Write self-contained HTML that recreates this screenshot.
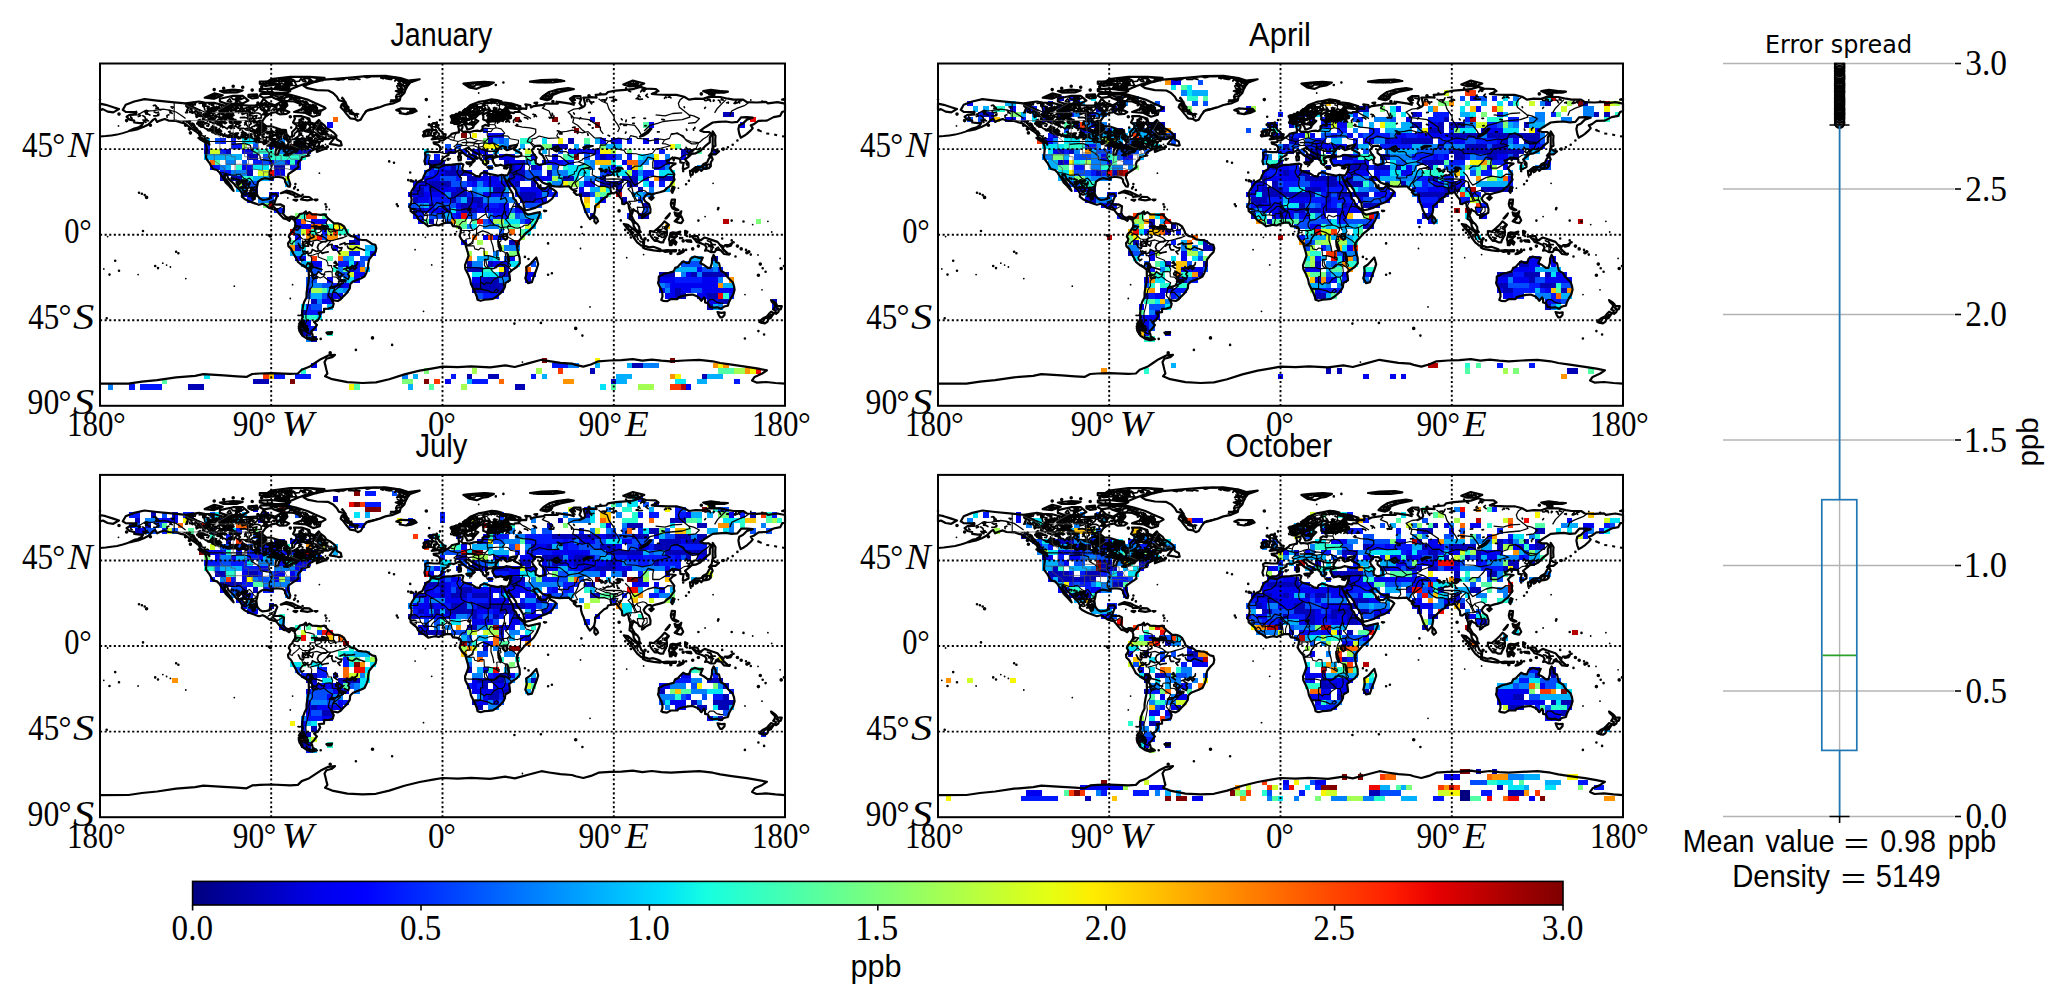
<!DOCTYPE html>
<html lang="en"><head><meta charset="utf-8"><title>Error spread maps</title>
<style>
html,body{margin:0;padding:0;background:#fff}
svg{display:block}
.se{font-family:"Liberation Serif","DejaVu Serif",serif;fill:#000}
.it{font-style:italic}
.sa{font-family:"Liberation Sans","DejaVu Sans",sans-serif;fill:#000}
.dv{font-family:"DejaVu Sans","Liberation Sans",sans-serif;fill:#000}
.fr{fill:none;stroke:#000;stroke-width:2}
.gl{fill:none;stroke:#000;stroke-width:1.9;stroke-dasharray:2.1 2.5}
.co{fill:none;stroke:#000;stroke-width:2.2;stroke-linejoin:round;stroke-linecap:round}
.rv{fill:none;stroke:#000;stroke-width:1.3;stroke-linejoin:round}
.bo{fill:none;stroke:#000;stroke-width:1.1;stroke-linejoin:round}
.tx{fill:none;stroke:#000;stroke-width:1.7;stroke-linejoin:round;stroke-linecap:round}
.i1,.i2,.i3{fill:none;stroke:#000;stroke-linecap:round;stroke-width:1.8}.i2{stroke-width:2.6}.i3{stroke-width:3.6}
.al{fill:none;stroke:#000;stroke-width:2}
.st{fill:none;stroke:#555;stroke-width:0.7}
.bg{stroke:#b4b4b4;stroke-width:1.4;fill:none}
</style></head><body>
<svg width="2068" height="1008" viewBox="0 0 2068 1008">
<rect width="2068" height="1008" fill="#fff"/>
<g id="map-jan">
<g shape-rendering="crispEdges"><path fill="#0000b6" d="M723 112h11v5h-11zM488 138h5v6h-5zM568 138h6v6h-6zM654 138h5v6h-5zM552 144h16v5h-16zM204 149h6v5h-6zM226 149h5v5h-5zM295 149h16v5h-16zM445 149h6v5h-6zM681 149h5v5h-5zM713 149h5v5h-5zM247 154h11v6h-11zM483 154h5v6h-5zM600 154h6v6h-6zM429 160h16v5h-16zM504 160h5v5h-5zM520 160h5v5h-5zM274 165h11v5h-11zM429 165h5v5h-5zM451 165h5v5h-5zM509 165h6v5h-6zM531 165h5v5h-5zM247 170h6v6h-6zM445 170h22v6h-22zM483 170h5v6h-5zM509 170h16v6h-16zM547 170h5v6h-5zM220 176h6v5h-6zM231 176h11v5h-11zM467 176h10v5h-10zM509 176h6v5h-6zM520 176h5v5h-5zM563 176h11v5h-11zM622 176h16v5h-16zM659 176h16v5h-16zM429 181h22v6h-22zM515 181h5v6h-5zM531 181h5v6h-5zM600 181h22v6h-22zM627 181h11v6h-11zM413 187h11v5h-11zM429 187h11v5h-11zM456 187h11v5h-11zM493 187h11v5h-11zM638 187h5v5h-5zM242 192h11v5h-11zM418 192h6v5h-6zM451 192h16v5h-16zM520 192h16v5h-16zM579 192h11v5h-11zM413 197h5v6h-5zM451 197h5v6h-5zM467 197h16v6h-16zM520 197h16v6h-16zM622 197h5v6h-5zM461 203h11v5h-11zM477 203h6v5h-6zM515 203h5v5h-5zM643 203h6v5h-6zM413 208h11v5h-11zM461 208h16v5h-16zM590 213h5v6h-5zM638 213h11v6h-11zM429 219h5v5h-5zM349 240h11v5h-11zM509 240h6v5h-6zM295 245h6v6h-6zM713 256h5v5h-5zM467 261h5v6h-5zM488 261h5v6h-5zM349 267h5v5h-5zM467 267h16v5h-16zM504 267h5v5h-5zM499 272h10v5h-10zM659 272h16v5h-16zM691 272h6v5h-6zM702 272h27v5h-27zM483 277h16v6h-16zM338 283h5v5h-5zM472 283h32v5h-32zM472 288h32v5h-32zM675 288h6v5h-6zM327 293h6v6h-6zM675 293h11v6h-11zM707 293h11v6h-11zM311 299h6v5h-6zM718 299h11v5h-11zM772 299h5v5h-5zM707 304h6v6h-6zM301 310h5v5h-5zM301 331h10v5h-10zM311 336h6v6h-6zM632 363h11v5h-11zM590 368h5v6h-5zM467 374h5v5h-5zM488 374h11v5h-11zM702 374h5v5h-5zM253 379h16v5h-16zM611 379h5v5h-5zM188 384h16v6h-16zM515 384h10v6h-10z"/><path fill="#0000f1" d="M590 117h5v5h-5zM327 122h6v6h-6zM649 122h5v6h-5zM740 122h5v6h-5zM488 133h16v5h-16zM600 138h6v6h-6zM611 138h11v6h-11zM643 138h6v6h-6zM269 144h5v5h-5zM242 149h11v5h-11zM451 149h5v5h-5zM472 149h16v5h-16zM568 149h32v5h-32zM499 154h16v6h-16zM531 154h5v6h-5zM552 154h6v6h-6zM606 154h10v6h-10zM681 154h5v6h-5zM269 160h5v5h-5zM285 160h5v5h-5zM295 160h6v5h-6zM509 160h11v5h-11zM542 160h21v5h-21zM622 160h5v5h-5zM654 160h16v5h-16zM210 165h5v5h-5zM242 165h11v5h-11zM440 165h5v5h-5zM515 165h10v5h-10zM536 165h6v5h-6zM611 165h5v5h-5zM627 165h5v5h-5zM654 165h5v5h-5zM274 170h11v6h-11zM434 170h11v6h-11zM467 170h5v6h-5zM606 170h5v6h-5zM632 170h6v6h-6zM424 176h16v5h-16zM477 176h22v5h-22zM515 176h5v5h-5zM536 176h16v5h-16zM600 176h6v5h-6zM643 176h6v5h-6zM242 181h5v6h-5zM413 181h16v6h-16zM472 181h5v6h-5zM488 181h27v6h-27zM584 181h11v6h-11zM440 187h16v5h-16zM520 187h22v5h-22zM579 187h5v5h-5zM616 187h6v5h-6zM269 192h10v5h-10zM408 192h10v5h-10zM424 192h21v5h-21zM483 192h21v5h-21zM536 192h6v5h-6zM418 197h11v6h-11zM536 197h11v6h-11zM600 197h6v6h-6zM429 203h5v5h-5zM456 203h5v5h-5zM472 203h5v5h-5zM499 203h10v5h-10zM424 208h27v5h-27zM477 208h32v5h-32zM515 208h10v5h-10zM456 213h5v6h-5zM295 219h6v5h-6zM311 219h16v5h-16zM418 219h6v5h-6zM525 219h6v5h-6zM295 224h16v5h-16zM295 235h6v5h-6zM483 235h5v5h-5zM461 240h6v5h-6zM333 245h5v6h-5zM370 251h6v5h-6zM295 256h11v5h-11zM509 256h6v5h-6zM311 261h11v6h-11zM354 261h6v6h-6zM493 261h16v6h-16zM697 267h5v5h-5zM354 272h11v5h-11zM525 272h11v5h-11zM686 272h5v5h-5zM327 277h6v6h-6zM354 277h6v6h-6zM472 277h11v6h-11zM525 277h6v6h-6zM659 277h16v6h-16zM702 277h16v6h-16zM343 283h6v5h-6zM670 283h48v5h-48zM306 288h5v5h-5zM659 288h6v5h-6zM670 288h5v5h-5zM681 288h10v5h-10zM702 288h32v5h-32zM333 293h10v6h-10zM665 293h10v6h-10zM697 293h10v6h-10zM322 299h11v5h-11zM707 299h11v5h-11zM301 320h10v6h-10zM311 363h6v5h-6zM445 379h6v5h-6zM686 384h5v6h-5z"/><path fill="#0018ff" d="M483 128h5v5h-5zM220 138h6v6h-6zM231 138h5v6h-5zM627 138h5v6h-5zM204 144h6v5h-6zM231 144h11v5h-11zM279 144h6v5h-6zM220 149h6v5h-6zM461 149h6v5h-6zM659 149h6v5h-6zM686 149h5v5h-5zM434 154h6v6h-6zM467 154h10v6h-10zM488 154h5v6h-5zM595 154h5v6h-5zM627 154h5v6h-5zM253 160h10v5h-10zM424 160h5v5h-5zM563 160h11v5h-11zM215 165h5v5h-5zM290 165h11v5h-11zM445 165h6v5h-6zM659 165h6v5h-6zM220 170h11v6h-11zM429 170h5v6h-5zM643 170h11v6h-11zM456 176h5v5h-5zM467 181h5v6h-5zM483 181h5v6h-5zM649 181h5v6h-5zM659 181h6v6h-6zM253 187h5v5h-5zM424 187h5v5h-5zM542 187h10v5h-10zM253 192h5v5h-5zM467 192h5v5h-5zM515 192h5v5h-5zM547 192h11v5h-11zM247 197h6v6h-6zM429 197h22v6h-22zM483 203h16v5h-16zM274 208h11v5h-11zM456 208h5v5h-5zM413 213h11v6h-11zM451 213h5v6h-5zM493 213h16v6h-16zM627 213h5v6h-5zM488 219h5v5h-5zM322 229h5v6h-5zM354 235h6v5h-6zM493 235h11v5h-11zM349 251h11v5h-11zM338 261h11v6h-11zM354 267h6v5h-6zM718 267h5v5h-5zM675 277h27v6h-27zM333 283h5v5h-5zM483 293h16v6h-16zM729 293h5v6h-5zM306 304h5v6h-5zM772 304h5v6h-5zM306 310h16v5h-16zM306 326h11v5h-11zM552 363h16v5h-16zM274 374h11v5h-11zM295 374h16v5h-16zM451 374h5v5h-5zM531 374h5v5h-5zM472 379h16v5h-16zM734 379h6v5h-6zM129 384h6v6h-6zM140 384h22v6h-22z"/><path fill="#004cff" d="M215 138h5v6h-5zM499 138h5v6h-5zM253 144h5v5h-5zM445 144h6v5h-6zM456 144h5v5h-5zM558 149h5v5h-5zM263 154h6v6h-6zM424 154h5v6h-5zM584 154h6v6h-6zM616 154h6v6h-6zM242 160h5v5h-5zM263 160h6v5h-6zM525 160h6v5h-6zM456 165h5v5h-5zM488 165h5v5h-5zM552 165h6v5h-6zM424 170h5v6h-5zM525 170h17v6h-17zM600 170h6v6h-6zM269 176h5v5h-5zM440 176h16v5h-16zM499 176h5v5h-5zM525 176h11v5h-11zM247 181h11v6h-11zM451 181h16v6h-16zM515 187h5v5h-5zM472 192h5v5h-5zM504 192h5v5h-5zM590 192h5v5h-5zM269 197h5v6h-5zM456 197h5v6h-5zM638 197h5v6h-5zM408 203h10v5h-10zM434 203h22v5h-22zM525 203h17v5h-17zM509 208h6v5h-6zM584 208h6v5h-6zM643 208h6v5h-6zM429 213h16v6h-16zM467 213h10v6h-10zM515 213h5v6h-5zM445 219h6v5h-6zM483 219h5v5h-5zM520 219h5v5h-5zM499 229h5v6h-5zM322 235h5v5h-5zM360 256h10v5h-10zM504 256h5v5h-5zM360 261h5v6h-5zM531 261h5v6h-5zM681 261h21v6h-21zM306 267h16v5h-16zM702 267h11v5h-11zM311 272h6v5h-6zM338 272h11v5h-11zM306 277h11v6h-11zM306 283h5v5h-5zM322 283h11v5h-11zM665 283h5v5h-5zM691 288h11v5h-11zM306 293h5v6h-5zM322 293h5v6h-5zM477 293h6v6h-6zM311 304h11v6h-11zM301 326h5v5h-5z"/><path fill="#0080ff" d="M253 138h5v6h-5zM279 138h6v6h-6zM295 138h11v6h-11zM493 138h6v6h-6zM504 138h5v6h-5zM504 144h5v5h-5zM584 144h6v5h-6zM279 149h16v5h-16zM665 154h5v6h-5zM226 160h10v5h-10zM274 160h11v5h-11zM590 160h5v5h-5zM638 160h11v5h-11zM220 165h6v5h-6zM434 165h6v5h-6zM590 165h5v5h-5zM665 165h5v5h-5zM697 165h10v5h-10zM231 170h16v6h-16zM552 170h16v6h-16zM638 170h5v6h-5zM504 176h5v5h-5zM584 176h16v5h-16zM477 181h6v6h-6zM552 181h11v6h-11zM242 187h5v5h-5zM472 187h5v5h-5zM649 187h5v5h-5zM445 192h6v5h-6zM477 192h6v5h-6zM542 192h5v5h-5zM643 192h11v5h-11zM258 197h11v6h-11zM483 197h32v6h-32zM418 203h6v5h-6zM488 213h5v6h-5zM520 213h5v6h-5zM467 224h5v5h-5zM483 224h16v5h-16zM295 229h6v6h-6zM295 240h6v5h-6zM504 245h16v6h-16zM493 251h6v5h-6zM343 256h6v5h-6zM472 261h11v6h-11zM338 267h5v5h-5zM713 267h5v5h-5zM681 272h5v5h-5zM697 272h5v5h-5zM499 277h10v6h-10zM718 277h5v6h-5zM311 283h11v5h-11zM659 283h6v5h-6zM343 288h6v5h-6zM665 288h5v5h-5zM317 299h5v5h-5zM718 304h5v6h-5zM306 336h5v6h-5zM568 363h11v5h-11zM643 363h16v5h-16zM402 374h6v5h-6zM108 384h5v6h-5z"/><path fill="#00b0ff" d="M204 138h6v6h-6zM595 138h5v6h-5zM499 144h5v5h-5zM520 144h5v5h-5zM574 144h5v5h-5zM606 144h16v5h-16zM493 149h6v5h-6zM515 149h5v5h-5zM542 149h5v5h-5zM204 154h38v6h-38zM643 154h11v6h-11zM584 160h6v5h-6zM226 165h5v5h-5zM600 165h11v5h-11zM253 176h16v5h-16zM285 181h5v6h-5zM579 181h5v6h-5zM236 187h6v5h-6zM477 187h16v5h-16zM504 187h5v5h-5zM590 187h10v5h-10zM665 187h5v5h-5zM632 192h11v5h-11zM461 197h6v6h-6zM424 203h5v5h-5zM445 213h6v6h-6zM525 213h17v6h-17zM531 224h5v5h-5zM365 245h11v6h-11zM290 251h16v5h-16zM349 256h5v5h-5zM477 256h16v5h-16zM691 256h11v5h-11zM301 261h5v6h-5zM713 261h5v6h-5zM365 267h5v5h-5zM675 267h22v5h-22zM343 277h6v6h-6zM723 283h11v5h-11zM327 288h16v5h-16zM311 293h11v6h-11zM327 304h6v6h-6zM713 304h5v6h-5zM595 363h5v5h-5zM627 363h5v5h-5zM413 374h5v5h-5zM542 374h5v5h-5zM616 374h16v5h-16zM707 374h16v5h-16zM467 379h5v5h-5zM616 379h11v5h-11zM697 379h10v5h-10zM408 384h5v6h-5z"/><path fill="#00e4f8" d="M242 138h11v6h-11zM542 138h5v6h-5zM424 149h5v5h-5zM638 154h5v6h-5zM253 165h16v5h-16zM568 165h16v5h-16zM616 165h6v5h-6zM568 170h22v6h-22zM611 170h16v6h-16zM659 170h16v6h-16zM558 176h5v5h-5zM574 176h5v5h-5zM638 176h5v5h-5zM643 181h6v6h-6zM606 187h5v5h-5zM595 197h5v6h-5zM451 208h5v5h-5zM504 219h16v5h-16zM472 224h5v5h-5zM525 229h6v6h-6zM301 245h5v6h-5zM365 251h5v5h-5zM493 256h6v5h-6zM306 261h5v6h-5zM349 261h5v6h-5zM509 261h11v6h-11zM472 272h27v5h-27zM349 277h5v6h-5zM301 304h5v6h-5zM317 315h5v5h-5zM204 374h6v5h-6zM675 379h11v5h-11zM600 384h6v6h-6z"/><path fill="#29ffce" d="M520 138h11v6h-11zM253 149h21v5h-21zM269 154h37v6h-37zM568 154h6v6h-6zM290 160h5v5h-5zM531 160h5v5h-5zM611 160h5v5h-5zM236 165h6v5h-6zM563 165h5v5h-5zM638 165h5v5h-5zM242 176h11v5h-11zM547 181h5v6h-5zM301 213h5v6h-5zM531 219h5v5h-5zM322 224h11v5h-11zM311 229h6v6h-6zM338 229h11v6h-11zM333 267h5v5h-5zM483 267h10v5h-10zM723 293h6v6h-6zM301 315h16v5h-16zM327 331h6v5h-6zM301 368h5v6h-5z"/><path fill="#53ffa4" d="M643 122h6v6h-6zM584 138h6v6h-6zM675 144h6v5h-6zM697 149h5v5h-5zM525 154h6v6h-6zM563 154h5v6h-5zM215 160h5v5h-5zM584 165h6v5h-6zM600 192h11v5h-11zM322 213h5v6h-5zM509 213h6v6h-6zM424 219h5v5h-5zM472 219h5v5h-5zM461 224h6v5h-6zM499 224h21v5h-21zM520 229h5v6h-5zM290 240h5v5h-5zM327 256h6v5h-6zM343 267h6v5h-6zM322 288h5v5h-5zM718 368h16v6h-16zM162 379h5v5h-5zM354 384h6v6h-6zM429 384h5v6h-5zM611 384h5v6h-5z"/><path fill="#7dff7a" d="M483 138h5v6h-5zM542 144h10v5h-10zM600 144h6v5h-6zM627 149h5v5h-5zM263 203h6v5h-6zM295 213h6v6h-6zM456 219h11v5h-11zM756 219h5v5h-5zM509 251h11v5h-11zM424 368h5v6h-5zM402 379h11v5h-11z"/><path fill="#800000" d="M515 117h5v5h-5zM552 117h6v5h-6zM595 122h5v6h-5zM574 128h5v5h-5zM461 133h6v5h-6zM290 144h11v5h-11zM574 154h5v6h-5zM515 240h5v5h-5zM542 358h5v5h-5zM670 358h5v5h-5zM290 379h5v5h-5zM424 379h5v5h-5z"/><path fill="#a4ff53" d="M242 144h5v5h-5zM611 149h5v5h-5zM547 165h5v5h-5zM627 170h5v6h-5zM552 176h6v5h-6zM236 181h6v6h-6zM568 181h11v6h-11zM595 192h5v5h-5zM493 219h11v5h-11zM456 224h5v5h-5zM327 229h6v6h-6zM520 235h5v5h-5zM477 240h6v5h-6zM499 245h5v6h-5zM467 251h5v5h-5zM311 288h11v5h-11zM472 368h5v6h-5zM536 368h6v6h-6zM734 368h11v6h-11zM461 384h6v6h-6zM638 384h16v6h-16z"/><path fill="#b60000" d="M616 192h6v5h-6zM269 203h5v5h-5zM723 219h6v5h-6zM290 229h5v6h-5zM681 384h5v6h-5z"/><path fill="#ceff29" d="M210 149h10v5h-10zM525 149h6v5h-6zM483 160h5v5h-5zM258 170h11v6h-11zM285 176h5v5h-5zM670 181h5v6h-5zM600 187h6v5h-6zM525 224h6v5h-6zM301 229h5v6h-5zM349 245h11v6h-11zM338 251h11v5h-11zM483 251h5v5h-5zM349 272h5v5h-5z"/><path fill="#f10800" d="M750 117h6v5h-6zM269 170h5v6h-5zM461 213h6v6h-6zM477 219h6v5h-6zM317 235h5v5h-5zM718 293h5v6h-5zM756 368h5v6h-5z"/><path fill="#f8f500" d="M472 133h5v5h-5zM558 138h5v6h-5zM483 144h16v5h-16zM670 144h5v5h-5zM600 149h11v5h-11zM654 154h5v6h-5zM563 181h5v6h-5zM584 203h6v5h-6zM333 224h10v5h-10zM499 267h5v5h-5zM595 358h5v5h-5zM718 363h5v5h-5zM750 368h6v6h-6zM675 374h6v5h-6zM349 384h5v6h-5z"/><path fill="#ff3800" d="M306 213h11v6h-11zM306 229h5v6h-5zM333 229h5v6h-5zM488 235h5v5h-5zM311 256h6v5h-6zM558 368h5v6h-5zM263 374h6v5h-6zM434 379h6v5h-6zM670 384h11v6h-11z"/><path fill="#ff6800" d="M333 117h5v5h-5zM210 160h5v5h-5zM627 160h11v5h-11zM301 219h5v5h-5zM311 224h11v5h-11zM509 229h6v6h-6zM472 235h5v5h-5zM338 256h5v5h-5zM525 267h6v5h-6zM499 379h5v5h-5z"/><path fill="#ff9400" d="M654 176h5v5h-5zM451 219h5v5h-5zM306 235h11v5h-11zM327 235h11v5h-11zM290 245h5v6h-5zM467 256h5v5h-5zM360 267h5v5h-5zM729 277h5v6h-5zM718 283h5v5h-5zM713 363h5v5h-5zM723 363h6v5h-6zM745 368h5v6h-5zM670 374h5v5h-5zM563 379h11v5h-11z"/><path fill="#ffc400" d="M595 160h16v5h-16zM632 165h6v5h-6zM584 197h6v6h-6zM595 203h5v5h-5zM665 224h5v5h-5zM269 374h5v5h-5z"/></g>
<path class="co" d="M122.8 109.9l2.9-5.1 8.5-3.3 10.3-2.4 12.6 1.5 17.1 1.7 11.4 1.1 13.3-1.9 5.8 1 9.5.4 9.5 2.4 9.5.4 3.8-1.3 11.4 1.3 7.6-.4 4.8-1.9 2.8-4.7 3.8 3.8 3.8 1.5 3.9 1.3 4.7-2.8 6.7 0 .9 2.8-2.8 3.3-5.7.5-1.9 2.9-5.8.9-5.7 3.8-2.8 3.9-.4 2.2 4.2 3.5 4.7 0 5.8 1.9 3.8 1.3 5.1.6 .6 3.8 2.8 3.2 2.9-.4 0-4.7 3.8-3.8 .9-2.9-3.8-2.8 1.9-3.9-.9-2.4 7.6 0 7.6 2.4 1 3.9 4.7 1.3 3.8-3.8 1.9 2.5 3.8 2.8 1.9 2.9 3.8 1.9 3.8 2.8 2.5 2.9-2.5 1.1-5.7 2.3-9.5 0-3.8 1.7-5.7 3.4 3.8-1.9 7.1-.6-1.4 2.5 1 2.5 4.7.8 1.9.9-4.7 1.5-4.8 1.9 0-1.9 2.9-1.9-4.8 1-3.8 1.9-2.8 1.9-.6 1.9 1.5.6-3.8.9-3.8 1.1-.4 2.1-2.5 1.9-.9 2.9 .6 2.8-2.5 1.9-3.8 2.5-3.8 2.7-.6 3.4 1.5 3.8 1 2.9-.6 2.4-1.7-.2-2.9-4.7-.1-2.3-2.3-1.9-3.8-.6-3.8 0-2.9.6 .4 1.9-3.3-.6-4.7-.7-2.9.9-3.8 2.7-.5 3.4-1 3.8 .2 3.8 .9 2.9 2.3 2.8 2.9 1.5 3.8-.5 2.8-.6 1-3.2 .9-1.4 4.8-.5 1.3 1.9-1.7 3.8-.9 2.8-1 2.1 3.3.2 3.8-.2 3.2 1.7-.4 3.8-.4 3.8 2.3 2.9 2.9 1.3 2.8-1.3 2.9.4 1.3 1.9-2.3.5-1.9-1.5-1.9 2.9-2.8-1.7-2.9-.6-2.8-2.9-1.6-1.9-3.2-3.8-2.8-.7-3.9-1.2-3.8-2.8-2.8-1.4-3.8 1-4.8-1.7-4.7-1.7-4.8-2.5-2.8-2.3 .3-2.8-2.2-3.8-3.9-3.5-1.9-2.6-2.8-2.5-2.9-2.8-1.3-3.3-2.8-.9 .3 3.2 3.3 4.2 3.4 4.4 2.3 4.7-1-.9-3.2-3.8-3.8-3.8-1.9-3.8-2.9-3.9-1.3-2.2-2.5-2.5-4-1-2.3-3.8-1.3-2.4-2.5-3.3-.9-1.7 .2-3 .4-4.8 0-3.4-1.4-4 3.3.4 .9 1.7-.9-3.2-3.8-1.9-4.8-2.9-1-2.8-3.8-2.9-2.8-1.9-3.8-2.8-3.8-2.9-3.8-.9-4.8-1.6-7.6-.3-3.8-1.6-4.8 1.6-2.8 1.3-1.9-3.3-1.9 1-2.9 2.9-1.9 1.9-4.7 2.4-5.7 2.3-5.8 1.3-3.4.6 5.3-2.5 3.9-.9 3.8-2.3 1.3-2.3-3.2.2-5.8-.7 0-1.9-4.7-1-1.9-1.9-1-1 2.9-1.9 6.7-.9 0-1.9-3.9 0-6.6-.2zM303.6 85.9l9.5-3.4 11.4-2.8 22.9-1.9 19-1.6 19-.3 15.2 2.2 7.6 2.5 11.5-1.3-9.5 3.2-2.9 3.8-1.9 3.8-1 2.9-3.8 3.8-.9 3.8-6.7 2.8-7.6 1.6-5.7 2.2-7.6 2.3-5.7 1.5-2.9 3.8-2.8 4.8-2.9 1.1-2.8-1.7-4.8-.7-3.8-4.4-2.8-3.8-2.9-2.9 1-2.8 3.8-2.3-6.7-1.9-1.9-3.4-3.8-3.8-4.8-2.5-11.4-.4-9.5-1.9zM319.8 114.8l-6.7 1.9-7.6-3.8-11.4-.9 7.6-2.9 1.9-3.8-9.5-3.8-13.3-.9-7.6-2.9-2-2.8 17.2-.6 7.6 1.9 11.4 3.4 7.6 3.5 9.5 4.1 1 1-4.8 2.8zM324.5 77.8l-15.2-1-19 0-19.1 2.3-3.8 2.5 11.5 2.8-3.8 2.9 15.2 2.3 7.6-3.3 7.6-2.8 13.3-2.9zM219.9 98.7l13.3-2.9 9.5 0 5.7 4.8-5.7 2.8-15.2.6-7.6-2.5zM204.7 97.7l9.5-4.3 8.5 1.9-8.5 3.4zM259.8 89.2l11.4-.6 19.1 2.3-3.8 1.9-19.1-.2-7.6-1.5zM219.9 91.1l13.3-1.5 9.5.9-5.7 1.9-13.3.2zM259.8 81.6l11.4 0 5.8 2.8-11.5 1.5-5.7-2.1zM260.8 93.9l9.5 0 .9 2.9-7.6 1.1-3.8-2.1zM248.4 94.9l8.6-.6 .9 3.4-5.7.8-3.8-1.7zM277 110.1l5.7-1 6.6 2.9-2.8 1.9-6.7.4-2.8-1.4zM329.7 143.9l3.4-4.3 2.8-2.9 1 2.9 3.8 1.9 1 3.8-2.9.4-2.9-.8zM280.8 193.2l5.7-2.5 5.7 1.2 3.8 1.9 5.3 2.4-6.3.6-.9-1.5-4.8-1.9-3.8-1.2zM300.9 199.5l3.1-2.7 5.3.2 3.1 2.5-5 .9zM293.5 199.8l3.8 0-1.3 1zM314.6 199.7l2.9 0-1.5.7zM396.3 110.1l4.3-1.7 7.6.4 6.3 0 2.1 2.2-4.5 1.9-5.8 1.2-6.6-1 .9-1.7zM198.4 138l5.3 1.2 3.8 3.2-2.8-.4-3.9-2.1zM295.4 218.9l2.5-1.9 1.9-2.9 3.8-.9 2.3-1.9 .6 2.8 2.8-1.9 2.9 2.1 4.7.2 3.8.4 3.8-.6 1.9 2.3 1.9 2.1 2.9 2.3 2.8 2.4 3.8 0 2.9.8 3.4 2.3 2.3 4.3 1 2.9 1.9 1.5 1.9 1 3.8.7 3.2 2.5 4.4.6 3.8.2 2.8 1.7 2.9 2.1 3.2.7 1 3.6-.8 3.8-3.4 3.5-2.9 3.8-.9 3.8-.4 5.3-1.5 4.2-1.9 3.8-3.8 1.9-3.8 1.5-3.8 1.5-2.9 2.7-.4 4.4-2.8 4.2-3.4 3.4-2.9 3.2-2.9 1.7-3.8-.7-2.6-1 2.3 4.4-1 3.6-4.4 1.3-4.2.2-.1 3.4-5.2.4 1.4 3.4-2.3 4.2-3.8 1.9 2.8 2.9-2.8 3.8-2.9 2.8 1.2 2.7 .3 2.1 4.2 2.7-4.7 1.1-4.8-1.3-4.8-3.1-2.8-4.2-1-4.7 1.9-4.8 1.9-4.7-.5-3.8 .5-4.8 .6-3.8 1.3-3.8 2-3.8 .1-4.7 .8-4.8 1.1-5.7 .4-5.7-.2-6.7-2.2-1.9-3.9-2.3-4.7-3.8-1.9-3.8-2.5-4.3-2.3-4.8-2.8-2.8-.4-2.9 1.7-2.1 .6-2.1-1.5-2.4 1.3-2.9 2.1-1.9 .9-1.9 1.9-2.9 .4-3.8-.9-2.4zM326.4 332.6l5.7-.4-.9 1.7-3.8 0zM431.3 166.6l7.4 1.1 5.7-2.5 7.6-.5 9.5-1 1.9.8-1.3 4.5 1.3 1.9 3.8 1.2 4.4 1.1 4.2 2.7 3.8.7 1-2.8 3.8-1.7 5.7 2.1 7.6 1.5 3.8-1 2.5.6 .3 2.3 1.9 3.8 1.9 3.8 1.9 3.8 2.9 4.8 .6 4.7 2.3 1.9 1.9 4.8 2.8 1.9 3.8 3.8 .6 1.9 3.2 1.9 5.7-1.3 6.1-1.4-.4 2.9-2.8 6.4-2.9 4.8-3.8 3.8-4.7 3.8-3.8 4.4-2.9 3.2-1.9 3.8 .6 3.8 .9 4.8 1.4 3.8 .2 5.7-3.1 3.8-4.2 2.8-3.4 2.9 .6 3.8 .3 3.8-4.7 2.8-.4 3.8-1.5 2.9-2.9 3.4-3.8 3.3-3.8 2.4-4.7.6-3.8.2-3.8 1.1-3.1-1.1-.7-3.2-2-4.8-1.9-3.8-1.9-3.8-.9-4.8-1.9-4.7-2.9-5.7-.3-3.8 2.2-5.7 1.4-3.8-1-3.8-1.7-5.7-.6-2.3-3.8-4.4-1.9-3.4 1-3.3 .4-3.8-1.4-1.9-3.8-.7-2.8-.2-1.9-3.4-4.8 0-3.8 1.1-3.8 1.7-3.8-.7-6.7 1.5-3.8-3.1-3.8-1.9-2.8-2.8-1-2.5-2.8-2.3-3.3-2.6-.2-2.7-1.3-1.7 1.9-3 .6-4.2-.6-2.9-.9-1.9 1.5-3.8 2.4-3.8 2.7-3.8 1.9-1.9 3.8-1.9 1.5-3.8 2.3-4.4 3.3-1.7zM536.3 257.5l1.9 6.6-1.5 4.8-2.9 7.6-1.9 5.7-3.8.9-2.8-4.7 1.5-5.7-.6-5.7 3.8-2.5 3.8-4.2zM425.4 164.3l-1-3.2 1.4-4.4-.8-3.8 2.3-1.4 6.6.6 5.2 0 1.1-2.5 0-2.4-1.9-2.3-4.4-1.3-.3-1.2 5.7-.4 .2-1.7 3.4.2 2.6-1.9 2.7-1.5 2.3-1.7 1.1-1.5 4.2-1 3.1-.6 0-3.2-.8-2.8 4.4-1.4 0 2.7-1.4 2.5 1.9 1.9 2.3-.4 4.2.6 4.4-1.2 3.8-.4 2.5.6 2.3-1.7 0-3.2 2.8-1.4 3.4 1 0-2.1-1.5-1.7 4.8-.6 3.8 0 4.2-.8-3.3-1.1-4.7.2-5.7.9-3.1-1.3 .2-2.7-.6-1.9 6.3-3.2 1.5-1.1-2.4-1-3.8.6-1.4 2.3-4.3 2.1-3.3 3.2-.2 1.9 3.1 1.3-4.2 4.4-1.2 2.5-3.2 1.3-2.5.2-.7-2.1-1.5-2.3-1.6-2.4-.9-1-4.8 2.7-3.8-.4-1.9-3.2 0-3.9 3.8-1.9 5.3-1.5 3.3-2.3 2.5-2.8 3.2-2.9 3.8-1.5 4.8-1.9 5.7-.9 7.2-1.6 5.1.6 4.8 1.2-1.9 1.1 5.7.4 5.7.7 9.5 2.9 0 2.5-4.7 0-6.7-.6-3.8-.6 3.4 3.4 0 1.2 5.2.9 .9-1.1 4.8-.2-1-1.7 3.8-1.7 3.8.4 .4-2.5-1.3-1.9 5.1.6 .6 2.4 2.8-1.3 9.5-1.3 1.9-1.2 7.7 0 4.7 0 1-1.7 6.6 1 4.8.7 3.8 1.2-1.5-3.3-2.3-2.8 3.8-2.5 6.7 0 .5 3.4-1.5 3.8 3.2 3.8-3.2 1.4 4.8-2.3 .9-1.9-.9-3.8-1-2.9 3.8 0 3.8-.5 5.7.5-.9-2.8 10.4-.8 1.9-2.1 7.7-1.3 9.5-.8 7.6-.7 7.6-2.3 5.7 1.7 9.5.4 2.9 2.1-6.7 2.8 5.7.6 9.5.4 9.5 0 7.7 1.9 4.7 2.8 6.7-.9 7.6.2 5.7-2.1 11.4.2 7.6 1.7 5.7.9 9.5 0 3.8 2.5 9.6.4 9.5-.6 1.9 1.5 9.5-1.3 7.6 1.5 0 7.4-2.9 1-1.9 3.8-6.6 1.3-6.7 3.5-8.5.3-4.8 3.5-2.8.9 1.9 2.9-1.9 2.2-3.9 3.5-2.8 1.9-3.4 1.9-1.4-3.8-.9-4.8 .9-3.8 3.8-1.9 3.8-3.8 5.8-1.9-5.8-.6-5.7.2-3.8 4.6-5.7.6-5.7-1-7.6.4-5.7.6-7.6 4.7-4.8 3.4 3.8 1.4 4.8 0 2.5 1.9-1.6 3.8 0 4.7-4.7 3.8-4.8 4.8-4.7 2.3-3.8.5-2.5 2.3-3.2 2.5-1 .9 3.4 3.8 0 3.8-3.4 1.8-2.3 0 .4-3.7 .4-2.2-3.3-.6 0-2.9-1.3-.9-4.4-1-.9 2.9-1-3.2-3.8 2.8-2.4.4 1.5 2.5 3.8.1 3.8.6-2.9 1.5-2.8 2.9 1.9 2.8 2.5 3.3-.6 3.4 .9 1.9-2.8 3.8-1.9 2.9-2.9 1.9-2.8 2.8-4.4 1.3-4.2 1-2.8.9-1 1.9-.9-2.2-2.9-.2-2.5 2.1-1.9 2.8 1.5 2.9 3.9 2.8 1.5 4.8-.2 3.8-4.2 2.1-2.9 2.6-1.3.6 .4-2.8-2.9-.6-1.9-2.9-2.8-1.3-1.5-1.3-.4 2.6-1.4 3.8 1.4 2.9 1.9 3.2 2.8 2.5 1.7 2.8 .2 2.9 1.4 2.1-1.4.2-3.8-2.9-1.9-3.2-.4-2.9-1.5-2.8-2.3-1.5 .4-3.3 .4-3.8-1.3-3.8-.6-3.8-1.3-1.9-2.9 1.9-1.9-.4-.4-4.3-2.4-2.9-1.9-2.8-1-1.9-1.9.9-2.9.4-3.8.9-.9 2.5-2.9 1.3-3.8 3.5-2.8 2.8-2.5 1.9 0 3.8-.8 3.8-.9 1.6-1.9 2.2-1.5 1.7-1.9-2.6-1.9-3.8-1.4-2.9-1.1-3.8-1.7-3.8-1-3.8 0-3.8-1.5 0-2.9.2-2.8-2.7 2.5-1.3-3.5-.9-2.2-1.9-1.6-1.8-4.7.2-4.8.2-4.7-.4-3.3-.5-1.5-2.5-3.8.8-3.8-1.7-2.9-2.9-1.9-2.3-2.4 0-1.4 1.4 1 2.2 2.8 3.1 .4 2.3 1.5 1.7 1-2.7 .2 3.2 4.5.4 3.9-3.6 1.1 2.9 3.6 1.7 2.5 2.1-2.5 4-1.5 2.6-2.3 1.9-2.8 1.9-5.4 1.9-6.1 3.4-5.7 1.8-4.7 1.1-1.4-4-.5-3.2-2.9-4.8-3.4-4.4-1.3-4.1-2.5-3.5-3.3-4.1-1.3-1.9 .4-1.9-1.3 2.8-1.4-.4-1.9-3.2-.5-2.5 3.6-.2 1.5-2.8 1.1-3.3 .8-2.8 .4-1.5-3.3.2-3.8 1.1-3.8-1.3-2.8.9-2.9-.9-1.9-3.3-.5-1.9 1.5-1.7 3.8-1.1 4.7-.4 3.8-1.5 3.8.6 2.9 1.1 4.8.2 3.8-1-.4-2.4-3.4-1.9-3.8-1.9-.4-1.4 2.3-.9 1.3-2.3-3.2.4-4.2.9-.6 1.5 2.9.8-2 .8-3.2.9-2.3-1.7 1.7-1.3-3.8-1.2-2.4 1.2-1 1.5-1.9 2.3-1.7 2.4 .8 2.1 1.5 1-2.9.4-2.3.5-1.5-.5-2.8.2-1 1.1-1.3-.4-.2 2.1 1.1 1.9 1.4 1.2-1.9.5 0 1.7-1.6-.7-1.7-1.5-.2-2.1-1.9-1.4-1.5-1.9 .2-2.4-1.9-1.4-3.8-1.9-2.5-1.5-1.7-1.7-1.1-.8-2.5.6 0 1.9 2.3 1.5 1.1 2.3 3.4 1 3.9 2.1 .7 1.3-2.7-1-.9 1.9 .9 1.2-1.9 1.7-.5-.2 .5-1.7-.9-1.9-1.9-1.3-2.9-1.2-2.8-2.1-2.1-1.7-.8-1.3-2.3-.8-2.4 1.2-2.9 1.3-2.8-.6-2.5.8 0 2.1-2.3 1.1-2.8 1.5-1.6 1.9 1 1.4-1.7 2.2-2.5 1.6-4.8.3-1.9 1.2-1.5-1.3-1.7-1M100 103.6l5.7 1.2 7.6 2.4 5.7 1.9-1.9 1-3.8 2.3-5.7-.8-4.7-2.5-2.9 1zM431.7 139.4l4.1-.4 4.8-.8 4.4-.9 .7-2.9-2.6-.5-.8-1.9-2.7-1.9-.9-1.9-1.5-.8 1.5-2.3-2.9-.2 1-1.7-3.8 0-2.3 2.1 1.3 2.9 1.4 1.9 2.8.1 .6 2.1-2.9 1 .6 1.9-1.9.9 3.2.8-1.9.8zM423.5 136.5l7.2-1.1 .4-2.5 .9-1.9-1.9-1.3-3.4.2-3.2 1.7 .9 2.3-1.5 1.5zM463.4 83.5l9.5-1 11.5-.7 9.5.7-5.7 2.9-5.7.9-5.7 2.5-7.7-1.5zM540.5 98.7l2.8-2.9 5.8-3.8 7.6-2.3 11.4-1.5 5.7 1-13.3 2.8-7.6 2.9-1.9 3.8-3.8 1.5zM623.3 84.4l9.5-3.8 11.4 2.9-5.7 2.4-9.5.4zM530 81.6l11.4-1.4 15.3-.5 7.6 1.3-11.4 1.5-15.3 0zM703.2 91.1l7.6-1.2 9.5 1.2 7.6.5-3.8 1-11.4-.2-5.7.4zM708.9 94.3l5.7.4-1.9.7zM782.1 99.6l2.9-.9 0 1.3zM712.7 131.4l2.8 4.4-.3 4.7 .3 5.2-2.8 1.5 0-4.8 0-5.7zM708.9 155.7l2.8-3.2 .6-4.2 3.2 2.3 3.5.8-3.5 3-3.8-.2zM691.8 170l3.8-2.9 5.7-.3 1.9-2.5 3.8-1.9 1.9-3.8 2.5-2.5 1.3 3.4-1.9 2.9 0 3.8-1.9 1.9-2.9.6-2.8.2-1.9 2-1.9-1.9-3.8.4zM689.9 170.9l3.2 0-.4 3.8-2.3.6zM694.6 170.4l3.8-.8-.9 1.7-1.9 1zM672.7 186.7l1.9.8-2.2 5.3-1.2-1.9zM649.3 197.9l2.5-1.3 1.9 1-2.5 2.2zM671.8 199.5l3.2.2-.4 4.5-.9 3.4 4.7 2.3-1.9.4-3.8-1.7-1.3-2.1-.6-2.7zM674.6 221.3l2.9-3 3.8-2.1 1.9 4.2-1.9 2.8-2.9-.5zM674.6 212.4l2.3 1.3 2.5-.5 1.9-1.9-1 3.8-2.8 1.5-1.9-1zM665.5 218.5l4.4-5.1-1 2.2-2.4 2.7zM649.9 231.2l3.8.4 3.8-3 3.8-3.5 3.3-3.8 4.3 3.5-2.4 3.2 .5 4.4-.9 3.8-2.3 4.2-.6 1.9-2.8 0-2.9-1.4-2.8 0-2.9-3.4-1.9-3.4zM623.8 224l4.2.8 4.8 4.1 3.8 2.9 3.2 2.8 1.5 3.9 2.9 2.4-.4 4.8-2.5 0-4.1-3.4-3.5-4.8-3.4-5.7-3.2-3.4zM642.9 247.6l2.6-1.5 3.5 1.3 4.3-.6 3.6 1.2 3.5 1.3-.2 1.9-6.5-.8-5.7-.9-2.9-.8zM670.5 233.1l2.2-.7 3.8.5 3.8-1.3-.9 2.3-6.7-.2-1.3 2.7 2.3.2 3.4-.4-2.5 1.9-.5 1.9 2.4 2.3-.9 2.4-1.9-1.5-1-3.4-1.3.6 .2 4.7-1.7 0-.4-4-.6-1.7zM691.8 236.2l5.7 0 1.9 4.7 5.3-3.4 6.1 2.1 6.7 2.3 2.8 3.2 3.4 1.5-.9 2.3 3.2 2.9 3.2 2.8-5.1-.6-3.2-3.6-4.4-1.1-1.9 2.8-3.8 0-3.8-2-1.9.5 1.5-3-1.5-2.5-3.8-1.7-4.8-1.5-1.3-1.9-2.5-2.5zM725.1 245.1l3.8 0 3.4-2.3-1.5 2.9-3.8.9zM594.7 216l2.3 2.5 1.1 2.8-2.2 2.1-1.6-2.1zM677.5 254.2l2.8-2.4 3.9-1.2-1 1.5-3.8 1.9zM663.2 250.6l3.8-.4 3.8.2 5.4-.2-.6 1.2-5.7 0-4.8.4zM685.1 230.8l2.3 1-1.3 2.8 .9 1.6-1.5-1-.4-2.5zM686.1 240.4l4.7 0 .6 1.5-4.4-.6zM658.8 276.5l1-.4 4.4-2.3 4.7-1.1 4.8-1.3 1.5-3.5 2.5-.9 2.6-2.9 2.9-2.8 2.9 1.5 2.8.2 1.9-4.6 3.8-1.9 4.8 1.4 3.4-.4-1.5 3.2-1 2.5 3.8 1.9 3.8 2.8 2.5 0 1.5-4.7 .2-4.8 1.5-3.4 1.9 3.4 .4 3.4 3.1 1.4 .9 3.8 1 3.8 4.2 2.3 1.9 3.4 2.4 2.5 3.3 3.2 1.3 3.8 .6 3.8-1.4 4.8-2.4 3.8-1.9 3.8-1 3.4-3.8.9-3.2 2.3-3.4-1.5-3.9.4-3.8-.8-1.9-3.8-2.8-.6 0-3.2-1-1.9-2.8 3.4-1.9-2.4-1.9-1.9-4.8-1.9-4.7.3-5.8 1.2-3.8 1.3-.9 1.7-6.7 0-3.8 2.1-3.8-.4-1.9-.9 1.2-3.4-.2-3.8-1.4-3.9-1.5-2.8-1.3-2.9 .6-2.8zM717.6 312l3.7.8 3.4-.4-.2 2.5-2.3 2.5-1.9 0-1.5-2.3zM771.1 300.1l3.1 2.1 2.2 1.9 1 2.1 4.4 0-1 3-1.7.6-.8 2.4-2.2 1.6-1.2-.6 1-2.5-2.7-1.3 1.7-2.5 0-2.3-3.2-3zM771.1 311.7l2.9 1.5-2.3 3.2-1 1.5-2.3 1-1.1 3-2.3 1.4-2.8-.4-2.9-1 1.9-2.1 1.9-1.5 3.8-1.9 1.9-2.3zM458.1 156.7l2.9 0-.2 3.4-2.1.4zM458.9 153.1l1.7 0-.4 2.8-1-.4zM466.3 162.4l5.9-.4-1 2.9-4-1.2zM487.4 167.1l5.1.6-3.4.6zM504 168.1l4.1-1.1-1.3 1.7zM543.9 210.7l2.3.2-1.3.4zM534.4 102.9l2.9-.2-1 1.3zM100 383.7l28.5-.1 13.4-2 15.2-1.5 19-2.8 19-1.5 8.2-1.6 20.4 1.2 13.3.9 9.5.6 5.7-2.9 7.6-.5 11.4-.4 19.1.8 7.6-.4 3.8-3.8 7.6-2.9 5.7-3.8 5.7-3.8 7.6-3.8 6.7-.6-2.9 2.5-5.7 1.5-1.9 3.3 1 3.8 .9 3.8 1 3.8-2.3 2.8 7 2.9 15.3 3 15.2.8 13.3-.6 13.3-3.2 15.2-4.8 15.3-3.8 13.3-2.3 9.5-1.7 15.2.6 13.3-.8 19.1 1 15.2-2.1 9.5 1.7 13.3-3.6 13.3-3.6 7.7 1.3 11.4 1.7 11.4.8 3.8 1.3 7.6 1.7 7.6-2.1 7.6-3.2 11.4-.8 11.5-.3 11.4-1 9.5 1.5 9.5-1.1 9.5 1.1 9.5.6 13.4-.8 15.2-.7 13.3 1.5 7.6 1.7 11.4 1.7 15.2 2.1 11.5 1.9 8.5 1.7-4.7 3.1-7.6 3.4-2.5 3.6 4.4 2.1 9.5-.6 9.5 1 9.5.7M535.7 145.8l4.8-.1 2.8 2.8-3.8 1.5 0 2.9 3.3 2.8 1.9 3.8 .2 4.2-5.4 1.2-3.8-1.6 0-3.8 1-1.9-3.8-4.7-1-2.9zM553.8 147.6l3.8-1.4 1.9 2.9-2.8 2.4-2.9-1.5zM640 136.7l3.2-.9 4.8-2.9 3.4-4-1.5 0-3.8 3.4-3.8 2.5zM583.3 147.6l3.8-1.8 5.7.2-4.7.8-3.8 1.9zM503.4 234.1l3.8.2 0 4.2-1.9 1.3-2.3-2.3zM498.3 241.3l1.3 2.9 1.5 4.7-.6 1.9-1.9-4.7zM507.2 253.1l1.3 3.4 .6 4.8-1-1.9-.5-3.8zM267.4 145.7l5.8-2.3 4.7.4 3.4 2-4.3.4-4.8-.5zM275.4 154.8l2.5 0 1-3.8 1.9-3.4-2.9 0-2.3 3.4zM282.7 147.2l4.7 0 2.9 2.3-3.8 3-2.9-1.5 .4-2.5zM284 155.2l4.4.3 3.8-2.1-2.9.2-3.8 1.2zM290.8 152.3l5.2-.2 1.3-1.3-3.2.4zM254.1 132.3l2.9 0 1.9 5.4-1 .9-2.8-2.8zM208.5 109.1l5.7-1.9 3.8 1.4-2.9 2.4-4.7 0zM219.9 118.6l5.7-2.2 7.6-1.2-2.9 1.9-5.7 1.5zM230.3 123l4.8-1.1 5.7.2-5.7.5zM500.5 120.6l3.8-1 .6-1.5-3.4-.4-1.9.9zM508.1 118.6l2.9-.5 0-2.3-2.9 0zM468.2 209.9l2.5-1.1-.6 1.7zM309.3 264.1l1.9 1.5-.6-1.1z"/>
<path class="tx" d="M265.3 132.3l1.5-.5 1.8-.1-.4 2 1.9.3 .3 2.4m-79.6-28l1.9-.3 3.3 1.5-1.3 2.1 .5 1.9 .7 1.1m35.6 6.9l-1.5-2.5-2.2-.5-3.2.1 .4 2.6-3.3 2.1m77.3 19.3l1.8-2.2-2-1.8-1.9 1.1 0 2.3 1.1 2m-42.1-26.3l1-2.3-3.9.8-2.1-1.1-1.6.1-2.1-.2m53.5 28.7l2-2.6 2.1 1.4 3.6 1.5 2.8-2.2-3.1 2.3m-50.6-22.7l2.5 1 1.5 2-3 1.4-1-2.9-4.2-.3m51.9 8.3l2.5-1.7 .7 1.1-1.6.9-1.7 0 1.2-1.1m-118.7-22.6l-1.6-1.2-.2-1.8 4.2.1 .7-1.3 2-.8m117.2 39.6l-1.7-1.9 2.7-1.2 .2 2.2 3.5-1.6 .3-1.6m-13.7-13.9l-1.2 1.3 3.3 2.2 2.9-2-2.2-2.1 1.7-1.8m-82.5-5.4l3.9 1.5-.4-3.1 1.2-1.3 2.1.2 .4 2.4m26.3 2.3l-3.6.1 1.2 2.6 2.9.4-.1 2.8-2.8 2m39.8 15.5l3.2 2 1.6-.8-2.1-2.8-2.4-.7-1.9-.3m33.3-10.2l-2.4-1-1.5-2-2.3 1.2 2.5 1.2 2.8 1.1m-19.5 12.2l-2.2 1.6-3.2.2-3.8.8-.4-2.3 1.9-.9m3.6-15.7l-.2 3-1 2.3-.8 2.1 1.6 1.7 2 1.6m-79.7-13.2l.9-1.2 2.5 1-1.7 1-1.5-2.2-4.3.3m-11.9-6.5l-3.6-1.6-.2 1.6 2.7-.7 4.4-.9-.4-1.4m39.3 12.7l1.8-1.2-.3-1.1-1.3-1.8 2.6.2 2.8-.9m-65.3-7.9l2.9-.2-1.2-2.7 1.3-1-2.9-1-1.7.4m117.6 38.2l-3.9.9-2.6.2-4.1 1.1-1.6-.8-1.9-.8m7.7-10.6l-.4-1.8 2.2.6-3.1 1.5-1.5 1.1-3.3 2m-93.3-29.1l-3.7-1.2-1.9-1.7-4.6-.3-2.9-2-.5-1.2m110.2 33.7l2.9 2.1 2.4-1.8 2.3.2 1.5 1.7-2.4 1.2m-47.2-15.4l.4-1 1.8-.3 1.6.2-1.6 1.3-3.2-.7m9.3-11.5l1.5 2.8-1.8-2.6-2.9 1.4 .3 2.8-3.1.1m2.2-8.6l3.3-.4-1.3-2.4-2.1-.5 1.4-.9 1.9-.2m47.3 17.8l-.8 2.5-.4 1.1 3.3 1.3 2.8 1.1 1.7-.3m-21.7 9.2l3.2 1.4-1.1 2.5 3-.4 2.9.5 3.4-1.3m-84.9-26.5l-1-.9 2.3-.4 1.9-2.2-.6-1.7-.9-1.9m28 30.1l-1.5-1.9-1.2 1.1 2.3-.3-1.1-2 1.5.2m6.5-5.9l2.4-.6 3.7 1.4-3.5 1.1 .7 1.3 2.9-1.7m56.2 6.3l-1.4-3.1-1.7-1.4-.9-1.6 1.9.1 .3-1.7m6.9 9.6l-.3-1.4 1.8-2.9-3.9-.8-4.2.9 2 1.7m-28.2 12.2l-1.7 0 .5 1.3-4.5-.7-1-2.4 1.8-1.9m33.2-18l-4.6.1-1.9-.2-.1-1.3 1.2-1 2.2.4m-48-16.9l-1 1.8-.8 1.8-1.4.7-4.2-1.2 1.4-2m15.2.1l2.1-.6 3 .2-1.4-2.7-1.5.4 .3-2.5m38 24.1l.2-1.9-4 .6 1 3.1-1.5.8-2.1-1.6m-13.6-.3l.6-2.7 4.2-.8 1.5-1.3 1.8 1.1 3.6.3m-82.2 3.3l4-1.1 2.2-.4 3 2.3 2.5-.1-1.4 1.9m-17-12.6l-.2 1.1-2.1 1.4 0 1.4 3.7.8 2.1.3m105 12.2l-1.6 1.1 1 1.6 2.1-1.5-4.4.6-.6-1.9m-2.4-.7l-3.8-.2 1.9-2.1 2.3-.9 2 .4-1.8 1m-123.5-29l.2 1.1 .1 1.9 2.1-.5 4.1.9-2 1.4m-13.9-2.7l-3.9-1.3 2.3-.4 3.5 1.2 .7-2.4-1.6.2m55 23.4l-1.1 2.7 2.8 2 3.2-.9 2.4.6 2.2 2.2m39.6 5.3l-.2 2.3-3.4 2.1 3.4 2.1-.3 1.2-2.9-.8m-10-.7l-1.1 2.1 2.3-.2-2.7-.5-3.4-.8 3.7 1.8m-11.2-41.7l-2 1.5-3.9-.7 .3 1.3 1.9 2-1.7 1.5m-44.6 10.5l-1.5-.4-1.6-2.3 2-1 3.2 1.7 1.6.5m102.6 15.4l-2.8-.4-.8 3.1-1.5 1.1-.6-1.9-2.8.1m-2.2-9.2l1.4 2 3.9 1.4-2.3 1.8-3 .6-.7-1.6m-54.3-26.8l3.2-1.6-2-.7 1.7.3-2.5 2.3-1.9-.7m-17 20.2l1.7-1.1-.8-2.9 3.2.6 1.1-.9-1.4-.9m30.8 15.5l-2.9-.3-2.4 1.1-1.6.3-2.1 1.5-3.7-.9m36-9.1l.9-1.1 2.4 1.2-2.2 1.3-1.2.8-.4 1.2m-41.6.5l-1.4 2.7 3.7-.7-.2-1.4-2.5 1.2 3.9 1.5m-55-23.2l-1.9 1.3 .7 1.3 2.1-.8-.7-1.3-1.5-2.9m53.1 25.2l.9 1.3 2.6-1.8-1.6-.8-1.6.7-2.6 1.7m-19.9-28l-3.3 1.9-2.3-2.8-2.5-.8-1.6 1.2 3.3.3m6.5 5.4l.8-2.6 3.3 1.7-.5 2.4 3-.9 1.1-1.6m-39.8 8.3l-4.1-1.1 .9-1.4-.4-1.1 2.5.6-1.3 1.6m13.8 2.9l-2.6-1.6-1.3-1-1.1 1.4-1.6-.6-4.2.4m95.7 10.2l3.1 1.2 2.6.4 2.6-.9-2.6-1.8 1.4-2.9m-117.3-14.2l4.3-1 .6 1.5 2.2 1.5 4 .5-.1 1.7m89 33.2l-2.2-1.9-.9 1.4 1.5.4 3.6-.9 2.7-2.4m-12.3-43.7l-1 2.4 2.8.5-1.3-1 .8 1.3-1.6-.1m-45.7 4.7l1.5-.7-2.6-2.4-1 1.1-1.8-.4 2.8-2.1m69.4 13.4l2.1.8-1.2 1 .9 1.4-1 1.8-1.4-1.3m-80-7.7l.3-3.1 .1-2.9-.8-1-.3-2-2.5-.5m-6.8 2.4l-.8-1.3 2.1.3 2.7-2.5 1 2 1.1 2.6m13.8.4l-2.2.7-2.6-1.8-1.3-1-1.7-.2-1.9 2.2m76.6 10l-.6-1.9-1.7.5 .8 1-1.7 1.1 2.6 1.2m-61.4-14.3l.8-2.2-2.4.5 1 1.2 .9 2.7 1.1 1.1m11.2-3.4l2.4-.2 2.1-2.5 1.8.7 0 1.7 .1 1.4m-61.3-4.8l4.6-.5 2.2 1.2-2.5.8 .7 2.5 .6 2.4m70.8 20.6l2.9-.3 3.5.3 2.3.6-2.8 1.7-.6 1.6m-32.7-6.3l-3.4.8 1.3 1.2 3.9.5 2.4 1.4 .3-1.1m28.3-21l-4.3-.8-.1-2.5 1.6-2.4 4 1.6 .7 1m-35.2 9.5l.9-1.5-2.8-2.4-1.6-1.1-2.3 1-1.5-.9m28.9 27.8l2.2 1.8 3.6-1.4 2.2-.6 1.6-.8-1.2-1.6m35.5.6l.8-1.9 1.6.1 1.5-1.3 2.4.4 2.7.7m-83.3-30.1l-4 .8 1.9 2.4-3.6 1.3-.8 1-2.1-2.8m53.3 30.2l1.3 1.3 2.5-.5 1.4 2.8 2.1 0-.7-2.4m12.5-21.5l-1.4 2.8-.2 1.6-1.9.5-1.6.3-2 .2m-37.1 2.9l.4 1 3-.4 3.2-1.2-.1 1.3 1.8 2.1m-5.3-2.2l-3.4 1.1-1.5 1.6 2.3.9 2.5 1.4 1.9-.8m-13.3-1.2l.5 1.7 2.8-.1 2.3-.2 4.6-.4 2.7-2m-33.6-6.9l.8 1 4.3.2 1.7-.2 1.1.8-2.2 2.6m-18.9-8.3l-1.2 1-1.4-.6-3.4 2-.5 1.8 3.7.9m56 14.7l0-1.7 1.1-2.4-1.7.1-1.6.3-.8-2.7m5-25.6l3.7 1.9 2 1.3-2.8 1.5-1.6-.8 1.4-.5m13.8 35.2l-1.8 2.7-1.4-.6 3.7 1.4 1.5-.7 1.7-2.3m1.4 4.9l3-2 1.1 1.6-2.5-1-1.9.4-3-1.6m20.1-13l3.8 1.1 2.5-.1 4.2.7 2.5 1.8 4.1 1m-20.2-2.1l1.5 1.7 3.2 1.7 .9-1-3.3-1.7-1.8 2m-81.7-30.3l4 1.2 .9 1.1 2.7 2.1-2.2 2.2 2.2.4m-10.5-2.1l.2 1.3 3.8.3 .9 2.3 3.9-1.3 2.6-1m39.5 25.7l3.7.5 2.3 1.6 1 2 1.6.7 4 0m-78.5-24.6l-1-.9 4.5-.6-.7-2.1-1.2-1.4-2.8.4m62.3-8.7l.6 3-3.4-.5-1.5-.8-.5 1.6 .3 2.4m-20.5 14.8l-4.6-.3-.5-1.1 2-1.3-3.6-1.7-1.1.9m51 10.7l.2 1.3-1.4 1.3-2.3-1.4 1.3-1.3 3 1.5m-52.2-26.8l-1.8.6-1.2-.9-3.2.3-.6-2.9 2.2-1.2m80.7 27.8l1.4-1.5-1.8-.4 .3 1.1 3.4-.8 1.8 1.6m-88.8-27.2l-2.6 2.1-2 .3 1.8-2.6-.3 1.5 .2 1.4m-13.8 3.4l-1.7 0 .8-2.3 .6-1.6 3.5-.1 2.4-2.2m55.8 33.7l.3-1.9-1.2-.8-2.1 1.1 2.3 2.4 .8 1m49.7-15.1l-.6 1.4 2.5.7-.7 1.8 .2 1.1 .6 1.9m-8.8.7l-2.7 1.9-1.8-2.7-2 1.7-1.9 1.7-.8 1m-84.5-27.7l0 2.6-1.6.2-2.6 1.4-2.7 1.8-2.3-2.5m80.3 33.9l2.3-1.4 1.8.3 1.6.8 1.2-2.5 4 .6m22.6-14.4l-1.7 1.8-3.8 1.6 .5 1.8-2.2 1-4.3 1m-34.9-6l.4-2-3.9-.6 .6 2.4 4.2.2-.1-1.1m.2 5.8l-3.2.3 1.4 2.2-2 1.7-3.7 1.8-2.3-.6m10.7 1.7l2.7 1.1 0 2.1-.1-1.6 3.2.4 .9-2.3m-74.7-28.3l-3.4-.1-2.5-.3-.5-1.5-.9-1.8-1-.8m31.4-2.9l-.5-2.1-2.1-.1 1.9-1.4 3.9 1.6 1.7-.7m20.2 8.7l2.7.9 2.7-1.8-1.7-.7-.7 1 1.4 2.1m-19.6-3.7l2.6.6 2.6 1.1 2.2-.8 3.2.1 2.2.9m-.3 14.6l1.9-.4 2.7-1.4 1.6 2.9-1.6 2.6 4.1 1.4m-9.1-28.2l1.5 3 1.2 2.1 2.5.6 1.9 2-.3 3.1m-21.5 6.6l2.5 2.7 1.4 1.7 4 1.6 1.2 2 2-.2m53.7-5.4l-2.8-1.7-3.6 2.1 2.2 1.3-1.6 1.3-1.8 1.7m-55.6-18.1l-1.4-.4-1.4-2.7-2.3-1.9 1.8-1.7-2.3 2.8m30.5 22.2l2.8 1.8-1.4.8-2.3-1.5-2.7 1.4 .7 1.1m-82.7-21l1.9-.1-.8-2.2 1.2-1.9 1.3-.7-2.3-1.6m91.2 31.7l-2.3-2.4 .9-2.9-2.3-.6-4.5.1-4.5.2m27.7 7l-2.7.9 .3 1.6-2.5.5-2.2-2.7 1.4-2.1m-45-7l1.3 2.7-.7 1.5 3-1.6 .9 1.6 1.9-.5m2.4-24.7l-2.4.7-.5 1.9 2.1-.4-1.9-1.7 1.4-1.8m-46.2 7.6l-3.3.6-2.2-.6-2.2.3 .5 1.3 1.6-.9m115.2 18l-2.6-1.5-.8-2.1 1.1-.9 2.2-.2 .1 2.6m-28.6.6l-3.6.4-2.4-2.4 3.7 1.6 3.3-1.2 .1 1.2m-4.9 8.7l2.9 1.7-.6 1.9 1.5 1.5 1.5.5 4.5.2m-29.1-42.1l-.6-1.1-1.1 1.4 .7-1.6 3.5.8 2.1-.6m-45.7 21.1l0 1.9 1-1.7-2.7-1.2-1.7.7 2.6.4m35.4 7.3l1 .8 .9-2.6 3.3 1.3-.1-2.3 3 .2m16.1-25.1l-2.3-.2 2.4-.2 1 2.4 4.3-.7-2.2-.9m-42.7 18.2l-1.8.9-.6-2.2-2.8-2.1-4.4.3 1.4 1.9m-2.3-.3l.5-1.3 2.1-2.8 1.3.8 1.2 1.2 1.5 0m67.6 9.7l-2.5-1.3-1.4-1.5-1.1-2.4 2.9-.3 2.4-.7m-70.8 4.5l-.2-2.9-3.8 1.6-1.9 2.5-2.4-1.8-2.3-.7m48.3-22.6l-2.2.9-4.2-.5 1.3-1.2-3.1.4-2.6.7m59.3 19.3l-1.6-1.2-1.5.6-1.2 2.1 2.2 2.2-4.1 1.5m-19.4 16.5l0 1.4 2.9-1-.2-1.4-1.7-.3-.5-1.8m22.4-19.3l.9-1.3 3.2 1.9-1.9 1.3 1.1 3 1.6.3m-54.1-16.8l-3.1-1.4 .1-1.4 1.3-2.8-.1-1.3 1.6.6m38.5 36.2l-3.1-1.4-.8-1.2-2.8 1.2-.8 2.7 1.6-.2m-39.6-34.4l-2.1-.2-1.2 2.4-2.1 1.4-3.1-1.9-1.5-2.8m69.7 14.9l1 1.7 .8 2.2-.6 1.8-2.2-1.8 0-1.1m-32.9 12.5l-.4-1.6-1.4-2-2.9 2.5-1.3-2.1-4.2.1m25.9-14.4l-2.4.4-.1 3 3.5-.9 3.3 1.4 2.7-1.1m-28.2 10.9l-1.7-.1-1.8-1.3-.7 2.1-1.6 1.1-2.4-.8m44.1-5.9l-2.5-.1-.1-1.2 1.8-1.2 2 2.7 1.3.8m-107.9-7.2l3 1.8 4.1-1.1 1.9 1-1.9.5-3.1-1.4m-.7-1.9l2.1.3 3.1-2.3 .5-1.2-3.7-1.4-.7-1.3m18-1.2l-3.2 1.2-1.7-.2-1.4-.6-2.6-.1-3.4 0m1.6 13.6l-1.2-2.2-1 1 2-.4-1.1-1.8-1.7-2m55.5 11.8l-3.4 1.1 .2 2.7-2.9 1.9 2.9.6 1 2.1m10.4-29.9l-.6 1.5-2.5-2.5 1.3-.8 3.5.3-2.3-2.5m-82.8 6l1.4-1.7-1.5-.6-2.8-.4 .3 3.1 1.3 1.3m15.9-3l-4.7 0-1-2.1 3.8-1.1-1-1.5-4.1-.1m49.9-1.6l-4.2.2-4 1 1 .9-4 1.5 .4-3m-40.1 6.9l2.4 1.9-2.3.9 2.6 1.9 3-2.5 .8 1.5m74.9 24.9l-.2 1.3-2 1.6 2.4.7 2.3-.4 1 1.5m-30.4-17.4l-1.6-.2-2.9 1.3-2.4 1.6 .2 3.2 3.7-.3m-13.7-1.2l-.9-1.2-.7.9-1.4-1.6 1.3-1.2 3.1 1.9m-12.8-14.7l-4-1.5 3.5-1.2-1.3-1.9-3.4-2.2 1.1-2.3m67.9 22.1l-2.1 1.6-.7 2.5-3 1.3-1.6 1.1-.7 1.5m33.3-12.6l-.3 2.1-1.9.3 1.7 1.9 2 1.7 2-.8m-115.6-22.1l-3.9 1 2.2 2.5-2.7.2-.1 2.8-2-.1m34.5-5.5l-1.8-.1-4-1.6-2.8.6-3.9.6-.4 1.4m37.9 26.5l-.2-1.9 1.9.7 1.7.3-.1 2.6-1.8-.2m16.1-31.6l2.3-2.2 .4-1.9 2.5 1.1 .4-2.5-3.7.4m-42.1 14.4l3.8-.4 3 .7 4.1 1.1 1.1-.8 1.2-1.9m.5-7.1l-3.4-1.8-1.9-1.7 1.5 1.7-3.7.2-3.7 1m58 35.6l3.6 1.3-1.1 1 1.6-2.4 .8-1-.9-1.9m-82.4-32.9l-2.6.7 0-1.7-4 .1 .1 1.6-1.6.4m51 22.4l-3.2-.6-2.6-2.1 2.5-2.5 .6-1.1-2.4-.5m-34.9-13.7l-3.8-1-2.9 0 1 1.9 1.6-.5 3.4-.4m-33.5-3.2l1.3-1.1-3-.9-1.9 1.7 .4 2.5-1.5 1m124.8 31.6l-1.2-3 .3-2.5 4-1.2 .7-1.3 2.8 1.7m-127.8-27.2l2.6-1.5 3.3.3-.4 3-3.1 1.9-2.8-2m91.6 28l-.2-2.1-2.6-.9-1.8.4 .3 1.3 4.2-1.4m16.7-10.6l3 1-1.2 1-2.5 2.6 2.8 2.4 1.6.2m-67.2-4.9l-1.8-.7-1.8 1.2-1.3-2.1 3.1-.5 .3-2.3m49.3 19.8l-2.7-.3-1.7.8-2.8-2.4 .2-2.9-3 0m-13-14.8l1.7-.8 2.2.6-4.3 1-3.8.7-3.1 1.4m-33.3-13.2l1.7 0 2.7 1.2 .4 2.9-3.3-.3-.8-2.3m16.5-4.5l.1 1.1 2.5-.8 1.9 0 1.6 2.4 1.9.5m12.9 12l3.6-1.1 1.2-1.2 0-2.9-1.7-.4-2.2 1.1m-49.2-18.2l1.1 1.1 4-1.4-2.1 2.4 2.2.8 .1-2.2m8.4 5.5l2.9-.3 1.6 1.8 2.6-1.7-.3-1.9-3.9-.6m84.4 23.6l1.4-2.7 3-1.1-1.6-2.5 3 .4-1.3.9m-6.5 4.4l-2.3.8-1.9-1.3-2.6 1.6-1.7-.2-1.4-2.4m-46.5-10.2l-3.5.6 .7-2.8 2.4.1-1.1-1.7 3-2.1m24.1-5.4l-3.5-1.9-1.8-.7-1.5-.4-1.1 1.4-1.7.5m16.9 42.9l-3.1-.3-2.1-1.3-3.8.2 3.3-.3m16.8 3l3.6-1.1-1-1-2.4-1.2 2-.9m-63.3-12.2l.1 2.1 3.2.5 3 1.8 3.1-.5m68.7 8.4l-2.2.1 .7-1.4 3.1-1.8-1.8-.5m-111.2-17.8l-3.8-.7 2.7-1.4 .4-1.7-1.6-.4m116.9 26.6l2.4-.4-.4 1.7 3.5-.8-2.9-1.5m-38.8.8l2.5.4 3.5-.1-1.5 2.3-1.6-.8m-82.7-22.5l2.5-.3 .5 1.6 1.6-1.1-1.6-.2m-5.3-2.7l.8 1.3 2.1.2-1 1.1-.7-1.4m-.1-2.7l4-.4-3 1.5-.8-.8 1.8-1.6m91.6 28.9l-2.6-1.3-1.9.5 .7-2.6-.4-1.1m30.2-2.2l-2.6 1 .5 1.1-2.8-.2-1.3-1.5m-113.1-18.7l.4 1.1 1.4.9 .9.9 1.4-1.7m105.7 22.3l.5-2.4 3 .3-1.5-2.2 1.6.2m-101.4-15l-2 1.2 3.1.8 2.3-2.1-2.4-1.5m100.8 18.2l2.7 1.3-.3 1.5-1.6 1.1-1.4-1.6m-102.4-23.2l-1.9-.9-3.6-1.2-1.8 2.4 1.6-.1m94.2 20.7l2.4.4 2.2-1-.1-1.1-2.1.6m6 5.9l-.4-2-1.3-.9 1.1-.8-2.4-.3m-105.9-22.6l1.5-1.6 1.6.9 1.8-.8 1.9-.1m42.4 17.4l1.9-2.2 1.4.1 1.5.5 2.8 1.2m-28-2.1l-1-1-1.6.8-.7-1.4-2.4-.7m46.5 9l-2.8 1-1.6-2.2 3 .1-.3-1.1m-38.8-5.6l1.2 1.6 1.5-1.8 3.6.4-.4-2.7m5.9 4.7l-1.4-.2-1.2-.9-1.1.6-3.3-.1m82.2 11.9l-2.9-1.6-3.7 0 .9 1.3 1.7-1.3m-107.2-26.1l.2 1.5-2.9 1.9 1.8 1.2 2.9 1.5m15.3 1.1l-.9.9 1.2 1.9 1 2.1 1.4 0m77.8 9.9l0 1.4-1.5 2.5 1.9.3 1.6-1.2m-52.6-9l-3.2-.4-1.7-.5-1.2-.5-1.7.4m32.2 8.2l3.2-.6 1.1.7-1.8.3-.6.8m-10.8-5.2l-1.7-.8 2.2 1.5 2.1-.1 1.4.2m-53.1-12.8l-1.9.3-.1 2.5-2.9-.5 .1-2.3m18.8 8.7l-1.8-.1-1.2-2.2-3.2.4 1.4-2m73.6 14.1l2.7.1 1.3 2.1-2-2.4-1.9 1.6m-98.4-29.6l-1.5 1.4-.3 1.5-.2 1.1-.9.9m36.4 11.7l1.2.8-1-1.4 1.2-1.1-1.8-.9m11.8 6.3l1.6-.9-1.9-1-3.8-.3-1 1.3m15.9 1.3l3.7.3 .5 1.6-1.3.7-1.4-.1m43.9 1.1l.4 2.4-2.4.6-3.6-.2 .8 1.4m-8.6-.9l-2.5 1.1-3.2.6 1.8-2-1.4-.9m-29.6-7l1.9-.1 1.5 1.1 1.9-.3 2.5-.7m23.5 7.6l-3.5 1.2 1.9 1.4 2.2-2.2-2.7-.3m-67.8-15.8l0 2.1-2.4-.8 .8-.8 3.3-.4m78.8 12.6l1.5.9 3.1.7 2.4-1.5 1-.8m-65.6-7.9l1.2-1.6-2.6 0 1 1.7-2.4 1.2m-29.5-7.7l1.9 1 1.3 1.3 2.4.2 .5-2.5m37.6 8.7l-1.6-1.9-3.9 0 2.8-.7 3.2 1.4m52.7 14.3l-1-1.7 .8-2.6 2.2-1.2-2.6-1.2m-42.5-3.2l-3.4-.5-.7-1.6 1.9.5 1.6 2.3m-41.6-12.2l.5 1 1.8-.2 .7.9-1.7 2m100.1 15.7l-2-1.9-3.6-1.3 1.2-.6 .8.8m-95.1-13.8l2.4 0-1.3-1.5-3.8 1.1-.4 1.2m23.9 6.1l1.3-2.5 .2-1.2 2.4-.1-.7 2.2m-13.1-5.4l-1.5.5 2.4 1.7-2.4 1.7-3.8.6m-18-9.8l1.5.3 .7-1.7-1.3-1-3.1.3m86.7 20.2l-.5 2.6-2.2 2.3-3.2 0 1.6-2.6m-74.4-15.9l1.1-2.4 1.9 1.3-3.2 1.3 .9.8m90.4 15.7l.8-1.5 3.7.9 3.2 1-3 0m-14.1-4l-1.4 2.5 1.7.1 2.2-1.3 1.7-.3m-37.7-2.2l-2.8-1.3-1.8-.3-.2 1.7 3.8-1.1m-46-9.1l2.2 1.2 0 1-2-1.4-2-.6m10.5 2.2l-1.9-1.8-3.8-.3 1.5 2 1.3.1m44.2 5.9l2.6 1.3-2.9 1.5 1.5.4 1.6-.9m-50-15.3l-3.6-.8-.4-1.2 .6 1.2 .9 1.9m44.6 9.8l-1.9.2-2.3 2 1.8 0-.5 1m-19.6-7.2l.1 1.3-1.6 1 2.7 1.3 1.2.9m-22.6-8.1l2.1-.6 .7 2.2 2.6.8-.9 2.1m-13.7-6.5l1.5 1 2 0 2.9.9 1.3.9m87.3 15.7l3-.1 1.1-1.4-.7-1.5-2.1-.5m-11.4-61.8l-3.8-2.1-2 .5-4-.7 1.4-.8 4.8-.3m-38.6 16.8l.6 1.8 3-1.4 2.7 0-2.5.3 2.9.5m11.4-7.2l-.4 2 4.6.2 .1-2.2 0 1.6 1.3 1.4m24.1 8.2l-2.7-1.3-1.8-2.3-.6-1.2-3.8-.7 .1 1.9m25.2 9l-1.9 1.5-1.1-1.8-3.3-1.4-1.9-.7 .5-1.9m6.8 8.7l1.6 3.1 4.2-1-.3-1.9-3.3-.5 .6 1.3m-36-26.1l2.2 1.5 1.8-.8 3.7 1.5 2.3-.7-.4 1.4m-32.7 7.3l-2.9-.3 1.4 1.1-.6-1.5 .3 3.2-.2-1.6m-18.8-6.1l4 0-2.3.1 3.5.6m63.4 14.4l4.2 1.5 1.2 1.5-.9 2.9 1.5 1.9-1.8.7m-70.8-23.2l-.2 1.4 1.5-1.3-3.2 0-4.7.1-2 1m69.2 11.3l2.1-2.5 3.2 1.2 1.8-.7 1.4 1-.6 1.3m-65.6-6.2l-3.8 1.3-.8-1.6 2.8.5-1.7 2.6 3.8 2.4m54.5-3.3l1.7 1.5-3.2-.4 0-2.2-3.1.4-2.4 1.9m19.9 11.4l3.2-1.6-1.9-2 2.4-.9 .5-3 .1 1.3m-11.1 4.8l1.3-1.8 3 .5 3 .6-1.2 2.3-1.3-1.5m-24.2-27.3l-2.4.8-.6-1.2-.3-3.3 3-.8-1.8 0m35.4 32l-1.7-.4-1.4-1.1-1-1 2-1 .7 1.3m-5.9 2.5l1.2-2.5-1.6-1.4-1.5-1.3-.9-1.8-1.9-1.4m-65.8-12.2l3.4.6m47.1-4.3l-3.2 1.2-.7-3-2.4 1.6 1.6 1.4 4.1-.5m22.6 17.3l.3 1.9-2 2.8 4.1 1.6 2.3-.4 1 2.5m-85.7-11.1l-2.8-.4 .6-1.1 1.8-1.7 1.6 3-.3 1.2m43.4-7.3l3.7 1.2 4.5.8-.7 2.4-1.9-2.2-3.9.6m.4-18.7l1.8 1.5 1.6-1.7 2.1 1.3 4.9-.5 2.8-2m-3.1 2.5l2.4 1.7 .2 3.5 2.6-1.4-1.4-2.5 4.4-1.7m-53.6 15.7l-3.5-.1 .7 2-1.9-.5 2.1-1.7 1.4 1.1m36.5-15.3l.9-1.1-3.7-1.2-2.7-.1-1.8 2.4-3.4.9m26-4.6l-3.1 1.7-2.8 2.1 1.7.4 1.9 3-4.4.2m4 9.3l-3.7-.2 1.4 2.9 1.9-1.2-2.2.5-3.5 1.8m33.8 15.6l-.5-3.4 4.6-.6-2.1 1.4-1.6-1 .1-2.9m-14.3-1l1.4-1.5 1.7 3.1 2-.3 .8-3-1.9-2.9m-2.4-22.2l-3.8-1-1.5 2.4-2.5.3-2.1.5 1.8 3.1m1.5.6l-1.3 1.1-1.8-1.3-4.8-.2-2.9-1 2.4-1.2m.7 1.9l-1.1 1.3-2.3 1.1-3.9-1.2 .2-1.9 4-1.7m-6 14l-2.3 3 3.5-1.8 2.1 1.7 .9-2.3 3.3-2.3m4.7-15.2l-3.5.4-2.3-1.6-1.2 3.3 1.8 3.1-.1 3.6m14.8 12.1l-3 2.2-3.6-1.7 3.8-2.4-4.7-.6 .7 2.6m-83.2-5.6l2.4-.2-.5 1.5-3.6 1.8 .5-1.3 3.6 0m-5.4-.6l4.4.7-3.5 1.1 2.6.1 .2-1.2 1.9-3m15.3 2.9l2 2.4 3.9-.3 4.2.5 2-1-2.8.2m70.5-19.5l-4-.8-2.6 0 2 3.2-2.8-.3-1.4-1.3m10.7 24.5l2.8.7-1 1.5-3.8 0-2.7-.4-4.4-.4m7.6 7.7l-3.6.2-.9-1.1 .9-1.3 3.2 1 2-3m-1.1-2.2l1.3 1.2 3.6-1.8-1.9-.7-3.1 2-4.1-.1m-46.1-23.9l3.7-.2-1.7-.8-.4 1.5 3.2.2 .4 1.2m21.9 1.3l.1-2.6-2.1-.6-2.2-2.8-4.9.9-.4-1.7m-6.7-.5l.1 2.6-1.2-2 .1 2.9-1.5 2 1.4-2.9m37.2-.2l2.2-3.2 2.2 2.5-4.4.7 1.3-2.5 3.2 1.3m-69.1 17.1l-3.6 1.6-4.9-.6 .7 1.9 1.4 1.1-1.9.3m43.5-21.8l-2.3-.3-1.1 1.5-2.1-.9-1.2 2.2-3.2 2.1m46.2 20.1l.9 2.8 .3 2.5-2.3.5-3.8-1-1.7-.3m-18.6-11.4l2 1 2.5-1.8 2.6-.1 1.7 1.4 .1 3.1m-30.8-18.4l-2.5.4 5.1-.5 .4-2.1-2.7 0-2.7.3m14.5 8.2l-1.1-3.3 2.4-.1-4.3.3 3.5-1.1-.2-1.5m6.5.4l2-2.4 2.2-.3 1 2-2.9.6-3.2 1.2m30.5-3.7l-.1-2.5 4.8-.1 1.5 1.1 .8-2.3-3.1-.2m-19.7 25.2l3.5 2.6 .6 3.1 4.1 1.9-1.5.7-3.7-1.7m-9.4-10.1l-2.3-3.1-4 .4-3.2-2-2.8 2.1-3 1.4m40.8 16.1l-3.1-2.4-2.7-1.3-.5-2.6 2.6-3.1-4.2-.3m-8.2 7.1l2.1-.2 5 .9 1.7-3.3 2.5 0-1.3 1.6m-102.3-16.2l1.8 1.9 1.1 1.8-3.4-.2 3.3-2.3 4.3-.2m233.9 22.3l.7-1.3 3.9-1.3 .7 1.7 1.9-1.7-2.2-.3m12.7-3l-3.7-1.5-.5 2.8-3.7.9 .5-1.8 .7 1.1m36.3 4.5l-.3-2.1 2.3-1.3-3.5-.8-3.6 1.1-3.1 0m-11.3-3.8l1.5-.6 .3-1.3 3.6-1-1.6-2.6 1.3-.5m18.4 5.8l2.7-.4 1.8 1.9 .4-1.2-3.4 1.2-1.1-.9m-9.1 3.5l-2.4 2 .2 1.8-3.3 0 .8-1.9 .3-2.8m-16.1 7.5l-1.3 1.5 1.6 0-.7-1.1-2.6-.5 .4 1.7m22.6-10.7l-1.5-.3-.5-1.6-2.8.6 .4-1.6-1.3-2.5m-10 5.9l-3.2-2.1-2 2.5 1.8 2.2-1.3.5-2.3 0m-18.4 2.1l4.2-.8-1.9-2.4 2.7.2-.9 2.5 3.4 1.1m48.8-14.5l1.5 0 3.2.3-2.3.6-4.2-1-2.9-.3m-4.9 9.2l-1.6 1.6 1.6 2.2 2-1-1.9-2.1-2.1-1.2m-39.4 6.5l1.2 2.3 3.3.5 1.8.8 2.6.5 .5 1.3m2-11.1l2.7 1 3.5 1.6-2-2.2 1.6-.6 .9 2m-24.4 5.4l.7-1 2.2 0 2 1.2 .6 1.7-3.8-.9m48.5-7.7l1.7 2.6 .4 1.4 4.2-.1-.7-1.7-2.5-1.7m-10.6-4.1l1.3-.5-1.5-2.6-1.4.7 .4 1.3-.9 1.3m17.9-5.9l0 2.9-2.6-.1 1-2.6 1.9.1 1.6 2.1m-17.1 6l2-.3 1.9-.4 1.3.9-2.2.8 2 2m-42.7 5.7l-1.2.7-1.5-1.9-1.3-.7 1.9 1.3 3.2 1.6m60.6-16.7l-1.3 2.2 0-2.7-3.3-.9-3.7 1.7 3.7.9m-45 1.7l.9 1.8-.4 1-1.3 2-1.7.4-1.6.2m-2.2 1l-1.8-1.7 4.1-1.1 2.1.9 .7 2.5 .6 2.7m-3.4-1.2l-1.8-2.7-.5-2.2-2.8 1.4-1.9 2.4-1.5.3m45.4.7l-4.2-.2-1.8-.9-1 1.3-2.9.2 1.1 1m-37-2.6l3.5 1.1-2.2 2.5-3.6 1-.7-1.2-.5-1.1m37.6-15.1l1.9-1.5 1.5 1.2 2-2.1 2.9.2-3.7-.5m-31.1 19.4l-.4-1.9-1.9.6 1 1.3-1.7.1 .5-1.8m25-5.7l1 .9-1.5 2.1 4.4-.1-.2-1.3-3.6-.5m-20.6 10.6l3.3-1.6 1.8 2.3 2.5-1.3 .6-.9 0-2.3m29.8-7.3l3 1.1-1.2.9-3.7-.8-2.5-.2 1.1 2.1m-33.1-4.5l.2 1.9 1.8 2.8 1.7.7 2.4.3-2.2-.1m14.7-4.6l2.4.2 3.3.8-.8 1.7 2.9 1.4 1.8.3m-29.7 3.4l2.2-1.6-2.8-.9-.6 1.9-.2 1.6 1.6-1.3m-1.5-10.1l.4 2.3 .1 1.1-.3 2.7 .5 1.1-4 .8m38.1-16.6l-1-.9 .2 2.9 1.6.4 1.6.5 1.8-.7m-30.2 5.3l-1 1.4-2.5 1.8-1.8-.5-3.1-1.1 1.7-1.1m37.2 9.6l3.6-1.3-.2-1.1-2.8-1.2-2.9-1.4-1.7-.7m-10-.1l-.7 1.7-.1 1.1-1 .8 4.1.3 1.7-.7m12.2-7.2l.4 1.5-.7-1-3.1 1.1-2.8.9 .9 1m-25.3-4.5l-2.2.3-1.8-2 .3-1.6 2.7-.8 .9 2.8m29 2.4l-1.1-.9-1.7 1.3-3.2 2-2.8-1.3 2.6-1.2m9.4-4l2.5-1.2 0 1.3-1.6 1.3-1.1.9-1.2-1.5m-12 9.2l.4 1.6 .9 1.9-1.8.4 3-2.1 2.8 2.1m-38.5 1.2l-2.2 1.2-2.6.5-2.2.5 1.5 1-.1-1.6m32.2-2.2l-.3-2.1 1.2-1 1.6.9-1.7 2.1 1.9-.5m-9.9-8.7l-1.3.8-4.3.4-3.1-1 2.4-2-2.1-1.1m4.5 5.6l1.8-.4 1.2-1.8-4.3-.1 .3 3 1.6 0m16.4 1.5l1.3-1.9 1.9-.2-.6-2.1-2.3.4-1.9.9m3.5-.5l2.9-.4 3.7-.8 1.1 1.2-1.1 2.6-3.4.2m.9-1.1l3.6-1.7 3.1-.2-1.2-2.1-4-.1-2.7-1.3m-36.1 3.4l-.9 1.3 .9 2.2 2.3-1.8 .9-.8-2.9-.4m45.7 2.1l1-1-3.5-.4-3.3.9 1.6 1.1 2.6.1m5.7-10.7l1.1 1.4 2 2.3-1.4.3-3.1-1.2-1.7-.5m-2.9 7.6l-1.6 1.3-2.2 2-1.8 1.1 .5-2-1.8-1.3m-3-1.5l-1.2-1.4-2.9-2.2 .8-1 1.9.4 .9-2m-42 12.5l-.5-1.6-.6-1.2 1.7-1.2 2.1.2 .3 2.4m26.1-15.7l-.4 2.5-3 1.1-2.9-.2-3.4.2-.7-2.7m-10.6 15l1-1.6-1.6 0 .9 1.3-3.7 0-.3-2.6m43.3-2.2l.6-1.3-4.2-.1-2.9.6-1-1.6 1.6-.9m-2.6 8.1l-1.5-1.8-1.9-.7-2.5.7-.7 2.2 2-.8m-23.4 3.1l1.3 2.7 2.2.3 1.5 0-1.1-2.2 2.9-.4m13-13l-2.9 1.1-.7-2.7-2.3.5-1.4 2.6 1.7.3m3.6-8.4l-.3 2.4-1.4 1.8-1 1.3-4 .1 0 2.5m22 3.1l-.6 1-2.5 2.4-2.7-.7 1.3-1.2-1.1-.8m13.1-8.9l-1.3 2.8-2.2 1.2 2.7 1 1.7-.4-.6 1.5m-6.3 7.6l.5-2.7-2.9-1-2.3.7-.8-1.6-3.1-.4m-30.9 7.2l1.1-.8 1.5-.8-1.3-.9-3.6.7-2.7-1m17-2.4l-3.6-1.3-1.9.5 2.9 1.5 3.3 1.6-2.3 1.6m34.2-14l-1.9-1.5-2-1.6-3.8-1.2 3.5 1.4-2.6 2.2m-26.2 21l0-1.1-1.7-.5-.8-1.1 1.7-.4-.4-2.8m1-15.6l.3 2.9-3.8 1.3 0 1.1-3.3-.6 .2 1.2m46.7-4.8l-2.6 1-.5-1.4 2.8.7-2.8.7 2.3.5m-35.6 6.7l-2.3 2-3.4.8 1.2 1.1-2.5 2.1-1.9.1m39.9-3.9l-1.7-2.2-3.4 1.7 .5 1.3-.5 1-2.5-.1m-35.5-3.4l.1-1.9 3.3-.9 1.5.4 1.6-2.3-2.2-.6m1.6-1l.2-1.6 .5-1.2 2 .2 .5 1 1 1m-9.4 15.5l1.7-1.1-1.9-.4 .8-1.8-1.5-.6-2.3 1.5m45-2.2l3.6-1.3 .3-1.4-1.1-.7-1.4-1.3-3.5.7m-27.8-1.2l-.9 1.9-2.2-1.5-1-1.6 .1-1.5 2.8-1.6m-306.8 5.7l-1.8.7 .1 1.8m-22 3.5l2.2-.3 1.1.3m5.4-4.9l2.5-.1 2.3-.5m-4.3-3.4l1.9.9 2.2-.6m-19.6 2l1.8 1.4-2.2.8m8.2-6l-1.8.6 .2.8m-2.1 8.2l1.8.4 2.3-1.1m-.1-8.7l1 .2-1 1.7m-14.8 5.6l-1 .2-.3-1.6m15.1 5.7l-2.3-1.3 1.2-.4m27.5-12.6l1.1-.9-2.3-.3m-23.7 6.4l-1-.3-2-1.5m1.2 2.3l2.4.3 1.9 1m-13.8-3.7l.5.9-.3-.8m19.6-4.7l2.2 1-2.2.9m1.6-.6l1.2 1.1 2.2.7m-2.3 5.2l-.9-.5 1.2-.6m-5.5-8.4l1.8-.4 1.4 1.1m-13.8 9.3l2.1 1.4 .6 1.9m26.6-5.6l-1.5-1.4-1.4-1.4m1.3.8l-.2.9-.3.7m-25.3 8.6l1.6-1.1 1.3.4m50.2 9.3l-1.6.5 .2-1.7 1.7 1.3 1.1 1.5m-7-7.2l-.8.7 .6-2.2 2 1-.4 1m-2 .6l-.7-1.2 .2 1.2-.9-1.4 2.7-.2m15.5 14.4l-1.1-.6-2.2.7-.9-1.7 1.1-1m-8.9-4.8l-1.5-1.9 1.4 1 .5-2.1-1.9.4m-8.4-7.1l2.8.6 .1-1.1-1.1 1.6 1 .7m5.8 3.5l.9 1.6 1.1 2.2-.8-2.5-1.4-1.3m-.9.6l1-1.1-1 1.8-1.1-2.2-.2-1.6m5.2 8.4l2.8 1.5-.1 1.4-.3-1.1 1.4-.6m-7.1-8l-.7-1.5-1.3-.6-3.4-.3 1.2-2.1m10.6 11.4l-1.5-.9-.5 1.5 2.2 1.9 2.4 1.1m-6.2-7.3l.8 1.6 .7 2 2 .4-.9-1.8m98.5 195.1l2.7 1 2.8-1 1.5-.1-.4-2.3m2.3 3.2l-1.5-1.3-1 1.8-1.4-1.1-2.4-.7m3.7 3.7l-.1-1.5-1.4 0 1.8 1.8 2.1 1.3m-3.6-10.4l.6 1.6-1.5.7 1.5 1.7 1 1.8m-.5-1l.4-1.4-3 .5-1.2-.4-1.1 1.7m-1.7-10.5l1.2.2 2.1-.4 1.4.4 .2 1.8m.4 13.3l-2.8.5-.4-.9-1.7-1.7 1.1-.5m11 10.5l1.5-.4 1.4 0-.6 1.4-.6-1.4m-10.4-7l-2.2.7-.7-1.9 1.5-.7 1.9.3m4.2 5.5l.2 1-.5 1.2 1.9.4 1.2.4m-6.7-13.2l-1.9-1.6-1.2-1.2 2.4-.6 0-1.1m-2.2 2.3l-1.1 1.4 3.4-.2 2 1.2 2.2.5m1.2.7l-.5 2.1 1.3 2.3-2 0-.3-2m2.2-.1l0 1-1.9 1.6 .9 1.7 1.5.5m104.9-252.9l-3.6 1.9-1.3 1.6-1.9-1.8-3.7-1.1 1.3-1.3m7.9 2.1l-5-.3 3.4-.9-.2 1.7-3 .5-.8-2.6m-16.1-2.3l-5-1.1-4.7 1.3 2.8-2.1 1.6 1.8 3 .2m-74.9-.5l-1.7-.3 3.3.8-1.6-.7 3.8 1.1 1.8.3m45.1-2.3l2.6 1.3 1.9-.2 3.5-1.2 4.5 0 1.7.2m-32.1 1.5l-2.2 1.3-3 .3-4.1-.7-1.5.7 3.7.6m4.5-.6l-2.3-.3-3.9-.3 3.3.3-4.1.4-1.7-.4m62 0l-2.1 1.7 1.3-2.2 2.2-.4-1.8-.8-2.8-.3m10.3 3.6l-3.5-.7-3.5-2.4-4.6.3-3.6.9 3 .3m-34.3-.3l2.4.4-4.3-1-1 1-2.4-.2-3.5.1m55.9 3.4l-3.6-1.5-1.8.9-2-2.2 1.8-1.9 4 1m-14.3-1.1l1.3 1.6-4.2-.8 1.2-2.2-3.9 2.2-2.3-1m18.8 4.5l-1.2-3.1 1.5 2 3.6.1-3.1.2 .8-2.1m4 2.3l.6 1.9-2.8-1 1.8-1.6 1.8-.2-1.4.9m-5.3 1.7l.7 1.6-.1 2.6-.6 2.5 3.4-1-2.6.6m8.1-6.8l-1.4.8-2.4 2.4-3.7-.4-1.2-2.4-.3 1.4m-9.1 15.5l4.2-.1 1.5-1.1-.7-2.2 1.1-2.3-.5 3m.1 3.6l.2-1.3 3.4-.9-2.1.6-2 .3 1.2-2.6m-.2 1.5l1.7 1.8-2.3 1 1.7-.9-3.2.2-1.9-.4m13.1-12.3l-1.8-.9 2.1-2 .6-1.3-2.2-1.2 1.9.3m-5.7 4.7l-1.7-2.2-2.5.7 2.8-2.2 2 1.3 1.8-1.1m-2.9 8.7l3.2-.6-1.6-.6-2.8 1-1.9-.8-1.8-.8m3.5 1.1l-2.3-1.5 1.7-.4 2 0 3.1-.5 3.1-1.9m-4.6-.1l-3.1-2-1.9 0 2.7-.9-1.9-1.2 2.6-.5m.1 4.6l3 1.5-1.6 2.5-.2 1.3-.1 2.6-4.1 1m-7.1 5.3l2.7-1.2 3.1.2 1.2-.6-1.9.7-3.9.5m5.8-13.7l1.9 1.4 .9 1.2-1.9 2.5 1.4 1.3-1.8 0m8.7-10.7l2.1.5-.9 1.2-2.1.1-2.3.5-2.5-2.2m-59.2 14.6l2.2 1.5 1.6 2.4-1.7-2.8-1.5-1.9 1.5 1.9m3.2 6l-.8-1.9-.4 1.5 1.1.7-.5 2.3 1.8 0m3.4 2l.1 1.5 .9.9 2.2 2.3-2.3-.1-3-.9m-2-2.1l2.3.6 4.1 1-1.6-1.1-2.1-1.6-2.3-.1m-1.4-2.6l-1.4-1.9 .9-.9-1.4-1.3-2.4 1.6 1.9-1.2m5.4 8l-.6-2-3.2-1.8-2.4-2.4 1.7-.4 1.7 2.3m-1.2-4.7l-2.2 1.3-.7 1 2.6.8 3.6 1.6-3.7 1.5m10.5 8.7l-1.1-2.4 1-1.6-3.7 0-.7-2.7-2.3-2.1m.6.9l1.6 2.8 2.6.2 .7 1 2.7-.3 1.6.3m-15.3-13.2l2.3 1.6-1.2 2.3 .1 3 .3 1.7 3.2-.7m-3-5.4l-.9 1.3-1.3 1.2 2.2 1.7 .7 1.7-1.7.5m2.2-1.2l2.3 1 .2-2.5-1.9-1.5-3.7-.6 2.4 1.6m11.9 10.4l-.2-1.8-3-.8 2.9-.8-2.1 1.3 2.1.4m-10.5-3.8l-1.3-1.7 3.3-1.1-.8-1.1-1.9-.3-1.4.6m29.9 1l-3.2.8-2.9.2m-.8.6l-2.3 1.6 1.3-1.3m3.5-1.5l1.7-.2 4.1-.9m2.4-.7l-2.1.5 2.3-.5m-9.3 2.3l-1.9.6-1.5.9 1.5-1 1.5-.6m206.2-6.6l-1.5-1.3-1.3-1m16.9-1.4l-2.4.6 .5 1.8m43-12.1l-1.4 1.4 1.9.7m-39 12.2l-1.7-2.1-.3-1.5m54.3-8.8l.5-1.6 1.7-.6m60.2 11.3l-1.5-.1-.4-.8m-91-.1l.3 1.3-2.1.1m59.3-3.1l-1-1-1.7.2m-27.5-5.2l.7-1.2 2-.1m-4.4 4.4l-.9.9 2 .9m69.7 2.9l-2.7.4 3-.4m31.3.9l-3 .9 1.2 1.4m-97.5-13.7l1.6.2 1.1 1.4m-8.2 7.7l2.2.8 3.6-.2m79.5-1.3l-.6 1.8 2 .5m-58.8-1.8l1.3-1.5 .5.8m-30.1 1.1l1.8-.8 .3 1.1m95.8 4.4l1.7.1-1.1-1.1m-119-3.1l.9.8-2.9.1m-36.8-2.1l1.9.3 1.9.9m24.6 1.6l.7-1 1-2m100.6.8l2.3 1.3 .6 1.3m16.2 1.4l1.6-.5 0 .9m7.9-2.6l-.9 2.2 2.2.1m-127.9-5.3l3.4-.2 .8 1.6m33.5-4.8l-1.5 1.4 2.3 1.8m72.3 5.4l-.9-2.2-1.2-.3m-4.8-.2l-.1 1.2 .9-.9m-112.4-.4l2.7-.1 .2 1.5m-11 .6l-1.5.5-3-1.1m-55.1 15.4l1-1.6 1.3 1.4m17.5-.4l-.5 1.7-1.8 0m-16.3-2.5l-2.4-1 2.3.6m16.9-1.6l.5 1.6-1.1.4m-37.9 7l-.2-1.7 1.4-1.6m-15.3 2.8l-1.8-.1-.2 1.4m20.8-1.4l2.9-.2-1.6-1.6m-18-.2l-.9.5 2.3 1.3m3.1-1.6l1.3 1 2.1 1.1m-3.8-.1l2.1-.8 .8-.7m8 3.9l1.1.6-.7 1.2m-8.9-7.6l-1 1.1-1.2-.3m18.4-1.8l2.7.6 .7.9m23.8-2.4l-1.7 1.4-.8-.7m26 9.9l-2.5.3m49.5-7.7l-.7-.8m-64 11.8l1.9.6m64.5-5.9l2.6-.1m19.7.3l-1.3.2m-24.5-1.1l.6-.8m5.1 8l-.5 1.1m-67-9.3l.8-.5m73.5 0l1.4.1m-24.6 12.6l-1.5-.7m24.3-17.5l2.3-.3m22.8 14.4l1.7 0m35.7-4.6l0 .8m-104.8-3.1l-1.6-.6m98.3 5.9l-.4-1.3m-22.1-9.1l-2.4-.5m-102.3 14.5l2.4 0m64.2-13.9l-.3 1.7m67.6 7.1l.1 1.4m-112.9-12.5l-1.2 1.1m-5.2-4.8l-.7-1.1m-1.8 4.9l-.4-1.7m72.6 2.3l1.5-.1m-83.6 14.4l-1.9-.8m18.3.6l-.8.8m10.6 2l-.4-1.5m5.5-5.9l-.9.2m112.4-19.8l.8-1m-116.8 5.3l1.5-.2m94.3-4.9l-.3-.7m-433 80.6l2.5.2-.9 1.5 2.5.7 .3 1.2m21.9 18.1l-1.9-.6-1-1.3-.9-.6-1.6-1m-24.4-17.3l-1.5-.6-2.4.1 1.6-1.8-2.5-1.9m-6.6-2.2l1.9-.1 2.9-.9 2.7.6 3.4-.4m8.5 14.5l-2.2-.7-1.5 1.7-3.3-.1 .9-1m.3-13.7l.2 1.3-1.4.2-2.4.6-1.3-1.5m1.8 2.4l2.1-.4-.1 2.5 2.2 2 2.7.6m-13.1-6.2l-1.3.9-2.5-.1-.6-1.2 1.8-.8m16.4 11.3l2 1.2-1.7 1.4-.9.8-2.5-.1m.7-2.7l1.7-1.5 2.4.8 .4-2.4-1-1.6m-10.6 2.5l-1.5 1.7-1 .5 2.5.9 2.1-.4m6.6-5.2l1.1.7-2.3.9-1.4-.7-.1 1.7m-14.3-13.4l-1 .8 3.4.4-1.4 2.2-.6 2.5m15.9 14.7l1.6-.5-.8-1.1-1.7.8 1.1 1.9m3-3.9l-.4-1.1-1.7-.3-.2 1.4-1.5-.4m-13.1-8.5l2.5 1.1 1.2.8 0 1.5 3.1-.2m-14.8-11.6l.1-1.2 2.5.7-.5 1 .6-1m11.4 2.5l2.4-.7-2.3 0-3.3-.5 1.1 2m12.8 4.7l-2.9 1.3-2.4 1.5 .4 1.7-.4 2.5m-11.9-12l.3 1.7 .2 1.5-1.9-.1 1.1 2.2m13.6 6.7l-1.1 1.8-2.5-1.8 1.6-1.7-.1-1.2m4 8.9l1.1-.6 0-2.5-.5-1.5-.4-1m-11.5-10.6l.1-1.4 1.5.5 .7-1-1.5-.2m-2.5 1l2.8 1.4 2.7-1 1.8 1.9 1.5 0m-8.7 2.1l1.7.8 .4-1.1 2.3-.2 1.9 1.7m-.8 5.8l-1.5-1.5 2.6-1.4-1.4-1.9 1.8-.3m368-20.1l1.8.7-.3 1.5-1.6.7m1 2.6l.3.8 .6 2.1 1.2 0m-12.2-1.5l-2 1.2-.2.8-1.6-1.4m-2.3-6.4l.3 2.1 3-.8-2.4-1.1m9.3 1.9l1.8 1.8 .5 1 1 1.3m3.5-8.6l-.8.8 2.9.6 1.1.3m-7 4.2l-.6-1.1 2.4-.6 1.8-.7m-1.5 1.3l2.4 0 1.9-1.2-.5-1.3m-3.3 1.5l2.5.1 .3-2.2-2.8-.5m-5 6.5l-1.7.4-2.2.4 .4-.9m-7.7-6.2l-1.4 0 .7.9 2.3-.5m17.6.3l-.6-1.8 3.1.5 .9 1.3m-13.3 2.1l-.3-2.1-.3-.9-.3-1.1m-1.8 2.2l-1.7.1 1.4 1.5-1.7 1.2m-263.3 111.4l-.6-4 4.8.8-.5 1.5-1.4-1-5.4.8m-21.2-3.9l-4.4.8-1.1-3.1 2.7-.4-2.1-1.5-2.4-2.7m-7.6-27.5l-.2 2.4 2.2.3 4.1 0-1.3-3.3 2.7-1.6m27.2 23l-3.2-1.4 1.5-1.5 2.2 3.6-3.9 1.1 3.6 2.4m-.6 2.7l2.2 1.3-1.2 2.3 .6 3.8 1.5 1.9 2.6.1m-6.7-30.6l-2.8 0-1.3-2.8 .5-2.7-3.8.4-.8 1.4m2 41.6l3.4.3 1.2-1.3 4.6-1.6 4.3-2.3 1.8-2.9m-19.9-48.7l.9-1.8-1.8-.9 1.8-2.8-3.5 1.7-.5-2.5m42.6 25.1l-5.2-1.8-3-1.4-3.7 2.7-4.3-1.3-.9-2.2m4.7 19.4l4.5 2.1-2.2 2-2.2-3.4-3.3 1.4-5.3 1.7m-21.6.3l-4.6-1.5-4.7-1.1-1.8 3-3.9-1.7-3.5-3.3m-1.2-21.3l1.1-1.7 4.6-.9 .7 2.4 3.4 2.5 1.1-3.6m-5.3 8.9l-2.7 2.3-2.7.8-2.4 3.4 1.6 3 2.1-1.5m31.9-27.4l-1.4-2.6-2.7.3-5.6-1.2-3.6-1.4-5.3-.3m9.9.1l-2.9 2.3-2.2-.1-2.1-.1-3-3-1.3 1.7m-9.4 38.6l1.6-3.4 4 .7 1.4 3-3.9.5 .3 1.4m45-25.2l-2.6.3-4.9.3-1.9.8-.3-1.9-4.8 1.9m0 32.8l2-3.3-3.7-2.4-2.6 1.6 .2 1.4 3 1.5m-12.1-35.6l-1 1.2-2.9-.3-4.2 2.6-1.3 3.3 .8 1.7m-5.7.6l-1.5 3.1-2.8 1.1-2.1-2.1-2-.9-.6 1.3m43.5 14.4l.5 1.4 3 1.2 2.9-2.5 3.6-2 .4-2.2m-49.2-18l-.1-1.8 .7-1.6 .6-2.4 4.4-1.6 .1-1.6m-3 40.2l1.6-1.4 3.9.6 2-3.3 3.3 2.6 2.9.5m-30-45.1l3.1.5 2.7-3.5-5.1-.9 1.7 1.3-2 1m20.4 1.9l.1-3.7 4.1 1.8 1.9.5 1.2-3.4 5.3 1.6m7.8 19.1l3.6 2.2 2.6-.4-1.1 2.9-3 1 2 2.5m-37.3-12.8l.7 3.9 0 3.2-3-.8-1.1-2.4-.9-1.6m14 5.9l4.3 2 3.2-.9 2.4 2.9 2-.8 4-.7m16 25.1l4.1 2.2 1.1-3.2-1.5-1.9 1.6-2.1-3.4-1.9m-31.9-43.6l2.7 2.5 3.4-.2-2.5-2.1-3.6-.3-2.7 0m162.6-140.4l-2 .1-2.3 1.2-1.8-1.4 1.7-.1m10.9-1.9l-2.5.1 .3-1.4 1.9-.4-1.7.8m9.8-.9l-2.5-.2-1.7 1.9-4-.9-3.1-.5m1.2 1.4l-2.3.2-.5-1.4-2.4 1.5-.4-1.4m8.8 2.6l-.2-1.2-4.4-.3-2.4 2.5-3 1.1m13.5-4.3l2.3.6 3.4-.6-1.4-.5-1.8.3m-7.2.8l.1 1.2 3.2-.1-1.1-2.4 2.5-.4m-16 3.7l-2.6-.5 .7-1.5 2.8 0 4.1.1m2.6.8l3.3.2-.9-2.2-2.1 1.1-3.4-.8m14.6 2l2.6-1.2-1.5-.9-2.2 1.5-1.5.4m-15.4-.5l-1 1.1-2.3-1.1 2.1 1.1 .6 1.1m.6 1l.6-2.3-1.2-.8 1.8-.7-4-.3m92.9-2l-2.6-.8-1.5.9-2 .3m-12.5-1.3l-4.2.9 2.5-.4-.8 1.4m18.5-1.9l3.3.2 2 .3-2.4.4m-11.7-.5l-2.5 1.3-2.5-.8-2.7 0m-2.3.9l.8-1.3 2.5.1-.1 1m12.8-1.5l1.6-.1 1.8-.4 1.5 1.1m-3.2.5l1-1.1 3 .1-2.5.6m-11.9-.5l1.5 1.6 .2-1.6 3.5 1.2m24.1 18.3l-3.9.1 3.5-1.1-1.4-1.9-1.5 1.1m-25.5-2.7l-1.7.9 2.5 2.4-2 .5-2.6-1.9m6.9-3.2l-3.1 1.5-.9-1.6 .3 2.4-1.1 2m5.6-.4l-2.7.1-1.6.2 1.8 1.2 .5-1.1m15.9-9.9l1.4 1-2.1-.2-.2 1.2-3.6-1.1m11.8 9.8l2 1-.5-1.7 .3-1.2 2.1-.9m-24.2-2.6l1.4-1.3 1.4.8 2-2.2 .8-1m-3 .4l1.6-.3 1.7 1.8 1.2-.9 1.3.6m-17.1 6.7l3.6-.6 1.5 1.4 1.5-.2-1.5-2.9m-1.2-1.5l3.5 1.9 1.7-.4-1.9-2-.7-1.4m88.4-7.5l.6-1.9-3.1.7-3.2.7m5.7-2.2l-1.1-.9-.8 1.3-1.7 2m-3.2-3.1l.3 2.1 3 1.6-2.2-.2m1.8-4.4l-.8 3-2.1.9-2.9-1.1m5 1.9l-.5-2.3 2.8-.1-1.1 2m-4.6.3l-1.3-2.1 1.7-1.1 1 1.4m87.3 8.4l.5-1.4 2 .6-1.8.9m.9-1l2.3-.1 .8.8-2-.3m-15.3-.4l2-.9 2.4 1.8-2.5-1.4m9.4.5l3.3.6 3.2-.6-2-.1m1.5.1l.6.8 1.2-.5 2-.2m-13.9-.8l-2.4 1-1.5.4-1.7.3m-292.5 17l-2.1 1-.6 1.2-2.4 1.4m2-.2l1.5-2-.2-1.5-2.4-.5m-1.1.1l2.4.6 2.1 1 1-.8m-3.5 3.1l1.4-.4 1.4-2.3-.2 1m-4.9 1.2l-2.6 1.2 1.4-1.5 1.3.7m1.1-2.4l3 .4-3.5.4 .9-1.9m40 12.8l.2 1 2 .1 2-1.2m5.6-7.9l3-.2-.9 1.7-3.4-.9m-3.3-1l1.4 0 1.5-.1 1.6 1.9m4.2-5.7l3.2.6-.2-1.3 3.6-.7m14-5.5l-1.7-1.8 3.2.5 1.2.3m-36 15.4l-1.3-.4 1.2-.4 1.3-.8m4.7 3.2l-.9 2-3.3 0 .7 1.4m39.2-22.4l-.1 1-1.9 1-2.2-1.4m-1.7 3l1.4-.6 1.6-.3-2.5.9m-28.7 15.4l-1.6 1.3-1.9 1.5-1.8-.8m11.1-10.9l-1.3-.4 1.2 2.1 2.6-.7m-15.9 6.5l-1.3-1.6 1.4-.8 .3 1.5m3.7 1.9l-.1-1.3-.2-1.8 2.4.6m13.7-10.1l2.1.7-.7 1-2.6.4m-17.5 8.6l.9-1.1-1.2-.6 .2 2.5m14.1-8.1l-2.1-.6 .3 1.2 1.4.4m-7.8 2.1l1.6-.1-.7 1.5-1.2-.3m-5.8 7.1l-1-.7 .9 1.1 2.4 1.4m20.8-17.1l1.5.2-.7.7-2.4 1.2m15.8-7.3l2.2-.2 3.2.1 2.5.6m-10.2 1.9l-1.2.7-1.7.1 1.2-2.2m-17.8 9.9l.1-1-2 .5-2.1-1.2m-9.9 5.2l2.3-.4 1.5.2 1.3-1.9m-9.1 3.8l1 1.8 1.8-.8 1.9-.9m7-1.2l1.2-1.2-1.9-1.6-1.7-.4m32.8-9.1l.3-2.3 2.3 1.7 1.6-.2m-25.3 5.9l-1.1-1.1 1.7-1.2 1.8-1.2m-6.4 6.8l-2.2 1.4-2.9 1.5-1.4-.8m-.4 3.2l-.9-1.7-3-.5 .7 1.7m9.5-6.2l-2.6.4-1.4.3 1.9-.1m-12.1 10l1.5-1.5 1.5 1.7-.3 1.9m3.6-8.1l-1 1.1 .3 1.4 .3 1.9m.3-.4l1.4.6-1.5.4-1.9-.1m7.9-9.7l-.8 1.1-1.4 1.8 1.1 1.2m-9 7.7l.6-2-2.1.3 .9-.6m23-13.6l-2.6 1.3-2.8-1-.9 1.1m-18.8 13.9l1.2-1.5 2.7 1.6 2.5.2m5.5-7.2l.3-1.1 1.4-.3-1.6-2.1m-5.9 7.1l-.3-1.3-1.2.3-1.8-1.5m18.7-7l-.8-1.5-2.6.5-1.8 2.2m223 41.1l1.7 1.6-.4-1.9-1.8-.3m18.9 17.3l.8-1.1-1.2-1.8-1.3.4m-5.2 2.7l1.5-2 1.7-1.4 1.8 1.3m-.2 3.2l-2.8.4-2.3.4 1.3-1.3m-15.6-3l.2-1.4-2-.1 .9 1.8m-1-17.8l.8 1.3 1.3.5-.4.9m17.4 17.9l1.9-1.4-1.1-1-1.9-.8m-16.8-9.7l2.5.2-.5-2-2.6-1.7m2.7 1l1.1-1 1-1.4 2.4 0m1.7-1.2l2.8.8 2.1-1.7-1.1 1.2m77.8 157.6l-.9 1.1 2.4.4-1.3 1.3m-4.5-7.3l-.8-1m-8.7 21.4l0-1.9 1.3-2.1 3.4-1m-.5.6l1.2-2.2 1.2.6-1.5 1.3m2.9-3.5l-1.2.3-.1 1 1.3-.1m-.6 2l.6-2.4 1.1-.9 1.1-1.2m-5.6 2.3l-.3 2.5 2.4-.9 1.8-1.9m-8.6 7.1l-1.2.6-2.4-1 2.1-.3m-97.1-88.5l1-1.5-3.9-.1-2.6 1.5m11.4 17.9l1.8-.4 3.3 0m-39.4-16.2l2.3-.4-1.7 2.8 1.2 2.7m-10-11.5l.7-1.8-1.5 0-1.2-1.5m50.2 17.8l-2.6.8-2.5.9 0-1.8m-6.7-7.5l-.6 2.3-2.1.2-1.7-1.4m.4-6.4l-.2 2.3-3.6-1.6 2.3-.5m-1.4 10.6l-1.7-1.1 2.2-.9-3.6-1.2m2.5-3.1l1.9 2.4 2.4-2.5 4.1-.8m-22.5 10.7l-.1-2-2.1.2-1.1-1.2m17.9-10.3l-.1-1.8 .7 1.2-.4 1.7m-24.1.9l-3.2-2.1 1.1 2.5 1.7.5m34.6-8.9l-2.1 2.2-1.7 1.8 1.8.6m-35.7.9l-.9-.9 .4 1.6 2.2-1.2m40.4 7.1l-1 .8 2.9.5 0-1.2m-39.5 1l.9-2.7 1.9-.7 1.2.9m69.7 9.3l2 1 2.2 2.5-.9 2.8m-10.1-10.4l-3.5-.6-3.2-1.5 3.1 2m27.6 11.7l1 .8m-13-5.5l-3.2-1.2-2.5-1.9-2.3-.8m9.9 6.6l4.3-.1-1.5-2.7-2.6 1.7m-8.1-8.2l3.5 1.5 1.3 2.5 .2 1.5m2.8-1.5l-3.5 0-2.8 1.9-1-2.6m16 7l-.8-1.5-1.9-2.6-1.8-2.5m-46.1-40.4l-2.1-1.6 1.7.7 .2 1.4m4.2 17.8l-.5-2 1-2 .6 1.1m-4.5-10.3l2.1.9-1.2-1.3-1.4-1.7m4.5 9l1.6-.6-2.7.4 2.2 2m-6.3-14.1l1.5 0-.7-1.4-.9.7m7.2 11.2l-1.6.9-2.3-1.5 .4 1.7m2.4.3l-3-.4-.7-1.7 3.1.8m-245.5-90.7l2-.2 1.2 1 .9 2.1m1.2 8.9l2.5 1.1 3.2-.7-1.8 1.8m-6.5-7.9l1 .8 .8 1.6 1.9 1.6m.3.2l-1 1.6-1.1 2.1 .9.8m-12.8-2.3l-2.3-.9 .5 1.2 1.2-1.6m9.2-1.5l1.8-.2-1.3 0 1.4 1.1m-11.3-2.9l3.5-.3 1.5 1.7-2 2m4.3-10.3l.5 2.1 2.9.3 .3 1m-5.8 7.2l-2-.8-.4-1 2-1.5m-2.6 4.2l-1.2-1-.7-2.1 2-1.6"/>
<path class="i1" d="M234.3 286.2h0m85.1-113h0m263 60.5h0m7.6 73.2h0m-166.5 4.4h0m8.2-46.4h0m-16.6-15.2h0m290-33.1h0m47.6 8h0m15.2-3.3h0m3.8 10.7h0m-664.1 4.6h0m30.5 38h0m47.7 4h0m-19.2-13.5h0m3.8 1.9h0m-7.6-3.8h0m617.3-4.8h0m-676.3 10.5h0m658.2 20.9h0m-17 4.8h0m-419-85.1h0m3.3 0h0m-41.5-11.6h0m157.4-37.4h0m4.9-1.9h0m19.8 7.8h0m8.8-73.4h0m12.3 74.7h0m47.6 17.5h0m-16.2 176.9h0m235.6-107.1h0m-79.6-66.8h0m12.4-11.4h0m22.3 6.5h0m-594.6-57.4h0m207 18.4h0m425.3-44.3h0m-325.4 137.3h0m31.2-5.7h0m61.4 12.7h0m0 5.4h0m62.5-1.2h0m46.2 9.2h0m16.9-3.1h0m-353.3 43.9h0m2.3-13.8h0"/>
<path class="i2" d="M144.7 195.1h0m-2.8-1.3h0m-2.9-1h0m-23.8 67.9h0m668.8 5.3h0m-21.3 2.3h0m-16.7-18.4h0m-588 18.2h0m18.1-16.3h0m92.7-16.6h0m125.2-72.4h0m-4.8-1.4h0m21 11.1h0m2.8 8.9h0m2.9-.9h0m-7.7-.4h0m-11.4 24.1h0m1 1.9h0m154.1 67.2h0m-3.8 1.5h0m-23.2-17.9h0m3.6 2.1h0m19.6-15.6h0m33.3-16.4h0m-67 96.6h0m26.5-.7h0m-148.8 22h0m-36.2 5h0m362.5-141.9h0m-.4 1.2h0m-19.6 11.4h0m33.3 0h0m11.8.9h0m-600.5 9.5h0m-33.5 43.6h0m9.5-3.8h0m36.2-4.8h0m23.2-12.7h0m587.2 18.4h0m-658.9 46.6h0m651.7 12.8h0m5.7 3.4h0m-19.2 4h0m-162.5-2.9h0m-256.9-131.4h0m.9 2.7h0m-.7 7.8h0m-30.7-27.6h0m-.9 1.3h0m3.8 1.6h0m4.7 4.7h0m-7.2-10.6h0m133.8-67.4h0m10.8 3.3h0m-3.2 2.5h0m59 43.3h0m-2.9-5.7h0m-4.7 1.3h0m132.6 59h0m4.4 9.5h0m2.8 2.8h0m2.9 4.8h0m17.1 2.9h0m13.7 10.2h0m2.1.4h0m15.6-.6h0m3.8-.9h0m-3.2-11.4h0m2.2 0h0m3.9 11.8h0m3.8-13.3h0m43.7 5.7h0m-1.9-1.9h0m-9.5-1.9h0m7.6 15.2h0m5.7 2.8h0m15.3-1.9h0m-64.7-70.3h0m2.8-3.5h0m-5.7-9.7h0m44.7-23.9h0m4.8-2.5h0m4.7-4.2h0m21-10.4h0m-467.2-2.5h0m8.6-22.3h0m256.9-3.4h0m43.7-8.4h0m25.7-5.3h0m29.5 5.2h0m106.6 8.1h0m-662.2-1.9h0m451-18.8h0m9.5-.2h0m-26.7 1.3h0m-30.4.6h0m-7.6 2.5h0m-40.7 149.1h0m4-6.1h0m58.6 18.3h0m-197 92.6h0"/>
<path class="i3" d="M146.6 197.4h0m634.6 71.1h0m-22.8 6.7h0m1.9-11.1h0m-13.4-11.4h0m-5.7-3.8h0m-3.8-2.8h0m-467.1-10.1h0m140.8-55.2h0m164.6 147.6h0m-203.2 9.5h0m-42.3 15h0m117.8-193.6h0m-18.8-34.6h0m-2.9-25.1h0m192.8 111.3h0m26 27.9h0m25.7 14.5h0m21.9-4.4h0m5.7-2.8h0m-15.2-5.2h0m65.6 10.9h0m-25.6-102.7h0m-596.6-28.5h0m-7.6-6.5h0m31.4 11.2h0m40 7.6h0m-1-3.8h0m-3.8-3.8h0m137 21.1h0m4.8.4h0m-5.2-6.3h0m-31.9-44.7h0m-38.1-5.7h0m-9.5-2.8h0m-9.5-1h0m28.5.4h0m-38 1.5h0m-9.5 1.4h0m43.7 13.5h0m32.4 13.6h0m262.6-15.2h0m36.1-5.7h0m112.3-1.9h0m-156.1-12.3h0m-244.5 248.1h0m1 3.8h0m7.6 4.8h0"/>
<path class="al" d="M128.5 131.4l-5.7 1.7-5.7 1.5-5.7.8-5.7.7-5.7.4"/><path class="al" stroke-dasharray="3 5" d="M785 136.5l-5.7-.7-6.7-1.6-6.6-.7-7.6-3.4"/>
<path class="rv" d="M581.4 108.2l-7.6.9-5.7 2.9 5.7 5.7 7.6.9 7.6 1 5.7 3.8 5.7 3.8 0 2.9 2.9 3.8M573.8 118.3l-1 4.2 4.8 2.8 4.8 4.8 2.8 1.9M598.5 98.7l3.8 2.8 4.8 1.9 1.9 5.7 4.8 6.7 .9 4.8 2.9 3.8 1.9 3.8-1.9 3.8M619.5 124l7.6.4 7.6.9 3.8 4.8 2.8 4.7M684.2 96.8l-3.9 2.8-1.9 3.8 1 3.8 4.8 3.8 4.7 3.8 1 2.3-7.7 2.5-11.4 1-7.6.9-5.7 1.9-7.6 1.9-5.7 5.7M688.9 114.8l4.8 1 5.7 2.8-3.8 3.9-7.6.9M682.2 112.9l-9.5.6-7.6 2.3-9.5-1M748.8 102.5l-3.8 2.8-7.6 2.9-5.7 2.8-1.9 4.8M726 99.6l-3.8 3.8-4.7 4.8-2.9 4.7M709.8 133.9l-2.8 2.8-3.8 2.3-3.8 3.4-3.8 1.4-3.8.1-5.7-3.4-2.9-4.7-6.7-2.5-5.7.6M545.2 105.3l-2.8 2.9 6.7 2.8 1.9 4.8M519.6 111.8l2.8 2.1 3.8 1.9 4.8 2.8M533.8 147.2l-3.8-4.8-2.8-.6 1.9-4.1 4.7-2.9 1.9-1.9 0-3.8-5.7-1.3-7.6-.6-7.6-1.9M347.4 235.6l-3.8 1.9-5.8 1.5-5.7 1.7-3.8 0-5.7 1.2-5.7-1.9-5.7 1.3-3.8 1.5-4.8.4M328.3 240.7l-3.8-3.2-4.7-1.9-4.8-1.9M330.6 241.1l-4.2 5-4.7 4.7-3.5 2.9M331.4 299.3l-3.1-3.8 1-4.8 1.3-4.1 6.3-.6 1.9-3.8 1.9-4.8 3.8-3.8M501.5 174.9l.4 3.7-.4 4.7 3.2 2.9 .4 2.8-2.7 3.8-.9 3.8-1 2.9 4.8-1.9 1.9 3.8-2.9 3.6 .2 4.9-2.1 5.7-.9 5.7 .9 5.7 1.9 3.3M466.3 246.1l5.3-3.3 2.3-4.3 2.9-4.8 5.7-2.9 5.7 1.9 2.8 1.9 0 5.8 1.9 5.7 1 5.7M453.9 226.3l1.3-5-3.2-3.8-.9-4.7-4.8-3.8-3.8-4.8-5.7-1.5-3.8 4.4-4.8 3.8-3.8 3.8M272.6 179.1l-3.3-3.4 0-4.8 1.9-2.8 1.4-3.8-1.9-3.4-1.9-4.2 .5-3.8-3.8-3.8M270.7 160.9l-5.2-.8-4.7-.6-1-3.8-2.8-2.4-5.7-3.3-1-4.7-5.7-1.9-7.6.4-5.7.5M187.5 103.4l3.8 2.9 6.7 2.8 6.7 2.9 2.8 3.8 7.6 2.3M130.4 115.2l7.7-.4 5.7-3.4 9.5-.7 9.5-1.6 6.7 1 6.6 1.9 5.7 3.8 3.8 2.8M610.9 192.8l-1-4.7-5.7-1.9-5.7.3-3.8-2.2-3.8-2.9 0-2.8M613.4 189l-.2-3.4 4.4-.8 5.7-3-1.9-2.7-7.6-.2-7.7.2-6.6-2.1M570.9 189l1.6-4.7 3.2-3.8 1.9-3.9 1.5-4.7 2.3-2.9 4.8-.9 4.7 1.3M673.7 174.7l-5.7-.5-4.8 3.4-5.7-1-3.8-.5-5.7 1.5-4.8 2.5-4.7 3.2-3.8 1.9-2.9-3.8-2.8-5.7-3.8-3.8M668.9 162.8l-3.8 1.9-5.7 3.4-6.6 0 0-5.7 .9-3.8-5.7-1.5-2.9 4.3-4.7 4.8-5.7 0-3.8 2.8M645.1 216l-2.8-3.2 1.9-3.8-1-2.9-1.3-3.8-1.5-2.3-3.8.4-1.9-3.8-1.5-3.4-1.4-6.1-1.9-5.7M498.8 148.7l-3-.2-1 2.5-4.7.5-4.4-.9-4.2-1.1-2.8-1.9 0-3.7-4.8-.9-5.7-.6-6.7.2M707.7 302.2l2.1-2.5 3.8 0 2.9 2.5 3.8.9 2.9.2M473.9 289l3.8.4 2.9-.6 3.8 1 3.8.9 3.8 2 2.8-.4M511.6 270.2l-3.5-3.2-3.8-2.5-4.7 0-3.8 3.4-3.8.8-3.8-.8-1.9-4.7-.6-3.8"/>
<path class="bo" d="M208.5 141.5l53.2 0 1 .5 4.7.8 4.8.6 1.9-.6 7 2.9 2.5 1.5 1.9 1.3 .2 4.4-1.1 1.9 7.6-1.5 0-1.4 4.7-1.3 2.9-1.5 6.7 0 1.9-1.9 2.4-2.7 2.7.8 0 2.4 1.5 1.4M174.2 102.3l0 17.7 3.8.6 2.9 1.9 3.8-1.4 3.8 2.3 3.8 3.8 2.8 1.9M219.7 172.8l4.4-.1 7.2 2.4 5.3 0 0-.9 3.3 0 3.8 4 2.8 1.3 2.9-1.5 2.8 3 1.9 3.3 3.4 1.1M267.1 207.1l1.3-2.9 1.9-.4-1-1.9 3.5-1.1 1.7-1.1M272.8 200.8l0 3.6 1.7.4m-1.9 2.5l2.5.9 .5 1.2m-3-2.1l-1.5 1.1M276.4 209.9l2.5-1.5 2.8-1.7 2.5-.6m-4.8 7.4l2.3.2 1.5.2M284.8 219.2l.5-2.8M306.8 212.2l-2.3 2.5 0 3.8 1 2.3 3.8.7 4.8 1.4 0 4.1 .9 3.8 .2 1.6M292.6 232l3.4 2.1 2.8.5 .6 1.6 3.2 2.8 6.7.4 0 3.2-.9 0-4.8-3.6m5.7 3.6l1-6-1-2.9 1.5-1-1.1-1.3 5.3 0M289.7 241.1l.2 1.9 2.3 1.2 .9-1.9 2.9-2.3 2.8-2.5 .6-1.3M328.3 218.7l-2.4 4 1.1 2.1 1 1.3-2.5.6-5.7.2 .9 3 1.2.6-2.1 1.7-3.5.9-1.1-.7M328 226.1l.7 4.7 1.9 1.4 3.4-1.2 1 0-1.5-2.8 .2-3.4 .3-1.4m1 7.6l3.8-.7 1-2.3-.8-2.5 .9-1.7m-1.1 6.5l3.4 0 1.9-3.4M303.6 248.5l-1.9.2 1.5 3.8 2.3 1.2 2.7-1 0 2.9 2.1 0 1.5 2.8-.6 4.4-.9 2.3 0 2.8-1.6 1.6m-5.1-21l.9-4 3.9-1.9m1.9 13l2.8-.6 5.1-1.7 0 3.6 4.4 1.9 3.8 1.5 1.4 2.9 .2 2.4 3.6 0 0 1.9 1.1 1.4-.6 3.4-1.9-.9-5.1.5-1.5 4.6-3.4 1.5-3.7-1.9-1.9 1.9-1.5-2.5-1.1-3.8-1.7-3.8M323.6 276.5l4.7 3.8 4.4 2.5-1.7 3.6 4.4.4 3.2-3.5 .6-3-2.7-3.2-4.2-.4-.2-4.4M314.6 278l-2.4 3.2 .3 4.8-2.6 3.8-1 4.8 .4 3.8-.9 4.7-1 4.8-1.3 4.7-.2 4.8 .6 3.8-1.6 3.8-1.3 3.8 1.3 2.8 5.4 2.3 1.9.4M331.8 298.4l.7-5.7 3.4-.6 4.8 4.9 .2 1.7m-8.4-6l2.9-5.9m3.2-3.5l1.7 2.7-7.8 6.3M425.9 182l0-2.5 7.1-1.9 4.7-3.8 1.4-4.8-.8-1.1m-12.4 14.1l-8.1 0m8.1.7l0 2.5-6.2 0 0 5-1.9.7 0 3.2-7.6 0M425.9 182.7l7.5 4.4 11.4 7.4 4 4 1.7-.2 3.4-.5 11.4-7.8-3.8-1.9-.9-3.8 .9-6.7-1.9-.4-2.8-5.3 1.5-3.2 .6-4.2m.7 12.7l2.5-3 2.3-2.5M433.4 187.1l-3.3 0 1.9 16.2 .4 1.9-8 .2-3.8-.4-1.3 1.5 1.5 4.4 1.3.9 4.2 0 1 3.3 3.8-.4 .9-1.9 1.9-2.3 1.9-1 2.9-3 3.8-.4 1.9 0 4.8-.9 1.3-1.9 0-5M419.3 206.5l-4.4-3.4-3.8.7M420.8 210.9l-4.4-.2-2.4 1.1-3.3-.7m-.2-2.3l3.5-.4 2.2.8-2.6.2-2.9.3M416.4 210.7l0 1.7-2.4 1.3m8.1-1.9l2.3 3.8 2.9-.5m-9.9 2.4l3.2-1.9 1.9 1.9 .4 1.2-2.3 2.6m2.3-2.6l1.9 1.7 1.5-.2 1.9 6.1m-1.9-6.1l1-2.7 0-2.4M431.1 214.7l5.7 1.3 .6 3.4-1 3.8 .8 1.9m-.4-9.1l.4-2.3 5.1-.2 1.2.2 1.3 2.9 .7 5.7-.7.7m-2.5-9.5l.8 3.1 .4 4.7 .3 2.1m-.3-9.7l3.4-2.4 2.5 1.1-1.8 5.1 0 5.2m-.7-11.4l-.2-.8-2.3-1.1-1.9-3.3M449.4 212.4l.7-3.4 5.7.9 3.8.4 3.3-.9 5.3-.8 .9 1.3m-.9-1.3l3.8-5.9 .9-6.7-1.9-5.1-1.5.8-4.2-1.7m-15.2 19l-.9-3.8M469.1 209.9l1 1.9-2.5 4.6-2.6 4.9-2.5.2-3.6 4M471 190.9l17.2 6.7 0 7.2-2.9 3.2 0 2.5 .8 3.2-3.6 2.3-4.6 3.4-5.9 1-1-4.6-1.9-.2 2.9-.2-1.9-3.6m18.1-14.2l1.9-1 0-3.8m0-18.2l0 18.2 12 0 10.8 0m-22.8 3.8l-1.9 0m1.9-3.8l0 3.8M488.2 204.8l0 6.1m-2.1 2.8l1.3 3.8 1.7.6 1.5-3 3.3 1.3 1.9.6 2.8-1.4 2.9.4 2.7-3.6 1.5-1-.4 2.9 1.9 2.3 .2 1.7-2.1 1.1 1.7 1.6 2.7 3.4-2.5 2.3-5.7.9-.4.4-2.5-1.7-4-1.3-4-4.2-1.5-2.7m18.3.2l3.6-7.8 1-3 3.8-7.1m-3.8 7.1l2.6-1.2 4 .8 4.6 3.8 1.1-.2M509.7 224.4l1.3 1.9 3.8 1.5 2.9.4 2.8-1 1.9-.5 1.9-1.4 3.8-.2 5.7-5.7-1.9 0-5.7-1.9-1.9-3.8-1.1-2.8m-2.7 16.3l0 9.2 1 1.5m-10.5-11.6l-3.8.4m17.1-13l.6-.9M507.2 226.7l1.9 4.7-1.9 2.7 0 2.5 6.8 3.8 3.1 3.2m-9.9-7l-6.7 0-1.7.7 .6-3.6 2.1-3.4-.4-2.3m-.6 8.6l0 2.6-2.8.8 .6 3 .5-5.7m1.7 1.9l.6 1.7-2.8 2.1M472 220.4l-1.9 2.8 0 2.9 2.8 4.4-5.1 0-3.8 0-2.9-.2m2.9.2l0 2.2-3 0m6.8-2.2l2.3 1.5-1 3.6 1 2.9-3.8.5-1.9 2.9 2.3 1.3 .5 2.7-1.5-.2m4.4-19.6l2.8 4.4 3.9-2.5 1.1-1.5 1.7-1.4 5.7 1.8 4.8-1.8 4.5-.1m-17.8 3l-.6 7.6-2.9 2.9-.4 4.7-5.7 2.7 6.7 0 .9 3 3.9 1 1.9-1.9 3.4.5 .4 7.1 3.8 0 0 3.8-3.8 0 0 6.1 2.6 2.6M498.3 243l.3 3.1 2.5 4.3-4.4.4 .4 3.8-.6 2.5 2.7.8 0 2.2-4.9-3-3.7-1-2.4-.5m12.9-5.2l4 2.1 2.1.2m-2.1-.2l.8 5.9-.6 2.9-5.3 1.9 .3 1.1-2.6.4-3.8 4-3.3-.2-3.6-.4M465 267.4l4.1.3 8.6 0 4.8 1.2 4.5-.8 3.6.4m-8.1.4l0 7.6-1.9 0 0 12.2-5.4-.4-1.3.7m6.7-.3l0-6.9 3.8 2.9 1.9-1.9 4.7.5 2.9-3.8 4.5-2.6 3.7.3 1.3 4 0 4.4 1.7 0m-14.5-17.1l1.4 2.3 3.2 2.8 3.2 3.3m3.7.3l2.2-2 1-3.5-.6-5.3-4.4-2.1m5-3l2.8.7 2.5 3.1-.9 1.9-1.6-1.9-.3-3.1m-.6-9.3l1.1 3.8 6.5-.4 4.6-1.5m-14.3 31M494.3 290.9l2.4-1.7 1.7 1.5-1.7 2-2.1-.4-.3-1.4M425.8 155l4.3 0-.7 3.6-.8 2.8-.2 2.5m10.7-11.8l4.7 1.3 4.8.6M447.3 137.5l3.2 2.1 3.4.9 4.2 1-1.1 2.6-3.1 2.5 1.9.8-.6 3.2 1.6.8m.2-7.3l3.8.2 1.7 1.2 3.2-.2 2.9.9 0 1.7m-14.7-1.3l1.9.8 2.9-.6 3.8-1.3m-8.6-5l.8-4.4 1.5-2.8m-5.7 3.6l3.4.4m4.2 4.2l7.4-2.5 5.2-1.3-.4-3.8-.8-1.7m-4 6.8l1.7 3.2 7.5-.2 3.6-1.5 7 .8 2.9-2.7-1-3.8 .2-2.8-1.5-.8-5.7 0m-9.5 6.5l2.8 1.5 4.8 1.3m-11.1 1.7l-1.5 3.1m9-3.3l.3 1.4-1.9 2.1-4.5.7m6.4-2.8l3.3.4 6.4-1.2 .6-1.3m-12.2 4.2l5.2 1.9 2.8-.6 1.7-.4 1.9-3.8m1.2-11.4l5.1.4 2.1-2.9 3.1-.9-1-2.5-.6-.6 1.2-3m-13.3 6.3l10.6.7m-4.4-4.2l5.9.2m1.6 3.1l4.9 1.1 3.6 4.2-2.6 2.5-14.7.9m14.7-.9l5.9.5 2.2 2.7 8.4 1.5-.4 3.3-3 1.5m-27-6.5l-2.9 2.7m-.6 1.3l5.2 1.3 3.2-1.1 3.1 5.3 2.6.4m-5.7-5.7l6.5 3.6m-16.8 0l2.9 3.6-.6 1 1.2.4 10.4.1m-18.4-4.1l.4 1.9 .7 3.8 2.3 1.9 .8 1.9-1.9 2.3m1.1-4.2l4.4 1.1 6.4-.7 3.3-.6m-9.7 1.3l-1-5.1m7.4 4.4l0 1.5M463.6 122.5l2.1-3.9 0-4.9 4-2.8 4.2-5.6 7.6-1.9 1 1 5.1.9 .9 4.2m-7-6.1l9.9-.5 6.1.5 3.6-1.5m-3.6 1.5l-.8 1.6 2.9.9-.8 5.7 3.8 3.4-7.2 4.6M492.5 155.4m18.9 10.8l.9-1.9 10.9-.4 4.5 0-1.1-4.2 1.1-.5-2.4-2.7-3.8-.8m3.8.8l5.7 0 0-1.5 4 .2m-7.3 4l3.3 1.5 2.8-1.5 1.7 2.4m-7.8 2.3l2.3 2.7-1.1 3.4 1.3 1.7 3.1 4 1.7 2.1m-11.8-13.9l-2.7 5.3-4.2 1.9 .8 2.5-4.2 1.1 1.9 1.9-.9 1-2.7 1.5-2.1-.5m7.2-7.5l-3.8 2.1-1.7-.7-.6-1.2 1.9-1.7-1.1-.7m6.1 4.7l5.3 1.9 5.2 3.6 3.4.2 2.6-1.7m-2.6 1.7l2.3 1.2 1.3 0m6.1 8.1l1.9 2.5 4.9.4 1 1.3-1.3 3.8-5.8 1.9-5.7.8-2.8 2.8-1.5-.3-2.9-.2-3.4-.2-1.2 2.1m17.5-5l2.1 4.6m4-11.6l2.3-4.2m-1.3 5.5l-1.3 3.8M535.5 161.6m9.6 2.1l4-1.5 6.2 1.1 3.6 1.7-1.3 5.6 .8 4.1 1.7.2-1.7 3.1 3.6.7 .8 4.2-3.1 3.8m-1.3-8.7l10.3-.2 .1-1.9 5.6-1.9 0-2.3 1.9-.6 1.7-5.1 7-2.1 5.5 3.2m-31.6-2.1l6.3.6 3.8-2.1 9.2-1.7 6.8 2.1m-35.9-1.7l-4-7 4 .9 1.9 0 5.9-.2 3.4.6 8.7 7m-19.9-7.4l0-7 4.9-1.2 4.8 2.7 1.7 1.3 5.5-.4 2.3 1.4-.2 1.9 4 2.5 4.5-.6 1.6-3.4 4.2-.4 1.3-.4 11.4 1.9m-16.9 7.4l4.7-2.3-.2-.7 12.4-4.4m-60.1.8l-2.1-2.3m2.8-6.7l-4.7-3.6 1.3-1.5-.6-2.1 3.5-.6 4-2.3 7 1.6 2.3.7 8-.4 2.6 0-2.4-2.2 1.9-3.6 8-.8 5.7-1.3 5.7 1.7 4.2 1.1 5.9-1.3 6.6 6.4 6.5-.3 3.6 2.6 3.8.8m-13.5 13.3l.2-5.3 4.4-.8 .7-3.4 4.8.2 3.4-4 1 0M559.7 186.7m12.6 2.9l5.3-1.4-2.7-4.9 1.7-1.9 4.8-3.8 2.9-1.9-.2-3.4 1.9.9-2.7-4.5 7.2-1.6 2.1 2.3-.4 5.3 4.6 2.5-1.9 2.7 6.1 2.6 3.8 1.2 5.3.7 0-2.8-4.3-.6-9-3.8m13.3 4.4l1.6 1.1 6 .8 0-1.7-6 .9m6-.9l6.1-2.3 4 1.3-.2.8-4 3.6-1.9 4-1.7-.2-.5 3.8-1.4-3.2-2.1.4 1.9-2.9-4.5-.6-2.7 1.9 1.1 4.4m-1.7-8.4l.6 4m11 .8l-2.2 3.6-.8 1.3M627.8 180.8l2.5 1.6 .4 4.7-2.7 1.9 3.3 3.4 3.8 1.9 1.7-2.2 6.1-1.8 2.6.8 2.5 2.5m-12.9.7l-2.1 1.7 .9 1.6 1.4 3.6 5.1-1.5 1.3 1.7 1.7 6.1 3.6-.8 .2 4.6-3 2.4-1.9.8m1.1-7l-6.2-.4 1.1 5.3m-1.5-20.3l.9 2.2 2.7 1.6 0 3.8m-5.1 1.5l-6.7.2 2.1 2.1-1.3 2.4 1.7 2.5 .9 3.8-1.5 3.1m.8-22.9l1.7 3.6m0 26.3l1.9 1.5 1.9-.9M609.6 141.1l4.2 2.5 1.9 5.1 8.3 1.7 1.9 3 10.3.4 6.1 1.7 10.3-2.2 3-4.2 5-.8 10-2.5-4.7-1.9-3.6-.3 2.3-3.7-4.6-.9-10.9 1.9-3.6-1.9-8.3-.6-.2-1.3-6.3-1.5-2.1 4-10.3-1.6-8.7 3.1m55-1.2l4.9-1.5 1.5-3.8 6.7-1.7 7.6 6.3 5.7 2.5 7.8.9-3 6.3-3.8.7-1 4.4m0 0l-4.9.8-2.1.4-5 3.4M683.6 162.8l3.2-1.6M710.8 239.6l0 12.5M651 230.8l4.2 1.9 3.6-.7 3.3-2.7 .4-2.6 3.8 0"/>
<path class="st" d="M244.6 141.5l0 15.2 3.8 0 0 7.6-1.9 0 0 9.5-6.8 0m-8.4-32.3l0 7.6 13.3 0m-24.7-7.6l0 9.5 4.7 3.8 6.7 0 0 1.9 3.8 0 0 18.4m-28.9-20.3l18.4 0m-10.4 0l0 5.7 10.2 7.6 0 4.4m1.2-17.7l0 9.5 9.5 0m13.3 0l14.1 0 0 6.5 1.1 1.1 0 5.7m-28.5-13.3l13.3 0m-3.8-11.4l14.3 0 0-5.5-14.3 0m14.3 5.5l1.3 5.7-11.8 0m11.8 0l2.3 1.7 0 4m-10.3 0l0 4.7 10.5 1.4m-3.8-23l-1.4-5.9m1.4 10.4l10.1 0-1 5.5-7.8 0m7.2-11.6l-1.7 3.3 3.3 2.8m-1 5.5l5 6.9-10.5.9m10.5-.9l2.1-1.5 .9-7.4m-5.9-1.6l5.3 0m5.7 1.6l-5.1 0m5.1 0l0 4.9 4.2 1.3 4-4.2 0-3.2m-14.2 8.6l6-2.5m-8.1 4l-.8.9 14.8-.2 11.1 0m-12.8-3.4l1.7 3.4m2.3-7.6l1.9 1.8 7.1 0m-27.4 8.9l8.7 0 4.8 0 7.8 2.1m-17.5-2.1l-.4 8.9m5.3-8.9l1.2 7.6-5 0m5 0l5.7.8m-17.5-4.6l-5.4 0m5.4 0l-.8 3.8 3.6 0m18.9-20.9l9.1 0 3.2 0 0-5.7m-3.2 5.7l-.2 4m3.4-5.4l4.4 0m-.9-4.3l.9 3.8m-4.8 3.8l3.3-.6M214.2 120.6l0 11.7 11.4 9.2m7.6-20.9l0 20.9m15.2-20.9l1.2 20.9m12.1-20.9l0 13.6 11.5-7.8m-11.5 7.8l-.3 7.3m29.8-4.8l0 8.6 9.5 3.8m-126.5-28.5l74.2 0m-41.8 0l-7.7-9.6-16.1-7.4m65.6 17l0-8-34.2 0 19-11.1m87.5 19.1l-5.7 9.5 5.7 5.7 13.3 0"/>
<path class="gl" d="M271.2 63.5 V405.8"/><path class="gl" d="M442.5 63.5 V405.8"/><path class="gl" d="M613.8 63.5 V405.8"/><path class="gl" d="M100 149.1 H785"/><path class="gl" d="M100 234.7 H785"/><path class="gl" d="M100 320.2 H785"/><rect class="fr" x="100" y="63.5" width="685" height="342.3"/>
<text><tspan class="sa" font-size="32.5" x="390.51" y="45.90" textLength="101.79" lengthAdjust="spacingAndGlyphs">January</tspan></text>
<text><tspan class="se" font-size="34.8" x="21.99" y="157.38" textLength="31.04" lengthAdjust="spacingAndGlyphs">45</tspan><tspan class="se" font-size="33" x="52.30" y="156.18" textLength="13.00" lengthAdjust="spacingAndGlyphs">°</tspan><tspan class="se it" font-size="34.8" x="67.87" y="157.38" textLength="24.85" lengthAdjust="spacingAndGlyphs">N</tspan></text>
<text><tspan class="se" font-size="34.8" x="64.19" y="242.95" textLength="15.23" lengthAdjust="spacingAndGlyphs">0</tspan><tspan class="se" font-size="33" x="79.15" y="241.75" textLength="12.50" lengthAdjust="spacingAndGlyphs">°</tspan></text>
<text><tspan class="se" font-size="34.8" x="28.19" y="328.53" textLength="31.04" lengthAdjust="spacingAndGlyphs">45</tspan><tspan class="se" font-size="33" x="58.50" y="327.33" textLength="13.00" lengthAdjust="spacingAndGlyphs">°</tspan><tspan class="se it" font-size="34.8" x="72.98" y="328.53" textLength="21.25" lengthAdjust="spacingAndGlyphs">S</tspan></text>
<text><tspan class="se" font-size="34.8" x="27.55" y="414.10" textLength="31.70" lengthAdjust="spacingAndGlyphs">90</tspan><tspan class="se" font-size="33" x="58.50" y="412.90" textLength="13.00" lengthAdjust="spacingAndGlyphs">°</tspan><tspan class="se it" font-size="34.8" x="72.98" y="414.10" textLength="21.25" lengthAdjust="spacingAndGlyphs">S</tspan></text>
<text><tspan class="se" font-size="34.8" x="67.03" y="436.20" textLength="46.40" lengthAdjust="spacingAndGlyphs">180</tspan><tspan class="se" font-size="33" x="113.02" y="435.00" textLength="12.75" lengthAdjust="spacingAndGlyphs">°</tspan></text>
<text><tspan class="se" font-size="34.8" x="232.81" y="436.20" textLength="31.38" lengthAdjust="spacingAndGlyphs">90</tspan><tspan class="se" font-size="33" x="263.80" y="435.00" textLength="12.50" lengthAdjust="spacingAndGlyphs">°</tspan><tspan class="se it" font-size="34.8" x="281.83" y="436.20" textLength="32.14" lengthAdjust="spacingAndGlyphs">W</tspan></text>
<text><tspan class="se" font-size="34.8" x="427.91" y="436.20" textLength="16.48" lengthAdjust="spacingAndGlyphs">0</tspan><tspan class="se" font-size="33" x="443.38" y="435.00" textLength="12.25" lengthAdjust="spacingAndGlyphs">°</tspan></text>
<text><tspan class="se" font-size="34.8" x="578.41" y="436.20" textLength="31.38" lengthAdjust="spacingAndGlyphs">90</tspan><tspan class="se" font-size="33" x="609.40" y="435.00" textLength="12.50" lengthAdjust="spacingAndGlyphs">°</tspan><tspan class="se it" font-size="34.8" x="625.03" y="436.20" textLength="23.74" lengthAdjust="spacingAndGlyphs">E</tspan></text>
<text><tspan class="se" font-size="34.8" x="752.03" y="436.20" textLength="46.40" lengthAdjust="spacingAndGlyphs">180</tspan><tspan class="se" font-size="33" x="798.02" y="435.00" textLength="12.75" lengthAdjust="spacingAndGlyphs">°</tspan></text>
</g>
<g id="map-apr">
<g shape-rendering="crispEdges"><path fill="#0000b6" d="M1058 96h6v5h-6zM1074 96h6v5h-6zM1074 101h6v5h-6zM1545 101h6v5h-6zM1583 101h5v5h-5zM1096 106h5v6h-5zM1112 106h5v6h-5zM1358 106h11v6h-11zM983 112h11v5h-11zM1042 112h6v5h-6zM1058 112h6v5h-6zM1412 112h5v5h-5zM1594 112h5v5h-5zM1604 112h6v5h-6zM1289 117h5v5h-5zM1444 117h5v5h-5zM1074 122h6v6h-6zM1160 122h5v6h-5zM1267 122h5v6h-5zM1289 122h5v6h-5zM1412 122h10v6h-10zM1438 122h6v6h-6zM1449 122h16v6h-16zM1524 122h5v6h-5zM1080 128h5v5h-5zM1117 128h6v5h-6zM1428 128h16v5h-16zM1053 133h5v5h-5zM1171 133h5v5h-5zM1449 133h32v5h-32zM1487 133h53v5h-53zM1289 138h10v6h-10zM1385 138h5v6h-5zM1401 138h32v6h-32zM1503 138h5v6h-5zM1524 138h16v6h-16zM1107 144h5v5h-5zM1128 144h5v5h-5zM1283 144h6v5h-6zM1353 144h5v5h-5zM1438 144h6v5h-6zM1465 144h22v5h-22zM1492 144h16v5h-16zM1058 149h6v5h-6zM1069 149h5v5h-5zM1310 149h11v5h-11zM1449 149h75v5h-75zM1305 154h16v6h-16zM1331 154h6v6h-6zM1342 154h11v6h-11zM1380 154h10v6h-10zM1454 154h11v6h-11zM1487 154h10v6h-10zM1513 154h6v6h-6zM1058 160h6v5h-6zM1278 160h5v5h-5zM1305 160h5v5h-5zM1422 160h22v5h-22zM1272 165h6v5h-6zM1326 165h5v5h-5zM1347 165h22v5h-22zM1374 165h16v5h-16zM1396 165h5v5h-5zM1428 165h5v5h-5zM1096 170h5v6h-5zM1112 170h5v6h-5zM1283 170h6v6h-6zM1299 170h11v6h-11zM1262 176h5v5h-5zM1305 176h32v5h-32zM1347 176h6v5h-6zM1428 176h10v5h-10zM1272 181h6v6h-6zM1326 181h11v6h-11zM1347 181h16v6h-16zM1401 181h5v6h-5zM1262 187h21v5h-21zM1305 187h16v5h-16zM1444 187h16v5h-16zM1481 187h32v5h-32zM1262 192h53v5h-53zM1326 192h5v5h-5zM1337 192h32v5h-32zM1417 192h32v5h-32zM1091 197h5v6h-5zM1251 197h16v6h-16zM1326 197h5v6h-5zM1438 197h6v6h-6zM1256 203h6v5h-6zM1299 203h6v5h-6zM1342 203h5v5h-5zM1363 203h17v5h-17zM1278 208h5v5h-5zM1294 208h11v5h-11zM1310 208h11v5h-11zM1326 208h11v5h-11zM1251 213h5v6h-5zM1422 213h11v6h-11zM1149 219h6v5h-6zM1267 219h5v5h-5zM1149 224h6v5h-6zM1171 224h5v5h-5zM1363 224h11v5h-11zM1165 229h6v6h-6zM1133 240h6v5h-6zM1203 240h5v5h-5zM1203 245h11v6h-11zM1128 251h5v5h-5zM1165 261h6v6h-6zM1203 261h5v6h-5zM1315 261h6v6h-6zM1519 261h10v6h-10zM1198 272h5v5h-5zM1497 272h16v5h-16zM1524 272h16v5h-16zM1545 272h6v5h-6zM1176 277h11v6h-11zM1315 277h6v6h-6zM1529 277h6v6h-6zM1497 283h11v5h-11zM1540 283h16v5h-16zM1503 288h10v5h-10zM1561 288h6v5h-6zM1144 293h5v6h-5zM1315 293h11v6h-11zM1545 304h6v6h-6zM1155 310h5v5h-5zM1139 326h10v5h-10zM1326 368h5v6h-5zM1337 368h5v6h-5zM1567 368h11v6h-11z"/><path fill="#0000f1" d="M1171 80h10v5h-10zM1470 96h6v5h-6zM967 101h6v5h-6zM1010 106h6v6h-6zM1042 106h6v6h-6zM1058 106h11v6h-11zM1160 106h5v6h-5zM1246 106h5v6h-5zM1476 106h5v6h-5zM1417 112h5v5h-5zM1497 112h6v5h-6zM989 117h5v5h-5zM1005 117h11v5h-11zM1042 117h11v5h-11zM1406 117h6v5h-6zM1091 122h5v6h-5zM1155 122h5v6h-5zM1337 122h10v6h-10zM1428 122h10v6h-10zM1085 128h6v5h-6zM1481 128h22v5h-22zM1535 128h5v5h-5zM1272 133h6v5h-6zM1299 133h6v5h-6zM1310 133h5v5h-5zM1347 133h6v5h-6zM1396 133h10v5h-10zM1417 133h32v5h-32zM1042 138h11v6h-11zM1315 138h6v6h-6zM1363 138h11v6h-11zM1390 138h11v6h-11zM1454 138h11v6h-11zM1497 138h6v6h-6zM1513 138h6v6h-6zM1315 144h32v5h-32zM1529 144h6v5h-6zM1053 149h5v5h-5zM1289 149h5v5h-5zM1326 149h5v5h-5zM1101 154h6v6h-6zM1123 154h10v6h-10zM1433 154h5v6h-5zM1444 154h5v6h-5zM1497 154h11v6h-11zM1064 160h5v5h-5zM1107 160h5v5h-5zM1353 160h16v5h-16zM1545 160h6v5h-6zM1267 165h5v5h-5zM1278 165h11v5h-11zM1406 165h6v5h-6zM1487 165h5v5h-5zM1503 165h5v5h-5zM1262 170h5v6h-5zM1278 170h5v6h-5zM1289 170h10v6h-10zM1347 170h22v6h-22zM1374 170h6v6h-6zM1401 170h11v6h-11zM1267 176h32v5h-32zM1369 176h11v5h-11zM1508 176h5v5h-5zM1251 181h16v6h-16zM1310 181h16v6h-16zM1337 181h10v6h-10zM1433 181h11v6h-11zM1449 181h16v6h-16zM1074 187h22v5h-22zM1251 187h11v5h-11zM1321 187h5v5h-5zM1428 187h16v5h-16zM1246 192h10v5h-10zM1374 192h11v5h-11zM1390 192h6v5h-6zM1085 197h6v6h-6zM1289 197h21v6h-21zM1358 197h5v6h-5zM1385 197h5v6h-5zM1101 203h11v5h-11zM1251 203h5v5h-5zM1262 203h21v5h-21zM1321 203h10v5h-10zM1347 203h11v5h-11zM1422 203h16v5h-16zM1262 208h16v5h-16zM1283 208h11v5h-11zM1321 208h5v5h-5zM1337 208h26v5h-26zM1272 213h22v6h-22zM1299 213h11v6h-11zM1321 213h5v6h-5zM1337 213h10v6h-10zM1481 213h6v6h-6zM1428 219h5v5h-5zM1310 224h11v5h-11zM1347 245h6v6h-6zM1149 251h6v5h-6zM1181 251h6v5h-6zM1149 256h6v5h-6zM1181 256h6v5h-6zM1342 256h5v5h-5zM1529 256h11v5h-11zM1551 256h5v5h-5zM1529 261h11v6h-11zM1551 261h5v6h-5zM1181 267h22v5h-22zM1305 267h16v5h-16zM1513 267h22v5h-22zM1342 272h5v5h-5zM1556 272h11v5h-11zM1144 277h5v6h-5zM1331 277h6v6h-6zM1497 277h11v6h-11zM1513 277h16v6h-16zM1545 277h27v6h-27zM1160 288h11v5h-11zM1315 288h6v5h-6zM1497 288h6v5h-6zM1545 288h6v5h-6zM1155 293h10v6h-10zM1503 293h10v6h-10zM1545 299h6v5h-6zM1139 304h5v6h-5zM1139 315h21v5h-21zM1139 320h10v6h-10zM1165 331h6v5h-6zM1278 374h5v5h-5zM1363 374h6v5h-6zM1390 374h6v5h-6zM1401 374h5v5h-5z"/><path fill="#0018ff" d="M1069 96h5v5h-5zM1492 96h5v5h-5zM1048 101h5v5h-5zM1026 106h11v6h-11zM1396 106h5v6h-5zM978 112h5v5h-5zM1069 112h5v5h-5zM1085 112h11v5h-11zM1278 112h5v5h-5zM1299 112h16v5h-16zM1331 112h6v5h-6zM1353 112h5v5h-5zM1433 112h16v5h-16zM1551 112h5v5h-5zM1021 117h5v5h-5zM1310 117h5v5h-5zM1321 117h5v5h-5zM1358 117h5v5h-5zM1428 117h16v5h-16zM1465 117h5v5h-5zM1508 117h11v5h-11zM1139 122h5v6h-5zM1149 122h6v6h-6zM1272 122h6v6h-6zM1321 122h10v6h-10zM1487 122h10v6h-10zM1096 128h5v5h-5zM1107 128h5v5h-5zM1337 128h10v5h-10zM1369 128h11v5h-11zM1449 128h5v5h-5zM1048 133h5v5h-5zM1080 133h5v5h-5zM1278 133h5v5h-5zM1289 133h10v5h-10zM1331 133h6v5h-6zM1358 133h5v5h-5zM1369 133h21v5h-21zM1406 133h11v5h-11zM1321 138h5v6h-5zM1353 138h5v6h-5zM1438 138h16v6h-16zM1476 138h21v6h-21zM1085 144h11v5h-11zM1117 144h11v5h-11zM1133 144h11v5h-11zM1305 144h10v5h-10zM1380 144h32v5h-32zM1535 144h10v5h-10zM1064 149h5v5h-5zM1278 149h11v5h-11zM1262 154h5v6h-5zM1353 154h5v6h-5zM1412 154h21v6h-21zM1438 154h6v6h-6zM1465 154h5v6h-5zM1331 160h22v5h-22zM1449 160h16v5h-16zM1492 160h16v5h-16zM1074 165h11v5h-11zM1289 165h10v5h-10zM1369 165h5v5h-5zM1091 170h5v6h-5zM1101 170h6v6h-6zM1267 170h11v6h-11zM1380 170h10v6h-10zM1481 170h11v6h-11zM1342 176h5v5h-5zM1417 176h11v5h-11zM1444 176h10v5h-10zM1460 176h5v5h-5zM1283 181h16v6h-16zM1422 181h6v6h-6zM1508 181h5v6h-5zM1283 187h6v5h-6zM1326 187h21v5h-21zM1380 187h10v5h-10zM1412 187h16v5h-16zM1107 192h10v5h-10zM1321 192h5v5h-5zM1385 192h5v5h-5zM1470 192h11v5h-11zM1267 197h16v6h-16zM1310 197h16v6h-16zM1331 197h22v6h-22zM1417 197h21v6h-21zM1460 197h10v6h-10zM1112 203h5v5h-5zM1331 203h6v5h-6zM1481 203h6v5h-6zM1428 208h5v5h-5zM1476 208h5v5h-5zM1117 213h6v6h-6zM1337 219h10v5h-10zM1369 219h5v5h-5zM1417 219h5v5h-5zM1144 229h5v6h-5zM1176 229h5v6h-5zM1299 235h6v5h-6zM1171 240h5v5h-5zM1321 245h5v6h-5zM1315 256h6v5h-6zM1149 267h6v5h-6zM1363 272h11v5h-11zM1513 272h11v5h-11zM1192 277h6v6h-6zM1326 277h5v6h-5zM1342 277h5v6h-5zM1529 283h11v5h-11zM1171 288h16v5h-16zM1321 288h21v5h-21zM1513 288h22v5h-22zM1540 288h5v5h-5zM1149 293h6v6h-6zM1171 293h5v6h-5zM1513 293h11v6h-11zM1551 293h5v6h-5zM1551 299h10v5h-10zM1144 331h5v5h-5zM1497 363h6v5h-6zM1529 363h6v5h-6z"/><path fill="#004cff" d="M1198 80h5v5h-5zM1117 96h6v5h-6zM1460 96h5v5h-5zM1476 96h11v5h-11zM1155 101h5v5h-5zM1192 101h6v5h-6zM1203 101h5v5h-5zM1508 101h5v5h-5zM967 117h6v5h-6zM978 117h5v5h-5zM1085 117h6v5h-6zM1353 117h5v5h-5zM1390 117h6v5h-6zM1497 122h6v6h-6zM1064 128h5v5h-5zM1144 128h11v5h-11zM1246 128h5v5h-5zM1149 133h22v5h-22zM1321 133h10v5h-10zM1337 133h5v5h-5zM1363 133h6v5h-6zM1128 138h11v6h-11zM1171 138h5v6h-5zM1305 138h10v6h-10zM1465 138h11v6h-11zM1540 138h5v6h-5zM1289 144h10v5h-10zM1487 144h5v5h-5zM1096 149h16v5h-16zM1117 149h22v5h-22zM1144 149h5v5h-5zM1262 149h5v5h-5zM1299 149h6v5h-6zM1363 149h6v5h-6zM1417 149h32v5h-32zM1074 154h17v6h-17zM1117 154h6v6h-6zM1476 154h11v6h-11zM1508 154h5v6h-5zM1123 160h10v5h-10zM1396 160h10v5h-10zM1417 160h5v5h-5zM1444 165h16v5h-16zM1540 165h11v5h-11zM1074 170h17v6h-17zM1321 170h5v6h-5zM1470 170h6v6h-6zM1299 176h6v5h-6zM1069 181h11v6h-11zM1278 181h5v6h-5zM1299 181h11v6h-11zM1385 181h5v6h-5zM1428 181h5v6h-5zM1369 187h11v5h-11zM1465 187h5v5h-5zM1331 192h6v5h-6zM1363 197h22v6h-22zM1246 203h5v5h-5zM1305 203h5v5h-5zM1315 203h6v5h-6zM1251 208h5v5h-5zM1305 208h5v5h-5zM1374 213h6v6h-6zM1299 219h32v5h-32zM1347 219h22v5h-22zM1294 224h16v5h-16zM1305 240h10v5h-10zM1305 245h5v6h-5zM1133 251h11v5h-11zM1337 251h10v5h-10zM1198 256h5v5h-5zM1144 261h5v6h-5zM1187 261h5v6h-5zM1331 261h6v6h-6zM1203 267h5v5h-5zM1326 272h5v5h-5zM1187 277h5v6h-5zM1535 277h10v6h-10zM1144 283h5v5h-5zM1508 283h21v5h-21zM1561 283h11v5h-11zM1176 293h5v6h-5zM1561 299h6v5h-6zM1149 304h16v6h-16zM1149 320h6v6h-6zM1149 326h6v5h-6z"/><path fill="#0080ff" d="M1181 90h6v6h-6zM1133 96h6v5h-6zM1513 96h6v5h-6zM1117 101h11v5h-11zM1540 101h5v5h-5zM1583 106h11v6h-11zM1032 112h5v5h-5zM1074 112h6v5h-6zM1096 112h11v5h-11zM1535 112h10v5h-10zM1583 112h11v5h-11zM1294 117h5v5h-5zM1331 117h16v5h-16zM1374 117h16v5h-16zM1529 117h16v5h-16zM1561 117h11v5h-11zM1085 122h6v6h-6zM1096 122h11v6h-11zM1465 122h11v6h-11zM1513 122h6v6h-6zM1101 128h6v5h-6zM1262 128h5v5h-5zM1353 128h5v5h-5zM1417 128h5v5h-5zM1342 133h5v5h-5zM1390 133h6v5h-6zM1481 133h6v5h-6zM1540 133h5v5h-5zM1053 138h5v6h-5zM1374 138h11v6h-11zM1508 138h5v6h-5zM1096 144h5v5h-5zM1278 144h5v5h-5zM1422 144h16v5h-16zM1444 144h21v5h-21zM1513 144h16v5h-16zM1074 149h6v5h-6zM1385 149h5v5h-5zM1042 154h11v6h-11zM1091 154h10v6h-10zM1267 154h5v6h-5zM1390 154h22v6h-22zM1470 154h6v6h-6zM1091 160h16v5h-16zM1380 160h5v5h-5zM1091 165h10v5h-10zM1112 165h11v5h-11zM1128 165h5v5h-5zM1412 165h5v5h-5zM1460 165h5v5h-5zM1535 165h5v5h-5zM1449 170h5v6h-5zM1508 170h5v6h-5zM1091 176h21v5h-21zM1337 176h5v5h-5zM1353 176h16v5h-16zM1396 176h21v5h-21zM1369 181h5v6h-5zM1358 187h11v5h-11zM1412 192h5v5h-5zM1096 197h16v6h-16zM1310 203h5v5h-5zM1337 203h5v5h-5zM1256 208h6v5h-6zM1294 213h5v6h-5zM1315 213h6v6h-6zM1128 245h11v6h-11zM1181 245h6v6h-6zM1192 245h6v6h-6zM1326 245h5v6h-5zM1347 251h11v5h-11zM1353 256h5v5h-5zM1326 261h5v6h-5zM1160 267h5v5h-5zM1363 277h6v6h-6zM1508 277h5v6h-5zM1326 283h5v5h-5zM1337 283h5v5h-5zM1535 293h16v6h-16zM1165 299h6v5h-6zM1551 304h5v6h-5zM1149 310h6v5h-6z"/><path fill="#00b0ff" d="M1192 90h16v6h-16zM1005 101h11v5h-11zM1080 101h5v5h-5zM1481 101h6v5h-6zM973 106h5v6h-5zM983 106h6v6h-6zM1428 106h5v6h-5zM1021 112h5v5h-5zM1347 112h6v5h-6zM1363 112h6v5h-6zM1460 112h10v5h-10zM1503 112h5v5h-5zM1058 117h6v5h-6zM1133 122h6v6h-6zM1294 122h5v6h-5zM1358 122h5v6h-5zM1369 122h5v6h-5zM1401 122h11v6h-11zM1508 122h5v6h-5zM1529 122h16v6h-16zM1128 128h16v5h-16zM1160 128h5v5h-5zM1321 128h10v5h-10zM1385 128h27v5h-27zM1085 133h43v5h-43zM1139 133h10v5h-10zM1085 138h16v6h-16zM1117 138h6v6h-6zM1331 138h11v6h-11zM1358 144h11v5h-11zM1412 144h10v5h-10zM1508 144h5v5h-5zM1091 149h5v5h-5zM1331 149h6v5h-6zM1353 149h5v5h-5zM1390 149h27v5h-27zM1529 149h11v5h-11zM1551 149h5v5h-5zM1064 154h5v6h-5zM1139 154h5v6h-5zM1524 154h5v6h-5zM1048 160h10v5h-10zM1262 160h5v5h-5zM1406 160h11v5h-11zM1048 165h10v5h-10zM1390 165h6v5h-6zM1470 165h6v5h-6zM1412 170h10v6h-10zM1058 176h16v5h-16zM1085 176h6v5h-6zM1380 176h16v5h-16zM1406 181h16v6h-16zM1444 181h5v6h-5zM1476 181h32v6h-32zM1085 192h6v5h-6zM1315 192h6v5h-6zM1283 197h6v6h-6zM1160 219h5v5h-5zM1433 219h5v5h-5zM1133 224h6v5h-6zM1326 224h5v5h-5zM1337 224h21v5h-21zM1342 229h5v6h-5zM1305 235h21v5h-21zM1331 235h6v5h-6zM1342 235h11v5h-11zM1181 240h6v5h-6zM1347 240h6v5h-6zM1198 251h5v5h-5zM1321 256h5v5h-5zM1326 267h5v5h-5zM1535 267h26v5h-26zM1331 272h11v5h-11zM1310 283h16v5h-16zM1535 288h5v5h-5zM1326 293h5v6h-5zM1561 293h11v6h-11zM1171 363h5v5h-5z"/><path fill="#00e4f8" d="M1171 85h5v5h-5zM1187 85h5v5h-5zM1187 90h5v6h-5zM1091 96h5v5h-5zM1503 96h5v5h-5zM1545 96h6v5h-6zM1497 101h6v5h-6zM1390 106h6v6h-6zM1460 106h5v6h-5zM1315 112h6v5h-6zM1401 112h5v5h-5zM1470 112h6v5h-6zM1032 117h5v5h-5zM1112 128h5v5h-5zM1460 128h16v5h-16zM1503 128h16v5h-16zM1064 138h16v6h-16zM1042 144h22v5h-22zM1149 144h11v5h-11zM1048 149h5v5h-5zM1278 154h5v6h-5zM1074 160h6v5h-6zM1390 160h6v5h-6zM1401 165h5v5h-5zM1519 165h5v5h-5zM1058 170h11v6h-11zM1390 170h11v6h-11zM1460 170h5v6h-5zM1497 170h6v6h-6zM1438 176h6v5h-6zM1497 176h6v5h-6zM1289 187h16v5h-16zM1353 187h5v5h-5zM1091 192h5v5h-5zM1256 192h6v5h-6zM1283 203h16v5h-16zM1155 213h5v6h-5zM1256 213h11v6h-11zM1465 213h5v6h-5zM1331 219h6v5h-6zM1331 224h6v5h-6zM1139 229h5v6h-5zM1353 229h5v6h-5zM1353 235h5v5h-5zM1476 235h5v5h-5zM1342 245h5v6h-5zM1133 256h6v5h-6zM1171 256h5v5h-5zM1192 256h6v5h-6zM1305 256h5v5h-5zM1337 256h5v5h-5zM1160 261h5v6h-5zM1337 261h5v6h-5zM1551 272h5v5h-5zM1155 277h10v6h-10zM1155 299h5v5h-5zM1165 304h6v6h-6zM1556 304h5v6h-5z"/><path fill="#29ffce" d="M1187 96h11v5h-11zM1465 101h5v5h-5zM1513 101h6v5h-6zM994 106h11v6h-11zM1390 112h6v5h-6zM1615 112h5v5h-5zM1487 117h16v5h-16zM1604 117h6v5h-6zM1385 122h11v6h-11zM1272 128h6v5h-6zM1064 133h5v5h-5zM1139 138h16v6h-16zM1064 144h21v5h-21zM1107 154h5v6h-5zM1358 154h16v6h-16zM1080 160h5v5h-5zM1267 160h11v5h-11zM1321 160h5v5h-5zM1101 165h11v5h-11zM1433 165h5v5h-5zM1476 165h5v5h-5zM1422 170h22v6h-22zM1080 181h16v6h-16zM1363 181h6v6h-6zM1460 187h5v5h-5zM1465 192h5v5h-5zM1310 213h5v6h-5zM1321 224h5v5h-5zM1358 224h5v5h-5zM1305 229h10v6h-10zM1198 240h5v5h-5zM1353 240h5v5h-5zM1310 251h11v5h-11zM1347 261h11v6h-11zM1165 267h6v5h-6zM1363 267h11v5h-11zM1155 272h10v5h-10zM1181 272h11v5h-11zM1337 277h5v6h-5zM1149 283h6v5h-6zM1160 283h11v5h-11zM1176 283h11v5h-11zM1556 283h5v5h-5zM1144 299h5v5h-5zM1144 336h11v6h-11zM1465 363h5v5h-5zM1144 368h5v6h-5z"/><path fill="#53ffa4" d="M1181 85h6v5h-6zM1203 96h5v5h-5zM1556 112h5v5h-5zM1064 122h10v6h-10zM1112 154h5v6h-5zM1321 154h5v6h-5zM1112 160h5v5h-5zM1444 160h5v5h-5zM1058 165h11v5h-11zM1476 170h5v6h-5zM1139 213h5v6h-5zM1262 219h5v5h-5zM1272 219h27v5h-27zM1358 229h5v6h-5zM1155 261h5v6h-5zM1305 261h5v6h-5zM1331 267h11v5h-11zM1310 272h11v5h-11zM1556 288h5v5h-5zM1331 293h6v6h-6zM1149 299h6v5h-6zM1139 310h5v5h-5zM1476 363h5v5h-5zM1465 368h5v6h-5zM1588 368h6v6h-6z"/><path fill="#7dff7a" d="M1438 101h11v5h-11zM1187 106h5v6h-5zM1380 106h5v6h-5zM1010 112h11v5h-11zM1481 112h6v5h-6zM1347 122h6v6h-6zM1503 122h5v6h-5zM1454 128h6v5h-6zM1053 154h11v6h-11zM1487 160h5v5h-5zM1133 165h6v5h-6zM1074 176h11v5h-11zM1476 197h5v6h-5zM1139 219h5v5h-5zM1128 235h5v5h-5zM1128 240h5v5h-5zM1315 240h6v5h-6zM1203 256h5v5h-5zM1149 272h6v5h-6zM1321 272h5v5h-5zM1513 368h6v6h-6z"/><path fill="#800000" d="M1578 101h5v5h-5zM1604 101h6v5h-6zM1117 170h6v6h-6z"/><path fill="#a4ff53" d="M1567 101h5v5h-5zM1615 101h5v5h-5zM1251 106h5v6h-5zM1305 133h5v5h-5zM1101 138h6v6h-6zM1085 160h6v5h-6zM1465 165h5v5h-5zM1481 165h6v5h-6zM1492 165h5v5h-5zM1487 176h10v5h-10zM1390 181h11v6h-11zM1363 213h6v6h-6zM1133 219h6v5h-6zM1321 240h10v5h-10zM1337 240h10v5h-10zM1310 245h5v6h-5zM1155 251h5v5h-5zM1187 251h11v5h-11zM1305 251h5v5h-5zM1310 256h5v5h-5zM1310 261h5v6h-5zM1310 288h5v5h-5zM1503 368h5v6h-5z"/><path fill="#b60000" d="M1551 96h5v5h-5zM1470 117h6v5h-6zM1123 170h5v6h-5zM1470 187h6v5h-6zM1454 208h6v5h-6zM1465 208h5v5h-5zM1578 219h5v5h-5zM1107 235h5v5h-5zM1278 235h5v5h-5zM1428 363h10v5h-10z"/><path fill="#ceff29" d="M1444 90h5v6h-5zM1529 101h6v5h-6zM1610 101h5v5h-5zM1497 106h6v6h-6zM1561 106h6v6h-6zM1331 122h6v6h-6zM1476 122h11v6h-11zM1107 138h10v6h-10zM1470 197h6v6h-6zM1139 224h5v5h-5zM1321 229h10v6h-10zM1326 235h5v5h-5zM1187 245h5v6h-5zM1305 272h5v5h-5z"/><path fill="#f10800" d="M1107 170h5v6h-5zM1369 213h5v6h-5zM1165 219h6v5h-6zM1133 229h6v6h-6zM1315 229h6v6h-6zM1331 256h6v5h-6z"/><path fill="#f8f500" d="M1604 106h6v6h-6zM1380 122h5v6h-5zM1422 128h6v5h-6zM1529 128h6v5h-6zM1069 160h5v5h-5zM1470 160h11v5h-11zM1069 170h5v6h-5zM1133 235h6v5h-6zM1144 288h5v5h-5z"/><path fill="#ff3800" d="M1465 90h11v6h-11zM1492 106h5v6h-5zM1080 122h5v6h-5zM1133 133h6v5h-6zM1037 138h5v6h-5zM1460 192h5v5h-5zM1476 203h5v5h-5zM1133 213h6v6h-6zM1160 213h5v6h-5zM1331 229h6v6h-6zM1353 245h5v6h-5zM1326 251h11v5h-11z"/><path fill="#ff6800" d="M1422 101h6v5h-6zM1503 176h5v5h-5zM1160 224h5v5h-5zM1160 229h5v6h-5zM1192 235h6v5h-6zM1337 235h5v5h-5zM1187 240h5v5h-5zM1176 272h5v5h-5zM1556 293h5v6h-5z"/><path fill="#ff9400" d="M1165 80h6v5h-6zM1449 101h5v5h-5zM1181 106h6v6h-6zM1433 106h5v6h-5zM1165 128h6v5h-6zM1085 149h6v5h-6zM1481 160h6v5h-6zM1476 176h5v5h-5zM1144 219h5v5h-5zM1256 219h6v5h-6zM1299 240h6v5h-6zM1347 256h6v5h-6zM1342 261h5v6h-5zM1347 267h6v5h-6zM1192 272h6v5h-6zM1149 277h6v6h-6zM1321 277h5v6h-5zM1149 288h6v5h-6zM1567 288h5v5h-5zM1101 368h6v6h-6zM1561 374h6v5h-6z"/><path fill="#ffc400" d="M1326 101h5v5h-5zM1470 106h6v6h-6zM994 117h6v5h-6zM1069 133h5v5h-5zM1454 170h6v6h-6zM1149 213h6v6h-6zM1347 213h6v6h-6zM1128 229h5v6h-5zM1149 229h11v6h-11zM1337 245h5v6h-5zM1176 261h11v6h-11zM1176 267h5v5h-5zM1310 277h5v6h-5zM1551 288h5v5h-5zM1160 299h5v5h-5zM1139 331h5v5h-5z"/></g>
<path class="co" d="M960.8 109.9l2.9-5.1 8.5-3.3 10.3-2.4 12.6 1.5 17.1 1.7 11.4 1.1 13.3-1.9 5.8 1 9.5.4 9.5 2.4 9.5.4 3.8-1.3 11.4 1.3 7.6-.4 4.8-1.9 2.8-4.7 3.8 3.8 3.8 1.5 3.9 1.3 4.7-2.8 6.7 0 .9 2.8-2.8 3.3-5.7.5-1.9 2.9-5.8.9-5.7 3.8-2.8 3.9-.4 2.2 4.2 3.5 4.7 0 5.8 1.9 3.8 1.3 5.1.6 .6 3.8 2.8 3.2 2.9-.4 0-4.7 3.8-3.8 .9-2.9-3.8-2.8 1.9-3.9-.9-2.4 7.6 0 7.6 2.4 1 3.9 4.7 1.3 3.8-3.8 1.9 2.5 3.8 2.8 1.9 2.9 3.8 1.9 3.8 2.8 2.5 2.9-2.5 1.1-5.7 2.3-9.5 0-3.8 1.7-5.7 3.4 3.8-1.9 7.1-.6-1.4 2.5 1 2.5 4.7.8 1.9.9-4.7 1.5-4.8 1.9 0-1.9 2.9-1.9-4.8 1-3.8 1.9-2.8 1.9-.6 1.9 1.5.6-3.8.9-3.8 1.1-.4 2.1-2.5 1.9-.9 2.9 .6 2.8-2.5 1.9-3.8 2.5-3.8 2.7-.6 3.4 1.5 3.8 1 2.9-.6 2.4-1.7-.2-2.9-4.7-.1-2.3-2.3-1.9-3.8-.6-3.8 0-2.9.6 .4 1.9-3.3-.6-4.7-.7-2.9.9-3.8 2.7-.5 3.4-1 3.8 .2 3.8 1 2.9 2.2 2.8 2.9 1.5 3.8-.5 2.8-.6 1-3.2 .9-1.4 4.8-.5 1.3 1.9-1.7 3.8-.9 2.8-1 2.1 3.3.2 3.8-.2 3.2 1.7-.4 3.8-.4 3.8 2.3 2.9 2.9 1.3 2.8-1.3 2.9.4 1.3 1.9-2.3.5-1.9-1.5-1.9 2.9-2.8-1.7-2.9-.6-2.8-2.9-1.6-1.9-3.2-3.8-2.8-.7-3.9-1.2-3.8-2.8-2.8-1.4-3.8 1-4.8-1.7-4.7-1.7-4.8-2.5-2.8-2.3 .3-2.8-2.2-3.8-3.9-3.5-1.9-2.6-2.8-2.5-2.9-2.8-1.3-3.3-2.8-.9 .3 3.2 3.3 4.2 3.4 4.4 2.3 4.7-1-.9-3.2-3.8-3.8-3.8-1.9-3.8-2.9-3.9-1.3-2.2-2.5-2.5-4-1-2.3-3.8-1.3-2.4-2.5-3.3-.9-1.7 .2-3 .4-4.8 0-3.4-1.4-4 3.3.4 .9 1.7-.9-3.2-3.8-1.9-4.8-2.9-1-2.8-3.8-2.9-2.8-1.9-3.8-2.8-3.8-2.9-3.8-.9-4.8-1.6-7.6-.3-3.8-1.6-4.8 1.6-2.8 1.3-1.9-3.3-1.9 1-2.9 2.9-1.9 1.9-4.7 2.4-5.7 2.3-5.8 1.3-3.4.6 5.3-2.5 3.9-.9 3.8-2.3 1.3-2.3-3.2.2-5.8-.7 0-1.9-4.7-1-1.9-1.9-1-1 2.9-1.9 6.7-.9 0-1.9-3.9 0-6.6-.2zM1141.6 85.9l9.5-3.4 11.4-2.8 22.9-1.9 19-1.6 19-.3 15.2 2.2 7.6 2.5 11.5-1.3-9.5 3.2-2.9 3.8-1.9 3.8-1 2.9-3.8 3.8-.9 3.8-6.7 2.8-7.6 1.6-5.7 2.2-7.6 2.3-5.7 1.5-2.9 3.8-2.8 4.8-2.9 1.1-2.8-1.7-4.8-.7-3.8-4.4-2.8-3.8-2.9-2.9 1-2.8 3.8-2.3-6.7-1.9-1.9-3.4-3.8-3.8-4.8-2.5-11.4-.4-9.5-1.9zM1157.8 114.8l-6.7 1.9-7.6-3.8-11.4-.9 7.6-2.9 1.9-3.8-9.5-3.8-13.3-.9-7.6-2.9-2-2.8 17.2-.6 7.6 1.9 11.4 3.4 7.6 3.5 9.5 4.1 1 1-4.8 2.8zM1162.5 77.8l-15.2-1-19 0-19.1 2.3-3.8 2.5 11.5 2.8-3.8 2.9 15.2 2.3 7.6-3.3 7.6-2.8 13.3-2.9zM1057.9 98.7l13.3-2.9 9.5 0 5.7 4.8-5.7 2.8-15.2.6-7.6-2.5zM1042.7 97.7l9.5-4.3 8.5 1.9-8.5 3.4zM1097.8 89.2l11.4-.6 19.1 2.3-3.8 1.9-19.1-.2-7.6-1.5zM1057.9 91.1l13.3-1.5 9.5.9-5.7 1.9-13.3.2zM1097.8 81.6l11.4 0 5.8 2.8-11.5 1.5-5.7-2.1zM1098.8 93.9l9.5 0 .9 2.9-7.6 1.1-3.8-2.1zM1086.4 94.9l8.6-.6 .9 3.4-5.7.8-3.8-1.7zM1115 110.1l5.7-1 6.6 2.9-2.8 1.9-6.7.4-2.8-1.4zM1167.7 143.9l3.4-4.3 2.8-2.9 1 2.9 3.8 1.9 1 3.8-2.9.4-2.9-.8zM1118.8 193.2l5.7-2.5 5.7 1.2 3.8 1.9 5.3 2.4-6.3.6-.9-1.5-4.8-1.9-3.8-1.2zM1138.9 199.5l3.1-2.7 5.3.2 3.1 2.5-5 .9zM1131.5 199.8l3.8 0-1.3 1zM1152.6 199.7l2.9 0-1.5.7zM1234.3 110.1l4.3-1.7 7.6.4 6.3 0 2.1 2.2-4.5 1.9-5.8 1.2-6.6-1 .9-1.7zM1036.4 138l5.3 1.2 3.8 3.2-2.8-.4-3.9-2.1zM1133.4 218.9l2.5-1.9 1.9-2.9 3.8-.9 2.3-1.9 .6 2.8 2.8-1.9 2.9 2.1 4.7.2 3.8.4 3.8-.6 1.9 2.3 1.9 2.1 2.9 2.3 2.8 2.4 3.8 0 2.9.8 3.4 2.3 2.3 4.3 1 2.9 1.9 1.5 1.9 1 3.8.7 3.2 2.5 4.4.6 3.8.2 2.8 1.7 2.9 2.1 3.2.7 1 3.6-.8 3.8-3.4 3.5-2.9 3.8-.9 3.8-.4 5.3-1.5 4.2-1.9 3.8-3.8 1.9-3.8 1.5-3.8 1.5-2.9 2.7-.4 4.4-2.8 4.2-3.4 3.4-2.9 3.2-2.9 1.7-3.8-.7-2.6-1 2.3 4.4-1 3.6-4.4 1.3-4.2.2-.1 3.4-5.2.4 1.4 3.4-2.3 4.2-3.8 1.9 2.8 2.9-2.8 3.8-2.9 2.8 1.2 2.7 .3 2.1 4.2 2.7-4.7 1.1-4.8-1.3-4.8-3.1-2.8-4.2-1-4.7 1.9-4.8 1.9-4.7-.5-3.8 .5-4.8 .6-3.8 1.3-3.8 2-3.8 .1-4.7 .8-4.8 1.1-5.7 .4-5.7-.2-6.7-2.2-1.9-3.9-2.3-4.7-3.8-1.9-3.8-2.5-4.3-2.3-4.8-2.8-2.8-.4-2.9 1.7-2.1 .6-2.1-1.5-2.4 1.3-2.9 2.1-1.9 .9-1.9 1.9-2.9 .4-3.8-.9-2.4zM1164.4 332.6l5.7-.4-.9 1.7-3.8 0zM1269.3 166.6l7.4 1.1 5.7-2.5 7.6-.5 9.5-1 1.9.8-1.3 4.5 1.3 1.9 3.8 1.2 4.4 1.1 4.2 2.7 3.8.7 1-2.8 3.8-1.7 5.7 2.1 7.6 1.5 3.8-1 2.5.6 .3 2.3 1.9 3.8 1.9 3.8 1.9 3.8 2.9 4.8 .6 4.7 2.3 1.9 1.9 4.8 2.8 1.9 3.8 3.8 .6 1.9 3.2 1.9 5.7-1.3 6.1-1.4-.4 2.9-2.8 6.4-2.9 4.8-3.8 3.8-4.7 3.8-3.8 4.4-2.9 3.2-1.9 3.8 .6 3.8 .9 4.8 1.4 3.8 .2 5.7-3.1 3.8-4.2 2.8-3.4 2.9 .6 3.8 .3 3.8-4.7 2.8-.4 3.8-1.5 2.9-2.9 3.4-3.8 3.3-3.8 2.4-4.7.6-3.8.2-3.8 1.1-3.1-1.1-.7-3.2-2-4.8-1.9-3.8-1.9-3.8-.9-4.8-1.9-4.7-2.9-5.7-.3-3.8 2.2-5.7 1.4-3.8-1-3.8-1.7-5.7-.6-2.3-3.8-4.4-1.9-3.4 1-3.3 .4-3.8-1.4-1.9-3.8-.7-2.8-.2-1.9-3.4-4.8 0-3.8 1.1-3.8 1.7-3.8-.7-6.7 1.5-3.8-3.1-3.8-1.9-2.8-2.8-1-2.5-2.8-2.3-3.3-2.6-.2-2.7-1.3-1.7 1.9-3 .6-4.2-.6-2.9-.9-1.9 1.5-3.8 2.4-3.8 2.7-3.8 1.9-1.9 3.8-1.9 1.5-3.8 2.3-4.4 3.3-1.7zM1374.3 257.5l1.9 6.6-1.5 4.8-2.9 7.6-1.9 5.7-3.8.9-2.8-4.7 1.5-5.7-.6-5.7 3.8-2.5 3.8-4.2zM1263.4 164.3l-1-3.2 1.4-4.4-.8-3.8 2.3-1.4 6.6.6 5.2 0 1.1-2.5 0-2.4-1.9-2.3-4.4-1.3-.3-1.2 5.7-.4 .2-1.7 3.4.2 2.6-1.9 2.7-1.5 2.3-1.7 1.1-1.5 4.2-1 3.1-.6 0-3.2-.8-2.8 4.4-1.4 0 2.7-1.4 2.5 1.9 1.9 2.3-.4 4.2.6 4.4-1.2 3.8-.4 2.5.6 2.3-1.7 0-3.2 2.8-1.4 3.4 1 0-2.1-1.5-1.7 4.8-.6 3.8 0 4.2-.8-3.3-1.1-4.7.2-5.7.9-3.1-1.3 .2-2.7-.6-1.9 6.3-3.2 1.5-1.1-2.4-1-3.8.6-1.4 2.3-4.3 2.1-3.3 3.2-.2 1.9 3.1 1.3-4.2 4.4-1.2 2.5-3.2 1.3-2.5.2-.7-2.1-1.5-2.3-1.6-2.4-.9-1-4.8 2.7-3.8-.4-1.9-3.2 0-3.9 3.8-1.9 5.3-1.5 3.3-2.3 2.5-2.8 3.2-2.9 3.8-1.5 4.8-1.9 5.7-.9 7.2-1.6 5.1.6 4.8 1.2-1.9 1.1 5.7.4 5.7.7 9.5 2.9 0 2.5-4.7 0-6.7-.6-3.8-.6 3.4 3.4 0 1.2 5.2.9 .9-1.1 4.8-.2-1-1.7 3.8-1.7 3.8.4 .4-2.5-1.3-1.9 5.1.6 .6 2.4 2.8-1.3 9.5-1.3 1.9-1.2 7.7 0 4.7 0 1-1.7 6.6 1 4.8.7 3.8 1.2-1.5-3.3-2.3-2.8 3.8-2.5 6.7 0 .5 3.4-1.5 3.8 3.2 3.8-3.2 1.4 4.8-2.3 .9-1.9-.9-3.8-1-2.9 3.8 0 3.8-.5 5.7.5-.9-2.8 10.4-.8 1.9-2.1 7.7-1.3 9.5-.8 7.6-.7 7.6-2.3 5.7 1.7 9.5.4 2.9 2.1-6.7 2.8 5.7.6 9.5.4 9.5 0 7.7 1.9 4.7 2.8 6.7-.9 7.6.2 5.7-2.1 11.4.2 7.6 1.7 5.7.9 9.5 0 3.8 2.5 9.6.4 9.5-.6 1.9 1.5 9.5-1.3 7.6 1.5 0 7.4-2.9 1-1.9 3.8-6.6 1.3-6.7 3.5-8.5.3-4.8 3.5-2.8.9 1.9 2.9-1.9 2.2-3.9 3.5-2.8 1.9-3.4 1.9-1.4-3.8-.9-4.8 .9-3.8 3.8-1.9 3.8-3.8 5.8-1.9-5.8-.6-5.7.2-3.8 4.6-5.7.6-5.7-1-7.6.4-5.7.6-7.6 4.7-4.8 3.4 3.8 1.4 4.8 0 2.5 1.9-1.6 3.8 0 4.7-4.7 3.8-4.8 4.8-4.7 2.3-3.8.5-2.5 2.3-3.2 2.5-1 .9 3.4 3.8 0 3.8-3.4 1.8-2.3 0 .4-3.7 .4-2.2-3.3-.6 0-2.9-1.3-.9-4.4-1-.9 2.9-1-3.2-3.8 2.8-2.4.4 1.5 2.5 3.8.1 3.8.6-2.9 1.5-2.8 2.9 1.9 2.8 2.5 3.3-.6 3.4 .9 1.9-2.8 3.8-1.9 2.9-2.9 1.9-2.8 2.8-4.4 1.3-4.2 1-2.8.9-1 1.9-.9-2.2-2.9-.2-2.5 2.1-1.9 2.8 1.5 2.9 3.9 2.8 1.5 4.8-.2 3.8-4.2 2.1-2.9 2.6-1.3.6 .4-2.8-2.9-.6-1.9-2.9-2.8-1.3-1.5-1.3-.4 2.6-1.4 3.8 1.4 2.9 1.9 3.2 2.8 2.5 1.7 2.8 .2 2.9 1.4 2.1-1.4.2-3.8-2.9-1.9-3.2-.4-2.9-1.5-2.8-2.3-1.5 .4-3.3 .4-3.8-1.3-3.8-.6-3.8-1.3-1.9-2.9 1.9-1.9-.4-.4-4.3-2.4-2.9-1.9-2.8-1-1.9-1.9.9-2.9.4-3.8.9-.9 2.5-2.9 1.3-3.8 3.5-2.8 2.8-2.5 1.9 0 3.8-.8 3.8-.9 1.6-1.9 2.2-1.5 1.7-1.9-2.6-1.9-3.8-1.4-2.9-1.1-3.8-1.7-3.8-1-3.8 0-3.8-1.5 0-2.9.2-2.8-2.7 2.5-1.3-3.5-.9-2.2-1.9-1.6-1.8-4.7.2-4.8.2-4.7-.4-3.3-.5-1.5-2.5-3.8.8-3.8-1.7-2.9-2.9-1.9-2.3-2.4 0-1.4 1.4 1 2.2 2.8 3.1 .4 2.3 1.5 1.7 1-2.7 .2 3.2 4.5.4 3.9-3.6 1.1 2.9 3.6 1.7 2.5 2.1-2.5 4-1.5 2.6-2.3 1.9-2.8 1.9-5.4 1.9-6.1 3.4-5.7 1.8-4.7 1.1-1.4-4-.5-3.2-2.9-4.8-3.4-4.4-1.3-4.1-2.5-3.5-3.3-4.1-1.3-1.9 .4-1.9-1.3 2.8-1.4-.4-1.9-3.2-.5-2.5 3.6-.2 1.5-2.8 1.1-3.3 .8-2.8 .4-1.5-3.3.2-3.8 1.1-3.8-1.3-2.8.9-2.9-.9-1.9-3.3-.5-1.9 1.5-1.7 3.8-1.1 4.7-.4 3.8-1.5 3.8.6 2.9 1.1 4.8.2 3.8-1-.4-2.4-3.4-1.9-3.8-1.9-.4-1.4 2.3-.9 1.3-2.3-3.2.4-4.2.9-.6 1.5 2.9.8-2 .8-3.2.9-2.3-1.7 1.7-1.3-3.8-1.2-2.4 1.2-1 1.5-1.9 2.3-1.7 2.4 .8 2.1 1.5 1-2.9.4-2.3.5-1.5-.5-2.8.2-1 1.1-1.3-.4-.2 2.1 1.1 1.9 1.4 1.2-1.9.5 0 1.7-1.6-.7-1.7-1.5-.2-2.1-1.9-1.4-1.5-1.9 .2-2.4-1.9-1.4-3.8-1.9-2.5-1.5-1.7-1.7-1.1-.8-2.5.6 0 1.9 2.3 1.5 1.1 2.3 3.4 1 3.9 2.1 .7 1.3-2.7-1-.9 1.9 .9 1.2-1.9 1.7-.5-.2 .5-1.7-.9-1.9-1.9-1.3-2.9-1.2-2.8-2.1-2.1-1.7-.8-1.3-2.3-.8-2.4 1.2-2.9 1.3-2.8-.6-2.5.8 0 2.1-2.3 1.1-2.8 1.5-1.6 1.9 1 1.4-1.7 2.2-2.5 1.6-4.8.3-1.9 1.2-1.5-1.3-1.7-1M938 103.6l5.7 1.2 7.6 2.4 5.7 1.9-1.9 1-3.8 2.3-5.7-.8-4.7-2.5-2.9 1zM1269.7 139.4l4.1-.4 4.8-.8 4.4-.9 .7-2.9-2.6-.5-.8-1.9-2.7-1.9-.9-1.9-1.5-.8 1.5-2.3-2.9-.2 1-1.7-3.8 0-2.3 2.1 1.3 2.9 1.4 1.9 2.8.1 .6 2.1-2.9 1 .6 1.9-1.9.9 3.2.8-1.9.8zM1261.5 136.5l7.2-1.1 .4-2.5 .9-1.9-1.9-1.3-3.4.2-3.2 1.7 .9 2.3-1.5 1.5zM1301.4 83.5l9.5-1 11.5-.7 9.5.7-5.7 2.9-5.7.9-5.7 2.5-7.7-1.5zM1378.5 98.7l2.8-2.9 5.8-3.8 7.6-2.3 11.4-1.5 5.7 1-13.3 2.8-7.6 2.9-1.9 3.8-3.8 1.5zM1461.3 84.4l9.5-3.8 11.4 2.9-5.7 2.4-9.5.4zM1368 81.6l11.4-1.4 15.3-.5 7.6 1.3-11.4 1.5-15.3 0zM1541.2 91.1l7.6-1.2 9.5 1.2 7.6.5-3.8 1-11.4-.2-5.7.4zM1546.9 94.3l5.7.4-1.9.7zM1620.1 99.6l2.9-.9 0 1.3zM1550.7 131.4l2.8 4.4-.3 4.7 .3 5.2-2.8 1.5 0-4.8 0-5.7zM1546.9 155.7l2.8-3.2 .6-4.2 3.2 2.3 3.5.8-3.5 3-3.8-.2zM1529.8 170l3.8-2.9 5.7-.3 1.9-2.5 3.8-1.9 1.9-3.8 2.5-2.5 1.3 3.4-1.9 2.9 0 3.8-1.9 1.9-2.9.6-2.8.2-1.9 2-1.9-1.9-3.8.4zM1527.9 170.9l3.2 0-.4 3.8-2.3.6zM1532.6 170.4l3.8-.8-.9 1.7-1.9 1zM1510.7 186.7l1.9.8-2.2 5.3-1.2-1.9zM1487.3 197.9l2.5-1.3 1.9 1-2.5 2.2zM1509.8 199.5l3.2.2-.4 4.5-.9 3.4 4.7 2.3-1.9.4-3.8-1.7-1.3-2.1-.6-2.7zM1512.6 221.3l2.9-3 3.8-2.1 1.9 4.2-1.9 2.8-2.9-.5zM1512.6 212.4l2.3 1.3 2.5-.5 1.9-1.9-1 3.8-2.8 1.5-1.9-1zM1503.5 218.5l4.4-5.1-1 2.2-2.4 2.7zM1487.9 231.2l3.8.4 3.8-3 3.8-3.5 3.3-3.8 4.3 3.5-2.4 3.2 .5 4.4-.9 3.8-2.3 4.2-.6 1.9-2.8 0-2.9-1.4-2.8 0-2.9-3.4-1.9-3.4zM1461.8 224l4.2.8 4.8 4.1 3.8 2.9 3.2 2.8 1.5 3.9 2.9 2.4-.4 4.8-2.5 0-4.1-3.4-3.5-4.8-3.4-5.7-3.2-3.4zM1480.9 247.6l2.6-1.5 3.5 1.3 4.3-.6 3.6 1.2 3.5 1.3-.2 1.9-6.5-.8-5.7-.9-2.9-.8zM1508.5 233.1l2.2-.7 3.8.5 3.8-1.3-.9 2.3-6.7-.2-1.3 2.7 2.3.2 3.4-.4-2.5 1.9-.5 1.9 2.4 2.3-.9 2.4-1.9-1.5-1-3.4-1.3.6 .2 4.7-1.7 0-.4-4-.6-1.7zM1529.8 236.2l5.7 0 1.9 4.7 5.3-3.4 6.1 2.1 6.7 2.3 2.8 3.2 3.4 1.5-.9 2.3 3.2 2.9 3.2 2.8-5.1-.6-3.2-3.6-4.4-1.1-1.9 2.8-3.8 0-3.8-2-1.9.5 1.5-3-1.5-2.5-3.8-1.7-4.8-1.5-1.3-1.9-2.5-2.5zM1563.1 245.1l3.8 0 3.4-2.3-1.5 2.9-3.8.9zM1432.7 216l2.3 2.5 1.1 2.8-2.2 2.1-1.6-2.1zM1515.5 254.2l2.8-2.4 3.9-1.2-1 1.5-3.8 1.9zM1501.2 250.6l3.8-.4 3.8.2 5.4-.2-.6 1.2-5.7 0-4.8.4zM1523.1 230.8l2.3 1-1.3 2.8 .9 1.6-1.5-1-.4-2.5zM1524.1 240.4l4.7 0 .6 1.5-4.4-.6zM1496.8 276.5l1-.4 4.4-2.3 4.7-1.1 4.8-1.3 1.5-3.5 2.5-.9 2.6-2.9 2.9-2.8 2.9 1.5 2.8.2 1.9-4.6 3.8-1.9 4.8 1.4 3.4-.4-1.5 3.2-1 2.5 3.8 1.9 3.8 2.8 2.5 0 1.5-4.7 .2-4.8 1.5-3.4 1.9 3.4 .4 3.4 3.1 1.4 .9 3.8 1 3.8 4.2 2.3 1.9 3.4 2.4 2.5 3.3 3.2 1.3 3.8 .6 3.8-1.4 4.8-2.4 3.8-1.9 3.8-1 3.4-3.8.9-3.2 2.3-3.4-1.5-3.9.4-3.8-.8-1.9-3.8-2.8-.6 0-3.2-1-1.9-2.8 3.4-1.9-2.4-1.9-1.9-4.8-1.9-4.7.3-5.8 1.2-3.8 1.3-.9 1.7-6.7 0-3.8 2.1-3.8-.4-1.9-.9 1.2-3.4-.2-3.8-1.4-3.9-1.5-2.8-1.3-2.9 .6-2.8zM1555.6 312l3.7.8 3.4-.4-.2 2.5-2.3 2.5-1.9 0-1.5-2.3zM1609.1 300.1l3.1 2.1 2.2 1.9 1 2.1 4.4 0-1 3-1.7.6-.8 2.4-2.2 1.6-1.2-.6 1-2.5-2.7-1.3 1.7-2.5 0-2.3-3.2-3zM1609.1 311.7l2.9 1.5-2.3 3.2-1 1.5-2.3 1-1.1 3-2.3 1.4-2.8-.4-2.9-1 1.9-2.1 1.9-1.5 3.8-1.9 1.9-2.3zM1296.1 156.7l2.9 0-.2 3.4-2.1.4zM1296.9 153.1l1.7 0-.4 2.8-1-.4zM1304.3 162.4l5.9-.4-1 2.9-4-1.2zM1325.4 167.1l5.1.6-3.4.6zM1342 168.1l4.1-1.1-1.3 1.7zM1381.9 210.7l2.3.2-1.3.4zM1372.4 102.9l2.9-.2-1 1.3zM938 383.7l28.5-.1 13.4-2 15.2-1.5 19-2.8 19-1.5 8.2-1.6 20.4 1.2 13.3.9 9.5.6 5.7-2.9 7.6-.5 11.4-.4 19.1.8 7.6-.4 3.8-3.8 7.6-2.9 5.7-3.8 5.7-3.8 7.6-3.8 6.7-.6-2.9 2.5-5.7 1.5-1.9 3.3 1 3.8 .9 3.8 1 3.8-2.3 2.8 7 2.9 15.3 3 15.2.8 13.3-.6 13.3-3.2 15.2-4.8 15.3-3.8 13.3-2.3 9.5-1.7 15.2.6 13.3-.8 19.1 1 15.2-2.1 9.5 1.7 13.3-3.6 13.3-3.6 7.7 1.3 11.4 1.7 11.4.8 3.8 1.3 7.6 1.7 7.6-2.1 7.6-3.2 11.4-.8 11.5-.3 11.4-1 9.5 1.5 9.5-1.1 9.5 1.1 9.5.6 13.4-.8 15.2-.7 13.3 1.5 7.6 1.7 11.4 1.7 15.2 2.1 11.5 1.9 8.5 1.7-4.7 3.1-7.6 3.4-2.5 3.6 4.4 2.1 9.5-.6 9.5 1 9.5.7M1373.7 145.8l4.8-.1 2.8 2.8-3.8 1.5 0 2.9 3.3 2.8 1.9 3.8 .2 4.2-5.4 1.2-3.8-1.6 0-3.8 1-1.9-3.8-4.7-1-2.9zM1391.8 147.6l3.8-1.4 1.9 2.9-2.8 2.4-2.9-1.5zM1478 136.7l3.2-.9 4.8-2.9 3.4-4-1.5 0-3.8 3.4-3.8 2.5zM1421.3 147.6l3.8-1.8 5.7.2-4.7.8-3.8 1.9zM1341.4 234.1l3.8.2 0 4.2-1.9 1.3-2.3-2.3zM1336.3 241.3l1.3 2.9 1.5 4.7-.6 1.9-1.9-4.7zM1345.2 253.1l1.3 3.4 .6 4.8-1-1.9-.5-3.8zM1105.4 145.7l5.8-2.3 4.7.4 3.4 2-4.3.4-4.8-.5zM1113.4 154.8l2.5 0 1-3.8 1.9-3.4-2.9 0-2.3 3.4zM1120.7 147.2l4.7 0 2.9 2.3-3.8 3-2.9-1.5 .4-2.5zM1122 155.2l4.4.3 3.8-2.1-2.9.2-3.8 1.2zM1128.8 152.3l5.2-.2 1.3-1.3-3.2.4zM1092.1 132.3l2.9 0 1.9 5.4-1 .9-2.8-2.8zM1046.5 109.1l5.7-1.9 3.8 1.4-2.9 2.4-4.7 0zM1057.9 118.6l5.7-2.2 7.6-1.2-2.9 1.9-5.7 1.5zM1068.3 123l4.8-1.1 5.7.2-5.7.5zM1338.5 120.6l3.8-1 .6-1.5-3.4-.4-1.9.9zM1346.1 118.6l2.9-.5 0-2.3-2.9 0zM1306.2 209.9l2.5-1.1-.6 1.7zM1147.3 264.1l1.9 1.5-.6-1.1z"/>
<path class="tx" d="M1103.3 132.3l1.5-.5 1.8-.1-.4 2 1.9.3 .3 2.4m-79.6-28l1.9-.3 3.3 1.5-1.3 2.1 .5 1.9 .7 1.1m35.6 6.9l-1.5-2.5-2.2-.5-3.2.1 .4 2.6-3.3 2.1m77.3 19.3l1.8-2.2-2-1.8-1.9 1.1 0 2.3 1.1 2m-42.1-26.3l1-2.3-3.9.8-2.1-1.1-1.6.1-2.1-.2m53.5 28.7l2-2.6 2.1 1.4 3.6 1.5 2.8-2.2-3.1 2.3m-50.6-22.7l2.5 1 1.5 2-3 1.4-1-2.9-4.2-.3m51.9 8.3l2.5-1.7 .7 1.1-1.6.9-1.7 0 1.2-1.1m-118.7-22.6l-1.6-1.2-.2-1.8 4.2.1 .7-1.3 2-.8m117.2 39.6l-1.7-1.9 2.7-1.2 .2 2.2 3.5-1.6 .3-1.6m-13.7-13.9l-1.2 1.3 3.3 2.2 2.9-2-2.2-2.1 1.7-1.8m-82.5-5.4l3.9 1.5-.4-3.1 1.2-1.3 2.1.2 .4 2.4m26.3 2.3l-3.6.1 1.2 2.6 2.9.4-.1 2.8-2.8 2m39.8 15.5l3.2 2 1.6-.8-2.1-2.8-2.4-.7-1.9-.3m33.3-10.2l-2.4-1-1.5-2-2.3 1.2 2.5 1.2 2.8 1.1m-19.5 12.2l-2.2 1.6-3.2.2-3.8.8-.4-2.3 1.9-.9m3.6-15.7l-.2 3-1 2.3-.8 2.1 1.6 1.7 2 1.6m-79.7-13.2l.9-1.2 2.5 1-1.7 1-1.5-2.2-4.3.3m-11.9-6.5l-3.6-1.6-.2 1.6 2.7-.7 4.4-.9-.4-1.4m39.3 12.7l1.8-1.2-.3-1.1-1.3-1.8 2.6.2 2.8-.9m-65.3-7.9l2.9-.2-1.2-2.7 1.3-1-2.9-1-1.7.4m117.6 38.2l-3.9.9-2.6.2-4.1 1.1-1.6-.8-1.9-.8m7.7-10.6l-.4-1.8 2.2.6-3.1 1.5-1.5 1.1-3.3 2m-93.3-29.1l-3.7-1.2-1.9-1.7-4.6-.3-2.9-2-.5-1.2m110.2 33.7l2.9 2.1 2.4-1.8 2.3.2 1.5 1.7-2.4 1.2m-47.2-15.4l.4-1 1.8-.3 1.6.2-1.6 1.3-3.2-.7m9.3-11.5l1.5 2.8-1.8-2.6-2.9 1.4 .3 2.8-3.1.1m2.2-8.6l3.3-.4-1.3-2.4-2.1-.5 1.4-.9 1.9-.2m47.3 17.8l-.8 2.5-.4 1.1 3.3 1.3 2.8 1.1 1.7-.3m-21.7 9.2l3.2 1.4-1.1 2.5 3-.4 2.9.5 3.4-1.3m-84.9-26.5l-1-.9 2.3-.4 1.9-2.2-.6-1.7-.9-1.9m28 30.1l-1.5-1.9-1.2 1.1 2.3-.3-1.1-2 1.5.2m6.5-5.9l2.4-.6 3.7 1.4-3.5 1.1 .7 1.3 2.9-1.7m56.2 6.3l-1.4-3.1-1.7-1.4-.9-1.6 1.9.1 .3-1.7m6.9 9.6l-.3-1.4 1.8-2.9-3.9-.8-4.2.9 2 1.7m-28.2 12.2l-1.7 0 .5 1.3-4.5-.7-1-2.4 1.8-1.9m33.2-18l-4.6.1-1.9-.2-.1-1.3 1.2-1 2.2.4m-48-16.9l-1 1.8-.8 1.8-1.4.7-4.2-1.2 1.4-2m15.2.1l2.1-.6 3 .2-1.4-2.7-1.5.4 .3-2.5m38 24.1l.2-1.9-4 .6 1 3.1-1.5.8-2.1-1.6m-13.6-.3l.6-2.7 4.2-.8 1.5-1.3 1.8 1.1 3.6.3m-82.2 3.3l4-1.1 2.2-.4 3 2.3 2.5-.1-1.4 1.9m-17-12.6l-.2 1.1-2.1 1.4 0 1.4 3.7.8 2.1.3m105 12.2l-1.6 1.1 1 1.6 2.1-1.5-4.4.6-.6-1.9m-2.4-.7l-3.8-.2 1.9-2.1 2.3-.9 2 .4-1.8 1m-123.5-29l.2 1.1 .1 1.9 2.1-.5 4.1.9-2 1.4m-13.9-2.7l-3.9-1.3 2.3-.4 3.5 1.2 .7-2.4-1.6.2m55 23.4l-1.1 2.7 2.8 2 3.2-.9 2.4.6 2.2 2.2m39.6 5.3l-.2 2.3-3.4 2.1 3.4 2.1-.3 1.2-2.9-.8m-10-.7l-1.1 2.1 2.3-.2-2.7-.5-3.4-.8 3.7 1.8m-11.2-41.7l-2 1.5-3.9-.7 .3 1.3 1.9 2-1.7 1.5m-44.6 10.5l-1.5-.4-1.6-2.3 2-1 3.2 1.7 1.6.5m102.6 15.4l-2.8-.4-.8 3.1-1.5 1.1-.6-1.9-2.8.1m-2.2-9.2l1.4 2 3.9 1.4-2.3 1.8-3 .6-.7-1.6m-54.3-26.8l3.2-1.6-2-.7 1.7.3-2.5 2.3-1.9-.7m-17 20.2l1.7-1.1-.8-2.9 3.2.6 1.1-.9-1.4-.9m30.8 15.5l-2.9-.3-2.4 1.1-1.6.3-2.1 1.5-3.7-.9m36-9.1l.9-1.1 2.4 1.2-2.2 1.3-1.2.8-.4 1.2m-41.6.5l-1.4 2.7 3.7-.7-.2-1.4-2.5 1.2 3.9 1.5m-55-23.2l-1.9 1.3 .7 1.3 2.1-.8-.7-1.3-1.5-2.9m53.1 25.2l.9 1.3 2.6-1.8-1.6-.8-1.6.7-2.6 1.7m-19.9-28l-3.3 1.9-2.3-2.8-2.5-.8-1.6 1.2 3.3.3m6.5 5.4l.8-2.6 3.3 1.7-.5 2.4 3-.9 1.1-1.6m-39.8 8.3l-4.1-1.1 .9-1.4-.4-1.1 2.5.6-1.3 1.6m13.8 2.9l-2.6-1.6-1.3-1-1.1 1.4-1.6-.6-4.2.4m95.7 10.2l3.1 1.2 2.6.4 2.6-.9-2.6-1.8 1.4-2.9m-117.3-14.2l4.3-1 .6 1.5 2.2 1.5 4 .5-.1 1.7m89 33.2l-2.2-1.9-.9 1.4 1.5.4 3.6-.9 2.7-2.4m-12.3-43.7l-1 2.4 2.8.5-1.3-1 .8 1.3-1.6-.1m-45.7 4.7l1.5-.7-2.6-2.4-1 1.1-1.8-.4 2.8-2.1m69.4 13.4l2.1.8-1.2 1 .9 1.4-1 1.8-1.4-1.3m-80-7.7l.3-3.1 .1-2.9-.8-1-.3-2-2.5-.5m-6.8 2.4l-.8-1.3 2.1.3 2.7-2.5 1 2 1.1 2.6m13.8.4l-2.2.7-2.6-1.8-1.3-1-1.7-.2-1.9 2.2m76.6 10l-.6-1.9-1.7.5 .8 1-1.7 1.1 2.6 1.2m-61.4-14.3l.8-2.2-2.4.5 1 1.2 .9 2.7 1.1 1.1m11.2-3.4l2.4-.2 2.1-2.5 1.8.7 0 1.7 .1 1.4m-61.3-4.8l4.6-.5 2.2 1.2-2.5.8 .7 2.5 .6 2.4m70.8 20.6l2.9-.3 3.5.3 2.3.6-2.8 1.7-.6 1.6m-32.7-6.3l-3.4.8 1.3 1.2 3.9.5 2.4 1.4 .3-1.1m28.3-21l-4.3-.8-.1-2.5 1.6-2.4 4 1.6 .7 1m-35.2 9.5l.9-1.5-2.8-2.4-1.6-1.1-2.3 1-1.5-.9m28.9 27.8l2.2 1.8 3.6-1.4 2.2-.6 1.6-.8-1.2-1.6m35.5.6l.8-1.9 1.6.1 1.5-1.3 2.4.4 2.7.7m-83.3-30.1l-4 .8 1.9 2.4-3.6 1.3-.8 1-2.1-2.8m53.3 30.2l1.3 1.3 2.5-.5 1.4 2.8 2.1 0-.7-2.4m12.5-21.5l-1.4 2.8-.2 1.6-1.9.5-1.6.3-2 .2m-37.1 2.9l.4 1 3-.4 3.2-1.2-.1 1.3 1.8 2.1m-5.3-2.2l-3.4 1.1-1.5 1.6 2.3.9 2.5 1.4 1.9-.8m-13.3-1.2l.5 1.7 2.8-.1 2.3-.2 4.6-.4 2.7-2m-33.6-6.9l.8 1 4.3.2 1.7-.2 1.1.8-2.2 2.6m-18.9-8.3l-1.2 1-1.4-.6-3.4 2-.5 1.8 3.7.9m56 14.7l0-1.7 1.1-2.4-1.7.1-1.6.3-.8-2.7m5-25.6l3.7 1.9 2 1.3-2.8 1.5-1.6-.8 1.4-.5m13.8 35.2l-1.8 2.7-1.4-.6 3.7 1.4 1.5-.7 1.7-2.3m1.4 4.9l3-2 1.1 1.6-2.5-1-1.9.4-3-1.6m20.1-13l3.8 1.1 2.5-.1 4.2.7 2.5 1.8 4.1 1m-20.2-2.1l1.5 1.7 3.2 1.7 .9-1-3.3-1.7-1.8 2m-81.7-30.3l4 1.2 .9 1.1 2.7 2.1-2.2 2.2 2.2.4m-10.5-2.1l.2 1.3 3.8.3 .9 2.3 3.9-1.3 2.6-1m39.5 25.7l3.7.5 2.3 1.6 1 2 1.6.7 4 0m-78.5-24.6l-1-.9 4.5-.6-.7-2.1-1.2-1.4-2.8.4m62.3-8.7l.6 3-3.4-.5-1.5-.8-.5 1.6 .3 2.4m-20.5 14.8l-4.6-.3-.5-1.1 2-1.3-3.6-1.7-1.1.9m51 10.7l.2 1.3-1.4 1.3-2.3-1.4 1.3-1.3 3 1.5m-52.2-26.8l-1.8.6-1.2-.9-3.2.3-.6-2.9 2.2-1.2m80.7 27.8l1.4-1.5-1.8-.4 .3 1.1 3.4-.8 1.8 1.6m-88.8-27.2l-2.6 2.1-2 .3 1.8-2.6-.3 1.5 .2 1.4m-13.8 3.4l-1.7 0 .8-2.3 .6-1.6 3.5-.1 2.4-2.2m55.8 33.7l.3-1.9-1.2-.8-2.1 1.1 2.3 2.4 .8 1m49.7-15.1l-.6 1.4 2.5.7-.7 1.8 .2 1.1 .6 1.9m-8.8.7l-2.7 1.9-1.8-2.7-2 1.7-1.9 1.7-.8 1m-84.5-27.7l0 2.6-1.6.2-2.6 1.4-2.7 1.8-2.3-2.5m80.3 33.9l2.3-1.4 1.8.3 1.6.8 1.2-2.5 4 .6m22.6-14.4l-1.7 1.8-3.8 1.6 .5 1.8-2.2 1-4.3 1m-34.9-6l.4-2-3.9-.6 .6 2.4 4.2.2-.1-1.1m.2 5.8l-3.2.3 1.4 2.2-2 1.7-3.7 1.8-2.3-.6m10.7 1.7l2.7 1.1 0 2.1-.1-1.6 3.2.4 .9-2.3m-74.7-28.3l-3.4-.1-2.5-.3-.5-1.5-.9-1.8-1-.8m31.4-2.9l-.5-2.1-2.1-.1 1.9-1.4 3.9 1.6 1.7-.7m20.2 8.7l2.7.9 2.7-1.8-1.7-.7-.7 1 1.4 2.1m-19.6-3.7l2.6.6 2.6 1.1 2.2-.8 3.2.1 2.2.9m-.3 14.6l1.9-.4 2.7-1.4 1.6 2.9-1.6 2.6 4.1 1.4m-9.1-28.2l1.5 3 1.2 2.1 2.5.6 1.9 2-.3 3.1m-21.5 6.6l2.5 2.7 1.4 1.7 4 1.6 1.2 2 2-.2m53.7-5.4l-2.8-1.7-3.6 2.1 2.2 1.3-1.6 1.3-1.8 1.7m-55.6-18.1l-1.4-.4-1.4-2.7-2.3-1.9 1.8-1.7-2.3 2.8m30.5 22.2l2.8 1.8-1.4.8-2.3-1.5-2.7 1.4 .7 1.1m-82.7-21l1.9-.1-.8-2.2 1.2-1.9 1.3-.7-2.3-1.6m91.2 31.7l-2.3-2.4 .9-2.9-2.3-.6-4.5.1-4.5.2m27.7 7l-2.7.9 .3 1.6-2.5.5-2.2-2.7 1.4-2.1m-45-7l1.3 2.7-.7 1.5 3-1.6 .9 1.6 1.9-.5m2.4-24.7l-2.4.7-.5 1.9 2.1-.4-1.9-1.7 1.4-1.8m-46.2 7.6l-3.3.6-2.2-.6-2.2.3 .5 1.3 1.6-.9m115.2 18l-2.6-1.5-.8-2.1 1.1-.9 2.2-.2 .1 2.6m-28.6.6l-3.6.4-2.4-2.4 3.7 1.6 3.3-1.2 .1 1.2m-4.9 8.7l2.9 1.7-.6 1.9 1.5 1.5 1.5.5 4.5.2m-29.1-42.1l-.6-1.1-1.1 1.4 .7-1.6 3.5.8 2.1-.6m-45.7 21.1l0 1.9 1-1.7-2.7-1.2-1.7.7 2.6.4m35.4 7.3l1 .8 .9-2.6 3.3 1.3-.1-2.3 3 .2m16.1-25.1l-2.3-.2 2.4-.2 1 2.4 4.3-.7-2.2-.9m-42.7 18.2l-1.8.9-.6-2.2-2.8-2.1-4.4.3 1.4 1.9m-2.3-.3l.5-1.3 2.1-2.8 1.3.8 1.2 1.2 1.5 0m67.6 9.7l-2.5-1.3-1.4-1.5-1.1-2.4 2.9-.3 2.4-.7m-70.8 4.5l-.2-2.9-3.8 1.6-1.9 2.5-2.4-1.8-2.3-.7m48.3-22.6l-2.2.9-4.2-.5 1.3-1.2-3.1.4-2.6.7m59.3 19.3l-1.6-1.2-1.5.6-1.2 2.1 2.2 2.2-4.1 1.5m-19.4 16.5l0 1.4 2.9-1-.2-1.4-1.7-.3-.5-1.8m22.4-19.3l.9-1.3 3.2 1.9-1.9 1.3 1.1 3 1.6.3m-54.1-16.8l-3.1-1.4 .1-1.4 1.3-2.8-.1-1.3 1.6.6m38.5 36.2l-3.1-1.4-.8-1.2-2.8 1.2-.8 2.7 1.6-.2m-39.6-34.4l-2.1-.2-1.2 2.4-2.1 1.4-3.1-1.9-1.5-2.8m69.7 14.9l1 1.7 .8 2.2-.6 1.8-2.2-1.8 0-1.1m-32.9 12.5l-.4-1.6-1.4-2-2.9 2.5-1.3-2.1-4.2.1m25.9-14.4l-2.4.4-.1 3 3.5-.9 3.3 1.4 2.7-1.1m-28.2 10.9l-1.7-.1-1.8-1.3-.7 2.1-1.6 1.1-2.4-.8m44.1-5.9l-2.5-.1-.1-1.2 1.8-1.2 2 2.7 1.3.8m-107.9-7.2l3 1.8 4.1-1.1 1.9 1-1.9.5-3.1-1.4m-.7-1.9l2.1.3 3.1-2.3 .5-1.2-3.7-1.4-.7-1.3m18-1.2l-3.2 1.2-1.7-.2-1.4-.6-2.6-.1-3.4 0m1.6 13.6l-1.2-2.2-1 1 2-.4-1.1-1.8-1.7-2m55.5 11.8l-3.4 1.1 .2 2.7-2.9 1.9 2.9.6 1 2.1m10.4-29.9l-.6 1.5-2.5-2.5 1.3-.8 3.5.3-2.3-2.5m-82.8 6l1.4-1.7-1.5-.6-2.8-.4 .3 3.1 1.3 1.3m15.9-3l-4.7 0-1-2.1 3.8-1.1-1-1.5-4.1-.1m49.9-1.6l-4.2.2-4 1 1 .9-4 1.5 .4-3m-40.1 6.9l2.4 1.9-2.3.9 2.6 1.9 3-2.5 .8 1.5m74.9 24.9l-.2 1.3-2 1.6 2.4.7 2.3-.4 1 1.5m-30.4-17.4l-1.6-.2-2.9 1.3-2.4 1.6 .2 3.2 3.7-.3m-13.7-1.2l-.9-1.2-.7.9-1.4-1.6 1.3-1.2 3.1 1.9m-12.8-14.7l-4-1.5 3.5-1.2-1.3-1.9-3.4-2.2 1.1-2.3m67.9 22.1l-2.1 1.6-.7 2.5-3 1.3-1.6 1.1-.7 1.5m33.3-12.6l-.3 2.1-1.9.3 1.7 1.9 2 1.7 2-.8m-115.6-22.1l-3.9 1 2.2 2.5-2.7.2-.1 2.8-2-.1m34.5-5.5l-1.8-.1-4-1.6-2.8.6-3.9.6-.4 1.4m37.9 26.5l-.2-1.9 1.9.7 1.7.3-.1 2.6-1.8-.2m16.1-31.6l2.3-2.2 .4-1.9 2.5 1.1 .4-2.5-3.7.4m-42.1 14.4l3.8-.4 3 .7 4.1 1.1 1.1-.8 1.2-1.9m.5-7.1l-3.4-1.8-1.9-1.7 1.5 1.7-3.7.2-3.7 1m58 35.6l3.6 1.3-1.1 1 1.6-2.4 .8-1-.9-1.9m-82.4-32.9l-2.6.7 0-1.7-4 .1 .1 1.6-1.6.4m51 22.4l-3.2-.6-2.6-2.1 2.5-2.5 .6-1.1-2.4-.5m-34.9-13.7l-3.8-1-2.9 0 1 1.9 1.6-.5 3.4-.4m-33.5-3.2l1.3-1.1-3-.9-1.9 1.7 .4 2.5-1.5 1m124.8 31.6l-1.2-3 .3-2.5 4-1.2 .7-1.3 2.8 1.7m-127.8-27.2l2.6-1.5 3.3.3-.4 3-3.1 1.9-2.8-2m91.6 28l-.2-2.1-2.6-.9-1.8.4 .3 1.3 4.2-1.4m16.7-10.6l3 1-1.2 1-2.5 2.6 2.8 2.4 1.6.2m-67.2-4.9l-1.8-.7-1.8 1.2-1.3-2.1 3.1-.5 .3-2.3m49.3 19.8l-2.7-.3-1.7.8-2.8-2.4 .2-2.9-3 0m-13-14.8l1.7-.8 2.2.6-4.3 1-3.8.7-3.1 1.4m-33.3-13.2l1.7 0 2.7 1.2 .4 2.9-3.3-.3-.8-2.3m16.5-4.5l.1 1.1 2.5-.8 1.9 0 1.6 2.4 1.9.5m12.9 12l3.6-1.1 1.2-1.2 0-2.9-1.7-.4-2.2 1.1m-49.2-18.2l1.1 1.1 4-1.4-2.1 2.4 2.2.8 .1-2.2m8.4 5.5l2.9-.3 1.6 1.8 2.6-1.7-.3-1.9-3.9-.6m84.4 23.6l1.4-2.7 3-1.1-1.6-2.5 3 .4-1.3.9m-6.5 4.4l-2.3.8-1.9-1.3-2.6 1.6-1.7-.2-1.4-2.4m-46.5-10.2l-3.5.6 .7-2.8 2.4.1-1.1-1.7 3-2.1m24.1-5.4l-3.5-1.9-1.8-.7-1.5-.4-1.1 1.4-1.7.5m16.9 42.9l-3.1-.3-2.1-1.3-3.8.2 3.3-.3m16.8 3l3.6-1.1-1-1-2.4-1.2 2-.9m-63.3-12.2l.1 2.1 3.2.5 3 1.8 3.1-.5m68.7 8.4l-2.2.1 .7-1.4 3.1-1.8-1.8-.5m-111.2-17.8l-3.8-.7 2.7-1.4 .4-1.7-1.6-.4m116.9 26.6l2.4-.4-.4 1.7 3.5-.8-2.9-1.5m-38.8.8l2.5.4 3.5-.1-1.5 2.3-1.6-.8m-82.7-22.5l2.5-.3 .5 1.6 1.6-1.1-1.6-.2m-5.3-2.7l.8 1.3 2.1.2-1 1.1-.7-1.4m-.1-2.7l4-.4-3 1.5-.8-.8 1.8-1.6m91.6 28.9l-2.6-1.3-1.9.5 .7-2.6-.4-1.1m30.2-2.2l-2.6 1 .5 1.1-2.8-.2-1.3-1.5m-113.1-18.7l.4 1.1 1.4.9 .9.9 1.4-1.7m105.7 22.3l.5-2.4 3 .3-1.5-2.2 1.6.2m-101.4-15l-2 1.2 3.1.8 2.3-2.1-2.4-1.5m100.8 18.2l2.7 1.3-.3 1.5-1.6 1.1-1.4-1.6m-102.4-23.2l-1.9-.9-3.6-1.2-1.8 2.4 1.6-.1m94.2 20.7l2.4.4 2.2-1-.1-1.1-2.1.6m6 5.9l-.4-2-1.3-.9 1.1-.8-2.4-.3m-105.9-22.6l1.5-1.6 1.6.9 1.8-.8 1.9-.1m42.4 17.4l1.9-2.2 1.4.1 1.5.5 2.8 1.2m-28-2.1l-1-1-1.6.8-.7-1.4-2.4-.7m46.5 9l-2.8 1-1.6-2.2 3 .1-.3-1.1m-38.8-5.6l1.2 1.6 1.5-1.8 3.6.4-.4-2.7m5.9 4.7l-1.4-.2-1.2-.9-1.1.6-3.3-.1m82.2 11.9l-2.9-1.6-3.7 0 .9 1.3 1.7-1.3m-107.2-26.1l.2 1.5-2.9 1.9 1.8 1.2 2.9 1.5m15.3 1.1l-.9.9 1.2 1.9 1 2.1 1.4 0m77.8 9.9l0 1.4-1.5 2.5 1.9.3 1.6-1.2m-52.6-9l-3.2-.4-1.7-.5-1.2-.5-1.7.4m32.2 8.2l3.2-.6 1.1.7-1.8.3-.6.8m-10.8-5.2l-1.7-.8 2.2 1.5 2.1-.1 1.4.2m-53.1-12.8l-1.9.3-.1 2.5-2.9-.5 .1-2.3m18.8 8.7l-1.8-.1-1.2-2.2-3.2.4 1.4-2m73.6 14.1l2.7.1 1.3 2.1-2-2.4-1.9 1.6m-98.4-29.6l-1.5 1.4-.3 1.5-.2 1.1-.9.9m36.4 11.7l1.2.8-1-1.4 1.2-1.1-1.8-.9m11.8 6.3l1.6-.9-1.9-1-3.8-.3-1 1.3m15.9 1.3l3.7.3 .5 1.6-1.3.7-1.4-.1m43.9 1.1l.4 2.4-2.4.6-3.6-.2 .8 1.4m-8.6-.9l-2.5 1.1-3.2.6 1.8-2-1.4-.9m-29.6-7l1.9-.1 1.5 1.1 1.9-.3 2.5-.7m23.5 7.6l-3.5 1.2 1.9 1.4 2.2-2.2-2.7-.3m-67.8-15.8l0 2.1-2.4-.8 .8-.8 3.3-.4m78.8 12.6l1.5.9 3.1.7 2.4-1.5 1-.8m-65.6-7.9l1.2-1.6-2.6 0 1 1.7-2.4 1.2m-29.5-7.7l1.9 1 1.3 1.3 2.4.2 .5-2.5m37.6 8.7l-1.6-1.9-3.9 0 2.8-.7 3.2 1.4m52.7 14.3l-1-1.7 .8-2.6 2.2-1.2-2.6-1.2m-42.5-3.2l-3.4-.5-.7-1.6 1.9.5 1.6 2.3m-41.6-12.2l.5 1 1.8-.2 .7.9-1.7 2m100.1 15.7l-2-1.9-3.6-1.3 1.2-.6 .8.8m-95.1-13.8l2.4 0-1.3-1.5-3.8 1.1-.4 1.2m23.9 6.1l1.3-2.5 .2-1.2 2.4-.1-.7 2.2m-13.1-5.4l-1.5.5 2.4 1.7-2.4 1.7-3.8.6m-18-9.8l1.5.3 .7-1.7-1.3-1-3.1.3m86.7 20.2l-.5 2.6-2.2 2.3-3.2 0 1.6-2.6m-74.4-15.9l1.1-2.4 1.9 1.3-3.2 1.3 .9.8m90.4 15.7l.8-1.5 3.7.9 3.2 1-3 0m-14.1-4l-1.4 2.5 1.7.1 2.2-1.3 1.7-.3m-37.7-2.2l-2.8-1.3-1.8-.3-.2 1.7 3.8-1.1m-46-9.1l2.2 1.2 0 1-2-1.4-2-.6m10.5 2.2l-1.9-1.8-3.8-.3 1.5 2 1.3.1m44.2 5.9l2.6 1.3-2.9 1.5 1.5.4 1.6-.9m-50-15.3l-3.6-.8-.4-1.2 .6 1.2 .9 1.9m44.6 9.8l-1.9.2-2.3 2 1.8 0-.5 1m-19.6-7.2l.1 1.3-1.6 1 2.7 1.3 1.2.9m-22.6-8.1l2.1-.6 .7 2.2 2.6.8-.9 2.1m-13.7-6.5l1.5 1 2 0 2.9.9 1.3.9m87.3 15.7l3-.1 1.1-1.4-.7-1.5-2.1-.5m-11.4-61.8l-3.8-2.1-2 .5-4-.7 1.4-.8 4.8-.3m-38.6 16.8l.6 1.8 3-1.4 2.7 0-2.5.3 2.9.5m11.4-7.2l-.4 2 4.6.2 .1-2.2 0 1.6 1.3 1.4m24.1 8.2l-2.7-1.3-1.8-2.3-.6-1.2-3.8-.7 .1 1.9m25.2 9l-1.9 1.5-1.1-1.8-3.3-1.4-1.9-.7 .5-1.9m6.8 8.7l1.6 3.1 4.2-1-.3-1.9-3.3-.5 .6 1.3m-36-26.1l2.2 1.5 1.8-.8 3.7 1.5 2.3-.7-.4 1.4m-32.7 7.3l-2.9-.3 1.4 1.1-.6-1.5 .3 3.2-.2-1.6m-18.8-6.1l4 0-2.3.1 3.5.6m63.4 14.4l4.2 1.5 1.2 1.5-.9 2.9 1.5 1.9-1.8.7m-70.8-23.2l-.2 1.4 1.5-1.3-3.2 0-4.7.1-2 1m69.2 11.3l2.1-2.5 3.2 1.2 1.8-.7 1.4 1-.6 1.3m-65.6-6.2l-3.8 1.3-.8-1.6 2.8.5-1.7 2.6 3.8 2.4m54.5-3.3l1.7 1.5-3.2-.4 0-2.2-3.1.4-2.4 1.9m19.9 11.4l3.2-1.6-1.9-2 2.4-.9 .5-3 .1 1.3m-11.1 4.8l1.3-1.8 3 .5 3 .6-1.2 2.3-1.3-1.5m-24.2-27.3l-2.4.8-.6-1.2-.3-3.3 3-.8-1.8 0m35.4 32l-1.7-.4-1.4-1.1-1-1 2-1 .7 1.3m-5.9 2.5l1.2-2.5-1.6-1.4-1.5-1.3-.9-1.8-1.9-1.4m-65.8-12.2l3.4.6m47.1-4.3l-3.2 1.2-.7-3-2.4 1.6 1.6 1.4 4.1-.5m22.6 17.3l.3 1.9-2 2.8 4.1 1.6 2.3-.4 1 2.5m-85.7-11.1l-2.8-.4 .6-1.1 1.8-1.7 1.6 3-.3 1.2m43.4-7.3l3.7 1.2 4.5.8-.7 2.4-1.9-2.2-3.9.6m.4-18.7l1.8 1.5 1.6-1.7 2.1 1.3 4.9-.5 2.8-2m-3.1 2.5l2.4 1.7 .2 3.5 2.6-1.4-1.4-2.5 4.4-1.7m-53.6 15.7l-3.5-.1 .7 2-1.9-.5 2.1-1.7 1.4 1.1m36.5-15.3l.9-1.1-3.7-1.2-2.7-.1-1.8 2.4-3.4.9m26-4.6l-3.1 1.7-2.8 2.1 1.7.4 1.9 3-4.4.2m4 9.3l-3.7-.2 1.4 2.9 1.9-1.2-2.2.5-3.5 1.8m33.8 15.6l-.5-3.4 4.6-.6-2.1 1.4-1.6-1 .1-2.9m-14.3-1l1.4-1.5 1.7 3.1 2-.3 .8-3-1.9-2.9m-2.4-22.2l-3.8-1-1.5 2.4-2.5.3-2.1.5 1.8 3.1m1.5.6l-1.3 1.1-1.8-1.3-4.8-.2-2.9-1 2.4-1.2m.7 1.9l-1.1 1.3-2.3 1.1-3.9-1.2 .2-1.9 4-1.7m-6 14l-2.3 3 3.5-1.8 2.1 1.7 .9-2.3 3.3-2.3m4.7-15.2l-3.5.4-2.3-1.6-1.2 3.3 1.8 3.1-.1 3.6m14.8 12.1l-3 2.2-3.6-1.7 3.8-2.4-4.7-.6 .7 2.6m-83.2-5.6l2.4-.2-.5 1.5-3.6 1.8 .5-1.3 3.6 0m-5.4-.6l4.4.7-3.5 1.1 2.6.1 .2-1.2 1.9-3m15.3 2.9l2 2.4 3.9-.3 4.2.5 2-1-2.8.2m70.5-19.5l-4-.8-2.6 0 2 3.2-2.8-.3-1.4-1.3m10.7 24.5l2.8.7-1 1.5-3.8 0-2.7-.4-4.4-.4m7.6 7.7l-3.6.2-.9-1.1 .9-1.3 3.2 1 2-3m-1.1-2.2l1.3 1.2 3.6-1.8-1.9-.7-3.1 2-4.1-.1m-46.1-23.9l3.7-.2-1.7-.8-.4 1.5 3.2.2 .4 1.2m21.9 1.3l.1-2.6-2.1-.6-2.2-2.8-4.9.9-.4-1.7m-6.7-.5l.1 2.6-1.2-2 .1 2.9-1.5 2 1.4-2.9m37.2-.2l2.2-3.2 2.2 2.5-4.4.7 1.3-2.5 3.2 1.3m-69.1 17.1l-3.6 1.6-4.9-.6 .7 1.9 1.4 1.1-1.9.3m43.5-21.8l-2.3-.3-1.1 1.5-2.1-.9-1.2 2.2-3.2 2.1m46.2 20.1l.9 2.8 .3 2.5-2.3.5-3.8-1-1.7-.3m-18.6-11.4l2 1 2.5-1.8 2.6-.1 1.7 1.4 .1 3.1m-30.8-18.4l-2.5.4 5.1-.5 .4-2.1-2.7 0-2.7.3m14.5 8.2l-1.1-3.3 2.4-.1-4.3.3 3.5-1.1-.2-1.5m6.5.4l2-2.4 2.2-.3 1 2-2.9.6-3.2 1.2m30.5-3.7l-.1-2.5 4.8-.1 1.5 1.1 .8-2.3-3.1-.2m-19.7 25.2l3.5 2.6 .6 3.1 4.1 1.9-1.5.7-3.7-1.7m-9.4-10.1l-2.3-3.1-4 .4-3.2-2-2.8 2.1-3 1.4m40.8 16.1l-3.1-2.4-2.7-1.3-.5-2.6 2.6-3.1-4.2-.3m-8.2 7.1l2.1-.2 5 .9 1.7-3.3 2.5 0-1.3 1.6m-102.3-16.2l1.8 1.9 1.1 1.8-3.4-.2 3.3-2.3 4.3-.2m233.9 22.3l.7-1.3 3.9-1.3 .7 1.7 1.9-1.7-2.2-.3m12.7-3l-3.7-1.5-.5 2.8-3.7.9 .5-1.8 .7 1.1m36.3 4.5l-.3-2.1 2.3-1.3-3.5-.8-3.6 1.1-3.1 0m-11.3-3.8l1.5-.6 .3-1.3 3.6-1-1.6-2.6 1.3-.5m18.4 5.8l2.7-.4 1.8 1.9 .4-1.2-3.4 1.2-1.1-.9m-9.1 3.5l-2.4 2 .2 1.8-3.3 0 .8-1.9 .3-2.8m-16.1 7.5l-1.3 1.5 1.6 0-.7-1.1-2.6-.5 .4 1.7m22.6-10.7l-1.5-.3-.5-1.6-2.8.6 .4-1.6-1.3-2.5m-10 5.9l-3.2-2.1-2 2.5 1.8 2.2-1.3.5-2.3 0m-18.4 2.1l4.2-.8-1.9-2.4 2.7.2-.9 2.5 3.4 1.1m48.8-14.5l1.5 0 3.2.3-2.3.6-4.2-1-2.9-.3m-4.9 9.2l-1.6 1.6 1.6 2.2 2-1-1.9-2.1-2.1-1.2m-39.4 6.5l1.2 2.3 3.3.5 1.8.8 2.6.5 .5 1.3m2-11.1l2.7 1 3.5 1.6-2-2.2 1.6-.6 .9 2m-24.4 5.4l.7-1 2.2 0 2 1.2 .6 1.7-3.8-.9m48.5-7.7l1.7 2.6 .4 1.4 4.2-.1-.7-1.7-2.5-1.7m-10.6-4.1l1.3-.5-1.5-2.6-1.4.7 .4 1.3-.9 1.3m17.9-5.9l0 2.9-2.6-.1 1-2.6 1.9.1 1.6 2.1m-17.1 6l2-.3 1.9-.4 1.3.9-2.2.8 2 2m-42.7 5.7l-1.2.7-1.5-1.9-1.3-.7 1.9 1.3 3.2 1.6m60.6-16.7l-1.3 2.2 0-2.7-3.3-.9-3.7 1.7 3.7.9m-45 1.7l.9 1.8-.4 1-1.3 2-1.7.4-1.6.2m-2.2 1l-1.8-1.7 4.1-1.1 2.1.9 .7 2.5 .6 2.7m-3.4-1.2l-1.8-2.7-.5-2.2-2.8 1.4-1.9 2.4-1.5.3m45.4.7l-4.2-.2-1.8-.9-1 1.3-2.9.2 1.1 1m-37-2.6l3.5 1.1-2.2 2.5-3.6 1-.7-1.2-.5-1.1m37.6-15.1l1.9-1.5 1.5 1.2 2-2.1 2.9.2-3.7-.5m-31.1 19.4l-.4-1.9-1.9.6 1 1.3-1.7.1 .5-1.8m25-5.7l1 .9-1.5 2.1 4.4-.1-.2-1.3-3.6-.5m-20.6 10.6l3.3-1.6 1.8 2.3 2.5-1.3 .6-.9 0-2.3m29.8-7.3l3 1.1-1.2.9-3.7-.8-2.5-.2 1.1 2.1m-33.1-4.5l.2 1.9 1.8 2.8 1.7.7 2.4.3-2.2-.1m14.7-4.6l2.4.2 3.3.8-.8 1.7 2.9 1.4 1.8.3m-29.7 3.4l2.2-1.6-2.8-.9-.6 1.9-.2 1.6 1.6-1.3m-1.5-10.1l.4 2.3 .1 1.1-.3 2.7 .5 1.1-4 .8m38.1-16.6l-1-.9 .2 2.9 1.6.4 1.6.5 1.8-.7m-30.2 5.3l-1 1.4-2.5 1.8-1.8-.5-3.1-1.1 1.7-1.1m37.2 9.6l3.6-1.3-.2-1.1-2.8-1.2-2.9-1.4-1.7-.7m-10-.1l-.7 1.7-.1 1.1-1 .8 4.1.3 1.7-.7m12.2-7.2l.4 1.5-.7-1-3.1 1.1-2.8.9 .9 1m-25.3-4.5l-2.2.3-1.8-2 .3-1.6 2.7-.8 .9 2.8m29 2.4l-1.1-.9-1.7 1.3-3.2 2-2.8-1.3 2.6-1.2m9.4-4l2.5-1.2 0 1.3-1.6 1.3-1.1.9-1.2-1.5m-12 9.2l.4 1.6 .9 1.9-1.8.4 3-2.1 2.8 2.1m-38.5 1.2l-2.2 1.2-2.6.5-2.2.5 1.5 1-.1-1.6m32.2-2.2l-.3-2.1 1.2-1 1.6.9-1.7 2.1 1.9-.5m-9.9-8.7l-1.3.8-4.3.4-3.1-1 2.4-2-2.1-1.1m4.5 5.6l1.8-.4 1.2-1.8-4.3-.1 .3 3 1.6 0m16.4 1.5l1.3-1.9 1.9-.2-.6-2.1-2.3.4-1.9.9m3.5-.5l2.9-.4 3.7-.8 1.1 1.2-1.1 2.6-3.4.2m.9-1.1l3.6-1.7 3.1-.2-1.2-2.1-4-.1-2.7-1.3m-36.1 3.4l-.9 1.3 .9 2.2 2.3-1.8 .9-.8-2.9-.4m45.7 2.1l1-1-3.5-.4-3.3.9 1.6 1.1 2.6.1m5.7-10.7l1.1 1.4 2 2.3-1.4.3-3.1-1.2-1.7-.5m-2.9 7.6l-1.6 1.3-2.2 2-1.8 1.1 .5-2-1.8-1.3m-3-1.5l-1.2-1.4-2.9-2.2 .8-1 1.9.4 .9-2m-42 12.5l-.5-1.6-.6-1.2 1.7-1.2 2.1.2 .3 2.4m26.1-15.7l-.4 2.5-3 1.1-2.9-.2-3.4.2-.7-2.7m-10.6 15l1-1.6-1.6 0 .9 1.3-3.7 0-.3-2.6m43.3-2.2l.6-1.3-4.2-.1-2.9.6-1-1.6 1.6-.9m-2.6 8.1l-1.5-1.8-1.9-.7-2.5.7-.7 2.2 2-.8m-23.4 3.1l1.3 2.7 2.2.3 1.5 0-1.1-2.2 2.9-.4m13-13l-2.9 1.1-.7-2.7-2.3.5-1.4 2.6 1.7.3m3.6-8.4l-.3 2.4-1.4 1.8-1 1.3-4 .1 0 2.5m22 3.1l-.6 1-2.5 2.4-2.7-.7 1.3-1.2-1.1-.8m13.1-8.9l-1.3 2.8-2.2 1.2 2.7 1 1.7-.4-.6 1.5m-6.3 7.6l.5-2.7-2.9-1-2.3.7-.8-1.6-3.1-.4m-30.9 7.2l1.1-.8 1.5-.8-1.3-.9-3.6.7-2.7-1m17-2.4l-3.6-1.3-1.9.5 2.9 1.5 3.3 1.6-2.3 1.6m34.2-14l-1.9-1.5-2-1.6-3.8-1.2 3.5 1.4-2.6 2.2m-26.2 21l0-1.1-1.7-.5-.8-1.1 1.7-.4-.4-2.8m1-15.6l.3 2.9-3.8 1.3 0 1.1-3.3-.6 .2 1.2m46.7-4.8l-2.6 1-.5-1.4 2.8.7-2.8.7 2.3.5m-35.6 6.7l-2.3 2-3.4.8 1.2 1.1-2.5 2.1-1.9.1m39.9-3.9l-1.7-2.2-3.4 1.7 .5 1.3-.5 1-2.5-.1m-35.5-3.4l.1-1.9 3.3-.9 1.5.4 1.6-2.3-2.2-.6m1.6-1l.2-1.6 .5-1.2 2 .2 .5 1 1 1m-9.4 15.5l1.7-1.1-1.9-.4 .8-1.8-1.5-.6-2.3 1.5m45-2.2l3.6-1.3 .3-1.4-1.1-.7-1.4-1.3-3.5.7m-27.8-1.2l-.9 1.9-2.2-1.5-1-1.6 .1-1.5 2.8-1.6m-306.8 5.7l-1.8.7 .1 1.8m-22 3.5l2.2-.3 1.1.3m5.4-4.9l2.5-.1 2.3-.5m-4.3-3.4l1.9.9 2.2-.6m-19.6 2l1.8 1.4-2.2.8m8.2-6l-1.8.6 .2.8m-2.1 8.2l1.8.4 2.3-1.1m-.1-8.7l1 .2-1 1.7m-14.8 5.6l-1 .2-.3-1.6m15.1 5.7l-2.3-1.3 1.2-.4m27.5-12.6l1.1-.9-2.3-.3m-23.7 6.4l-1-.3-2-1.5m1.2 2.3l2.4.3 1.9 1m-13.8-3.7l.5.9-.3-.8m19.6-4.7l2.2 1-2.2.9m1.6-.6l1.2 1.1 2.2.7m-2.3 5.2l-.9-.5 1.2-.6m-5.5-8.4l1.8-.4 1.4 1.1m-13.8 9.3l2.1 1.4 .6 1.9m26.6-5.6l-1.5-1.4-1.4-1.4m1.3.8l-.2.9-.3.7m-25.3 8.6l1.6-1.1 1.3.4m50.2 9.3l-1.6.5 .2-1.7 1.7 1.3 1.1 1.5m-7-7.2l-.8.7 .6-2.2 2 1-.4 1m-2 .6l-.7-1.2 .2 1.2-.9-1.4 2.7-.2m15.5 14.4l-1.1-.6-2.2.7-.9-1.7 1.1-1m-8.9-4.8l-1.5-1.9 1.4 1 .5-2.1-1.9.4m-8.4-7.1l2.8.6 .1-1.1-1.1 1.6 1 .7m5.8 3.5l.9 1.6 1.1 2.2-.8-2.5-1.4-1.3m-.9.6l1-1.1-1 1.8-1.1-2.2-.2-1.6m5.2 8.4l2.8 1.5-.1 1.4-.3-1.1 1.4-.6m-7.1-8l-.7-1.5-1.3-.6-3.4-.3 1.2-2.1m10.6 11.4l-1.5-.9-.5 1.5 2.2 1.9 2.4 1.1m-6.2-7.3l.8 1.6 .7 2 2 .4-.9-1.8m98.5 195.1l2.7 1 2.8-1 1.5-.1-.4-2.3m2.3 3.2l-1.5-1.3-1 1.8-1.4-1.1-2.4-.7m3.7 3.7l-.1-1.5-1.4 0 1.8 1.8 2.1 1.3m-3.6-10.4l.6 1.6-1.5.7 1.5 1.7 1 1.8m-.5-1l.4-1.4-3 .5-1.2-.4-1.1 1.7m-1.7-10.5l1.2.2 2.1-.4 1.4.4 .2 1.8m.4 13.3l-2.8.5-.4-.9-1.7-1.7 1.1-.5m11 10.5l1.5-.4 1.4 0-.6 1.4-.6-1.4m-10.4-7l-2.2.7-.7-1.9 1.5-.7 1.9.3m4.2 5.5l.2 1-.5 1.2 1.9.4 1.2.4m-6.7-13.2l-1.9-1.6-1.2-1.2 2.4-.6 0-1.1m-2.2 2.3l-1.1 1.4 3.4-.2 2 1.2 2.2.5m1.2.7l-.5 2.1 1.3 2.3-2 0-.3-2m2.2-.1l0 1-1.9 1.6 .9 1.7 1.5.5m104.9-252.9l-3.6 1.9-1.3 1.6-1.9-1.8-3.7-1.1 1.3-1.3m7.9 2.1l-5-.3 3.4-.9-.2 1.7-3 .5-.8-2.6m-16.1-2.3l-5-1.1-4.7 1.3 2.8-2.1 1.6 1.8 3 .2m-74.9-.5l-1.7-.3 3.3.8-1.6-.7 3.8 1.1 1.8.3m45.1-2.3l2.6 1.3 1.9-.2 3.5-1.2 4.5 0 1.7.2m-32.1 1.5l-2.2 1.3-3 .3-4.1-.7-1.5.7 3.7.6m4.5-.6l-2.3-.3-3.9-.3 3.3.3-4.1.4-1.7-.4m62 0l-2.1 1.7 1.3-2.2 2.2-.4-1.8-.8-2.8-.3m10.3 3.6l-3.5-.7-3.5-2.4-4.6.3-3.6.9 3 .3m-34.3-.3l2.4.4-4.3-1-1 1-2.4-.2-3.5.1m55.9 3.4l-3.6-1.5-1.8.9-2-2.2 1.8-1.9 4 1m-14.3-1.1l1.3 1.6-4.2-.8 1.2-2.2-3.9 2.2-2.3-1m18.8 4.5l-1.2-3.1 1.5 2 3.6.1-3.1.2 .8-2.1m4 2.3l.6 1.9-2.8-1 1.8-1.6 1.8-.2-1.4.9m-5.3 1.7l.7 1.6-.1 2.6-.6 2.5 3.4-1-2.6.6m8.1-6.8l-1.4.8-2.4 2.4-3.7-.4-1.2-2.4-.3 1.4m-9.1 15.5l4.2-.1 1.5-1.1-.7-2.2 1.1-2.3-.5 3m.1 3.6l.2-1.3 3.4-.9-2.1.6-2 .3 1.2-2.6m-.2 1.5l1.7 1.8-2.3 1 1.7-.9-3.2.2-1.9-.4m13.1-12.3l-1.8-.9 2.1-2 .6-1.3-2.2-1.2 1.9.3m-5.7 4.7l-1.7-2.2-2.5.7 2.8-2.2 2 1.3 1.8-1.1m-2.9 8.7l3.2-.6-1.6-.6-2.8 1-1.9-.8-1.8-.8m3.5 1.1l-2.3-1.5 1.7-.4 2 0 3.1-.5 3.1-1.9m-4.6-.1l-3.1-2-1.9 0 2.7-.9-1.9-1.2 2.6-.5m.1 4.6l3 1.5-1.6 2.5-.2 1.3-.1 2.6-4.1 1m-7.1 5.3l2.7-1.2 3.1.2 1.2-.6-1.9.7-3.9.5m5.8-13.7l1.9 1.4 .9 1.2-1.9 2.5 1.4 1.3-1.8 0m8.7-10.7l2.1.5-.9 1.2-2.1.1-2.3.5-2.5-2.2m-59.2 14.6l2.2 1.5 1.6 2.4-1.7-2.8-1.5-1.9 1.5 1.9m3.2 6l-.8-1.9-.4 1.5 1.1.7-.5 2.3 1.8 0m3.4 2l.1 1.5 .9.9 2.2 2.3-2.3-.1-3-.9m-2-2.1l2.3.6 4.1 1-1.6-1.1-2.1-1.6-2.3-.1m-1.4-2.6l-1.4-1.9 .9-.9-1.4-1.3-2.4 1.6 1.9-1.2m5.4 8l-.6-2-3.2-1.8-2.4-2.4 1.7-.4 1.7 2.3m-1.2-4.7l-2.2 1.3-.7 1 2.6.8 3.6 1.6-3.7 1.5m10.5 8.7l-1.1-2.4 1-1.6-3.7 0-.7-2.7-2.3-2.1m.6.9l1.6 2.8 2.6.2 .7 1 2.7-.3 1.6.3m-15.3-13.2l2.3 1.6-1.2 2.3 .1 3 .3 1.7 3.2-.7m-3-5.4l-.9 1.3-1.3 1.2 2.2 1.7 .7 1.7-1.7.5m2.2-1.2l2.3 1 .2-2.5-1.9-1.5-3.7-.6 2.4 1.6m11.9 10.4l-.2-1.8-3-.8 2.9-.8-2.1 1.3 2.1.4m-10.5-3.8l-1.3-1.7 3.3-1.1-.8-1.1-1.9-.3-1.4.6m29.9 1l-3.2.8-2.9.2m-.8.6l-2.3 1.6 1.3-1.3m3.5-1.5l1.7-.2 4.1-.9m2.4-.7l-2.1.5 2.3-.5m-9.3 2.3l-1.9.6-1.5.9 1.5-1 1.5-.6m206.2-6.6l-1.5-1.3-1.3-1m16.9-1.4l-2.4.6 .5 1.8m43-12.1l-1.4 1.4 1.9.7m-39 12.2l-1.7-2.1-.3-1.5m54.3-8.8l.5-1.6 1.7-.6m60.2 11.3l-1.5-.1-.4-.8m-91-.1l.3 1.3-2.1.1m59.3-3.1l-1-1-1.7.2m-27.5-5.2l.7-1.2 2-.1m-4.4 4.4l-.9.9 2 .9m69.7 2.9l-2.7.4 3-.4m31.3.9l-3 .9 1.2 1.4m-97.5-13.7l1.6.2 1.1 1.4m-8.2 7.7l2.2.8 3.6-.2m79.5-1.3l-.6 1.8 2 .5m-58.8-1.8l1.3-1.5 .5.8m-30.1 1.1l1.8-.8 .3 1.1m95.8 4.4l1.7.1-1.1-1.1m-119-3.1l.9.8-2.9.1m-36.8-2.1l1.9.3 1.9.9m24.6 1.6l.7-1 1-2m100.6.8l2.3 1.3 .6 1.3m16.2 1.4l1.6-.5 0 .9m7.9-2.6l-.9 2.2 2.2.1m-127.9-5.3l3.4-.2 .8 1.6m33.5-4.8l-1.5 1.4 2.3 1.8m72.3 5.4l-.9-2.2-1.2-.3m-4.8-.2l-.1 1.2 .9-.9m-112.4-.4l2.7-.1 .2 1.5m-11 .6l-1.5.5-3-1.1m-55.1 15.4l1-1.6 1.3 1.4m17.5-.4l-.5 1.7-1.8 0m-16.3-2.5l-2.4-1 2.3.6m16.9-1.6l.5 1.6-1.1.4m-37.9 7l-.2-1.7 1.4-1.6m-15.3 2.8l-1.8-.1-.2 1.4m20.8-1.4l2.9-.2-1.6-1.6m-18-.2l-.9.5 2.3 1.3m3.1-1.6l1.3 1 2.1 1.1m-3.8-.1l2.1-.8 .8-.7m8 3.9l1.1.6-.7 1.2m-8.9-7.6l-1 1.1-1.2-.3m18.4-1.8l2.7.6 .7.9m23.8-2.4l-1.7 1.4-.8-.7m26 9.9l-2.5.3m49.5-7.7l-.7-.8m-64 11.8l1.9.6m64.5-5.9l2.6-.1m19.7.3l-1.3.2m-24.5-1.1l.6-.8m5.1 8l-.5 1.1m-67-9.3l.8-.5m73.5 0l1.4.1m-24.6 12.6l-1.5-.7m24.3-17.5l2.3-.3m22.8 14.4l1.7 0m35.7-4.6l0 .8m-104.8-3.1l-1.6-.6m98.3 5.9l-.4-1.3m-22.1-9.1l-2.4-.5m-102.3 14.5l2.4 0m64.2-13.9l-.3 1.7m67.6 7.1l.1 1.4m-112.9-12.5l-1.2 1.1m-5.2-4.8l-.7-1.1m-1.8 4.9l-.4-1.7m72.6 2.3l1.5-.1m-83.6 14.4l-1.9-.8m18.3.6l-.8.8m10.6 2l-.4-1.5m5.5-5.9l-.9.2m112.4-19.8l.8-1m-116.8 5.3l1.5-.2m94.3-4.9l-.3-.7m-433 80.6l2.5.2-.9 1.5 2.5.7 .3 1.2m21.9 18.1l-1.9-.6-1-1.3-.9-.6-1.6-1m-24.4-17.3l-1.5-.6-2.4.1 1.6-1.8-2.5-1.9m-6.6-2.2l1.9-.1 2.9-.9 2.7.6 3.4-.4m8.5 14.5l-2.2-.7-1.5 1.7-3.3-.1 .9-1m.3-13.7l.2 1.3-1.4.2-2.4.6-1.3-1.5m1.8 2.4l2.1-.4-.1 2.5 2.2 2 2.7.6m-13.1-6.2l-1.3.9-2.5-.1-.6-1.2 1.8-.8m16.4 11.3l2 1.2-1.7 1.4-.9.8-2.5-.1m.7-2.7l1.7-1.5 2.4.8 .4-2.4-1-1.6m-10.6 2.5l-1.5 1.7-1 .5 2.5.9 2.1-.4m6.6-5.2l1.1.7-2.3.9-1.4-.7-.1 1.7m-14.3-13.4l-1 .8 3.4.4-1.4 2.2-.6 2.5m15.9 14.7l1.6-.5-.8-1.1-1.7.8 1.1 1.9m3-3.9l-.4-1.1-1.7-.3-.2 1.4-1.5-.4m-13.1-8.5l2.5 1.1 1.2.8 0 1.5 3.1-.2m-14.8-11.6l.1-1.2 2.5.7-.5 1 .6-1m11.4 2.5l2.4-.7-2.3 0-3.3-.5 1.1 2m12.8 4.7l-2.9 1.3-2.4 1.5 .4 1.7-.4 2.5m-11.9-12l.3 1.7 .2 1.5-1.9-.1 1.1 2.2m13.6 6.7l-1.1 1.8-2.5-1.8 1.6-1.7-.1-1.2m4 8.9l1.1-.6 0-2.5-.5-1.5-.4-1m-11.5-10.6l.1-1.4 1.5.5 .7-1-1.5-.2m-2.5 1l2.8 1.4 2.7-1 1.8 1.9 1.5 0m-8.7 2.1l1.7.8 .4-1.1 2.3-.2 1.9 1.7m-.8 5.8l-1.5-1.5 2.6-1.4-1.4-1.9 1.8-.3m368-20.1l1.8.7-.3 1.5-1.6.7m1 2.6l.3.8 .6 2.1 1.2 0m-12.2-1.5l-2 1.2-.2.8-1.6-1.4m-2.3-6.4l.3 2.1 3-.8-2.4-1.1m9.3 1.9l1.8 1.8 .5 1 1 1.3m3.5-8.6l-.8.8 2.9.6 1.1.3m-7 4.2l-.6-1.1 2.4-.6 1.8-.7m-1.5 1.3l2.4 0 1.9-1.2-.5-1.3m-3.3 1.5l2.5.1 .3-2.2-2.8-.5m-5 6.5l-1.7.4-2.2.4 .4-.9m-7.7-6.2l-1.4 0 .7.9 2.3-.5m17.6.3l-.6-1.8 3.1.5 .9 1.3m-13.3 2.1l-.3-2.1-.3-.9-.3-1.1m-1.8 2.2l-1.7.1 1.4 1.5-1.7 1.2m-263.3 111.4l-.6-4 4.8.8-.5 1.5-1.4-1-5.4.8m-21.2-3.9l-4.4.8-1.1-3.1 2.7-.4-2.1-1.5-2.4-2.7m-7.6-27.5l-.2 2.4 2.2.3 4.1 0-1.3-3.3 2.7-1.6m27.2 23l-3.2-1.4 1.5-1.5 2.2 3.6-3.9 1.1 3.6 2.4m-.6 2.7l2.2 1.3-1.2 2.3 .6 3.8 1.5 1.9 2.6.1m-6.7-30.6l-2.8 0-1.3-2.8 .5-2.7-3.8.4-.8 1.4m2 41.6l3.4.3 1.2-1.3 4.6-1.6 4.3-2.3 1.8-2.9m-19.9-48.7l.9-1.8-1.8-.9 1.8-2.8-3.5 1.7-.5-2.5m42.6 25.1l-5.2-1.8-3-1.4-3.7 2.7-4.3-1.3-.9-2.2m4.7 19.4l4.5 2.1-2.2 2-2.2-3.4-3.3 1.4-5.3 1.7m-21.6.3l-4.6-1.5-4.7-1.1-1.8 3-3.9-1.7-3.5-3.3m-1.2-21.3l1.1-1.7 4.6-.9 .7 2.4 3.4 2.5 1.1-3.6m-5.3 8.9l-2.7 2.3-2.7.8-2.4 3.4 1.6 3 2.1-1.5m31.9-27.4l-1.4-2.6-2.7.3-5.6-1.2-3.6-1.4-5.3-.3m9.9.1l-2.9 2.3-2.2-.1-2.1-.1-3-3-1.3 1.7m-9.4 38.6l1.6-3.4 4 .7 1.4 3-3.9.5 .3 1.4m45-25.2l-2.6.3-4.9.3-1.9.8-.3-1.9-4.8 1.9m0 32.8l2-3.3-3.7-2.4-2.6 1.6 .2 1.4 3 1.5m-12.1-35.6l-1 1.2-2.9-.3-4.2 2.6-1.3 3.3 .8 1.7m-5.7.6l-1.5 3.1-2.8 1.1-2.1-2.1-2-.9-.6 1.3m43.5 14.4l.5 1.4 3 1.2 2.9-2.5 3.6-2 .4-2.2m-49.2-18l-.1-1.8 .7-1.6 .6-2.4 4.4-1.6 .1-1.6m-3 40.2l1.6-1.4 3.9.6 2-3.3 3.3 2.6 2.9.5m-30-45.1l3.1.5 2.7-3.5-5.1-.9 1.7 1.3-2 1m20.4 1.9l.1-3.7 4.1 1.8 1.9.5 1.2-3.4 5.3 1.6m7.8 19.1l3.6 2.2 2.6-.4-1.1 2.9-3 1 2 2.5m-37.3-12.8l.7 3.9 0 3.2-3-.8-1.1-2.4-.9-1.6m14 5.9l4.3 2 3.2-.9 2.4 2.9 2-.8 4-.7m16 25.1l4.1 2.2 1.1-3.2-1.5-1.9 1.6-2.1-3.4-1.9m-31.9-43.6l2.7 2.5 3.4-.2-2.5-2.1-3.6-.3-2.7 0m162.6-140.4l-2 .1-2.3 1.2-1.8-1.4 1.7-.1m10.9-1.9l-2.5.1 .3-1.4 1.9-.4-1.7.8m9.8-.9l-2.5-.2-1.7 1.9-4-.9-3.1-.5m1.2 1.4l-2.3.2-.5-1.4-2.4 1.5-.4-1.4m8.8 2.6l-.2-1.2-4.4-.3-2.4 2.5-3 1.1m13.5-4.3l2.3.6 3.4-.6-1.4-.5-1.8.3m-7.2.8l.1 1.2 3.2-.1-1.1-2.4 2.5-.4m-16 3.7l-2.6-.5 .7-1.5 2.8 0 4.1.1m2.6.8l3.3.2-.9-2.2-2.1 1.1-3.4-.8m14.6 2l2.6-1.2-1.5-.9-2.2 1.5-1.5.4m-15.4-.5l-1 1.1-2.3-1.1 2.1 1.1 .6 1.1m.6 1l.6-2.3-1.2-.8 1.8-.7-4-.3m92.9-2l-2.6-.8-1.5.9-2 .3m-12.5-1.3l-4.2.9 2.5-.4-.8 1.4m18.5-1.9l3.3.2 2 .3-2.4.4m-11.7-.5l-2.5 1.3-2.5-.8-2.7 0m-2.3.9l.8-1.3 2.5.1-.1 1m12.8-1.5l1.6-.1 1.8-.4 1.5 1.1m-3.2.5l1-1.1 3 .1-2.5.6m-11.9-.5l1.5 1.6 .2-1.6 3.5 1.2m24.1 18.3l-3.9.1 3.5-1.1-1.4-1.9-1.5 1.1m-25.5-2.7l-1.7.9 2.5 2.4-2 .5-2.6-1.9m6.9-3.2l-3.1 1.5-.9-1.6 .3 2.4-1.1 2m5.6-.4l-2.7.1-1.6.2 1.8 1.2 .5-1.1m15.9-9.9l1.4 1-2.1-.2-.2 1.2-3.6-1.1m11.8 9.8l2 1-.5-1.7 .3-1.2 2.1-.9m-24.2-2.6l1.4-1.3 1.4.8 2-2.2 .8-1m-3 .4l1.6-.3 1.7 1.8 1.2-.9 1.3.6m-17.1 6.7l3.6-.6 1.5 1.4 1.5-.2-1.5-2.9m-1.2-1.5l3.5 1.9 1.7-.4-1.9-2-.7-1.4m88.4-7.5l.6-1.9-3.1.7-3.2.7m5.7-2.2l-1.1-.9-.8 1.3-1.7 2m-3.2-3.1l.3 2.1 3 1.6-2.2-.2m1.8-4.4l-.8 3-2.1.9-2.9-1.1m5 1.9l-.5-2.3 2.8-.1-1.1 2m-4.6.3l-1.3-2.1 1.7-1.1 1 1.4m87.3 8.4l.5-1.4 2 .6-1.8.9m.9-1l2.3-.1 .8.8-2-.3m-15.3-.4l2-.9 2.4 1.8-2.5-1.4m9.4.5l3.3.6 3.2-.6-2-.1m1.5.1l.6.8 1.2-.5 2-.2m-13.9-.8l-2.4 1-1.5.4-1.7.3m-292.5 17l-2.1 1-.6 1.2-2.4 1.4m2-.2l1.5-2-.2-1.5-2.4-.5m-1.1.1l2.4.6 2.1 1 1-.8m-3.5 3.1l1.4-.4 1.4-2.3-.2 1m-4.9 1.2l-2.6 1.2 1.4-1.5 1.3.7m1.1-2.4l3 .4-3.5.4 .9-1.9m40 12.8l.2 1 2 .1 2-1.2m5.6-7.9l3-.2-.9 1.7-3.4-.9m-3.3-1l1.4 0 1.5-.1 1.6 1.9m4.2-5.7l3.2.6-.2-1.3 3.6-.7m14-5.5l-1.7-1.8 3.2.5 1.2.3m-36 15.4l-1.3-.4 1.2-.4 1.3-.8m4.7 3.2l-.9 2-3.3 0 .7 1.4m39.2-22.4l-.1 1-1.9 1-2.2-1.4m-1.7 3l1.4-.6 1.6-.3-2.5.9m-28.7 15.4l-1.6 1.3-1.9 1.5-1.8-.8m11.1-10.9l-1.3-.4 1.2 2.1 2.6-.7m-15.9 6.5l-1.3-1.6 1.4-.8 .3 1.5m3.7 1.9l-.1-1.3-.2-1.8 2.4.6m13.7-10.1l2.1.7-.7 1-2.6.4m-17.5 8.6l.9-1.1-1.2-.6 .2 2.5m14.1-8.1l-2.1-.6 .3 1.2 1.4.4m-7.8 2.1l1.6-.1-.7 1.5-1.2-.3m-5.8 7.1l-1-.7 .9 1.1 2.4 1.4m20.8-17.1l1.5.2-.7.7-2.4 1.2m15.8-7.3l2.2-.2 3.2.1 2.5.6m-10.2 1.9l-1.2.7-1.7.1 1.2-2.2m-17.8 9.9l.1-1-2 .5-2.1-1.2m-9.9 5.2l2.3-.4 1.5.2 1.3-1.9m-9.1 3.8l1 1.8 1.8-.8 1.9-.9m7-1.2l1.2-1.2-1.9-1.6-1.7-.4m32.8-9.1l.3-2.3 2.3 1.7 1.6-.2m-25.3 5.9l-1.1-1.1 1.7-1.2 1.8-1.2m-6.4 6.8l-2.2 1.4-2.9 1.5-1.4-.8m-.4 3.2l-.9-1.7-3-.5 .7 1.7m9.5-6.2l-2.6.4-1.4.3 1.9-.1m-12.1 10l1.5-1.5 1.5 1.7-.3 1.9m3.6-8.1l-1 1.1 .3 1.4 .3 1.9m.3-.4l1.4.6-1.5.4-1.9-.1m7.9-9.7l-.8 1.1-1.4 1.8 1.1 1.2m-9 7.7l.6-2-2.1.3 .9-.6m23-13.6l-2.6 1.3-2.8-1-.9 1.1m-18.8 13.9l1.2-1.5 2.7 1.6 2.5.2m5.5-7.2l.3-1.1 1.4-.3-1.6-2.1m-5.9 7.1l-.3-1.3-1.2.3-1.8-1.5m18.7-7l-.8-1.5-2.6.5-1.8 2.2m223 41.1l1.7 1.6-.4-1.9-1.8-.3m18.9 17.3l.8-1.1-1.2-1.8-1.3.4m-5.2 2.7l1.5-2 1.7-1.4 1.8 1.3m-.2 3.2l-2.8.4-2.3.4 1.3-1.3m-15.6-3l.2-1.4-2-.1 .9 1.8m-1-17.8l.8 1.3 1.3.5-.4.9m17.4 17.9l1.9-1.4-1.1-1-1.9-.8m-16.8-9.7l2.5.2-.5-2-2.6-1.7m2.7 1l1.1-1 1-1.4 2.4 0m1.7-1.2l2.8.8 2.1-1.7-1.1 1.2m77.8 157.6l-.9 1.1 2.4.4-1.3 1.3m-4.5-7.3l-.8-1m-8.7 21.4l0-1.9 1.3-2.1 3.4-1m-.5.6l1.2-2.2 1.2.6-1.5 1.3m2.9-3.5l-1.2.3-.1 1 1.3-.1m-.6 2l.6-2.4 1.1-.9 1.1-1.2m-5.6 2.3l-.3 2.5 2.4-.9 1.8-1.9m-8.6 7.1l-1.2.6-2.4-1 2.1-.3m-97.1-88.5l1-1.5-3.9-.1-2.6 1.5m11.4 17.9l1.8-.4 3.3 0m-39.4-16.2l2.3-.4-1.7 2.8 1.2 2.7m-10-11.5l.7-1.8-1.5 0-1.2-1.5m50.2 17.8l-2.6.8-2.5.9 0-1.8m-6.7-7.5l-.6 2.3-2.1.2-1.7-1.4m.4-6.4l-.2 2.3-3.6-1.6 2.3-.5m-1.4 10.6l-1.7-1.1 2.2-.9-3.6-1.2m2.5-3.1l1.9 2.4 2.4-2.5 4.1-.8m-22.5 10.7l-.1-2-2.1.2-1.1-1.2m17.9-10.3l-.1-1.8 .7 1.2-.4 1.7m-24.1.9l-3.2-2.1 1.1 2.5 1.7.5m34.6-8.9l-2.1 2.2-1.7 1.8 1.8.6m-35.7.9l-.9-.9 .4 1.6 2.2-1.2m40.4 7.1l-1 .8 2.9.5 0-1.2m-39.5 1l.9-2.7 1.9-.7 1.2.9m69.7 9.3l2 1 2.2 2.5-.9 2.8m-10.1-10.4l-3.5-.6-3.2-1.5 3.1 2m27.6 11.7l1 .8m-13-5.5l-3.2-1.2-2.5-1.9-2.3-.8m9.9 6.6l4.3-.1-1.5-2.7-2.6 1.7m-8.1-8.2l3.5 1.5 1.3 2.5 .2 1.5m2.8-1.5l-3.5 0-2.8 1.9-1-2.6m16 7l-.8-1.5-1.9-2.6-1.8-2.5m-46.1-40.4l-2.1-1.6 1.7.7 .2 1.4m4.2 17.8l-.5-2 1-2 .6 1.1m-4.5-10.3l2.1.9-1.2-1.3-1.4-1.7m4.5 9l1.6-.6-2.7.4 2.2 2m-6.3-14.1l1.5 0-.7-1.4-.9.7m7.2 11.2l-1.6.9-2.3-1.5 .4 1.7m2.4.3l-3-.4-.7-1.7 3.1.8m-245.5-90.7l2-.2 1.2 1 .9 2.1m1.2 8.9l2.5 1.1 3.2-.7-1.8 1.8m-6.5-7.9l1 .8 .8 1.6 1.9 1.6m.3.2l-1 1.6-1.1 2.1 .9.8m-12.8-2.3l-2.3-.9 .5 1.2 1.2-1.6m9.2-1.5l1.8-.2-1.3 0 1.4 1.1m-11.3-2.9l3.5-.3 1.5 1.7-2 2m4.3-10.3l.5 2.1 2.9.3 .3 1m-5.8 7.2l-2-.8-.4-1 2-1.5m-2.6 4.2l-1.2-1-.7-2.1 2-1.6"/>
<path class="i1" d="M1072.3 286.2h0m85.1-113h0m263 60.5h0m7.6 73.2h0m-166.5 4.4h0m8.2-46.4h0m-16.6-15.2h0m290-33.1h0m47.6 8h0m15.2-3.3h0m3.8 10.7h0m-664.1 4.6h0m30.5 38h0m47.7 4h0m-19.2-13.5h0m3.8 1.9h0m-7.6-3.8h0m617.3-4.8h0m-676.3 10.5h0m658.2 20.9h0m-17 4.8h0m-419-85.1h0m3.3 0h0m-41.5-11.6h0m157.4-37.4h0m4.9-1.9h0m19.8 7.8h0m8.8-73.4h0m12.3 74.7h0m47.6 17.5h0m-16.2 176.9h0m235.6-107.1h0m-79.6-66.8h0m12.4-11.4h0m22.3 6.5h0m-594.6-57.4h0m207 18.4h0m425.3-44.3h0m-325.4 137.3h0m31.2-5.7h0m61.4 12.7h0m0 5.4h0m62.5-1.2h0m46.2 9.2h0m16.9-3.1h0m-353.3 43.9h0m2.3-13.8h0"/>
<path class="i2" d="M982.7 195.1h0m-2.8-1.3h0m-2.9-1h0m-23.8 67.9h0m668.8 5.3h0m-21.3 2.3h0m-16.7-18.4h0m-588 18.2h0m18.1-16.3h0m92.7-16.6h0m125.2-72.4h0m-4.8-1.4h0m21 11.1h0m2.8 8.9h0m2.9-.9h0m-7.7-.4h0m-11.4 24.1h0m1 1.9h0m154.1 67.2h0m-3.8 1.5h0m-23.2-17.9h0m3.6 2.1h0m19.6-15.6h0m33.3-16.4h0m-67 96.6h0m26.5-.7h0m-148.8 22h0m-36.2 5h0m362.5-141.9h0m-.4 1.2h0m-19.6 11.4h0m33.3 0h0m11.8.9h0m-600.5 9.5h0m-33.5 43.6h0m9.5-3.8h0m36.2-4.8h0m23.2-12.7h0m587.2 18.4h0m-658.9 46.6h0m651.7 12.8h0m5.7 3.4h0m-19.2 4h0m-162.5-2.9h0m-256.9-131.4h0m.9 2.7h0m-.7 7.8h0m-30.7-27.6h0m-.9 1.3h0m3.8 1.6h0m4.7 4.7h0m-7.2-10.6h0m133.8-67.4h0m10.8 3.3h0m-3.2 2.5h0m59 43.3h0m-2.9-5.7h0m-4.7 1.3h0m132.6 59h0m4.4 9.5h0m2.8 2.8h0m2.9 4.8h0m17.1 2.9h0m13.7 10.2h0m2.1.4h0m15.6-.6h0m3.8-.9h0m-3.2-11.4h0m2.2 0h0m3.9 11.8h0m3.8-13.3h0m43.7 5.7h0m-1.9-1.9h0m-9.5-1.9h0m7.6 15.2h0m5.7 2.8h0m15.3-1.9h0m-64.7-70.3h0m2.8-3.5h0m-5.7-9.7h0m44.7-23.9h0m4.8-2.5h0m4.7-4.2h0m21-10.4h0m-467.2-2.5h0m8.6-22.3h0m256.9-3.4h0m43.7-8.4h0m25.7-5.3h0m29.5 5.2h0m106.6 8.1h0m-662.2-1.9h0m451-18.8h0m9.5-.2h0m-26.7 1.3h0m-30.4.6h0m-7.6 2.5h0m-40.7 149.1h0m4-6.1h0m58.6 18.3h0m-197 92.6h0"/>
<path class="i3" d="M984.6 197.4h0m634.6 71.1h0m-22.8 6.7h0m1.9-11.1h0m-13.4-11.4h0m-5.7-3.8h0m-3.8-2.8h0m-467.1-10.1h0m140.8-55.2h0m164.6 147.6h0m-203.2 9.5h0m-42.3 15h0m117.8-193.6h0m-18.8-34.6h0m-2.9-25.1h0m192.8 111.3h0m26 27.9h0m25.7 14.5h0m21.9-4.4h0m5.7-2.8h0m-15.2-5.2h0m65.6 10.9h0m-25.6-102.7h0m-596.6-28.5h0m-7.6-6.5h0m31.4 11.2h0m40 7.6h0m-1-3.8h0m-3.8-3.8h0m137 21.1h0m4.8.4h0m-5.2-6.3h0m-31.9-44.7h0m-38.1-5.7h0m-9.5-2.8h0m-9.5-1h0m28.5.4h0m-38 1.5h0m-9.5 1.4h0m43.7 13.5h0m32.4 13.6h0m262.6-15.2h0m36.1-5.7h0m112.3-1.9h0m-156.1-12.3h0m-244.5 248.1h0m1 3.8h0m7.6 4.8h0"/>
<path class="al" d="M966.5 131.4l-5.7 1.7-5.7 1.5-5.7.8-5.7.7-5.7.4"/><path class="al" stroke-dasharray="3 5" d="M1623 136.5l-5.7-.7-6.7-1.6-6.6-.7-7.6-3.4"/>
<path class="rv" d="M1419.4 108.2l-7.6.9-5.7 2.9 5.7 5.7 7.6.9 7.6 1 5.7 3.8 5.7 3.8 0 2.9 2.9 3.8M1411.8 118.3l-1 4.2 4.8 2.8 4.8 4.8 2.8 1.9M1436.5 98.7l3.8 2.8 4.8 1.9 1.9 5.7 4.8 6.7 .9 4.8 2.9 3.8 1.9 3.8-1.9 3.8M1457.5 124l7.6.4 7.6.9 3.8 4.8 2.8 4.7M1522.2 96.8l-3.9 2.8-1.9 3.8 1 3.8 4.8 3.8 4.7 3.8 1 2.3-7.7 2.5-11.4 1-7.6.9-5.7 1.9-7.6 1.9-5.7 5.7M1526.9 114.8l4.8 1 5.7 2.8-3.8 3.9-7.6.9M1520.2 112.9l-9.5.6-7.6 2.3-9.5-1M1586.8 102.5l-3.8 2.8-7.6 2.9-5.7 2.8-1.9 4.8M1564 99.6l-3.8 3.8-4.7 4.8-2.9 4.7M1547.8 133.9l-2.8 2.8-3.8 2.3-3.8 3.4-3.8 1.4-3.8.1-5.7-3.4-2.9-4.7-6.7-2.5-5.7.6M1383.2 105.3l-2.8 2.9 6.7 2.8 1.9 4.8M1357.6 111.8l2.8 2.1 3.8 1.9 4.8 2.8M1371.8 147.2l-3.8-4.8-2.8-.6 1.9-4.1 4.7-2.9 1.9-1.9 0-3.8-5.7-1.3-7.6-.6-7.6-1.9M1185.4 235.6l-3.8 1.9-5.8 1.5-5.7 1.7-3.8 0-5.7 1.2-5.7-1.9-5.7 1.3-3.8 1.5-4.8.4M1166.3 240.7l-3.8-3.2-4.7-1.9-4.8-1.9M1168.6 241.1l-4.2 5-4.7 4.7-3.5 2.9M1169.4 299.3l-3.1-3.8 1-4.8 1.3-4.1 6.3-.6 1.9-3.8 1.9-4.8 3.8-3.8M1339.5 174.9l.4 3.7-.4 4.7 3.2 2.9 .4 2.8-2.7 3.8-.9 3.8-1 2.9 4.8-1.9 1.9 3.8-2.9 3.6 .2 4.9-2.1 5.7-.9 5.7 .9 5.7 1.9 3.3M1304.3 246.1l5.3-3.3 2.3-4.3 2.9-4.8 5.7-2.9 5.7 1.9 2.8 1.9 0 5.8 1.9 5.7 1 5.7M1291.9 226.3l1.3-5-3.2-3.8-.9-4.7-4.8-3.8-3.8-4.8-5.7-1.5-3.8 4.4-4.8 3.8-3.8 3.8M1110.6 179.1l-3.3-3.4 0-4.8 1.9-2.8 1.4-3.8-1.9-3.4-1.9-4.2 .5-3.8-3.8-3.8M1108.7 160.9l-5.2-.8-4.7-.6-1-3.8-2.8-2.4-5.7-3.3-1-4.7-5.7-1.9-7.6.4-5.7.5M1025.5 103.4l3.8 2.9 6.7 2.8 6.7 2.9 2.8 3.8 7.6 2.3M968.4 115.2l7.7-.4 5.7-3.4 9.5-.7 9.5-1.6 6.7 1 6.6 1.9 5.7 3.8 3.8 2.8M1448.9 192.8l-1-4.7-5.7-1.9-5.7.3-3.8-2.2-3.8-2.9 0-2.8M1451.4 189l-.2-3.4 4.4-.8 5.7-3-1.9-2.7-7.6-.2-7.7.2-6.6-2.1M1408.9 189l1.6-4.7 3.2-3.8 1.9-3.9 1.5-4.7 2.3-2.9 4.8-.9 4.7 1.3M1511.7 174.7l-5.7-.5-4.8 3.4-5.7-1-3.8-.5-5.7 1.5-4.8 2.5-4.7 3.2-3.8 1.9-2.9-3.8-2.8-5.7-3.8-3.8M1506.9 162.8l-3.8 1.9-5.7 3.4-6.6 0 0-5.7 .9-3.8-5.7-1.5-2.9 4.3-4.7 4.8-5.7 0-3.8 2.8M1483.1 216l-2.8-3.2 1.9-3.8-1-2.9-1.3-3.8-1.5-2.3-3.8.4-1.9-3.8-1.5-3.4-1.4-6.1-1.9-5.7M1336.8 148.7l-3-.2-1 2.5-4.7.5-4.4-.9-4.2-1.1-2.8-1.9 0-3.7-4.8-.9-5.7-.6-6.7.2M1545.7 302.2l2.1-2.5 3.8 0 2.9 2.5 3.8.9 2.9.2M1311.9 289l3.8.4 2.9-.6 3.8 1 3.8.9 3.8 2 2.8-.4M1349.6 270.2l-3.5-3.2-3.8-2.5-4.7 0-3.8 3.4-3.8.8-3.8-.8-1.9-4.7-.6-3.8"/>
<path class="bo" d="M1046.5 141.5l53.2 0 1 .5 4.7.8 4.8.6 1.9-.6 7 2.9 2.5 1.5 1.9 1.3 .2 4.4-1.1 1.9 7.6-1.5 0-1.4 4.7-1.3 2.9-1.5 6.7 0 1.9-1.9 2.4-2.7 2.7.8 0 2.4 1.5 1.4M1012.2 102.3l0 17.7 3.8.6 2.9 1.9 3.8-1.4 3.8 2.3 3.8 3.8 2.8 1.9M1057.7 172.8l4.4-.1 7.2 2.4 5.3 0 0-.9 3.3 0 3.8 4 2.8 1.3 2.9-1.5 2.8 3 1.9 3.3 3.5 1.1M1105.1 207.1l1.3-2.9 1.9-.4-1-1.9 3.5-1.1 1.7-1.1M1110.8 200.8l0 3.6 1.7.4m-1.9 2.5l2.5.9 .5 1.2m-3-2.1l-1.5 1.1M1114.4 209.9l2.5-1.5 2.8-1.7 2.5-.6m-4.8 7.4l2.3.2 1.5.2M1122.8 219.2l.5-2.8M1144.8 212.2l-2.3 2.5 0 3.8 1 2.3 3.8.7 4.8 1.4 0 4.1 .9 3.8 .2 1.6M1130.6 232l3.4 2.1 2.8.5 .6 1.6 3.2 2.8 6.7.4 0 3.2-.9 0-4.8-3.6m5.7 3.6l1-6-1-2.9 1.5-1-1.1-1.3 5.3 0M1127.7 241.1l.2 1.9 2.3 1.2 .9-1.9 2.9-2.3 2.8-2.5 .6-1.3M1166.3 218.7l-2.4 4 1.1 2.1 1 1.3-2.5.6-5.7.2 .9 3 1.2.6-2.1 1.7-3.5.9-1.1-.7M1166 226.1l.7 4.7 1.9 1.4 3.4-1.2 1 0-1.5-2.8 .2-3.4 .3-1.4m1 7.6l3.8-.7 1-2.3-.8-2.5 .9-1.7m-1.1 6.5l3.4 0 1.9-3.4M1141.6 248.5l-1.9.2 1.5 3.8 2.3 1.2 2.7-1 0 2.9 2.1 0 1.5 2.8-.6 4.4-.9 2.3 0 2.8-1.6 1.6m-5.1-21l.9-4 3.9-1.9m1.9 13l2.8-.6 5.1-1.7 0 3.6 4.4 1.9 3.8 1.5 1.4 2.9 .2 2.4 3.6 0 0 1.9 1.1 1.4-.6 3.4-1.9-.9-5.1.5-1.5 4.6-3.4 1.5-3.7-1.9-1.9 1.9-1.5-2.5-1.1-3.8-1.7-3.8M1161.6 276.5l4.7 3.8 4.4 2.5-1.7 3.6 4.4.4 3.2-3.5 .6-3-2.7-3.2-4.2-.4-.2-4.4M1152.6 278l-2.4 3.2 .3 4.8-2.6 3.8-1 4.8 .4 3.8-.9 4.7-1 4.8-1.3 4.7-.2 4.8 .6 3.8-1.6 3.8-1.3 3.8 1.3 2.8 5.4 2.3 1.9.4M1169.8 298.4l.7-5.7 3.4-.6 4.8 4.9 .2 1.7m-8.4-6l2.9-5.9m3.2-3.5l1.7 2.7-7.8 6.3M1263.9 182l0-2.5 7.1-1.9 4.7-3.8 1.4-4.8-.8-1.1m-12.4 14.1l-8.1 0m8.1.7l0 2.5-6.2 0 0 5-1.9.7 0 3.2-7.6 0M1263.9 182.7l7.5 4.4 11.4 7.4 4 4 1.7-.2 3.4-.5 11.4-7.8-3.8-1.9-.9-3.8 .9-6.7-1.9-.4-2.8-5.3 1.5-3.2 .6-4.2m.7 12.7l2.5-3 2.3-2.5M1271.4 187.1l-3.3 0 1.9 16.2 .4 1.9-8 .2-3.8-.4-1.3 1.5 1.5 4.4 1.3.9 4.2 0 1 3.3 3.8-.4 .9-1.9 1.9-2.3 1.9-1 2.9-3 3.8-.4 1.9 0 4.8-.9 1.3-1.9 0-5M1257.3 206.5l-4.4-3.4-3.8.7M1258.8 210.9l-4.4-.2-2.4 1.1-3.3-.7m-.2-2.3l3.5-.4 2.2.8-2.6.2-2.9.3M1254.4 210.7l0 1.7-2.4 1.3m8.1-1.9l2.3 3.8 2.9-.5m-9.9 2.4l3.2-1.9 1.9 1.9 .4 1.2-2.3 2.6m2.3-2.6l1.9 1.7 1.5-.2 1.9 6.1m-1.9-6.1l1-2.7 0-2.4M1269.1 214.7l5.7 1.3 .6 3.4-1 3.8 .8 1.9m-.4-9.1l.4-2.3 5.1-.2 1.2.2 1.3 2.9 .7 5.7-.7.7m-2.5-9.5l.8 3.1 .4 4.7 .3 2.1m-.3-9.7l3.4-2.4 2.5 1.1-1.8 5.1 0 5.2m-.7-11.4l-.2-.8-2.3-1.1-1.9-3.3M1287.4 212.4l.7-3.4 5.7.9 3.8.4 3.3-.9 5.3-.8 .9 1.3m-.9-1.3l3.8-5.9 .9-6.7-1.9-5.1-1.5.8-4.2-1.7m-15.2 19l-.9-3.8M1307.1 209.9l1 1.9-2.5 4.6-2.6 4.9-2.5.2-3.6 4M1309 190.9l17.2 6.7 0 7.2-2.9 3.2 0 2.5 .8 3.2-3.6 2.3-4.6 3.4-5.9 1-1-4.6-1.9-.2 2.9-.2-1.9-3.6m18.1-14.2l1.9-1 0-3.8m0-18.2l0 18.2 12 0 10.8 0m-22.8 3.8l-1.9 0m1.9-3.8l0 3.8M1326.2 204.8l0 6.1m-2.1 2.8l1.3 3.8 1.7.6 1.5-3 3.3 1.3 1.9.6 2.8-1.4 2.9.4 2.7-3.6 1.5-1-.4 2.9 1.9 2.3 .2 1.7-2.1 1.1 1.7 1.6 2.7 3.4-2.5 2.3-5.7.9-.4.4-2.5-1.7-4-1.3-4-4.2-1.5-2.7m18.3.2l3.6-7.8 1-3 3.8-7.1m-3.8 7.1l2.6-1.2 4 .8 4.6 3.8 1.1-.2M1347.7 224.4l1.3 1.9 3.8 1.5 2.9.4 2.8-1 1.9-.5 1.9-1.4 3.8-.2 5.7-5.7-1.9 0-5.7-1.9-1.9-3.8-1.1-2.8m-2.7 16.3l0 9.2 1 1.5m-10.5-11.6l-3.8.4m17.1-13l.6-.9M1345.2 226.7l1.9 4.7-1.9 2.7 0 2.5 6.8 3.8 3.1 3.2m-9.9-7l-6.7 0-1.7.7 .6-3.6 2.1-3.4-.4-2.3m-.6 8.6l0 2.6-2.8.8 .6 3 .5-5.7m1.7 1.9l.6 1.7-2.8 2.1M1310 220.4l-1.9 2.8 0 2.9 2.8 4.4-5.1 0-3.8 0-2.9-.2m2.9.2l0 2.2-3 0m6.8-2.2l2.3 1.5-1 3.6 1 2.9-3.8.5-1.9 2.9 2.3 1.3 .5 2.7-1.5-.2m4.4-19.6l2.8 4.4 3.9-2.5 1.1-1.5 1.7-1.4 5.7 1.8 4.8-1.8 4.5-.1m-17.8 3l-.6 7.6-2.9 2.9-.4 4.7-5.7 2.7 6.7 0 .9 3 3.9 1 1.9-1.9 3.4.5 .4 7.1 3.8 0 0 3.8-3.8 0 0 6.1 2.6 2.6M1336.3 243l.3 3.1 2.5 4.3-4.4.4 .4 3.8-.6 2.5 2.7.8 0 2.2-4.9-3-3.7-1-2.4-.5m12.9-5.2l4 2.1 2.1.2m-2.1-.2l.8 5.9-.6 2.9-5.3 1.9 .3 1.1-2.6.4-3.8 4-3.3-.2-3.6-.4M1303 267.4l4.1.3 8.6 0 4.8 1.2 4.5-.8 3.6.4m-8.1.4l0 7.6-1.9 0 0 12.2-5.4-.4-1.3.7m6.7-.3l0-6.9 3.8 2.9 1.9-1.9 4.7.5 2.9-3.8 4.5-2.6 3.7.3 1.3 4 0 4.4 1.7 0m-14.5-17.1l1.4 2.3 3.2 2.8 3.2 3.3m3.7.3l2.2-2 1-3.5-.6-5.3-4.4-2.1m5-3l2.8.7 2.5 3.1-.9 1.9-1.6-1.9-.3-3.1m-.6-9.3l1.1 3.8 6.5-.4 4.6-1.5m-14.3 31M1332.3 290.9l2.4-1.7 1.7 1.5-1.7 2-2.1-.4-.3-1.4M1263.8 155l4.3 0-.7 3.6-.8 2.8-.2 2.5m10.7-11.8l4.7 1.3 4.8.6M1285.3 137.5l3.2 2.1 3.4.9 4.2 1-1.1 2.6-3.1 2.5 1.9.8-.6 3.2 1.6.8m.2-7.3l3.8.2 1.7 1.2 3.2-.2 2.9.9 0 1.7m-14.7-1.3l1.9.8 2.9-.6 3.8-1.3m-8.6-5l.8-4.4 1.5-2.8m-5.7 3.6l3.4.4m4.2 4.2l7.4-2.5 5.2-1.3-.4-3.8-.8-1.7m-4 6.8l1.7 3.2 7.5-.2 3.6-1.5 7 .8 2.9-2.7-1-3.8 .2-2.8-1.5-.8-5.7 0m-9.5 6.5l2.8 1.5 4.8 1.3m-11.1 1.7l-1.5 3.1m9-3.3l.3 1.4-1.9 2.1-4.5.7m6.4-2.8l3.3.4 6.4-1.2 .6-1.3m-12.2 4.2l5.2 1.9 2.8-.6 1.7-.4 1.9-3.8m1.2-11.4l5.1.4 2.1-2.9 3.1-.9-1-2.5-.6-.6 1.2-3m-13.3 6.3l10.6.7m-4.4-4.2l5.9.2m1.6 3.1l4.9 1.1 3.6 4.2-2.6 2.5-14.7.9m14.7-.9l5.9.5 2.2 2.7 8.4 1.5-.4 3.3-3 1.5m-27-6.5l-2.9 2.7m-.6 1.3l5.2 1.3 3.2-1.1 3.1 5.3 2.6.4m-5.7-5.7l6.5 3.6m-16.8 0l2.9 3.6-.6 1 1.2.4 10.4.1m-18.4-4.1l.4 1.9 .7 3.8 2.3 1.9 .8 1.9-1.9 2.3m1.1-4.2l4.4 1.1 6.4-.7 3.3-.6m-9.7 1.3l-1-5.1m7.4 4.4l0 1.5M1301.6 122.5l2.1-3.9 0-4.9 4-2.8 4.2-5.6 7.6-1.9 1 1 5.1.9 .9 4.2m-7-6.1l9.9-.5 6.1.5 3.6-1.5m-3.6 1.5l-.8 1.6 2.9.9-.8 5.7 3.8 3.4-7.2 4.6M1330.5 155.4m18.9 10.8l.9-1.9 10.9-.4 4.5 0-1.1-4.2 1.1-.5-2.4-2.7-3.8-.8m3.8.8l5.7 0 0-1.5 4 .2m-7.3 4l3.3 1.5 2.8-1.5 1.7 2.4m-7.8 2.3l2.3 2.7-1.1 3.4 1.3 1.7 3.1 4 1.7 2.1m-11.8-13.9l-2.7 5.3-4.2 1.9 .8 2.5-4.2 1.1 1.9 1.9-.9 1-2.7 1.5-2.1-.5m7.2-7.5l-3.8 2.1-1.7-.7-.6-1.2 1.9-1.7-1.1-.7m6.1 4.7l5.3 1.9 5.2 3.6 3.4.2 2.6-1.7m-2.6 1.7l2.3 1.2 1.3 0m6.1 8.1l1.9 2.5 4.9.4 1 1.3-1.3 3.8-5.8 1.9-5.7.8-2.8 2.8-1.5-.3-2.9-.2-3.4-.2-1.2 2.1m17.5-5l2.1 4.6m4-11.6l2.3-4.2m-1.3 5.5l-1.3 3.8M1373.5 161.6m9.6 2.1l4-1.5 6.2 1.1 3.6 1.7-1.3 5.6 .8 4.1 1.7.2-1.7 3.1 3.6.7 .8 4.2-3.1 3.8m-1.3-8.7l10.3-.2 .1-1.9 5.6-1.9 0-2.3 1.9-.6 1.7-5.1 7-2.1 5.5 3.2m-31.6-2.1l6.3.6 3.8-2.1 9.2-1.7 6.8 2.1m-35.9-1.7l-4-7 4 .9 1.9 0 5.9-.2 3.4.6 8.7 7m-19.9-7.4l0-7 4.9-1.2 4.8 2.7 1.7 1.3 5.5-.4 2.3 1.4-.2 1.9 4 2.5 4.5-.6 1.6-3.4 4.2-.4 1.3-.4 11.4 1.9m-16.9 7.4l4.7-2.3-.2-.7 12.4-4.4m-60.1.8l-2.1-2.3m2.8-6.7l-4.7-3.6 1.3-1.5-.6-2.1 3.5-.6 4-2.3 7 1.6 2.3.7 8-.4 2.6 0-2.4-2.2 1.9-3.6 8-.8 5.7-1.3 5.7 1.7 4.2 1.1 5.9-1.3 6.6 6.4 6.5-.3 3.6 2.6 3.8.8m-13.5 13.3l.2-5.3 4.4-.8 .7-3.4 4.8.2 3.4-4 1 0M1397.7 186.7m12.6 2.9l5.3-1.4-2.7-4.9 1.7-1.9 4.8-3.8 2.9-1.9-.2-3.4 1.9.9-2.7-4.5 7.2-1.6 2.1 2.3-.4 5.3 4.6 2.5-1.9 2.7 6.1 2.6 3.8 1.2 5.3.7 0-2.8-4.3-.6-9-3.8m13.3 4.4l1.6 1.1 6 .8 0-1.7-6 .9m6-.9l6.1-2.3 4 1.3-.2.8-4 3.6-1.9 4-1.7-.2-.5 3.8-1.4-3.2-2.1.4 1.9-2.9-4.5-.6-2.7 1.9 1.1 4.4m-1.7-8.4l.6 4m11 .8l-2.2 3.6-.8 1.3M1465.8 180.8l2.5 1.6 .4 4.7-2.7 1.9 3.3 3.4 3.8 1.9 1.7-2.2 6.1-1.8 2.6.8 2.5 2.5m-12.9.7l-2.1 1.7 .9 1.6 1.4 3.6 5.1-1.5 1.3 1.7 1.7 6.1 3.6-.8 .2 4.6-3 2.4-1.9.8m1.1-7l-6.2-.4 1.1 5.3m-1.5-20.3l.9 2.2 2.7 1.6 0 3.8m-5.1 1.5l-6.7.2 2.1 2.1-1.3 2.4 1.7 2.5 .9 3.8-1.5 3.1m.8-22.9l1.7 3.6m0 26.3l1.9 1.5 1.9-.9M1447.6 141.1l4.2 2.5 1.9 5.1 8.3 1.7 1.9 3 10.3.4 6.1 1.7 10.3-2.2 3-4.2 5-.8 10-2.5-4.7-1.9-3.6-.3 2.3-3.7-4.6-.9-10.9 1.9-3.6-1.9-8.3-.6-.2-1.3-6.3-1.5-2.1 4-10.3-1.6-8.7 3.1m55-1.2l4.9-1.5 1.5-3.8 6.7-1.7 7.6 6.3 5.7 2.5 7.8.9-3 6.3-3.8.7-1 4.4m0 0l-4.9.8-2.1.4-5 3.4M1521.6 162.8l3.2-1.6M1548.8 239.6l0 12.5M1489 230.8l4.2 1.9 3.6-.7 3.3-2.7 .4-2.6 3.8 0"/>
<path class="st" d="M1082.6 141.5l0 15.2 3.8 0 0 7.6-1.9 0 0 9.5-6.8 0m-8.4-32.3l0 7.6 13.3 0m-24.7-7.6l0 9.5 4.7 3.8 6.7 0 0 1.9 3.8 0 0 18.4m-28.9-20.3l18.4 0m-10.4 0l0 5.7 10.2 7.6 0 4.4m1.2-17.7l0 9.5 9.5 0m13.3 0l14.1 0 0 6.5 1.1 1.1 0 5.7m-28.5-13.3l13.3 0m-3.8-11.4l14.3 0 0-5.5-14.3 0m14.3 5.5l1.3 5.7-11.8 0m11.8 0l2.3 1.7 0 4m-10.3 0l0 4.7 10.5 1.4m-3.8-23l-1.3-5.9m1.3 10.4l10.1 0-1 5.5-7.8 0m7.2-11.6l-1.7 3.3 3.3 2.8m-1 5.5l5 6.9-10.5.9m10.5-.9l2.1-1.5 .9-7.4m-5.9-1.6l5.3 0m5.7 1.6l-5.1 0m5.1 0l0 4.9 4.2 1.3 4-4.2 0-3.2m-14.2 8.6l6-2.5m-8.1 4l-.8.9 14.8-.2 11.1 0m-12.8-3.4l1.7 3.4m2.3-7.6l1.9 1.8 7.1 0m-27.4 8.9l8.7 0 4.8 0 7.8 2.1m-17.5-2.1l-.4 8.9m5.3-8.9l1.2 7.6-5 0m5 0l5.7.8m-17.5-4.6l-5.4 0m5.4 0l-.8 3.8 3.6 0m18.9-20.9l9.1 0 3.2 0 0-5.7m-3.2 5.7l-.2 4m3.4-5.4l4.4 0m-.9-4.3l.9 3.8m-4.8 3.8l3.3-.6M1052.2 120.6l0 11.7 11.4 9.2m7.6-20.9l0 20.9m15.2-20.9l1.2 20.9m12.1-20.9l0 13.6 11.5-7.8m-11.5 7.8l-.3 7.3m29.8-4.8l0 8.6 9.5 3.8m-126.5-28.5l74.2 0m-41.8 0l-7.7-9.6-16.1-7.4m65.6 17l0-8-34.2 0 19-11.1m87.5 19.1l-5.7 9.5 5.7 5.7 13.3 0"/>
<path class="gl" d="M1109.2 63.5 V405.8"/><path class="gl" d="M1280.5 63.5 V405.8"/><path class="gl" d="M1451.8 63.5 V405.8"/><path class="gl" d="M938 149.1 H1623"/><path class="gl" d="M938 234.7 H1623"/><path class="gl" d="M938 320.2 H1623"/><rect class="fr" x="938" y="63.5" width="685" height="342.3"/>
<text><tspan class="sa" font-size="32.5" x="1249.10" y="45.90" textLength="61.92" lengthAdjust="spacingAndGlyphs">April</tspan></text>
<text><tspan class="se" font-size="34.8" x="859.99" y="157.38" textLength="31.04" lengthAdjust="spacingAndGlyphs">45</tspan><tspan class="se" font-size="33" x="890.30" y="156.18" textLength="13.00" lengthAdjust="spacingAndGlyphs">°</tspan><tspan class="se it" font-size="34.8" x="905.87" y="157.38" textLength="24.85" lengthAdjust="spacingAndGlyphs">N</tspan></text>
<text><tspan class="se" font-size="34.8" x="902.19" y="242.95" textLength="15.23" lengthAdjust="spacingAndGlyphs">0</tspan><tspan class="se" font-size="33" x="917.15" y="241.75" textLength="12.50" lengthAdjust="spacingAndGlyphs">°</tspan></text>
<text><tspan class="se" font-size="34.8" x="866.19" y="328.53" textLength="31.04" lengthAdjust="spacingAndGlyphs">45</tspan><tspan class="se" font-size="33" x="896.50" y="327.33" textLength="13.00" lengthAdjust="spacingAndGlyphs">°</tspan><tspan class="se it" font-size="34.8" x="910.98" y="328.53" textLength="21.25" lengthAdjust="spacingAndGlyphs">S</tspan></text>
<text><tspan class="se" font-size="34.8" x="865.55" y="414.10" textLength="31.70" lengthAdjust="spacingAndGlyphs">90</tspan><tspan class="se" font-size="33" x="896.50" y="412.90" textLength="13.00" lengthAdjust="spacingAndGlyphs">°</tspan><tspan class="se it" font-size="34.8" x="910.98" y="414.10" textLength="21.25" lengthAdjust="spacingAndGlyphs">S</tspan></text>
<text><tspan class="se" font-size="34.8" x="905.03" y="436.20" textLength="46.40" lengthAdjust="spacingAndGlyphs">180</tspan><tspan class="se" font-size="33" x="951.02" y="435.00" textLength="12.75" lengthAdjust="spacingAndGlyphs">°</tspan></text>
<text><tspan class="se" font-size="34.8" x="1070.81" y="436.20" textLength="31.38" lengthAdjust="spacingAndGlyphs">90</tspan><tspan class="se" font-size="33" x="1101.80" y="435.00" textLength="12.50" lengthAdjust="spacingAndGlyphs">°</tspan><tspan class="se it" font-size="34.8" x="1119.83" y="436.20" textLength="32.14" lengthAdjust="spacingAndGlyphs">W</tspan></text>
<text><tspan class="se" font-size="34.8" x="1265.91" y="436.20" textLength="16.48" lengthAdjust="spacingAndGlyphs">0</tspan><tspan class="se" font-size="33" x="1281.38" y="435.00" textLength="12.25" lengthAdjust="spacingAndGlyphs">°</tspan></text>
<text><tspan class="se" font-size="34.8" x="1416.41" y="436.20" textLength="31.38" lengthAdjust="spacingAndGlyphs">90</tspan><tspan class="se" font-size="33" x="1447.40" y="435.00" textLength="12.50" lengthAdjust="spacingAndGlyphs">°</tspan><tspan class="se it" font-size="34.8" x="1463.03" y="436.20" textLength="23.74" lengthAdjust="spacingAndGlyphs">E</tspan></text>
<text><tspan class="se" font-size="34.8" x="1590.03" y="436.20" textLength="46.40" lengthAdjust="spacingAndGlyphs">180</tspan><tspan class="se" font-size="33" x="1636.02" y="435.00" textLength="12.75" lengthAdjust="spacingAndGlyphs">°</tspan></text>
</g>
<g id="map-jul">
<g shape-rendering="crispEdges"><path fill="#0000b6" d="M333 496h5v6h-5zM654 502h5v5h-5zM236 507h6v5h-6zM151 512h5v6h-5zM263 512h6v6h-6zM584 512h6v6h-6zM750 512h6v6h-6zM135 518h5v5h-5zM258 518h5v5h-5zM558 518h5v5h-5zM670 518h16v5h-16zM145 523h6v5h-6zM547 523h5v5h-5zM627 523h16v5h-16zM697 523h10v5h-10zM135 528h5v6h-5zM210 528h5v6h-5zM649 528h10v6h-10zM429 534h5v5h-5zM552 534h48v5h-48zM606 534h10v5h-10zM632 534h17v5h-17zM675 534h16v5h-16zM697 534h10v5h-10zM226 539h5v5h-5zM274 539h11v5h-11zM306 539h5v5h-5zM477 539h6v5h-6zM659 539h22v5h-22zM686 539h16v5h-16zM531 544h5v6h-5zM547 544h5v6h-5zM600 544h16v6h-16zM654 544h16v6h-16zM606 550h37v5h-37zM665 550h42v5h-42zM456 555h11v5h-11zM542 555h21v5h-21zM574 555h16v5h-16zM686 555h5v5h-5zM472 560h5v6h-5zM520 560h11v6h-11zM552 560h11v6h-11zM574 560h10v6h-10zM606 560h10v6h-10zM654 560h5v6h-5zM493 566h16v5h-16zM584 566h6v5h-6zM595 566h21v5h-21zM215 571h11v6h-11zM247 571h11v6h-11zM622 571h5v6h-5zM290 577h5v5h-5zM509 577h16v5h-16zM638 577h5v5h-5zM220 582h22v5h-22zM424 582h21v5h-21zM509 582h11v5h-11zM584 582h11v5h-11zM242 587h5v6h-5zM253 587h5v6h-5zM424 587h5v6h-5zM440 587h5v6h-5zM456 587h16v6h-16zM413 593h11v5h-11zM440 593h5v5h-5zM451 593h16v5h-16zM472 593h16v5h-16zM590 593h10v5h-10zM536 598h11v5h-11zM269 603h5v6h-5zM429 603h5v6h-5zM451 603h16v6h-16zM477 603h48v6h-48zM418 609h6v5h-6zM434 609h6v5h-6zM445 609h32v5h-32zM499 609h16v5h-16zM542 609h5v5h-5zM408 614h10v5h-10zM472 614h5v5h-5zM493 614h6v5h-6zM515 614h5v5h-5zM467 625h10v5h-10zM418 630h27v5h-27zM499 630h5v5h-5zM525 635h6v6h-6zM483 646h5v5h-5zM467 667h5v6h-5zM311 673h6v5h-6zM499 673h10v5h-10zM306 678h11v5h-11zM338 678h22v5h-22zM477 678h27v5h-27zM531 678h5v5h-5zM707 678h16v5h-16zM483 683h5v6h-5zM723 683h6v6h-6zM493 689h6v5h-6zM504 689h5v5h-5zM659 689h6v5h-6zM488 694h11v6h-11zM723 694h6v6h-6zM472 700h5v5h-5zM691 700h6v5h-6zM713 700h21v5h-21zM311 705h6v5h-6zM477 705h6v5h-6zM697 705h10v5h-10zM718 705h11v5h-11zM322 710h11v6h-11zM718 716h5v5h-5zM311 726h6v6h-6zM301 732h10v5h-10zM301 742h10v6h-10z"/><path fill="#0000f1" d="M285 502h5v5h-5zM253 507h5v5h-5zM172 512h6v6h-6zM686 512h5v6h-5zM729 512h5v6h-5zM162 518h16v5h-16zM220 518h6v5h-6zM606 523h5v5h-5zM140 528h5v6h-5zM483 534h5v5h-5zM600 534h6v5h-6zM654 534h5v5h-5zM290 539h11v5h-11zM424 539h5v5h-5zM563 539h5v5h-5zM579 539h16v5h-16zM622 539h10v5h-10zM681 539h5v5h-5zM461 544h6v6h-6zM536 544h11v6h-11zM563 544h5v6h-5zM616 544h6v6h-6zM638 544h11v6h-11zM204 550h22v5h-22zM236 550h6v5h-6zM285 550h5v5h-5zM295 550h6v5h-6zM552 550h38v5h-38zM215 555h5v5h-5zM231 555h5v5h-5zM258 555h5v5h-5zM306 555h5v5h-5zM493 555h16v5h-16zM520 555h16v5h-16zM568 555h6v5h-6zM590 555h5v5h-5zM627 555h16v5h-16zM675 555h6v5h-6zM697 555h10v5h-10zM279 560h6v6h-6zM295 560h16v6h-16zM542 560h5v6h-5zM563 560h11v6h-11zM584 560h22v6h-22zM616 560h6v6h-6zM258 566h11v5h-11zM295 566h6v5h-6zM472 566h16v5h-16zM509 566h11v5h-11zM525 566h11v5h-11zM542 566h16v5h-16zM574 566h10v5h-10zM590 566h5v5h-5zM616 566h16v5h-16zM665 566h5v5h-5zM242 571h5v6h-5zM274 571h11v6h-11zM290 571h5v6h-5zM429 571h5v6h-5zM509 571h11v6h-11zM600 571h6v6h-6zM665 571h5v6h-5zM242 577h5v5h-5zM274 577h5v5h-5zM295 577h6v5h-6zM440 577h5v5h-5zM451 577h10v5h-10zM445 582h6v5h-6zM520 582h5v5h-5zM632 582h17v5h-17zM654 582h5v5h-5zM220 587h6v6h-6zM429 587h5v6h-5zM445 587h6v6h-6zM472 587h59v6h-59zM552 587h6v6h-6zM659 587h6v6h-6zM424 593h16v5h-16zM445 593h6v5h-6zM488 593h5v5h-5zM509 593h11v5h-11zM525 593h11v5h-11zM424 598h5v5h-5zM445 598h22v5h-22zM488 598h21v5h-21zM242 603h5v6h-5zM413 603h16v6h-16zM434 603h11v6h-11zM525 603h11v6h-11zM247 609h11v5h-11zM424 609h5v5h-5zM477 609h11v5h-11zM493 609h6v5h-6zM531 609h5v5h-5zM424 614h32v5h-32zM525 614h17v5h-17zM595 614h5v5h-5zM472 619h21v6h-21zM509 619h11v6h-11zM279 625h6v5h-6zM418 625h11v5h-11zM499 625h16v5h-16zM520 635h5v6h-5zM483 667h5v6h-5zM333 673h5v5h-5zM493 673h6v5h-6zM509 673h6v5h-6zM681 673h10v5h-10zM472 678h5v5h-5zM311 683h32v6h-32zM472 683h5v6h-5zM493 683h16v6h-16zM659 683h11v6h-11zM306 689h5v5h-5zM333 689h16v5h-16zM472 689h21v5h-21zM499 689h5v5h-5zM327 694h6v6h-6zM483 694h5v6h-5zM306 700h5v5h-5zM338 700h5v5h-5zM477 700h11v5h-11zM493 700h6v5h-6zM670 700h16v5h-16zM306 705h5v5h-5zM317 705h26v5h-26zM675 705h11v5h-11zM306 710h5v6h-5zM322 716h11v5h-11zM707 716h6v5h-6zM301 721h5v5h-5z"/><path fill="#0018ff" d="M365 491h11v5h-11zM638 496h5v6h-5zM365 502h16v5h-16zM584 507h6v5h-6zM675 507h6v5h-6zM129 512h11v6h-11zM183 512h11v6h-11zM440 512h5v6h-5zM499 512h5v6h-5zM638 512h5v6h-5zM649 512h10v6h-10zM675 512h11v6h-11zM740 512h5v6h-5zM772 512h5v6h-5zM156 518h6v5h-6zM408 518h5v5h-5zM440 518h5v5h-5zM129 523h6v5h-6zM349 523h16v5h-16zM472 523h5v5h-5zM162 528h5v6h-5zM236 528h6v6h-6zM488 528h5v6h-5zM579 528h5v6h-5zM638 528h5v6h-5zM226 534h5v5h-5zM295 534h11v5h-11zM456 534h5v5h-5zM493 534h16v5h-16zM525 534h27v5h-27zM483 539h5v5h-5zM525 539h38v5h-38zM568 539h6v5h-6zM258 544h21v6h-21zM568 544h11v6h-11zM649 544h5v6h-5zM670 544h37v6h-37zM247 550h38v5h-38zM290 550h5v5h-5zM301 550h5v5h-5zM311 550h6v5h-6zM515 550h5v5h-5zM525 550h27v5h-27zM247 555h11v5h-11zM317 555h5v5h-5zM440 555h5v5h-5zM611 555h16v5h-16zM643 555h32v5h-32zM204 560h16v6h-16zM231 560h16v6h-16zM638 560h11v6h-11zM659 560h22v6h-22zM242 566h16v5h-16zM301 566h5v5h-5zM434 566h6v5h-6zM456 566h5v5h-5zM568 566h6v5h-6zM675 566h6v5h-6zM258 571h5v6h-5zM440 571h5v6h-5zM493 571h16v6h-16zM542 571h5v6h-5zM638 571h5v6h-5zM210 577h5v5h-5zM231 577h5v5h-5zM488 577h5v5h-5zM542 577h16v5h-16zM242 582h11v5h-11zM451 582h21v5h-21zM563 582h16v5h-16zM263 587h11v6h-11zM285 587h5v6h-5zM434 587h6v6h-6zM547 587h5v6h-5zM563 587h11v6h-11zM242 593h11v5h-11zM467 593h5v5h-5zM542 593h10v5h-10zM622 593h5v5h-5zM649 593h10v5h-10zM236 598h6v5h-6zM467 598h21v5h-21zM520 598h5v5h-5zM611 598h5v5h-5zM445 603h6v6h-6zM472 603h5v6h-5zM547 603h5v6h-5zM413 609h5v5h-5zM488 609h5v5h-5zM547 609h5v5h-5zM418 614h6v5h-6zM477 614h6v5h-6zM499 614h5v5h-5zM509 614h6v5h-6zM584 619h6v6h-6zM499 635h5v6h-5zM483 641h10v5h-10zM343 657h6v5h-6zM343 662h6v5h-6zM317 667h10v6h-10zM301 673h10v5h-10zM317 673h10v5h-10zM488 673h5v5h-5zM713 673h5v5h-5zM675 678h16v5h-16zM467 683h5v6h-5zM477 683h6v6h-6zM729 689h5v5h-5zM499 694h5v6h-5zM686 694h5v6h-5zM713 694h10v6h-10zM343 700h6v5h-6zM306 716h16v5h-16zM301 726h5v6h-5zM761 732h5v5h-5zM306 748h5v5h-5z"/><path fill="#004cff" d="M392 491h5v5h-5zM643 502h6v5h-6zM681 507h5v5h-5zM718 507h11v5h-11zM162 512h5v6h-5zM210 512h5v6h-5zM295 512h6v6h-6zM499 518h5v5h-5zM135 523h5v5h-5zM156 523h6v5h-6zM145 528h11v6h-11zM172 528h6v6h-6zM542 528h10v6h-10zM611 528h5v6h-5zM622 528h5v6h-5zM665 528h5v6h-5zM750 528h6v6h-6zM766 528h6v6h-6zM253 534h10v5h-10zM616 534h16v5h-16zM665 534h10v5h-10zM493 539h11v5h-11zM595 539h11v5h-11zM632 539h22v5h-22zM220 544h11v6h-11zM236 544h6v6h-6zM247 544h6v6h-6zM509 544h6v6h-6zM579 544h21v6h-21zM627 544h11v6h-11zM445 550h16v5h-16zM649 550h5v5h-5zM595 555h5v5h-5zM681 555h5v5h-5zM220 560h11v6h-11zM461 560h6v6h-6zM477 560h11v6h-11zM547 560h5v6h-5zM627 560h11v6h-11zM649 560h5v6h-5zM215 566h5v5h-5zM467 566h5v5h-5zM269 571h5v6h-5zM295 571h6v6h-6zM558 571h10v6h-10zM258 577h11v5h-11zM445 577h6v5h-6zM558 577h10v5h-10zM579 577h5v5h-5zM231 587h11v6h-11zM451 587h5v6h-5zM499 593h5v5h-5zM552 593h16v5h-16zM536 603h6v6h-6zM552 603h6v6h-6zM467 614h5v5h-5zM483 614h10v5h-10zM424 619h5v6h-5zM434 619h6v6h-6zM493 619h6v6h-6zM520 619h5v6h-5zM317 630h5v5h-5zM451 630h16v5h-16zM467 635h5v6h-5zM477 651h11v6h-11zM467 662h5v5h-5zM295 667h6v6h-6zM504 678h5v5h-5zM349 683h5v6h-5zM691 683h6v6h-6zM311 689h22v5h-22zM311 694h16v6h-16zM681 694h5v6h-5zM702 694h5v6h-5zM327 700h11v5h-11zM499 700h5v5h-5zM659 700h6v5h-6zM311 710h11v6h-11zM723 710h6v6h-6z"/><path fill="#0080ff" d="M606 507h5v5h-5zM563 512h5v6h-5zM616 512h6v6h-6zM145 518h11v5h-11zM531 518h5v5h-5zM568 518h22v5h-22zM622 523h5v5h-5zM729 523h5v5h-5zM761 523h5v5h-5zM509 528h6v6h-6zM531 528h5v6h-5zM590 528h5v6h-5zM606 528h5v6h-5zM729 528h5v6h-5zM515 534h10v5h-10zM691 534h6v5h-6zM504 539h16v5h-16zM574 539h5v5h-5zM525 544h6v6h-6zM440 550h5v5h-5zM590 550h16v5h-16zM654 550h11v5h-11zM220 555h11v5h-11zM563 555h5v5h-5zM258 560h16v6h-16zM424 560h5v6h-5zM622 560h5v6h-5zM274 566h21v5h-21zM424 566h10v5h-10zM632 566h33v5h-33zM670 566h5v5h-5zM574 571h26v6h-26zM611 571h11v6h-11zM220 577h6v5h-6zM253 577h5v5h-5zM269 577h5v5h-5zM285 577h5v5h-5zM531 577h5v5h-5zM263 582h27v5h-27zM525 582h38v5h-38zM231 593h5v5h-5zM285 593h5v5h-5zM659 593h11v5h-11zM418 598h6v5h-6zM429 598h16v5h-16zM525 598h11v5h-11zM579 598h5v5h-5zM247 603h11v6h-11zM408 603h5v6h-5zM467 603h5v6h-5zM542 603h5v6h-5zM429 609h5v5h-5zM456 614h11v5h-11zM434 625h6v5h-6zM445 625h6v5h-6zM477 625h11v5h-11zM509 630h11v5h-11zM467 641h5v5h-5zM493 646h6v5h-6zM504 651h11v6h-11zM713 667h5v6h-5zM360 673h5v5h-5zM472 673h11v5h-11zM509 678h6v5h-6zM691 678h11v5h-11zM354 683h6v6h-6zM670 683h16v6h-16zM718 683h5v6h-5zM354 689h6v5h-6zM691 689h16v5h-16zM306 694h5v6h-5zM333 694h10v6h-10zM477 694h6v6h-6zM659 694h16v6h-16zM311 700h16v5h-16zM488 700h5v5h-5zM697 700h5v5h-5zM488 705h11v5h-11zM665 705h5v5h-5zM301 716h5v5h-5z"/><path fill="#00b0ff" d="M616 502h6v5h-6zM590 507h5v5h-5zM649 507h5v5h-5zM242 512h5v6h-5zM365 512h5v6h-5zM691 512h11v6h-11zM707 512h6v6h-6zM204 518h6v5h-6zM231 518h11v5h-11zM707 528h11v6h-11zM317 534h5v5h-5zM659 534h6v5h-6zM317 539h5v5h-5zM333 544h5v6h-5zM472 544h21v6h-21zM499 544h5v6h-5zM552 544h11v6h-11zM333 550h5v5h-5zM493 550h16v5h-16zM643 550h6v5h-6zM236 555h11v5h-11zM263 555h16v5h-16zM311 555h6v5h-6zM600 555h11v5h-11zM488 560h11v6h-11zM220 566h22v5h-22zM440 566h5v5h-5zM558 566h10v5h-10zM467 571h5v6h-5zM568 571h6v6h-6zM606 577h5v5h-5zM691 577h6v5h-6zM483 582h5v5h-5zM531 587h11v6h-11zM590 587h5v6h-5zM638 587h5v6h-5zM654 587h5v6h-5zM670 587h5v6h-5zM568 593h6v5h-6zM247 598h6v5h-6zM413 598h5v5h-5zM670 598h5v5h-5zM440 609h5v5h-5zM525 609h6v5h-6zM279 619h6v6h-6zM520 625h5v5h-5zM461 635h6v6h-6zM477 635h11v6h-11zM509 635h6v6h-6zM354 651h16v6h-16zM467 657h5v5h-5zM477 667h6v6h-6zM504 667h5v6h-5zM515 673h5v5h-5zM531 673h5v5h-5zM525 678h6v5h-6zM525 689h6v5h-6zM729 705h5v5h-5zM713 716h5v5h-5zM306 721h5v5h-5zM311 748h6v5h-6z"/><path fill="#00e4f8" d="M632 496h6v6h-6zM627 502h11v5h-11zM215 512h5v6h-5zM354 512h6v6h-6zM590 512h5v6h-5zM279 518h6v5h-6zM590 518h5v5h-5zM723 518h17v5h-17zM670 523h5v5h-5zM231 528h5v6h-5zM499 528h5v6h-5zM643 528h6v6h-6zM723 528h6v6h-6zM606 539h16v5h-16zM440 544h5v6h-5zM467 550h5v5h-5zM488 550h5v5h-5zM247 560h6v6h-6zM440 560h11v6h-11zM520 571h16v6h-16zM429 577h11v5h-11zM504 593h5v5h-5zM622 603h10v6h-10zM622 609h10v5h-10zM451 619h10v6h-10zM525 630h6v5h-6zM343 651h11v6h-11zM290 662h11v5h-11zM311 662h11v5h-11zM349 662h5v5h-5zM370 662h6v5h-6zM365 667h5v6h-5zM322 678h11v5h-11zM360 678h10v5h-10zM360 683h5v6h-5zM707 689h16v5h-16zM665 700h5v5h-5zM713 705h5v5h-5zM311 721h6v5h-6z"/><path fill="#29ffce" d="M622 507h10v5h-10zM713 507h5v5h-5zM632 512h6v6h-6zM766 512h6v6h-6zM622 518h16v5h-16zM697 518h5v5h-5zM740 518h5v5h-5zM777 518h5v5h-5zM509 523h6v5h-6zM600 523h6v5h-6zM740 523h5v5h-5zM210 534h5v5h-5zM434 534h6v5h-6zM488 534h5v5h-5zM285 544h5v6h-5zM456 544h5v6h-5zM226 550h5v5h-5zM290 555h16v5h-16zM285 560h10v6h-10zM204 566h11v5h-11zM226 571h10v6h-10zM584 587h6v6h-6zM279 614h6v5h-6zM638 614h5v5h-5zM440 619h5v6h-5zM295 625h6v5h-6zM531 625h5v5h-5zM311 635h6v6h-6zM472 641h5v5h-5zM349 646h5v5h-5zM338 651h5v6h-5zM365 657h5v5h-5zM499 657h5v5h-5zM515 657h5v5h-5zM488 667h5v6h-5zM691 667h6v6h-6zM675 694h6v6h-6zM327 742h6v6h-6z"/><path fill="#53ffa4" d="M611 502h5v5h-5zM686 518h11v5h-11zM766 518h6v5h-6zM162 523h5v5h-5zM188 528h6v6h-6zM686 528h5v6h-5zM520 539h5v5h-5zM253 582h10v5h-10zM600 593h16v5h-16zM306 625h5v5h-5zM295 635h6v6h-6zM499 641h10v5h-10zM354 657h6v5h-6zM301 662h5v5h-5zM697 667h5v6h-5zM365 673h5v5h-5zM343 683h6v6h-6zM531 683h5v6h-5zM681 689h10v5h-10zM306 737h5v5h-5z"/><path fill="#7dff7a" d="M718 512h11v6h-11zM563 523h5v5h-5zM253 528h5v6h-5zM659 528h6v6h-6zM451 544h5v6h-5zM204 555h6v5h-6zM552 571h6v6h-6zM643 571h6v6h-6zM536 577h6v5h-6zM568 577h6v5h-6zM670 593h5v5h-5zM488 625h5v5h-5zM467 630h5v5h-5zM349 657h5v5h-5zM509 662h6v5h-6zM713 683h5v6h-5zM670 689h5v5h-5z"/><path fill="#800000" d="M354 491h6v5h-6zM354 502h6v5h-6zM365 507h16v5h-16zM702 507h5v5h-5zM199 550h5v5h-5zM472 550h11v5h-11zM595 577h5v5h-5zM627 577h11v5h-11zM493 625h6v5h-6zM343 641h6v5h-6zM509 646h11v5h-11zM354 662h6v5h-6z"/><path fill="#a4ff53" d="M772 518h5v5h-5zM472 555h16v5h-16zM279 577h6v5h-6zM643 577h6v5h-6zM590 598h10v5h-10zM665 598h5v5h-5zM488 630h11v5h-11zM461 646h6v5h-6zM370 657h6v5h-6z"/><path fill="#b60000" d="M483 523h5v5h-5zM306 550h5v5h-5zM279 555h6v5h-6zM461 641h6v5h-6z"/><path fill="#ceff29" d="M707 502h6v5h-6zM568 507h6v5h-6zM472 518h5v5h-5zM167 528h5v6h-5zM595 528h5v6h-5zM210 544h5v6h-5zM322 544h5v6h-5zM520 566h5v5h-5zM707 571h6v6h-6zM632 593h6v5h-6zM649 598h5v5h-5zM584 603h6v6h-6zM317 625h5v5h-5zM301 630h5v5h-5zM472 630h5v5h-5zM483 630h5v5h-5zM472 646h5v5h-5zM349 673h11v5h-11zM525 683h6v6h-6zM311 737h6v5h-6z"/><path fill="#f10800" d="M349 502h5v5h-5zM199 523h11v5h-11zM461 550h6v5h-6zM424 571h5v6h-5zM627 587h11v6h-11zM322 630h11v5h-11zM301 635h5v6h-5zM354 667h11v6h-11zM493 667h6v6h-6z"/><path fill="#f8f500" d="M665 507h5v5h-5zM183 518h5v5h-5zM397 518h5v5h-5zM488 539h5v5h-5zM247 577h6v5h-6zM718 657h5v5h-5zM697 683h5v6h-5zM290 721h5v5h-5z"/><path fill="#ff3800" d="M360 502h5v5h-5zM279 507h6v5h-6zM761 512h5v6h-5zM413 534h5v5h-5zM236 539h6v5h-6zM424 544h5v6h-5zM226 577h5v5h-5z"/><path fill="#ff6800" d="M600 518h6v5h-6zM649 518h5v5h-5zM178 523h5v5h-5zM236 523h11v5h-11zM627 528h5v6h-5zM515 544h5v6h-5zM574 577h5v5h-5zM338 635h5v6h-5zM493 635h6v6h-6zM493 641h6v5h-6zM477 657h6v5h-6zM343 667h6v6h-6zM343 673h6v5h-6zM301 737h5v5h-5z"/><path fill="#ff9400" d="M718 523h11v5h-11zM306 544h5v6h-5zM638 593h5v5h-5zM616 603h6v6h-6zM456 625h5v5h-5zM525 641h6v5h-6zM467 646h5v5h-5zM360 662h5v5h-5zM172 678h6v5h-6z"/><path fill="#ffc400" d="M600 512h11v6h-11zM226 518h5v5h-5zM606 518h5v5h-5zM745 518h11v5h-11zM675 528h11v6h-11zM665 577h5v5h-5zM632 598h6v5h-6zM327 635h6v6h-6zM461 651h6v6h-6zM675 689h6v5h-6z"/></g>
<path class="co" d="M122.8 521.3l2.9-5.1 8.5-3.3 10.3-2.4 12.6 1.5 17.1 1.7 11.4 1.1 13.3-1.9 5.8 1 9.5.4 9.5 2.4 9.5.4 3.8-1.3 11.4 1.3 7.6-.4 4.8-1.9 2.8-4.7 3.8 3.8 3.8 1.5 3.9 1.3 4.7-2.8 6.7 0 .9 2.8-2.8 3.3-5.7.5-1.9 2.9-5.8.9-5.7 3.8-2.8 3.9-.4 2.2 4.2 3.5 4.7 0 5.8 1.9 3.8 1.3 5.1.6 .6 3.8 2.8 3.2 2.9-.4 0-4.7 3.8-3.8 .9-2.9-3.8-2.8 1.9-3.9-.9-2.4 7.6 0 7.6 2.4 1 3.9 4.7 1.3 3.8-3.8 1.9 2.5 3.8 2.8 1.9 2.9 3.8 1.9 3.8 2.8 2.5 2.9-2.5 1.1-5.7 2.3-9.5 0-3.8 1.7-5.7 3.4 3.8-1.9 7.1-.6-1.4 2.5 1 2.5 4.7.8 1.9.9-4.7 1.5-4.8 1.9 0-1.9 2.9-1.9-4.8 1-3.8 1.9-2.8 1.9-.6 1.9 1.5.6-3.8.9-3.8 1.1-.4 2.1-2.5 1.9-.9 2.9 .6 2.8-2.5 1.9-3.8 2.5-3.8 2.7-.6 3.4 1.5 3.8 1 2.9-.6 2.4-1.7-.2-2.9-4.7-.1-2.3-2.3-1.9-3.8-.6-3.8 0-2.9.6 .4 1.9-3.3-.6-4.7-.7-2.9.9-3.8 2.7-.5 3.4-1 3.8 .2 3.8 .9 2.9 2.3 2.8 2.9 1.5 3.8-.5 2.8-.6 1-3.2 .9-1.4 4.8-.5 1.3 1.9-1.7 3.8-.9 2.8-1 2.1 3.3.2 3.8-.2 3.2 1.7-.4 3.8-.4 3.8 2.3 2.9 2.9 1.3 2.8-1.3 2.9.4 1.3 1.9-2.3.5-1.9-1.5-1.9 2.9-2.8-1.7-2.9-.6-2.8-2.9-1.6-1.9-3.2-3.8-2.8-.7-3.9-1.2-3.8-2.8-2.8-1.4-3.8 1-4.8-1.7-4.7-1.7-4.8-2.5-2.8-2.3 .3-2.8-2.2-3.8-3.9-3.5-1.9-2.6-2.8-2.5-2.9-2.8-1.3-3.3-2.8-.9 .3 3.2 3.3 4.2 3.4 4.4 2.3 4.7-1-.9-3.2-3.8-3.8-3.8-1.9-3.8-2.9-3.9-1.3-2.2-2.5-2.5-4-1-2.3-3.8-1.3-2.4-2.5-3.3-.9-1.7 .2-3 .4-4.8 0-3.4-1.4-4 3.3.4 .9 1.7-.9-3.2-3.8-1.9-4.8-2.9-1-2.8-3.8-2.9-2.8-1.9-3.8-2.8-3.8-2.9-3.8-.9-4.8-1.6-7.6-.3-3.8-1.6-4.8 1.6-2.8 1.3-1.9-3.3-1.9 1-2.9 2.9-1.9 1.9-4.7 2.4-5.7 2.3-5.8 1.3-3.4.6 5.3-2.5 3.9-.9 3.8-2.3 1.3-2.3-3.2.2-5.8-.7 0-1.9-4.7-1-1.9-1.9-1-1 2.9-1.9 6.7-.9 0-1.9-3.9 0-6.6-.2zM303.6 497.3l9.5-3.4 11.4-2.8 22.9-1.9 19-1.6 19-.3 15.2 2.2 7.6 2.5 11.5-1.3-9.5 3.2-2.9 3.8-1.9 3.8-1 2.9-3.8 3.8-.9 3.8-6.7 2.8-7.6 1.6-5.7 2.2-7.6 2.3-5.7 1.5-2.9 3.8-2.8 4.8-2.9 1.1-2.8-1.7-4.8-.7-3.8-4.4-2.8-3.8-2.9-2.9 1-2.8 3.8-2.3-6.7-1.9-1.9-3.4-3.8-3.8-4.8-2.5-11.4-.4-9.5-1.9zM319.8 526.2l-6.7 1.9-7.6-3.8-11.4-.9 7.6-2.9 1.9-3.8-9.5-3.8-13.3-.9-7.6-2.9-2-2.8 17.2-.6 7.6 1.9 11.4 3.4 7.6 3.5 9.5 4.1 1 1-4.8 2.8zM324.5 489.2l-15.2-1-19 0-19.1 2.3-3.8 2.5 11.5 2.8-3.8 2.9 15.2 2.3 7.6-3.3 7.6-2.8 13.3-2.9zM219.9 510.1l13.3-2.9 9.5 0 5.7 4.8-5.7 2.8-15.2.6-7.6-2.5zM204.7 509.1l9.5-4.3 8.5 1.9-8.5 3.4zM259.8 500.6l11.4-.6 19.1 2.3-3.8 1.9-19.1-.2-7.6-1.5zM219.9 502.5l13.3-1.5 9.5.9-5.7 1.9-13.3.2zM259.8 493l11.4 0 5.8 2.8-11.5 1.5-5.7-2.1zM260.8 505.3l9.5 0 .9 2.9-7.6 1.1-3.8-2.1zM248.4 506.3l8.6-.6 .9 3.4-5.7.8-3.8-1.7zM277 521.5l5.7-1 6.6 2.9-2.8 1.9-6.7.4-2.8-1.4zM329.7 555.3l3.4-4.3 2.8-2.9 1 2.9 3.8 1.9 1 3.8-2.9.4-2.9-.8zM280.8 604.6l5.7-2.5 5.7 1.2 3.8 1.9 5.3 2.4-6.3.6-.9-1.5-4.8-1.9-3.8-1.2zM300.9 610.9l3.1-2.7 5.3.2 3.1 2.5-5 .9zM293.5 611.2l3.8 0-1.3 1zM314.6 611.1l2.9 0-1.5.7zM396.3 521.5l4.3-1.7 7.6.4 6.3 0 2.1 2.2-4.5 1.9-5.8 1.2-6.6-1 .9-1.7zM198.4 549.4l5.3 1.2 3.8 3.2-2.8-.4-3.9-2.1zM295.4 630.3l2.5-1.9 1.9-2.9 3.8-.9 2.3-1.9 .6 2.8 2.8-1.9 2.9 2.1 4.7.2 3.8.4 3.8-.6 1.9 2.3 1.9 2.1 2.9 2.3 2.8 2.4 3.8 0 2.9.8 3.4 2.3 2.3 4.3 1 2.9 1.9 1.5 1.9 1 3.8.7 3.2 2.5 4.4.6 3.8.2 2.8 1.7 2.9 2.1 3.2.7 1 3.6-.8 3.8-3.4 3.5-2.9 3.8-.9 3.8-.4 5.3-1.5 4.2-1.9 3.8-3.8 1.9-3.8 1.5-3.8 1.5-2.9 2.7-.4 4.4-2.8 4.2-3.4 3.4-2.9 3.2-2.9 1.7-3.8-.7-2.6-1 2.3 4.4-1 3.6-4.4 1.3-4.2.2-.1 3.4-5.2.4 1.4 3.4-2.3 4.2-3.8 1.9 2.8 2.9-2.8 3.8-2.9 2.8 1.2 2.7 .3 2.1 4.2 2.7-4.7 1.1-4.8-1.3-4.8-3.1-2.8-4.2-1-4.7 1.9-4.8 1.9-4.7-.5-3.8 .5-4.8 .6-3.8 1.3-3.8 2-3.8 .1-4.7 .8-4.8 1.1-5.7 .4-5.7-.2-6.7-2.2-1.9-3.9-2.3-4.7-3.8-1.9-3.8-2.5-4.3-2.3-4.8-2.8-2.8-.4-2.9 1.7-2.1 .6-2.1-1.5-2.4 1.3-2.9 2.1-1.9 .9-1.9 1.9-2.9 .4-3.8-.9-2.4zM326.4 744l5.7-.4-.9 1.7-3.8 0zM431.3 578l7.4 1.1 5.7-2.5 7.6-.5 9.5-1 1.9.8-1.3 4.5 1.3 1.9 3.8 1.2 4.4 1.1 4.2 2.7 3.8.7 1-2.8 3.8-1.7 5.7 2.1 7.6 1.5 3.8-1 2.5.6 .3 2.3 1.9 3.8 1.9 3.8 1.9 3.8 2.9 4.8 .6 4.7 2.3 1.9 1.9 4.8 2.8 1.9 3.8 3.8 .6 1.9 3.2 1.9 5.7-1.3 6.1-1.4-.4 2.9-2.8 6.4-2.9 4.8-3.8 3.8-4.7 3.8-3.8 4.4-2.9 3.2-1.9 3.8 .6 3.8 .9 4.8 1.4 3.8 .2 5.7-3.1 3.8-4.2 2.8-3.4 2.9 .6 3.8 .3 3.8-4.7 2.8-.4 3.8-1.5 2.9-2.9 3.4-3.8 3.3-3.8 2.4-4.7.6-3.8.2-3.8 1.1-3.1-1.1-.7-3.2-2-4.8-1.9-3.8-1.9-3.8-.9-4.8-1.9-4.7-2.9-5.7-.3-3.8 2.2-5.7 1.4-3.8-1-3.8-1.7-5.7-.6-2.3-3.8-4.4-1.9-3.4 1-3.3 .4-3.8-1.4-1.9-3.8-.7-2.8-.2-1.9-3.4-4.8 0-3.8 1.1-3.8 1.7-3.8-.7-6.7 1.5-3.8-3.1-3.8-1.9-2.8-2.8-1-2.5-2.8-2.3-3.3-2.6-.2-2.7-1.3-1.7 1.9-3 .6-4.2-.6-2.9-.9-1.9 1.5-3.8 2.4-3.8 2.7-3.8 1.9-1.9 3.8-1.9 1.5-3.8 2.3-4.4 3.3-1.7zM536.3 668.9l1.9 6.6-1.5 4.8-2.9 7.6-1.9 5.7-3.8.9-2.8-4.7 1.5-5.7-.6-5.7 3.8-2.5 3.8-4.2zM425.4 575.7l-1-3.2 1.4-4.4-.8-3.8 2.3-1.4 6.6.6 5.2 0 1.1-2.5 0-2.4-1.9-2.3-4.4-1.3-.3-1.2 5.7-.4 .2-1.7 3.4.2 2.6-1.9 2.7-1.5 2.3-1.7 1.1-1.5 4.2-1 3.1-.6 0-3.2-.8-2.8 4.4-1.4 0 2.7-1.4 2.5 1.9 1.9 2.3-.4 4.2.6 4.4-1.2 3.8-.4 2.5.6 2.3-1.7 0-3.2 2.8-1.4 3.4 1 0-2.1-1.5-1.7 4.8-.6 3.8 0 4.2-.8-3.3-1.1-4.7.2-5.7.9-3.1-1.3 .2-2.7-.6-1.9 6.3-3.2 1.5-1.1-2.4-1-3.8.6-1.4 2.3-4.3 2.1-3.3 3.2-.2 1.9 3.1 1.3-4.2 4.4-1.2 2.5-3.2 1.3-2.5.2-.7-2.1-1.5-2.3-1.6-2.4-.9-1-4.8 2.7-3.8-.4-1.9-3.2 0-3.9 3.8-1.9 5.3-1.5 3.3-2.3 2.5-2.8 3.2-2.9 3.8-1.5 4.8-1.9 5.7-.9 7.2-1.6 5.1.6 4.8 1.2-1.9 1.1 5.7.4 5.7.7 9.5 2.9 0 2.5-4.7 0-6.7-.6-3.8-.6 3.4 3.4 0 1.2 5.2.9 .9-1.1 4.8-.2-1-1.7 3.8-1.7 3.8.4 .4-2.5-1.3-1.9 5.1.6 .6 2.4 2.8-1.3 9.5-1.3 1.9-1.2 7.7 0 4.7 0 1-1.7 6.6 1 4.8.7 3.8 1.2-1.5-3.3-2.3-2.8 3.8-2.5 6.7 0 .5 3.4-1.5 3.8 3.2 3.8-3.2 1.4 4.8-2.3 .9-1.9-.9-3.8-1-2.9 3.8 0 3.8-.5 5.7.5-.9-2.8 10.4-.8 1.9-2.1 7.7-1.3 9.5-.8 7.6-.7 7.6-2.3 5.7 1.7 9.5.4 2.9 2.1-6.7 2.8 5.7.6 9.5.4 9.5 0 7.7 1.9 4.7 2.8 6.7-.9 7.6.2 5.7-2.1 11.4.2 7.6 1.7 5.7.9 9.5 0 3.8 2.5 9.6.4 9.5-.6 1.9 1.5 9.5-1.3 7.6 1.5 0 7.4-2.9 1-1.9 3.8-6.6 1.3-6.7 3.5-8.5.3-4.8 3.5-2.8.9 1.9 2.9-1.9 2.2-3.9 3.5-2.8 1.9-3.4 1.9-1.4-3.8-.9-4.8 .9-3.8 3.8-1.9 3.8-3.8 5.8-1.9-5.8-.6-5.7.2-3.8 4.6-5.7.6-5.7-1-7.6.4-5.7.6-7.6 4.7-4.8 3.4 3.8 1.4 4.8 0 2.5 1.9-1.6 3.8 0 4.7-4.7 3.8-4.8 4.8-4.7 2.3-3.8.5-2.5 2.3-3.2 2.5-1 .9 3.4 3.8 0 3.8-3.4 1.8-2.3 0 .4-3.7 .4-2.2-3.3-.6 0-2.9-1.3-.9-4.4-1-.9 2.9-1-3.2-3.8 2.8-2.4.4 1.5 2.5 3.8.1 3.8.6-2.9 1.5-2.8 2.9 1.9 2.8 2.5 3.3-.6 3.4 .9 1.9-2.8 3.8-1.9 2.9-2.9 1.9-2.8 2.8-4.4 1.3-4.2 1-2.8.9-1 1.9-.9-2.2-2.9-.2-2.5 2.1-1.9 2.8 1.5 2.9 3.9 2.8 1.5 4.8-.2 3.8-4.2 2.1-2.9 2.6-1.3.6 .4-2.8-2.9-.6-1.9-2.9-2.8-1.3-1.5-1.3-.4 2.6-1.4 3.8 1.4 2.9 1.9 3.2 2.8 2.5 1.7 2.8 .2 2.9 1.4 2.1-1.4.2-3.8-2.9-1.9-3.2-.4-2.9-1.5-2.8-2.3-1.5 .4-3.3 .4-3.8-1.3-3.8-.6-3.8-1.3-1.9-2.9 1.9-1.9-.4-.4-4.3-2.4-2.9-1.9-2.8-1-1.9-1.9.9-2.9.4-3.8.9-.9 2.5-2.9 1.3-3.8 3.5-2.8 2.8-2.5 1.9 0 3.8-.8 3.8-.9 1.6-1.9 2.2-1.5 1.7-1.9-2.6-1.9-3.8-1.4-2.9-1.1-3.8-1.7-3.8-1-3.8 0-3.8-1.5 0-2.9.2-2.8-2.7 2.5-1.3-3.5-.9-2.2-1.9-1.6-1.8-4.7.2-4.8.2-4.7-.4-3.3-.5-1.5-2.5-3.8.8-3.8-1.7-2.9-2.9-1.9-2.3-2.4 0-1.4 1.4 1 2.2 2.8 3.1 .4 2.3 1.5 1.7 1-2.7 .2 3.2 4.5.4 3.9-3.6 1.1 2.9 3.6 1.7 2.5 2.1-2.5 4-1.5 2.6-2.3 1.9-2.8 1.9-5.4 1.9-6.1 3.4-5.7 1.8-4.7 1.1-1.4-4-.5-3.2-2.9-4.8-3.4-4.4-1.3-4.1-2.5-3.5-3.3-4.1-1.3-1.9 .4-1.9-1.3 2.8-1.4-.4-1.9-3.2-.5-2.5 3.6-.2 1.5-2.8 1.1-3.3 .8-2.8 .4-1.5-3.3.2-3.8 1.1-3.8-1.3-2.8.9-2.9-.9-1.9-3.3-.5-1.9 1.5-1.7 3.8-1.1 4.7-.4 3.8-1.5 3.8.6 2.9 1.1 4.8.2 3.8-1-.4-2.4-3.4-1.9-3.8-1.9-.4-1.4 2.3-.9 1.3-2.3-3.2.4-4.2.9-.6 1.5 2.9.8-2 .8-3.2.9-2.3-1.7 1.7-1.3-3.8-1.2-2.4 1.2-1 1.5-1.9 2.3-1.7 2.4 .8 2.1 1.5 1-2.9.4-2.3.5-1.5-.5-2.8.2-1 1.1-1.3-.4-.2 2.1 1.1 1.9 1.4 1.2-1.9.5 0 1.7-1.6-.7-1.7-1.5-.2-2.1-1.9-1.4-1.5-1.9 .2-2.4-1.9-1.4-3.8-1.9-2.5-1.5-1.7-1.7-1.1-.8-2.5.6 0 1.9 2.3 1.5 1.1 2.3 3.4 1 3.9 2.1 .7 1.3-2.7-1-.9 1.9 .9 1.2-1.9 1.7-.5-.2 .5-1.7-.9-1.9-1.9-1.3-2.9-1.2-2.8-2.1-2.1-1.7-.8-1.3-2.3-.8-2.4 1.2-2.9 1.3-2.8-.6-2.5.8 0 2.1-2.3 1.1-2.8 1.5-1.6 1.9 1 1.4-1.7 2.2-2.5 1.6-4.8.3-1.9 1.2-1.5-1.3-1.7-1M100 515l5.7 1.2 7.6 2.4 5.7 1.9-1.9 1-3.8 2.3-5.7-.8-4.7-2.5-2.9 1zM431.7 550.8l4.1-.4 4.8-.8 4.4-.9 .7-2.9-2.6-.5-.8-1.9-2.7-1.9-.9-1.9-1.5-.8 1.5-2.3-2.9-.2 1-1.7-3.8 0-2.3 2.1 1.3 2.9 1.4 1.9 2.8.1 .6 2.1-2.9 1 .6 1.9-1.9.9 3.2.8-1.9.8zM423.5 547.9l7.2-1.1 .4-2.5 .9-1.9-1.9-1.3-3.4.2-3.2 1.7 .9 2.3-1.5 1.5zM463.4 494.9l9.5-1 11.5-.7 9.5.7-5.7 2.9-5.7.9-5.7 2.5-7.7-1.5zM540.5 510.1l2.8-2.9 5.8-3.8 7.6-2.3 11.4-1.5 5.7 1-13.3 2.8-7.6 2.9-1.9 3.8-3.8 1.5zM623.3 495.8l9.5-3.8 11.4 2.9-5.7 2.4-9.5.4zM530 493l11.4-1.4 15.3-.5 7.6 1.3-11.4 1.5-15.3 0zM703.2 502.5l7.6-1.2 9.5 1.2 7.6.5-3.8 1-11.4-.2-5.7.4zM708.9 505.7l5.7.4-1.9.7zM782.1 511l2.9-.9 0 1.3zM712.7 542.8l2.8 4.4-.3 4.7 .3 5.2-2.8 1.5 0-4.8 0-5.7zM708.9 567.1l2.8-3.2 .6-4.2 3.2 2.3 3.5.8-3.5 3-3.8-.2zM691.8 581.4l3.8-2.9 5.7-.3 1.9-2.5 3.8-1.9 1.9-3.8 2.5-2.5 1.3 3.4-1.9 2.9 0 3.8-1.9 1.9-2.9.6-2.8.2-1.9 2-1.9-1.9-3.8.4zM689.9 582.3l3.2 0-.4 3.8-2.3.6zM694.6 581.8l3.8-.8-.9 1.7-1.9 1zM672.7 598.1l1.9.8-2.2 5.3-1.2-1.9zM649.3 609.3l2.5-1.3 1.9 1-2.5 2.2zM671.8 610.9l3.2.2-.4 4.5-.9 3.4 4.7 2.3-1.9.4-3.8-1.7-1.3-2.1-.6-2.7zM674.6 632.7l2.9-3 3.8-2.1 1.9 4.2-1.9 2.8-2.9-.5zM674.6 623.8l2.3 1.3 2.5-.5 1.9-1.9-1 3.8-2.8 1.5-1.9-1zM665.5 629.9l4.4-5.1-1 2.2-2.4 2.7zM649.9 642.6l3.8.4 3.8-3 3.8-3.5 3.3-3.8 4.3 3.5-2.4 3.2 .5 4.4-.9 3.8-2.3 4.2-.6 1.9-2.8 0-2.9-1.4-2.8 0-2.9-3.4-1.9-3.4zM623.8 635.4l4.2.8 4.8 4.1 3.8 2.9 3.2 2.8 1.5 3.9 2.9 2.4-.4 4.8-2.5 0-4.1-3.4-3.5-4.8-3.4-5.7-3.2-3.4zM642.9 659l2.6-1.5 3.5 1.3 4.3-.6 3.6 1.2 3.5 1.3-.2 1.9-6.5-.8-5.7-.9-2.9-.8zM670.5 644.5l2.2-.7 3.8.5 3.8-1.3-.9 2.3-6.7-.2-1.3 2.7 2.3.2 3.4-.4-2.5 1.9-.5 1.9 2.4 2.3-.9 2.4-1.9-1.5-1-3.4-1.3.6 .2 4.7-1.7 0-.4-4-.6-1.7zM691.8 647.6l5.7 0 1.9 4.7 5.3-3.4 6.1 2.1 6.7 2.3 2.8 3.2 3.4 1.5-.9 2.3 3.2 2.9 3.2 2.8-5.1-.6-3.2-3.6-4.4-1.1-1.9 2.8-3.8 0-3.8-2-1.9.5 1.5-3-1.5-2.5-3.8-1.7-4.8-1.5-1.3-1.9-2.5-2.5zM725.1 656.5l3.8 0 3.4-2.3-1.5 2.9-3.8.9zM594.7 627.4l2.3 2.5 1.1 2.8-2.2 2.1-1.6-2.1zM677.5 665.6l2.8-2.4 3.9-1.2-1 1.5-3.8 1.9zM663.2 662l3.8-.4 3.8.2 5.4-.2-.6 1.2-5.7 0-4.8.4zM685.1 642.2l2.3 1-1.3 2.8 .9 1.6-1.5-1-.4-2.5zM686.1 651.8l4.7 0 .6 1.5-4.4-.6zM658.8 687.9l1-.4 4.4-2.3 4.7-1.1 4.8-1.3 1.5-3.5 2.5-.9 2.6-2.9 2.9-2.8 2.9 1.5 2.8.2 1.9-4.6 3.8-1.9 4.8 1.4 3.4-.4-1.5 3.2-1 2.5 3.8 1.9 3.8 2.8 2.5 0 1.5-4.7 .2-4.8 1.5-3.4 1.9 3.4 .4 3.4 3.1 1.4 .9 3.8 1 3.8 4.2 2.3 1.9 3.4 2.4 2.5 3.3 3.2 1.3 3.8 .6 3.8-1.4 4.8-2.4 3.8-1.9 3.8-1 3.4-3.8.9-3.2 2.3-3.4-1.5-3.9.4-3.8-.8-1.9-3.8-2.8-.6 0-3.2-1-1.9-2.8 3.4-1.9-2.4-1.9-1.9-4.8-1.9-4.7.3-5.8 1.2-3.8 1.3-.9 1.7-6.7 0-3.8 2.1-3.8-.4-1.9-.9 1.2-3.4-.2-3.8-1.4-3.9-1.5-2.8-1.3-2.9 .6-2.8zM717.6 723.4l3.7.8 3.4-.4-.2 2.5-2.3 2.5-1.9 0-1.5-2.3zM771.1 711.5l3.1 2.1 2.2 1.9 1 2.1 4.4 0-1 3-1.7.6-.8 2.4-2.2 1.6-1.2-.6 1-2.5-2.7-1.3 1.7-2.5 0-2.3-3.2-3zM771.1 723.1l2.9 1.5-2.3 3.2-1 1.5-2.3 1-1.1 3-2.3 1.4-2.8-.4-2.9-1 1.9-2.1 1.9-1.5 3.8-1.9 1.9-2.3zM458.1 568.1l2.9 0-.2 3.4-2.1.4zM458.9 564.5l1.7 0-.4 2.8-1-.4zM466.3 573.8l5.9-.4-1 2.9-4-1.2zM487.4 578.5l5.1.6-3.4.6zM504 579.5l4.1-1.1-1.3 1.7zM543.9 622.1l2.3.2-1.3.4zM534.4 514.3l2.9-.2-1 1.3zM100 795.1l28.5-.1 13.4-2 15.2-1.5 19-2.8 19-1.5 8.2-1.6 20.4 1.2 13.3.9 9.5.6 5.7-2.9 7.6-.5 11.4-.4 19.1.8 7.6-.4 3.8-3.8 7.6-2.9 5.7-3.8 5.7-3.8 7.6-3.8 6.7-.6-2.9 2.5-5.7 1.5-1.9 3.3 1 3.8 .9 3.8 1 3.8-2.3 2.8 7 2.9 15.3 3 15.2.8 13.3-.6 13.3-3.2 15.2-4.8 15.3-3.8 13.3-2.3 9.5-1.7 15.2.6 13.3-.8 19.1 1 15.2-2.1 9.5 1.7 13.3-3.6 13.3-3.6 7.7 1.3 11.4 1.7 11.4.8 3.8 1.3 7.6 1.7 7.6-2.1 7.6-3.2 11.4-.8 11.5-.3 11.4-1 9.5 1.5 9.5-1.1 9.5 1.1 9.5.6 13.4-.8 15.2-.7 13.3 1.5 7.6 1.7 11.4 1.7 15.2 2.1 11.5 1.9 8.5 1.7-4.7 3.1-7.6 3.4-2.5 3.6 4.4 2.1 9.5-.6 9.5 1 9.5.7M535.7 557.2l4.8-.1 2.8 2.8-3.8 1.5 0 2.9 3.3 2.8 1.9 3.8 .2 4.2-5.4 1.2-3.8-1.6 0-3.8 1-1.9-3.8-4.7-1-2.9zM553.8 559l3.8-1.4 1.9 2.9-2.8 2.4-2.9-1.5zM640 548.1l3.2-.9 4.8-2.9 3.4-4-1.5 0-3.8 3.4-3.8 2.5zM583.3 559l3.8-1.8 5.7.2-4.7.8-3.8 1.9zM503.4 645.5l3.8.2 0 4.2-1.9 1.3-2.3-2.3zM498.3 652.7l1.3 2.9 1.5 4.7-.6 1.9-1.9-4.7zM507.2 664.5l1.3 3.4 .6 4.8-1-1.9-.5-3.8zM267.4 557.1l5.8-2.3 4.7.4 3.4 2-4.3.4-4.8-.5zM275.4 566.2l2.5 0 1-3.8 1.9-3.4-2.9 0-2.3 3.4zM282.7 558.6l4.7 0 2.9 2.3-3.8 3-2.9-1.5 .4-2.5zM284 566.6l4.4.3 3.8-2.1-2.9.2-3.8 1.2zM290.8 563.7l5.2-.2 1.3-1.3-3.2.4zM254.1 543.7l2.9 0 1.9 5.4-1 .9-2.8-2.8zM208.5 520.5l5.7-1.9 3.8 1.4-2.9 2.4-4.7 0zM219.9 530l5.7-2.2 7.6-1.2-2.9 1.9-5.7 1.5zM230.3 534.4l4.8-1.1 5.7.2-5.7.5zM500.5 532l3.8-1 .6-1.5-3.4-.4-1.9.9zM508.1 530l2.9-.5 0-2.3-2.9 0zM468.2 621.3l2.5-1.1-.6 1.7zM309.3 675.5l1.9 1.5-.6-1.1z"/>
<path class="tx" d="M265.3 543.7l1.5-.5 1.8-.1-.4 2 1.9.3 .3 2.4m-79.6-28l1.9-.3 3.3 1.5-1.3 2.1 .5 1.9 .7 1.1m35.6 6.9l-1.5-2.5-2.2-.5-3.2.1 .4 2.6-3.3 2.1m77.3 19.3l1.8-2.2-2-1.8-1.9 1.1 0 2.3 1.1 2m-42.1-26.3l1-2.3-3.9.8-2.1-1.1-1.6.1-2.1-.2m53.5 28.7l2-2.6 2.1 1.4 3.6 1.5 2.8-2.2-3.1 2.3m-50.6-22.7l2.5 1 1.5 2-3 1.4-1-2.9-4.2-.3m51.9 8.3l2.5-1.7 .7 1.1-1.6.9-1.7 0 1.2-1.1m-118.7-22.6l-1.6-1.2-.2-1.8 4.2.1 .7-1.3 2-.8m117.2 39.6l-1.7-1.9 2.7-1.2 .2 2.2 3.5-1.6 .3-1.6m-13.7-13.9l-1.2 1.3 3.3 2.2 2.9-2-2.2-2.1 1.7-1.8m-82.5-5.4l3.9 1.5-.4-3.1 1.2-1.3 2.1.2 .4 2.4m26.3 2.3l-3.6.1 1.2 2.6 2.9.4-.1 2.8-2.8 2m39.8 15.5l3.2 2 1.6-.8-2.1-2.8-2.4-.7-1.9-.3m33.3-10.2l-2.4-1-1.5-2-2.3 1.2 2.5 1.2 2.8 1.1m-19.5 12.2l-2.2 1.6-3.2.2-3.8.8-.4-2.3 1.9-.9m3.6-15.7l-.2 3-1 2.3-.8 2.1 1.6 1.7 2 1.6m-79.7-13.2l.9-1.2 2.5 1-1.7 1-1.5-2.2-4.3.3m-11.9-6.5l-3.6-1.6-.2 1.6 2.7-.7 4.4-.9-.4-1.4m39.3 12.7l1.8-1.2-.3-1.1-1.3-1.8 2.6.2 2.8-.9m-65.3-7.9l2.9-.2-1.2-2.7 1.3-1-2.9-1-1.7.4m117.6 38.2l-3.9.9-2.6.2-4.1 1.1-1.6-.8-1.9-.8m7.7-10.6l-.4-1.8 2.2.6-3.1 1.5-1.5 1.1-3.3 2m-93.3-29.1l-3.7-1.2-1.9-1.7-4.6-.3-2.9-2-.5-1.2m110.2 33.7l2.9 2.1 2.4-1.8 2.3.2 1.5 1.7-2.4 1.2m-47.2-15.4l.4-1 1.8-.3 1.6.2-1.6 1.3-3.2-.7m9.3-11.5l1.5 2.8-1.8-2.6-2.9 1.4 .3 2.8-3.1.1m2.2-8.6l3.3-.4-1.3-2.4-2.1-.5 1.4-.9 1.9-.2m47.3 17.8l-.8 2.5-.4 1.1 3.3 1.3 2.8 1.1 1.7-.3m-21.7 9.2l3.2 1.4-1.1 2.5 3-.4 2.9.5 3.4-1.3m-84.9-26.5l-1-.9 2.3-.4 1.9-2.2-.6-1.7-.9-1.9m28 30.1l-1.5-1.9-1.2 1.1 2.3-.3-1.1-2 1.5.2m6.5-5.9l2.4-.6 3.7 1.4-3.5 1.1 .7 1.3 2.9-1.7m56.2 6.3l-1.4-3.1-1.7-1.4-.9-1.6 1.9.1 .3-1.7m6.9 9.6l-.3-1.4 1.8-2.9-3.9-.8-4.2.9 2 1.7m-28.2 12.2l-1.7 0 .5 1.3-4.5-.7-1-2.4 1.8-1.9m33.2-18l-4.6.1-1.9-.2-.1-1.3 1.2-1 2.2.4m-48-16.9l-1 1.8-.8 1.8-1.4.7-4.2-1.2 1.4-2m15.2.1l2.1-.6 3 .2-1.4-2.7-1.5.4 .3-2.5m38 24.1l.2-1.9-4 .6 1 3.1-1.5.8-2.1-1.6m-13.6-.3l.6-2.7 4.2-.8 1.5-1.3 1.8 1.1 3.6.3m-82.2 3.3l4-1.1 2.2-.4 3 2.3 2.5-.1-1.4 1.9m-17-12.6l-.2 1.1-2.1 1.4 0 1.4 3.7.8 2.1.3m105 12.2l-1.6 1.1 1 1.6 2.1-1.5-4.4.6-.6-1.9m-2.4-.7l-3.8-.2 1.9-2.1 2.3-.9 2 .4-1.8 1m-123.5-29l.2 1.1 .1 1.9 2.1-.5 4.1.9-2 1.4m-13.9-2.7l-3.9-1.3 2.3-.4 3.5 1.2 .7-2.4-1.6.2m55 23.4l-1.1 2.7 2.8 2 3.2-.9 2.4.6 2.2 2.2m39.6 5.3l-.2 2.3-3.4 2.1 3.4 2.1-.3 1.2-2.9-.8m-10-.7l-1.1 2.1 2.3-.2-2.7-.5-3.4-.8 3.7 1.8m-11.2-41.7l-2 1.5-3.9-.7 .3 1.3 1.9 2-1.7 1.5m-44.6 10.5l-1.5-.4-1.6-2.3 2-1 3.2 1.7 1.6.5m102.6 15.4l-2.8-.4-.8 3.1-1.5 1.1-.6-1.9-2.8.1m-2.2-9.2l1.4 2 3.9 1.4-2.3 1.8-3 .6-.7-1.6m-54.3-26.8l3.2-1.6-2-.7 1.7.3-2.5 2.3-1.9-.7m-17 20.2l1.7-1.1-.8-2.9 3.2.6 1.1-.9-1.4-.9m30.8 15.5l-2.9-.3-2.4 1.1-1.6.3-2.1 1.5-3.7-.9m36-9.1l.9-1.1 2.4 1.2-2.2 1.3-1.2.8-.4 1.2m-41.6.5l-1.4 2.7 3.7-.7-.2-1.4-2.5 1.2 3.9 1.5m-55-23.2l-1.9 1.3 .7 1.3 2.1-.8-.7-1.3-1.5-2.9m53.1 25.2l.9 1.3 2.6-1.8-1.6-.8-1.6.7-2.6 1.7m-19.9-28l-3.3 1.9-2.3-2.8-2.5-.8-1.6 1.2 3.3.3m6.5 5.4l.8-2.6 3.3 1.7-.5 2.4 3-.9 1.1-1.6m-39.8 8.3l-4.1-1.1 .9-1.4-.4-1.1 2.5.6-1.3 1.6m13.8 2.9l-2.6-1.6-1.3-1-1.1 1.4-1.6-.6-4.2.4m95.7 10.2l3.1 1.2 2.6.4 2.6-.9-2.6-1.8 1.4-2.9m-117.3-14.2l4.3-1 .6 1.5 2.2 1.5 4 .5-.1 1.7m89 33.2l-2.2-1.9-.9 1.4 1.5.4 3.6-.9 2.7-2.4m-12.3-43.7l-1 2.4 2.8.5-1.3-1 .8 1.3-1.6-.1m-45.7 4.7l1.5-.7-2.6-2.4-1 1.1-1.8-.4 2.8-2.1m69.4 13.4l2.1.8-1.2 1 .9 1.4-1 1.8-1.4-1.3m-80-7.7l.3-3.1 .1-2.9-.8-1-.3-2-2.5-.5m-6.8 2.4l-.8-1.3 2.1.3 2.7-2.5 1 2 1.1 2.6m13.8.4l-2.2.7-2.6-1.8-1.3-1-1.7-.2-1.9 2.2m76.6 10l-.6-1.9-1.7.5 .8 1-1.7 1.1 2.6 1.2m-61.4-14.3l.8-2.2-2.4.5 1 1.2 .9 2.7 1.1 1.1m11.2-3.4l2.4-.2 2.1-2.5 1.8.7 0 1.7 .1 1.4m-61.3-4.8l4.6-.5 2.2 1.2-2.5.8 .7 2.5 .6 2.4m70.8 20.6l2.9-.3 3.5.3 2.3.6-2.8 1.7-.6 1.6m-32.7-6.3l-3.4.8 1.3 1.2 3.9.5 2.4 1.4 .3-1.1m28.3-21l-4.3-.8-.1-2.5 1.6-2.4 4 1.6 .7 1m-35.2 9.5l.9-1.5-2.8-2.4-1.6-1.1-2.3 1-1.5-.9m28.9 27.8l2.2 1.8 3.6-1.4 2.2-.6 1.6-.8-1.2-1.6m35.5.6l.8-1.9 1.6.1 1.5-1.3 2.4.4 2.7.7m-83.3-30.1l-4 .8 1.9 2.4-3.6 1.3-.8 1-2.1-2.8m53.3 30.2l1.3 1.3 2.5-.5 1.4 2.8 2.1 0-.7-2.4m12.5-21.5l-1.4 2.8-.2 1.6-1.9.5-1.6.3-2 .2m-37.1 2.9l.4 1 3-.4 3.2-1.2-.1 1.3 1.8 2.1m-5.3-2.2l-3.4 1.1-1.5 1.6 2.3.9 2.5 1.4 1.9-.8m-13.3-1.2l.5 1.7 2.8-.1 2.3-.2 4.6-.4 2.7-2m-33.6-6.9l.8 1 4.3.2 1.7-.2 1.1.8-2.2 2.6m-18.9-8.3l-1.2 1-1.4-.6-3.4 2-.5 1.8 3.7.9m56 14.7l0-1.7 1.1-2.4-1.7.1-1.6.3-.8-2.7m5-25.6l3.7 1.9 2 1.3-2.8 1.5-1.6-.8 1.4-.5m13.8 35.2l-1.8 2.7-1.4-.6 3.7 1.4 1.5-.7 1.7-2.3m1.4 4.9l3-2 1.1 1.6-2.5-1-1.9.4-3-1.6m20.1-13l3.8 1.1 2.5-.1 4.2.7 2.5 1.8 4.1 1m-20.2-2.1l1.5 1.7 3.2 1.7 .9-1-3.3-1.7-1.8 2m-81.7-30.3l4 1.2 .9 1.1 2.7 2.1-2.2 2.2 2.2.4m-10.5-2.1l.2 1.3 3.8.3 .9 2.3 3.9-1.3 2.6-1m39.5 25.7l3.7.5 2.3 1.6 1 2 1.6.7 4 0m-78.5-24.6l-1-.9 4.5-.6-.7-2.1-1.2-1.4-2.8.4m62.3-8.7l.6 3-3.4-.5-1.5-.8-.5 1.6 .3 2.4m-20.5 14.8l-4.6-.3-.5-1.1 2-1.3-3.6-1.7-1.1.9m51 10.7l.2 1.3-1.4 1.3-2.3-1.4 1.3-1.3 3 1.5m-52.2-26.8l-1.8.6-1.2-.9-3.2.3-.6-2.9 2.2-1.2m80.7 27.8l1.4-1.5-1.8-.4 .3 1.1 3.4-.8 1.8 1.6m-88.8-27.2l-2.6 2.1-2 .3 1.8-2.6-.3 1.5 .2 1.4m-13.8 3.4l-1.7 0 .8-2.3 .6-1.6 3.5-.1 2.4-2.2m55.8 33.7l.3-1.9-1.2-.8-2.1 1.1 2.3 2.4 .8 1m49.7-15.1l-.6 1.4 2.5.7-.7 1.8 .2 1.1 .6 1.9m-8.8.7l-2.7 1.9-1.8-2.7-2 1.7-1.9 1.7-.8 1m-84.5-27.7l0 2.6-1.6.2-2.6 1.4-2.7 1.8-2.3-2.5m80.3 33.9l2.3-1.4 1.8.3 1.6.8 1.2-2.5 4 .6m22.6-14.4l-1.7 1.8-3.8 1.6 .5 1.8-2.2 1-4.3 1m-34.9-6l.4-2-3.9-.6 .6 2.4 4.2.2-.1-1.1m.2 5.8l-3.2.3 1.4 2.2-2 1.7-3.7 1.8-2.3-.6m10.7 1.7l2.7 1.1 0 2.1-.1-1.6 3.2.4 .9-2.3m-74.7-28.3l-3.4-.1-2.5-.3-.5-1.5-.9-1.8-1-.8m31.4-2.9l-.5-2.1-2.1-.1 1.9-1.4 3.9 1.6 1.7-.7m20.2 8.7l2.7.9 2.7-1.8-1.7-.7-.7 1 1.4 2.1m-19.6-3.7l2.6.6 2.6 1.1 2.2-.8 3.2.1 2.2.9m-.3 14.6l1.9-.4 2.7-1.4 1.6 2.9-1.6 2.6 4.1 1.4m-9.1-28.2l1.5 3 1.2 2.1 2.5.6 1.9 2-.3 3.1m-21.5 6.6l2.5 2.7 1.4 1.7 4 1.6 1.2 2 2-.2m53.7-5.4l-2.8-1.7-3.6 2.1 2.2 1.3-1.6 1.3-1.8 1.7m-55.6-18.1l-1.4-.4-1.4-2.7-2.3-1.9 1.8-1.7-2.3 2.8m30.5 22.2l2.8 1.8-1.4.8-2.3-1.5-2.7 1.4 .7 1.1m-82.7-21l1.9-.1-.8-2.2 1.2-1.9 1.3-.7-2.3-1.6m91.2 31.7l-2.3-2.4 .9-2.9-2.3-.6-4.5.1-4.5.2m27.7 7l-2.7.9 .3 1.6-2.5.5-2.2-2.7 1.4-2.1m-45-7l1.3 2.7-.7 1.5 3-1.6 .9 1.6 1.9-.5m2.4-24.7l-2.4.7-.5 1.9 2.1-.4-1.9-1.7 1.4-1.8m-46.2 7.6l-3.3.6-2.2-.6-2.2.3 .5 1.3 1.6-.9m115.2 18l-2.6-1.5-.8-2.1 1.1-.9 2.2-.2 .1 2.6m-28.6.6l-3.6.4-2.4-2.4 3.7 1.6 3.3-1.2 .1 1.2m-4.9 8.7l2.9 1.7-.6 1.9 1.5 1.5 1.5.5 4.5.2m-29.1-42.1l-.6-1.1-1.1 1.4 .7-1.6 3.5.8 2.1-.6m-45.7 21.1l0 1.9 1-1.7-2.7-1.2-1.7.7 2.6.4m35.4 7.3l1 .8 .9-2.6 3.3 1.3-.1-2.3 3 .2m16.1-25.1l-2.3-.2 2.4-.2 1 2.4 4.3-.7-2.2-.9m-42.7 18.2l-1.8.9-.6-2.2-2.8-2.1-4.4.3 1.4 1.9m-2.3-.3l.5-1.3 2.1-2.8 1.3.8 1.2 1.2 1.5 0m67.6 9.7l-2.5-1.3-1.4-1.5-1.1-2.4 2.9-.3 2.4-.7m-70.8 4.5l-.2-2.9-3.8 1.6-1.9 2.5-2.4-1.8-2.3-.7m48.3-22.6l-2.2.9-4.2-.5 1.3-1.2-3.1.4-2.6.7m59.3 19.3l-1.6-1.2-1.5.6-1.2 2.1 2.2 2.2-4.1 1.5m-19.4 16.5l0 1.4 2.9-1-.2-1.4-1.7-.3-.5-1.8m22.4-19.3l.9-1.3 3.2 1.9-1.9 1.3 1.1 3 1.6.3m-54.1-16.8l-3.1-1.4 .1-1.4 1.3-2.8-.1-1.3 1.6.6m38.5 36.2l-3.1-1.4-.8-1.2-2.8 1.2-.8 2.7 1.6-.2m-39.6-34.4l-2.1-.2-1.2 2.4-2.1 1.4-3.1-1.9-1.5-2.8m69.7 14.9l1 1.7 .8 2.2-.6 1.8-2.2-1.8 0-1.1m-32.9 12.5l-.4-1.6-1.4-2-2.9 2.5-1.3-2.1-4.2.1m25.9-14.4l-2.4.4-.1 3 3.5-.9 3.3 1.4 2.7-1.1m-28.2 10.9l-1.7-.1-1.8-1.3-.7 2.1-1.6 1.1-2.4-.8m44.1-5.9l-2.5-.1-.1-1.2 1.8-1.2 2 2.7 1.3.8m-107.9-7.2l3 1.8 4.1-1.1 1.9 1-1.9.5-3.1-1.4m-.7-1.9l2.1.3 3.1-2.3 .5-1.2-3.7-1.4-.7-1.3m18-1.2l-3.2 1.2-1.7-.2-1.4-.6-2.6-.1-3.4 0m1.6 13.6l-1.2-2.2-1 1 2-.4-1.1-1.8-1.7-2m55.5 11.8l-3.4 1.1 .2 2.7-2.9 1.9 2.9.6 1 2.1m10.4-29.9l-.6 1.5-2.5-2.5 1.3-.8 3.5.3-2.3-2.5m-82.8 6l1.4-1.7-1.5-.6-2.8-.4 .3 3.1 1.3 1.3m15.9-3l-4.7 0-1-2.1 3.8-1.1-1-1.5-4.1-.1m49.9-1.6l-4.2.2-4 1 1 .9-4 1.5 .4-3m-40.1 6.9l2.4 1.9-2.3.9 2.6 1.9 3-2.5 .8 1.5m74.9 24.9l-.2 1.3-2 1.6 2.4.7 2.3-.4 1 1.5m-30.4-17.4l-1.6-.2-2.9 1.3-2.4 1.6 .2 3.2 3.7-.3m-13.7-1.2l-.9-1.2-.7.9-1.4-1.6 1.3-1.2 3.1 1.9m-12.8-14.7l-4-1.5 3.5-1.2-1.3-1.9-3.4-2.2 1.1-2.3m67.9 22.1l-2.1 1.6-.7 2.5-3 1.3-1.6 1.1-.7 1.5m33.3-12.6l-.3 2.1-1.9.3 1.7 1.9 2 1.7 2-.8m-115.6-22.1l-3.9 1 2.2 2.5-2.7.2-.1 2.8-2-.1m34.5-5.5l-1.8-.1-4-1.6-2.8.6-3.9.6-.4 1.4m37.9 26.5l-.2-1.9 1.9.7 1.7.3-.1 2.6-1.8-.2m16.1-31.6l2.3-2.2 .4-1.9 2.5 1.1 .4-2.5-3.7.4m-42.1 14.4l3.8-.4 3 .7 4.1 1.1 1.1-.8 1.2-1.9m.5-7.1l-3.4-1.8-1.9-1.7 1.5 1.7-3.7.2-3.7 1m58 35.6l3.6 1.3-1.1 1 1.6-2.4 .8-1-.9-1.9m-82.4-32.9l-2.6.7 0-1.7-4 .1 .1 1.6-1.6.4m51 22.4l-3.2-.6-2.6-2.1 2.5-2.5 .6-1.1-2.4-.5m-34.9-13.7l-3.8-1-2.9 0 1 1.9 1.6-.5 3.4-.4m-33.5-3.2l1.3-1.1-3-.9-1.9 1.7 .4 2.5-1.5 1m124.8 31.6l-1.2-3 .3-2.5 4-1.2 .7-1.3 2.8 1.7m-127.8-27.2l2.6-1.5 3.3.3-.4 3-3.1 1.9-2.8-2m91.6 28l-.2-2.1-2.6-.9-1.8.4 .3 1.3 4.2-1.4m16.7-10.6l3 1-1.2 1-2.5 2.6 2.8 2.4 1.6.2m-67.2-4.9l-1.8-.7-1.8 1.2-1.3-2.1 3.1-.5 .3-2.3m49.3 19.8l-2.7-.3-1.7.8-2.8-2.4 .2-2.9-3 0m-13-14.8l1.7-.8 2.2.6-4.3 1-3.8.7-3.1 1.4m-33.3-13.2l1.7 0 2.7 1.2 .4 2.9-3.3-.3-.8-2.3m16.5-4.5l.1 1.1 2.5-.8 1.9 0 1.6 2.4 1.9.5m12.9 12l3.6-1.1 1.2-1.2 0-2.9-1.7-.4-2.2 1.1m-49.2-18.2l1.1 1.1 4-1.4-2.1 2.4 2.2.8 .1-2.2m8.4 5.5l2.9-.3 1.6 1.8 2.6-1.7-.3-1.9-3.9-.6m84.4 23.6l1.4-2.7 3-1.1-1.6-2.5 3 .4-1.3.9m-6.5 4.4l-2.3.8-1.9-1.3-2.6 1.6-1.7-.2-1.4-2.4m-46.5-10.2l-3.5.6 .7-2.8 2.4.1-1.1-1.7 3-2.1m24.1-5.4l-3.5-1.9-1.8-.7-1.5-.4-1.1 1.4-1.7.5m16.9 42.9l-3.1-.3-2.1-1.3-3.8.2 3.3-.3m16.8 3l3.6-1.1-1-1-2.4-1.2 2-.9m-63.3-12.2l.1 2.1 3.2.5 3 1.8 3.1-.5m68.7 8.4l-2.2.1 .7-1.4 3.1-1.8-1.8-.5m-111.2-17.8l-3.8-.7 2.7-1.4 .4-1.7-1.6-.4m116.9 26.6l2.4-.4-.4 1.7 3.5-.8-2.9-1.5m-38.8.8l2.5.4 3.5-.1-1.5 2.3-1.6-.8m-82.7-22.5l2.5-.3 .5 1.6 1.6-1.1-1.6-.2m-5.3-2.7l.8 1.3 2.1.2-1 1.1-.7-1.4m-.1-2.7l4-.4-3 1.5-.8-.8 1.8-1.6m91.6 28.9l-2.6-1.3-1.9.5 .7-2.6-.4-1.1m30.2-2.2l-2.6 1 .5 1.1-2.8-.2-1.3-1.5m-113.1-18.7l.4 1.1 1.4.9 .9.9 1.4-1.7m105.7 22.3l.5-2.4 3 .3-1.5-2.2 1.6.2m-101.4-15l-2 1.2 3.1.8 2.3-2.1-2.4-1.5m100.8 18.2l2.7 1.3-.3 1.5-1.6 1.1-1.4-1.6m-102.4-23.2l-1.9-.9-3.6-1.2-1.8 2.4 1.6-.1m94.2 20.7l2.4.4 2.2-1-.1-1.1-2.1.6m6 5.9l-.4-2-1.3-.9 1.1-.8-2.4-.3m-105.9-22.6l1.5-1.6 1.6.9 1.8-.8 1.9-.1m42.4 17.4l1.9-2.2 1.4.1 1.5.5 2.8 1.2m-28-2.1l-1-1-1.6.8-.7-1.4-2.4-.7m46.5 9l-2.8 1-1.6-2.2 3 .1-.3-1.1m-38.8-5.6l1.2 1.6 1.5-1.8 3.6.4-.4-2.7m5.9 4.7l-1.4-.2-1.2-.9-1.1.6-3.3-.1m82.2 11.9l-2.9-1.6-3.7 0 .9 1.3 1.7-1.3m-107.2-26.1l.2 1.5-2.9 1.9 1.8 1.2 2.9 1.5m15.3 1.1l-.9.9 1.2 1.9 1 2.1 1.4 0m77.8 9.9l0 1.4-1.5 2.5 1.9.3 1.6-1.2m-52.6-9l-3.2-.4-1.7-.5-1.2-.5-1.7.4m32.2 8.2l3.2-.6 1.1.7-1.8.3-.6.8m-10.8-5.2l-1.7-.8 2.2 1.5 2.1-.1 1.4.2m-53.1-12.8l-1.9.3-.1 2.5-2.9-.5 .1-2.3m18.8 8.7l-1.8-.1-1.2-2.2-3.2.4 1.4-2m73.6 14.1l2.7.1 1.3 2.1-2-2.4-1.9 1.6m-98.4-29.6l-1.5 1.4-.3 1.5-.2 1.1-.9.9m36.4 11.7l1.2.8-1-1.4 1.2-1.1-1.8-.9m11.8 6.3l1.6-.9-1.9-1-3.8-.3-1 1.3m15.9 1.3l3.7.3 .5 1.6-1.3.7-1.4-.1m43.9 1.1l.4 2.4-2.4.6-3.6-.2 .8 1.4m-8.6-.9l-2.5 1.1-3.2.6 1.8-2-1.4-.9m-29.6-7l1.9-.1 1.5 1.1 1.9-.3 2.5-.7m23.5 7.6l-3.5 1.2 1.9 1.4 2.2-2.2-2.7-.3m-67.8-15.8l0 2.1-2.4-.8 .8-.8 3.3-.4m78.8 12.6l1.5.9 3.1.7 2.4-1.5 1-.8m-65.6-7.9l1.2-1.6-2.6 0 1 1.7-2.4 1.2m-29.5-7.7l1.9 1 1.3 1.3 2.4.2 .5-2.5m37.6 8.7l-1.6-1.9-3.9 0 2.8-.7 3.2 1.4m52.7 14.3l-1-1.7 .8-2.6 2.2-1.2-2.6-1.2m-42.5-3.2l-3.4-.5-.7-1.6 1.9.5 1.6 2.3m-41.6-12.2l.5 1 1.8-.2 .7.9-1.7 2m100.1 15.7l-2-1.9-3.6-1.3 1.2-.6 .8.8m-95.1-13.8l2.4 0-1.3-1.5-3.8 1.1-.4 1.2m23.9 6.1l1.3-2.5 .2-1.2 2.4-.1-.7 2.2m-13.1-5.4l-1.5.5 2.4 1.7-2.4 1.7-3.8.6m-18-9.8l1.5.3 .7-1.7-1.3-1-3.1.3m86.7 20.2l-.5 2.6-2.2 2.3-3.2 0 1.6-2.6m-74.4-15.9l1.1-2.4 1.9 1.3-3.2 1.3 .9.8m90.4 15.7l.8-1.5 3.7.9 3.2 1-3 0m-14.1-4l-1.4 2.5 1.7.1 2.2-1.3 1.7-.3m-37.7-2.2l-2.8-1.3-1.8-.3-.2 1.7 3.8-1.1m-46-9.1l2.2 1.2 0 1-2-1.4-2-.6m10.5 2.2l-1.9-1.8-3.8-.3 1.5 2 1.3.1m44.2 5.9l2.6 1.3-2.9 1.5 1.5.4 1.6-.9m-50-15.3l-3.6-.8-.4-1.2 .6 1.2 .9 1.9m44.6 9.8l-1.9.2-2.3 2 1.8 0-.5 1m-19.6-7.2l.1 1.3-1.6 1 2.7 1.3 1.2.9m-22.6-8.1l2.1-.6 .7 2.2 2.6.8-.9 2.1m-13.7-6.5l1.5 1 2 0 2.9.9 1.3.9m87.3 15.7l3-.1 1.1-1.4-.7-1.5-2.1-.5m-11.4-61.8l-3.8-2.1-2 .5-4-.7 1.4-.8 4.8-.3m-38.6 16.8l.6 1.8 3-1.4 2.7 0-2.5.3 2.9.5m11.4-7.2l-.4 2 4.6.2 .1-2.2 0 1.6 1.3 1.4m24.1 8.2l-2.7-1.3-1.8-2.3-.6-1.2-3.8-.7 .1 1.9m25.2 9l-1.9 1.5-1.1-1.8-3.3-1.4-1.9-.7 .5-1.9m6.8 8.7l1.6 3.1 4.2-1-.3-1.9-3.3-.5 .6 1.3m-36-26.1l2.2 1.5 1.8-.8 3.7 1.5 2.3-.7-.4 1.4m-32.7 7.3l-2.9-.3 1.4 1.1-.6-1.5 .3 3.2-.2-1.6m-18.8-6.1l4 0-2.3.1 3.5.6m63.4 14.4l4.2 1.5 1.2 1.5-.9 2.9 1.5 1.9-1.8.7m-70.8-23.2l-.2 1.4 1.5-1.3-3.2 0-4.7.1-2 1m69.2 11.3l2.1-2.5 3.2 1.2 1.8-.7 1.4 1-.6 1.3m-65.6-6.2l-3.8 1.3-.8-1.6 2.8.5-1.7 2.6 3.8 2.4m54.5-3.3l1.7 1.5-3.2-.4 0-2.2-3.1.4-2.4 1.9m19.9 11.4l3.2-1.6-1.9-2 2.4-.9 .5-3 .1 1.3m-11.1 4.8l1.3-1.8 3 .5 3 .6-1.2 2.3-1.3-1.5m-24.2-27.3l-2.4.8-.6-1.2-.3-3.3 3-.8-1.8 0m35.4 32l-1.7-.4-1.4-1.1-1-1 2-1 .7 1.3m-5.9 2.5l1.2-2.5-1.6-1.4-1.5-1.3-.9-1.8-1.9-1.4m-65.8-12.2l3.4.6m47.1-4.3l-3.2 1.2-.7-3-2.4 1.6 1.6 1.4 4.1-.5m22.6 17.3l.3 1.9-2 2.8 4.1 1.6 2.3-.4 1 2.5m-85.7-11.1l-2.8-.4 .6-1.1 1.8-1.7 1.6 3-.3 1.2m43.4-7.3l3.7 1.2 4.5.8-.7 2.4-1.9-2.2-3.9.6m.4-18.7l1.8 1.5 1.6-1.7 2.1 1.3 4.9-.5 2.8-2m-3.1 2.5l2.4 1.7 .2 3.5 2.6-1.4-1.4-2.5 4.4-1.7m-53.6 15.7l-3.5-.1 .7 2-1.9-.5 2.1-1.7 1.4 1.1m36.5-15.3l.9-1.1-3.7-1.2-2.7-.1-1.8 2.4-3.4.9m26-4.6l-3.1 1.7-2.8 2.1 1.7.4 1.9 3-4.4.2m4 9.3l-3.7-.2 1.4 2.9 1.9-1.2-2.2.5-3.5 1.8m33.8 15.6l-.5-3.4 4.6-.6-2.1 1.4-1.6-1 .1-2.9m-14.3-1l1.4-1.5 1.7 3.1 2-.3 .8-3-1.9-2.9m-2.4-22.2l-3.8-1-1.5 2.4-2.5.3-2.1.5 1.8 3.1m1.5.6l-1.3 1.1-1.8-1.3-4.8-.2-2.9-1 2.4-1.2m.7 1.9l-1.1 1.3-2.3 1.1-3.9-1.2 .2-1.9 4-1.7m-6 14l-2.3 3 3.5-1.8 2.1 1.7 .9-2.3 3.3-2.3m4.7-15.2l-3.5.4-2.3-1.6-1.2 3.3 1.8 3.1-.1 3.6m14.8 12.1l-3 2.2-3.6-1.7 3.8-2.4-4.7-.6 .7 2.6m-83.2-5.6l2.4-.2-.5 1.5-3.6 1.8 .5-1.3 3.6 0m-5.4-.6l4.4.7-3.5 1.1 2.6.1 .2-1.2 1.9-3m15.3 2.9l2 2.4 3.9-.3 4.2.5 2-1-2.8.2m70.5-19.5l-4-.8-2.6 0 2 3.2-2.8-.3-1.4-1.3m10.7 24.5l2.8.7-1 1.5-3.8 0-2.7-.4-4.4-.4m7.6 7.7l-3.6.2-.9-1.1 .9-1.3 3.2 1 2-3m-1.1-2.2l1.3 1.2 3.6-1.8-1.9-.7-3.1 2-4.1-.1m-46.1-23.9l3.7-.2-1.7-.8-.4 1.5 3.2.2 .4 1.2m21.9 1.3l.1-2.6-2.1-.6-2.2-2.8-4.9.9-.4-1.7m-6.7-.5l.1 2.6-1.2-2 .1 2.9-1.5 2 1.4-2.9m37.2-.2l2.2-3.2 2.2 2.5-4.4.7 1.3-2.5 3.2 1.3m-69.1 17.1l-3.6 1.6-4.9-.6 .7 1.9 1.4 1.1-1.9.3m43.5-21.8l-2.3-.3-1.1 1.5-2.1-.9-1.2 2.2-3.2 2.1m46.2 20.1l.9 2.8 .3 2.5-2.3.5-3.8-1-1.7-.3m-18.6-11.4l2 1 2.5-1.8 2.6-.1 1.7 1.4 .1 3.1m-30.8-18.4l-2.5.4 5.1-.5 .4-2.1-2.7 0-2.7.3m14.5 8.2l-1.1-3.3 2.4-.1-4.3.3 3.5-1.1-.2-1.5m6.5.4l2-2.4 2.2-.3 1 2-2.9.6-3.2 1.2m30.5-3.7l-.1-2.5 4.8-.1 1.5 1.1 .8-2.3-3.1-.2m-19.7 25.2l3.5 2.6 .6 3.1 4.1 1.9-1.5.7-3.7-1.7m-9.4-10.1l-2.3-3.1-4 .4-3.2-2-2.8 2.1-3 1.4m40.8 16.1l-3.1-2.4-2.7-1.3-.5-2.6 2.6-3.1-4.2-.3m-8.2 7.1l2.1-.2 5 .9 1.7-3.3 2.5 0-1.3 1.6m-102.3-16.2l1.8 1.9 1.1 1.8-3.4-.2 3.3-2.3 4.3-.2m233.9 22.3l.7-1.3 3.9-1.3 .7 1.7 1.9-1.7-2.2-.3m12.7-3l-3.7-1.5-.5 2.8-3.7.9 .5-1.8 .7 1.1m36.3 4.5l-.3-2.1 2.3-1.3-3.5-.8-3.6 1.1-3.1 0m-11.3-3.8l1.5-.6 .3-1.3 3.6-1-1.6-2.6 1.3-.5m18.4 5.8l2.7-.4 1.8 1.9 .4-1.2-3.4 1.2-1.1-.9m-9.1 3.5l-2.4 2 .2 1.8-3.3 0 .8-1.9 .3-2.8m-16.1 7.5l-1.3 1.5 1.6 0-.7-1.1-2.6-.5 .4 1.7m22.6-10.7l-1.5-.3-.5-1.6-2.8.6 .4-1.6-1.3-2.5m-10 5.9l-3.2-2.1-2 2.5 1.8 2.2-1.3.5-2.3 0m-18.4 2.1l4.2-.8-1.9-2.4 2.7.2-.9 2.5 3.4 1.1m48.8-14.5l1.5 0 3.2.3-2.3.6-4.2-1-2.9-.3m-4.9 9.2l-1.6 1.6 1.6 2.2 2-1-1.9-2.1-2.1-1.2m-39.4 6.5l1.2 2.3 3.3.5 1.8.8 2.6.5 .5 1.3m2-11.1l2.7 1 3.5 1.6-2-2.2 1.6-.6 .9 2m-24.4 5.4l.7-1 2.2 0 2 1.2 .6 1.7-3.8-.9m48.5-7.7l1.7 2.6 .4 1.4 4.2-.1-.7-1.7-2.5-1.7m-10.6-4.1l1.3-.5-1.5-2.6-1.4.7 .4 1.3-.9 1.3m17.9-5.9l0 2.9-2.6-.1 1-2.6 1.9.1 1.6 2.1m-17.1 6l2-.3 1.9-.4 1.3.9-2.2.8 2 2m-42.7 5.7l-1.2.7-1.5-1.9-1.3-.7 1.9 1.3 3.2 1.6m60.6-16.7l-1.3 2.2 0-2.7-3.3-.9-3.7 1.7 3.7.9m-45 1.7l.9 1.8-.4 1-1.3 2-1.7.4-1.6.2m-2.2 1l-1.8-1.7 4.1-1.1 2.1.9 .7 2.5 .6 2.7m-3.4-1.2l-1.8-2.7-.5-2.2-2.8 1.4-1.9 2.4-1.5.3m45.4.7l-4.2-.2-1.8-.9-1 1.3-2.9.2 1.1 1m-37-2.6l3.5 1.1-2.2 2.5-3.6 1-.7-1.2-.5-1.1m37.6-15.1l1.9-1.5 1.5 1.2 2-2.1 2.9.2-3.7-.5m-31.1 19.4l-.4-1.9-1.9.6 1 1.3-1.7.1 .5-1.8m25-5.7l1 .9-1.5 2.1 4.4-.1-.2-1.3-3.6-.5m-20.6 10.6l3.3-1.6 1.8 2.3 2.5-1.3 .6-.9 0-2.3m29.8-7.3l3 1.1-1.2.9-3.7-.8-2.5-.2 1.1 2.1m-33.1-4.5l.2 1.9 1.8 2.8 1.7.7 2.4.3-2.2-.1m14.7-4.6l2.4.2 3.3.8-.8 1.7 2.9 1.4 1.8.3m-29.7 3.4l2.2-1.6-2.8-.9-.6 1.9-.2 1.6 1.6-1.3m-1.5-10.1l.4 2.3 .1 1.1-.3 2.7 .5 1.1-4 .8m38.1-16.6l-1-.9 .2 2.9 1.6.4 1.6.5 1.8-.7m-30.2 5.3l-1 1.4-2.5 1.8-1.8-.5-3.1-1.1 1.7-1.1m37.2 9.6l3.6-1.3-.2-1.1-2.8-1.2-2.9-1.4-1.7-.7m-10-.1l-.7 1.7-.1 1.1-1 .8 4.1.3 1.7-.7m12.2-7.2l.4 1.5-.7-1-3.1 1.1-2.8.9 .9 1m-25.3-4.5l-2.2.3-1.8-2 .3-1.6 2.7-.8 .9 2.8m29 2.4l-1.1-.9-1.7 1.3-3.2 2-2.8-1.3 2.6-1.2m9.4-4l2.5-1.2 0 1.3-1.6 1.3-1.1.9-1.2-1.5m-12 9.2l.4 1.6 .9 1.9-1.8.4 3-2.1 2.8 2.1m-38.5 1.2l-2.2 1.2-2.6.5-2.2.5 1.5 1-.1-1.6m32.2-2.2l-.3-2.1 1.2-1 1.6.9-1.7 2.1 1.9-.5m-9.9-8.7l-1.3.8-4.3.4-3.1-1 2.4-2-2.1-1.1m4.5 5.6l1.8-.4 1.2-1.8-4.3-.1 .3 3 1.6 0m16.4 1.5l1.3-1.9 1.9-.2-.6-2.1-2.3.4-1.9.9m3.5-.5l2.9-.4 3.7-.8 1.1 1.2-1.1 2.6-3.4.2m.9-1.1l3.6-1.7 3.1-.2-1.2-2.1-4-.1-2.7-1.3m-36.1 3.4l-.9 1.3 .9 2.2 2.3-1.8 .9-.8-2.9-.4m45.7 2.1l1-1-3.5-.4-3.3.9 1.6 1.1 2.6.1m5.7-10.7l1.1 1.4 2 2.3-1.4.3-3.1-1.2-1.7-.5m-2.9 7.6l-1.6 1.3-2.2 2-1.8 1.1 .5-2-1.8-1.3m-3-1.5l-1.2-1.4-2.9-2.2 .8-1 1.9.4 .9-2m-42 12.5l-.5-1.6-.6-1.2 1.7-1.2 2.1.2 .3 2.4m26.1-15.7l-.4 2.5-3 1.1-2.9-.2-3.4.2-.7-2.7m-10.6 15l1-1.6-1.6 0 .9 1.3-3.7 0-.3-2.6m43.3-2.2l.6-1.3-4.2-.1-2.9.6-1-1.6 1.6-.9m-2.6 8.1l-1.5-1.8-1.9-.7-2.5.7-.7 2.2 2-.8m-23.4 3.1l1.3 2.7 2.2.3 1.5 0-1.1-2.2 2.9-.4m13-13l-2.9 1.1-.7-2.7-2.3.5-1.4 2.6 1.7.3m3.6-8.4l-.3 2.4-1.4 1.8-1 1.3-4 .1 0 2.5m22 3.1l-.6 1-2.5 2.4-2.7-.7 1.3-1.2-1.1-.8m13.1-8.9l-1.3 2.8-2.2 1.2 2.7 1 1.7-.4-.6 1.5m-6.3 7.6l.5-2.7-2.9-1-2.3.7-.8-1.6-3.1-.4m-30.9 7.2l1.1-.8 1.5-.8-1.3-.9-3.6.7-2.7-1m17-2.4l-3.6-1.3-1.9.5 2.9 1.5 3.3 1.6-2.3 1.6m34.2-14l-1.9-1.5-2-1.6-3.8-1.2 3.5 1.4-2.6 2.2m-26.2 21l0-1.1-1.7-.5-.8-1.1 1.7-.4-.4-2.8m1-15.6l.3 2.9-3.8 1.3 0 1.1-3.3-.6 .2 1.2m46.7-4.8l-2.6 1-.5-1.4 2.8.7-2.8.7 2.3.5m-35.6 6.7l-2.3 2-3.4.8 1.2 1.1-2.5 2.1-1.9.1m39.9-3.9l-1.7-2.2-3.4 1.7 .5 1.3-.5 1-2.5-.1m-35.5-3.4l.1-1.9 3.3-.9 1.5.4 1.6-2.3-2.2-.6m1.6-1l.2-1.6 .5-1.2 2 .2 .5 1 1 1m-9.4 15.5l1.7-1.1-1.9-.4 .8-1.8-1.5-.6-2.3 1.5m45-2.2l3.6-1.3 .3-1.4-1.1-.7-1.4-1.3-3.5.7m-27.8-1.2l-.9 1.9-2.2-1.5-1-1.6 .1-1.5 2.8-1.6m-306.8 5.7l-1.8.7 .1 1.8m-22 3.5l2.2-.3 1.1.3m5.4-4.9l2.5-.1 2.3-.5m-4.3-3.4l1.9.9 2.2-.6m-19.6 2l1.8 1.4-2.2.8m8.2-6l-1.8.6 .2.8m-2.1 8.2l1.8.4 2.3-1.1m-.1-8.7l1 .2-1 1.7m-14.8 5.6l-1 .2-.3-1.6m15.1 5.7l-2.3-1.3 1.2-.4m27.5-12.6l1.1-.9-2.3-.3m-23.7 6.4l-1-.3-2-1.5m1.2 2.3l2.4.3 1.9 1m-13.8-3.7l.5.9-.3-.8m19.6-4.7l2.2 1-2.2.9m1.6-.6l1.2 1.1 2.2.7m-2.3 5.2l-.9-.5 1.2-.6m-5.5-8.4l1.8-.4 1.4 1.1m-13.8 9.3l2.1 1.4 .6 1.9m26.6-5.6l-1.5-1.4-1.4-1.4m1.3.8l-.2.9-.3.7m-25.3 8.6l1.6-1.1 1.3.4m50.2 9.3l-1.6.5 .2-1.7 1.7 1.3 1.1 1.5m-7-7.2l-.8.7 .6-2.2 2 1-.4 1m-2 .6l-.7-1.2 .2 1.2-.9-1.4 2.7-.2m15.5 14.4l-1.1-.6-2.2.7-.9-1.7 1.1-1m-8.9-4.8l-1.5-1.9 1.4 1 .5-2.1-1.9.4m-8.4-7.1l2.8.6 .1-1.1-1.1 1.6 1 .7m5.8 3.5l.9 1.6 1.1 2.2-.8-2.5-1.4-1.3m-.9.6l1-1.1-1 1.8-1.1-2.2-.2-1.6m5.2 8.4l2.8 1.5-.1 1.4-.3-1.1 1.4-.6m-7.1-8l-.7-1.5-1.3-.6-3.4-.3 1.2-2.1m10.6 11.4l-1.5-.9-.5 1.5 2.2 1.9 2.4 1.1m-6.2-7.3l.8 1.6 .7 2 2 .4-.9-1.8m98.5 195.1l2.7 1 2.8-1 1.5-.1-.4-2.3m2.3 3.2l-1.5-1.3-1 1.8-1.4-1.1-2.4-.7m3.7 3.7l-.1-1.5-1.4 0 1.8 1.8 2.1 1.3m-3.6-10.4l.6 1.6-1.5.7 1.5 1.7 1 1.8m-.5-1l.4-1.4-3 .5-1.2-.4-1.1 1.7m-1.7-10.5l1.2.2 2.1-.4 1.4.4 .2 1.8m.4 13.3l-2.8.5-.4-.9-1.7-1.7 1.1-.5m11 10.5l1.5-.4 1.4 0-.6 1.4-.6-1.4m-10.4-7l-2.2.7-.7-1.9 1.5-.7 1.9.3m4.2 5.5l.2 1-.5 1.2 1.9.4 1.2.4m-6.7-13.2l-1.9-1.6-1.2-1.2 2.4-.6 0-1.1m-2.2 2.3l-1.1 1.4 3.4-.2 2 1.2 2.2.5m1.2.7l-.5 2.1 1.3 2.3-2 0-.3-2m2.2-.1l0 1-1.9 1.6 .9 1.7 1.5.5m104.9-252.9l-3.6 1.9-1.3 1.6-1.9-1.8-3.7-1.1 1.3-1.3m7.9 2.1l-5-.3 3.4-.9-.2 1.7-3 .5-.8-2.6m-16.1-2.3l-5-1.1-4.7 1.3 2.8-2.1 1.6 1.8 3 .2m-74.9-.5l-1.7-.3 3.3.8-1.6-.7 3.8 1.1 1.8.3m45.1-2.3l2.6 1.3 1.9-.2 3.5-1.2 4.5 0 1.7.2m-32.1 1.5l-2.2 1.3-3 .3-4.1-.7-1.5.7 3.7.6m4.5-.6l-2.3-.3-3.9-.3 3.3.3-4.1.4-1.7-.4m62 0l-2.1 1.7 1.3-2.2 2.2-.4-1.8-.8-2.8-.3m10.3 3.6l-3.5-.7-3.5-2.4-4.6.3-3.6.9 3 .3m-34.3-.3l2.4.4-4.3-1-1 1-2.4-.2-3.5.1m55.9 3.4l-3.6-1.5-1.8.9-2-2.2 1.8-1.9 4 1m-14.3-1.1l1.3 1.6-4.2-.8 1.2-2.2-3.9 2.2-2.3-1m18.8 4.5l-1.2-3.1 1.5 2 3.6.1-3.1.2 .8-2.1m4 2.3l.6 1.9-2.8-1 1.8-1.6 1.8-.2-1.4.9m-5.3 1.7l.7 1.6-.1 2.6-.6 2.5 3.4-1-2.6.6m8.1-6.8l-1.4.8-2.4 2.4-3.7-.4-1.2-2.4-.3 1.4m-9.1 15.5l4.2-.1 1.5-1.1-.7-2.2 1.1-2.3-.5 3m.1 3.6l.2-1.3 3.4-.9-2.1.6-2 .3 1.2-2.6m-.2 1.5l1.7 1.8-2.3 1 1.7-.9-3.2.2-1.9-.4m13.1-12.3l-1.8-.9 2.1-2 .6-1.3-2.2-1.2 1.9.3m-5.7 4.7l-1.7-2.2-2.5.7 2.8-2.2 2 1.3 1.8-1.1m-2.9 8.7l3.2-.6-1.6-.6-2.8 1-1.9-.8-1.8-.8m3.5 1.1l-2.3-1.5 1.7-.4 2 0 3.1-.5 3.1-1.9m-4.6-.1l-3.1-2-1.9 0 2.7-.9-1.9-1.2 2.6-.5m.1 4.6l3 1.5-1.6 2.5-.2 1.3-.1 2.6-4.1 1m-7.1 5.3l2.7-1.2 3.1.2 1.2-.6-1.9.7-3.9.5m5.8-13.7l1.9 1.4 .9 1.2-1.9 2.5 1.4 1.3-1.8 0m8.7-10.7l2.1.5-.9 1.2-2.1.1-2.3.5-2.5-2.2m-59.2 14.6l2.2 1.5 1.6 2.4-1.7-2.8-1.5-1.9 1.5 1.9m3.2 6l-.8-1.9-.4 1.5 1.1.7-.5 2.3 1.8 0m3.4 2l.1 1.5 .9.9 2.2 2.3-2.3-.1-3-.9m-2-2.1l2.3.6 4.1 1-1.6-1.1-2.1-1.6-2.3-.1m-1.4-2.6l-1.4-1.9 .9-.9-1.4-1.3-2.4 1.6 1.9-1.2m5.4 8l-.6-2-3.2-1.8-2.4-2.4 1.7-.4 1.7 2.3m-1.2-4.7l-2.2 1.3-.7 1 2.6.8 3.6 1.6-3.7 1.5m10.5 8.7l-1.1-2.4 1-1.6-3.7 0-.7-2.7-2.3-2.1m.6.9l1.6 2.8 2.6.2 .7 1 2.7-.3 1.6.3m-15.3-13.2l2.3 1.6-1.2 2.3 .1 3 .3 1.7 3.2-.7m-3-5.4l-.9 1.3-1.3 1.2 2.2 1.7 .7 1.7-1.7.5m2.2-1.2l2.3 1 .2-2.5-1.9-1.5-3.7-.6 2.4 1.6m11.9 10.4l-.2-1.8-3-.8 2.9-.8-2.1 1.3 2.1.4m-10.5-3.8l-1.3-1.7 3.3-1.1-.8-1.1-1.9-.3-1.4.6m29.9 1l-3.2.8-2.9.2m-.8.6l-2.3 1.6 1.3-1.3m3.5-1.5l1.7-.2 4.1-.9m2.4-.7l-2.1.5 2.3-.5m-9.3 2.3l-1.9.6-1.5.9 1.5-1 1.5-.6m206.2-6.6l-1.5-1.3-1.3-1m16.9-1.4l-2.4.6 .5 1.8m43-12.1l-1.4 1.4 1.9.7m-39 12.2l-1.7-2.1-.3-1.5m54.3-8.8l.5-1.6 1.7-.6m60.2 11.3l-1.5-.1-.4-.8m-91-.1l.3 1.3-2.1.1m59.3-3.1l-1-1-1.7.2m-27.5-5.2l.7-1.2 2-.1m-4.4 4.4l-.9.9 2 .9m69.7 2.9l-2.7.4 3-.4m31.3.9l-3 .9 1.2 1.4m-97.5-13.7l1.6.2 1.1 1.4m-8.2 7.7l2.2.8 3.6-.2m79.5-1.3l-.6 1.8 2 .5m-58.8-1.8l1.3-1.5 .5.8m-30.1 1.1l1.8-.8 .3 1.1m95.8 4.4l1.7.1-1.1-1.1m-119-3.1l.9.8-2.9.1m-36.8-2.1l1.9.3 1.9.9m24.6 1.6l.7-1 1-2m100.6.8l2.3 1.3 .6 1.3m16.2 1.4l1.6-.5 0 .9m7.9-2.6l-.9 2.2 2.2.1m-127.9-5.3l3.4-.2 .8 1.6m33.5-4.8l-1.5 1.4 2.3 1.8m72.3 5.4l-.9-2.2-1.2-.3m-4.8-.2l-.1 1.2 .9-.9m-112.4-.4l2.7-.1 .2 1.5m-11 .6l-1.5.5-3-1.1m-55.1 15.4l1-1.6 1.3 1.4m17.5-.4l-.5 1.7-1.8 0m-16.3-2.5l-2.4-1 2.3.6m16.9-1.6l.5 1.6-1.1.4m-37.9 7l-.2-1.7 1.4-1.6m-15.3 2.8l-1.8-.1-.2 1.4m20.8-1.4l2.9-.2-1.6-1.6m-18-.2l-.9.5 2.3 1.3m3.1-1.6l1.3 1 2.1 1.1m-3.8-.1l2.1-.8 .8-.7m8 3.9l1.1.6-.7 1.2m-8.9-7.6l-1 1.1-1.2-.3m18.4-1.8l2.7.6 .7.9m23.8-2.4l-1.7 1.4-.8-.7m26 9.9l-2.5.3m49.5-7.7l-.7-.8m-64 11.8l1.9.6m64.5-5.9l2.6-.1m19.7.3l-1.3.2m-24.5-1.1l.6-.8m5.1 8l-.5 1.1m-67-9.3l.8-.5m73.5 0l1.4.1m-24.6 12.6l-1.5-.7m24.3-17.5l2.3-.3m22.8 14.4l1.7 0m35.7-4.6l0 .8m-104.8-3.1l-1.6-.6m98.3 5.9l-.4-1.3m-22.1-9.1l-2.4-.5m-102.3 14.5l2.4 0m64.2-13.9l-.3 1.7m67.6 7.1l.1 1.4m-112.9-12.5l-1.2 1.1m-5.2-4.8l-.7-1.1m-1.8 4.9l-.4-1.7m72.6 2.3l1.5-.1m-83.6 14.4l-1.9-.8m18.3.6l-.8.8m10.6 2l-.4-1.5m5.5-5.9l-.9.2m112.4-19.8l.8-1m-116.8 5.3l1.5-.2m94.3-4.9l-.3-.7m-433 80.6l2.5.2-.9 1.5 2.5.7 .3 1.2m21.9 18.1l-1.9-.6-1-1.3-.9-.6-1.6-1m-24.4-17.3l-1.5-.6-2.4.1 1.6-1.8-2.5-1.9m-6.6-2.2l1.9-.1 2.9-.9 2.7.6 3.4-.4m8.5 14.5l-2.2-.7-1.5 1.7-3.3-.1 .9-1m.3-13.7l.2 1.3-1.4.2-2.4.6-1.3-1.5m1.8 2.4l2.1-.4-.1 2.5 2.2 2 2.7.6m-13.1-6.2l-1.3.9-2.5-.1-.6-1.2 1.8-.8m16.4 11.3l2 1.2-1.7 1.4-.9.8-2.5-.1m.7-2.7l1.7-1.5 2.4.8 .4-2.4-1-1.6m-10.6 2.5l-1.5 1.7-1 .5 2.5.9 2.1-.4m6.6-5.2l1.1.7-2.3.9-1.4-.7-.1 1.7m-14.3-13.4l-1 .8 3.4.4-1.4 2.2-.6 2.5m15.9 14.7l1.6-.5-.8-1.1-1.7.8 1.1 1.9m3-3.9l-.4-1.1-1.7-.3-.2 1.4-1.5-.4m-13.1-8.5l2.5 1.1 1.2.8 0 1.5 3.1-.2m-14.8-11.6l.1-1.2 2.5.7-.5 1 .6-1m11.4 2.5l2.4-.7-2.3 0-3.3-.5 1.1 2m12.8 4.7l-2.9 1.3-2.4 1.5 .4 1.7-.4 2.5m-11.9-12l.3 1.7 .2 1.5-1.9-.1 1.1 2.2m13.6 6.7l-1.1 1.8-2.5-1.8 1.6-1.7-.1-1.2m4 8.9l1.1-.6 0-2.5-.5-1.5-.4-1m-11.5-10.6l.1-1.4 1.5.5 .7-1-1.5-.2m-2.5 1l2.8 1.4 2.7-1 1.8 1.9 1.5 0m-8.7 2.1l1.7.8 .4-1.1 2.3-.2 1.9 1.7m-.8 5.8l-1.5-1.5 2.6-1.4-1.4-1.9 1.8-.3m368-20.1l1.8.7-.3 1.5-1.6.7m1 2.6l.3.8 .6 2.1 1.2 0m-12.2-1.5l-2 1.2-.2.8-1.6-1.4m-2.3-6.4l.3 2.1 3-.8-2.4-1.1m9.3 1.9l1.8 1.8 .5 1 1 1.3m3.5-8.6l-.8.8 2.9.6 1.1.3m-7 4.2l-.6-1.1 2.4-.6 1.8-.7m-1.5 1.3l2.4 0 1.9-1.2-.5-1.3m-3.3 1.5l2.5.1 .3-2.2-2.8-.5m-5 6.5l-1.7.4-2.2.4 .4-.9m-7.7-6.2l-1.4 0 .7.9 2.3-.5m17.6.3l-.6-1.8 3.1.5 .9 1.3m-13.3 2.1l-.3-2.1-.3-.9-.3-1.1m-1.8 2.2l-1.7.1 1.4 1.5-1.7 1.2m-263.3 111.4l-.6-4 4.8.8-.5 1.5-1.4-1-5.4.8m-21.2-3.9l-4.4.8-1.1-3.1 2.7-.4-2.1-1.5-2.4-2.7m-7.6-27.5l-.2 2.4 2.2.3 4.1 0-1.3-3.3 2.7-1.6m27.2 23l-3.2-1.4 1.5-1.5 2.2 3.6-3.9 1.1 3.6 2.4m-.6 2.7l2.2 1.3-1.2 2.3 .6 3.8 1.5 1.9 2.6.1m-6.7-30.6l-2.8 0-1.3-2.8 .5-2.7-3.8.4-.8 1.4m2 41.6l3.4.3 1.2-1.3 4.6-1.6 4.3-2.3 1.8-2.9m-19.9-48.7l.9-1.8-1.8-.9 1.8-2.8-3.5 1.7-.5-2.5m42.6 25.1l-5.2-1.8-3-1.4-3.7 2.7-4.3-1.3-.9-2.2m4.7 19.4l4.5 2.1-2.2 2-2.2-3.4-3.3 1.4-5.3 1.7m-21.6.3l-4.6-1.5-4.7-1.1-1.8 3-3.9-1.7-3.5-3.3m-1.2-21.3l1.1-1.7 4.6-.9 .7 2.4 3.4 2.5 1.1-3.6m-5.3 8.9l-2.7 2.3-2.7.8-2.4 3.4 1.6 3 2.1-1.5m31.9-27.4l-1.4-2.6-2.7.3-5.6-1.2-3.6-1.4-5.3-.3m9.9.1l-2.9 2.3-2.2-.1-2.1-.1-3-3-1.3 1.7m-9.4 38.6l1.6-3.4 4 .7 1.4 3-3.9.5 .3 1.4m45-25.2l-2.6.3-4.9.3-1.9.8-.3-1.9-4.8 1.9m0 32.8l2-3.3-3.7-2.4-2.6 1.6 .2 1.4 3 1.5m-12.1-35.6l-1 1.2-2.9-.3-4.2 2.6-1.3 3.3 .8 1.7m-5.7.6l-1.5 3.1-2.8 1.1-2.1-2.1-2-.9-.6 1.3m43.5 14.4l.5 1.4 3 1.2 2.9-2.5 3.6-2 .4-2.2m-49.2-18l-.1-1.8 .7-1.6 .6-2.4 4.4-1.6 .1-1.6m-3 40.2l1.6-1.4 3.9.6 2-3.3 3.3 2.6 2.9.5m-30-45.1l3.1.5 2.7-3.5-5.1-.9 1.7 1.3-2 1m20.4 1.9l.1-3.7 4.1 1.8 1.9.5 1.2-3.4 5.3 1.6m7.8 19.1l3.6 2.2 2.6-.4-1.1 2.9-3 1 2 2.5m-37.3-12.8l.7 3.9 0 3.2-3-.8-1.1-2.4-.9-1.6m14 5.9l4.3 2 3.2-.9 2.4 2.9 2-.8 4-.7m16 25.1l4.1 2.2 1.1-3.2-1.5-1.9 1.6-2.1-3.4-1.9m-31.9-43.6l2.7 2.5 3.4-.2-2.5-2.1-3.6-.3-2.7 0m162.6-140.4l-2 .1-2.3 1.2-1.8-1.4 1.7-.1m10.9-1.9l-2.5.1 .3-1.4 1.9-.4-1.7.8m9.8-.9l-2.5-.2-1.7 1.9-4-.9-3.1-.5m1.2 1.4l-2.3.2-.5-1.4-2.4 1.5-.4-1.4m8.8 2.6l-.2-1.2-4.4-.3-2.4 2.5-3 1.1m13.5-4.3l2.3.6 3.4-.6-1.4-.5-1.8.3m-7.2.8l.1 1.2 3.2-.1-1.1-2.4 2.5-.4m-16 3.7l-2.6-.5 .7-1.5 2.8 0 4.1.1m2.6.8l3.3.2-.9-2.2-2.1 1.1-3.4-.8m14.6 2l2.6-1.2-1.5-.9-2.2 1.5-1.5.4m-15.4-.5l-1 1.1-2.3-1.1 2.1 1.1 .6 1.1m.6 1l.6-2.3-1.2-.8 1.8-.7-4-.3m92.9-2l-2.6-.8-1.5.9-2 .3m-12.5-1.3l-4.2.9 2.5-.4-.8 1.4m18.5-1.9l3.3.2 2 .3-2.4.4m-11.7-.5l-2.5 1.3-2.5-.8-2.7 0m-2.3.9l.8-1.3 2.5.1-.1 1m12.8-1.5l1.6-.1 1.8-.4 1.5 1.1m-3.2.5l1-1.1 3 .1-2.5.6m-11.9-.5l1.5 1.6 .2-1.6 3.5 1.2m24.1 18.3l-3.9.1 3.5-1.1-1.4-1.9-1.5 1.1m-25.5-2.7l-1.7.9 2.5 2.4-2 .5-2.6-1.9m6.9-3.2l-3.1 1.5-.9-1.6 .3 2.4-1.1 2m5.6-.4l-2.7.1-1.6.2 1.8 1.2 .5-1.1m15.9-9.9l1.4 1-2.1-.2-.2 1.2-3.6-1.1m11.8 9.8l2 1-.5-1.7 .3-1.2 2.1-.9m-24.2-2.6l1.4-1.3 1.4.8 2-2.2 .8-1m-3 .4l1.6-.3 1.7 1.8 1.2-.9 1.3.6m-17.1 6.7l3.6-.6 1.5 1.4 1.5-.2-1.5-2.9m-1.2-1.5l3.5 1.9 1.7-.4-1.9-2-.7-1.4m88.4-7.5l.6-1.9-3.1.7-3.2.7m5.7-2.2l-1.1-.9-.8 1.3-1.7 2m-3.2-3.1l.3 2.1 3 1.6-2.2-.2m1.8-4.4l-.8 3-2.1.9-2.9-1.1m5 1.9l-.5-2.3 2.8-.1-1.1 2m-4.6.3l-1.3-2.1 1.7-1.1 1 1.4m87.3 8.4l.5-1.4 2 .6-1.8.9m.9-1l2.3-.1 .8.8-2-.3m-15.3-.4l2-.9 2.4 1.8-2.5-1.4m9.4.5l3.3.6 3.2-.6-2-.1m1.5.1l.6.8 1.2-.5 2-.2m-13.9-.8l-2.4 1-1.5.4-1.7.3m-292.5 17l-2.1 1-.6 1.2-2.4 1.4m2-.2l1.5-2-.2-1.5-2.4-.5m-1.1.1l2.4.6 2.1 1 1-.8m-3.5 3.1l1.4-.4 1.4-2.3-.2 1m-4.9 1.2l-2.6 1.2 1.4-1.5 1.3.7m1.1-2.4l3 .4-3.5.4 .9-1.9m40 12.8l.2 1 2 .1 2-1.2m5.6-7.9l3-.2-.9 1.7-3.4-.9m-3.3-1l1.4 0 1.5-.1 1.6 1.9m4.2-5.7l3.2.6-.2-1.3 3.6-.7m14-5.5l-1.7-1.8 3.2.5 1.2.3m-36 15.4l-1.3-.4 1.2-.4 1.3-.8m4.7 3.2l-.9 2-3.3 0 .7 1.4m39.2-22.4l-.1 1-1.9 1-2.2-1.4m-1.7 3l1.4-.6 1.6-.3-2.5.9m-28.7 15.4l-1.6 1.3-1.9 1.5-1.8-.8m11.1-10.9l-1.3-.4 1.2 2.1 2.6-.7m-15.9 6.5l-1.3-1.6 1.4-.8 .3 1.5m3.7 1.9l-.1-1.3-.2-1.8 2.4.6m13.7-10.1l2.1.7-.7 1-2.6.4m-17.5 8.6l.9-1.1-1.2-.6 .2 2.5m14.1-8.1l-2.1-.6 .3 1.2 1.4.4m-7.8 2.1l1.6-.1-.7 1.5-1.2-.3m-5.8 7.1l-1-.7 .9 1.1 2.4 1.4m20.8-17.1l1.5.2-.7.7-2.4 1.2m15.8-7.3l2.2-.2 3.2.1 2.5.6m-10.2 1.9l-1.2.7-1.7.1 1.2-2.2m-17.8 9.9l.1-1-2 .5-2.1-1.2m-9.9 5.2l2.3-.4 1.5.2 1.3-1.9m-9.1 3.8l1 1.8 1.8-.8 1.9-.9m7-1.2l1.2-1.2-1.9-1.6-1.7-.4m32.8-9.1l.3-2.3 2.3 1.7 1.6-.2m-25.3 5.9l-1.1-1.1 1.7-1.2 1.8-1.2m-6.4 6.8l-2.2 1.4-2.9 1.5-1.4-.8m-.4 3.2l-.9-1.7-3-.5 .7 1.7m9.5-6.2l-2.6.4-1.4.3 1.9-.1m-12.1 10l1.5-1.5 1.5 1.7-.3 1.9m3.6-8.1l-1 1.1 .3 1.4 .3 1.9m.3-.4l1.4.6-1.5.4-1.9-.1m7.9-9.7l-.8 1.1-1.4 1.8 1.1 1.2m-9 7.7l.6-2-2.1.3 .9-.6m23-13.6l-2.6 1.3-2.8-1-.9 1.1m-18.8 13.9l1.2-1.5 2.7 1.6 2.5.2m5.5-7.2l.3-1.1 1.4-.3-1.6-2.1m-5.9 7.1l-.3-1.3-1.2.3-1.8-1.5m18.7-7l-.8-1.5-2.6.5-1.8 2.2m223 41.1l1.7 1.6-.4-1.9-1.8-.3m18.9 17.3l.8-1.1-1.2-1.8-1.3.4m-5.2 2.7l1.5-2 1.7-1.4 1.8 1.3m-.2 3.2l-2.8.4-2.3.4 1.3-1.3m-15.6-3l.2-1.4-2-.1 .9 1.8m-1-17.8l.8 1.3 1.3.5-.4.9m17.4 17.9l1.9-1.4-1.1-1-1.9-.8m-16.8-9.7l2.5.2-.5-2-2.6-1.7m2.7 1l1.1-1 1-1.4 2.4 0m1.7-1.2l2.8.8 2.1-1.7-1.1 1.2m77.8 157.6l-.9 1.1 2.4.4-1.3 1.3m-4.5-7.3l-.8-1m-8.7 21.4l0-1.9 1.3-2.1 3.4-1m-.5.6l1.2-2.2 1.2.6-1.5 1.3m2.9-3.5l-1.2.3-.1 1 1.3-.1m-.6 2l.6-2.4 1.1-.9 1.1-1.2m-5.6 2.3l-.3 2.5 2.4-.9 1.8-1.9m-8.6 7.1l-1.2.6-2.4-1 2.1-.3m-97.1-88.5l1-1.5-3.9-.1-2.6 1.5m11.4 17.9l1.8-.4 3.3 0m-39.4-16.2l2.3-.4-1.7 2.8 1.2 2.7m-10-11.5l.7-1.8-1.5 0-1.2-1.5m50.2 17.8l-2.6.8-2.5.9 0-1.8m-6.7-7.5l-.6 2.3-2.1.2-1.7-1.4m.4-6.4l-.2 2.3-3.6-1.6 2.3-.5m-1.4 10.6l-1.7-1.1 2.2-.9-3.6-1.2m2.5-3.1l1.9 2.4 2.4-2.5 4.1-.8m-22.5 10.7l-.1-2-2.1.2-1.1-1.2m17.9-10.3l-.1-1.8 .7 1.2-.4 1.7m-24.1.9l-3.2-2.1 1.1 2.5 1.7.5m34.6-8.9l-2.1 2.2-1.7 1.8 1.8.6m-35.7.9l-.9-.9 .4 1.6 2.2-1.2m40.4 7.1l-1 .8 2.9.5 0-1.2m-39.5 1l.9-2.7 1.9-.7 1.2.9m69.7 9.3l2 1 2.2 2.5-.9 2.8m-10.1-10.4l-3.5-.6-3.2-1.5 3.1 2m27.6 11.7l1 .8m-13-5.5l-3.2-1.2-2.5-1.9-2.3-.8m9.9 6.6l4.3-.1-1.5-2.7-2.6 1.7m-8.1-8.2l3.5 1.5 1.3 2.5 .2 1.5m2.8-1.5l-3.5 0-2.8 1.9-1-2.6m16 7l-.8-1.5-1.9-2.6-1.8-2.5m-46.1-40.4l-2.1-1.6 1.7.7 .2 1.4m4.2 17.8l-.5-2 1-2 .6 1.1m-4.5-10.3l2.1.9-1.2-1.3-1.4-1.7m4.5 9l1.6-.6-2.7.4 2.2 2m-6.3-14.1l1.5 0-.7-1.4-.9.7m7.2 11.2l-1.6.9-2.3-1.5 .4 1.7m2.4.3l-3-.4-.7-1.7 3.1.8m-245.5-90.7l2-.2 1.2 1 .9 2.1m1.2 8.9l2.5 1.1 3.2-.7-1.8 1.8m-6.5-7.9l1 .8 .8 1.6 1.9 1.6m.3.2l-1 1.6-1.1 2.1 .9.8m-12.8-2.3l-2.3-.9 .5 1.2 1.2-1.6m9.2-1.5l1.8-.2-1.3 0 1.4 1.1m-11.3-2.9l3.5-.3 1.5 1.7-2 2m4.3-10.3l.5 2.1 2.9.3 .3 1m-5.8 7.2l-2-.8-.4-1 2-1.5m-2.6 4.2l-1.2-1-.7-2.1 2-1.6"/>
<path class="i1" d="M234.3 697.6h0m85.1-113h0m263 60.5h0m7.6 73.2h0m-166.5 4.4h0m8.2-46.4h0m-16.6-15.2h0m290-33.1h0m47.6 8h0m15.2-3.3h0m3.8 10.7h0m-664.1 4.6h0m30.5 38h0m47.7 4h0m-19.2-13.5h0m3.8 1.9h0m-7.6-3.8h0m617.3-4.8h0m-676.3 10.5h0m658.2 20.9h0m-17 4.8h0m-419-85.1h0m3.3 0h0m-41.5-11.6h0m157.4-37.4h0m4.9-1.9h0m19.8 7.8h0m8.8-73.4h0m12.3 74.7h0m47.6 17.5h0m-16.2 176.9h0m235.6-107.1h0m-79.6-66.8h0m12.4-11.4h0m22.3 6.5h0m-594.6-57.4h0m207 18.4h0m425.3-44.3h0m-325.4 137.3h0m31.2-5.7h0m61.4 12.7h0m0 5.4h0m62.5-1.2h0m46.2 9.2h0m16.9-3.1h0m-353.3 43.9h0m2.3-13.8h0"/>
<path class="i2" d="M144.7 606.5h0m-2.8-1.3h0m-2.9-1h0m-23.8 67.9h0m668.8 5.3h0m-21.3 2.3h0m-16.7-18.4h0m-588 18.2h0m18.1-16.3h0m92.7-16.6h0m125.2-72.4h0m-4.8-1.4h0m21 11.1h0m2.8 8.9h0m2.9-.9h0m-7.7-.4h0m-11.4 24.1h0m1 1.9h0m154.1 67.2h0m-3.8 1.5h0m-23.2-17.9h0m3.6 2.1h0m19.6-15.6h0m33.3-16.4h0m-67 96.6h0m26.5-.7h0m-148.8 22h0m-36.2 5h0m362.5-141.9h0m-.4 1.2h0m-19.6 11.4h0m33.3 0h0m11.8.9h0m-600.5 9.5h0m-33.5 43.6h0m9.5-3.8h0m36.2-4.8h0m23.2-12.7h0m587.2 18.4h0m-658.9 46.6h0m651.7 12.8h0m5.7 3.4h0m-19.2 4h0m-162.5-2.9h0m-256.9-131.4h0m.9 2.7h0m-.7 7.8h0m-30.7-27.6h0m-.9 1.3h0m3.8 1.6h0m4.7 4.7h0m-7.2-10.6h0m133.8-67.4h0m10.8 3.3h0m-3.2 2.5h0m59 43.3h0m-2.9-5.7h0m-4.7 1.3h0m132.6 59h0m4.4 9.5h0m2.8 2.8h0m2.9 4.8h0m17.1 2.9h0m13.7 10.2h0m2.1.4h0m15.6-.6h0m3.8-.9h0m-3.2-11.4h0m2.2 0h0m3.9 11.8h0m3.8-13.3h0m43.7 5.7h0m-1.9-1.9h0m-9.5-1.9h0m7.6 15.2h0m5.7 2.8h0m15.3-1.9h0m-64.7-70.3h0m2.8-3.5h0m-5.7-9.7h0m44.7-23.9h0m4.8-2.5h0m4.7-4.2h0m21-10.4h0m-467.2-2.5h0m8.6-22.3h0m256.9-3.4h0m43.7-8.4h0m25.7-5.3h0m29.5 5.2h0m106.6 8.1h0m-662.2-1.9h0m451-18.8h0m9.5-.2h0m-26.7 1.3h0m-30.4.6h0m-7.6 2.5h0m-40.7 149.1h0m4-6.1h0m58.6 18.3h0m-197 92.6h0"/>
<path class="i3" d="M146.6 608.8h0m634.6 71.1h0m-22.8 6.7h0m1.9-11.1h0m-13.4-11.4h0m-5.7-3.8h0m-3.8-2.8h0m-467.1-10.1h0m140.8-55.2h0m164.6 147.6h0m-203.2 9.5h0m-42.3 15h0m117.8-193.6h0m-18.8-34.6h0m-2.9-25.1h0m192.8 111.3h0m26 27.9h0m25.7 14.5h0m21.9-4.4h0m5.7-2.8h0m-15.2-5.2h0m65.6 10.9h0m-25.6-102.7h0m-596.6-28.5h0m-7.6-6.5h0m31.4 11.2h0m40 7.6h0m-1-3.8h0m-3.8-3.8h0m137 21.1h0m4.8.4h0m-5.2-6.3h0m-31.9-44.7h0m-38.1-5.7h0m-9.5-2.8h0m-9.5-1h0m28.5.4h0m-38 1.5h0m-9.5 1.4h0m43.7 13.5h0m32.4 13.6h0m262.6-15.2h0m36.1-5.7h0m112.3-1.9h0m-156.1-12.3h0m-244.5 248.1h0m1 3.8h0m7.6 4.8h0"/>
<path class="al" d="M128.5 542.8l-5.7 1.7-5.7 1.5-5.7.8-5.7.7-5.7.4"/><path class="al" stroke-dasharray="3 5" d="M785 547.9l-5.7-.7-6.7-1.6-6.6-.7-7.6-3.4"/>
<path class="rv" d="M581.4 519.6l-7.6.9-5.7 2.9 5.7 5.7 7.6.9 7.6 1 5.7 3.8 5.7 3.8 0 2.9 2.9 3.8M573.8 529.7l-1 4.2 4.8 2.8 4.8 4.8 2.8 1.9M598.5 510.1l3.8 2.8 4.8 1.9 1.9 5.7 4.8 6.7 .9 4.8 2.9 3.8 1.9 3.8-1.9 3.8M619.5 535.4l7.6.4 7.6.9 3.8 4.8 2.8 4.7M684.2 508.2l-3.9 2.8-1.9 3.8 1 3.8 4.8 3.8 4.7 3.8 1 2.3-7.7 2.5-11.4 1-7.6.9-5.7 1.9-7.6 1.9-5.7 5.7M688.9 526.2l4.8 1 5.7 2.8-3.8 3.9-7.6.9M682.2 524.3l-9.5.6-7.6 2.3-9.5-1M748.8 513.9l-3.8 2.8-7.6 2.9-5.7 2.8-1.9 4.8M726 511l-3.8 3.8-4.7 4.8-2.9 4.7M709.8 545.3l-2.8 2.8-3.8 2.3-3.8 3.4-3.8 1.4-3.8.1-5.7-3.4-2.9-4.7-6.7-2.5-5.7.6M545.2 516.7l-2.8 2.9 6.7 2.8 1.9 4.8M519.6 523.2l2.8 2.1 3.8 1.9 4.8 2.8M533.8 558.6l-3.8-4.8-2.8-.6 1.9-4.1 4.7-2.9 1.9-1.9 0-3.8-5.7-1.3-7.6-.6-7.6-1.9M347.4 647l-3.8 1.9-5.8 1.5-5.7 1.7-3.8 0-5.7 1.2-5.7-1.9-5.7 1.3-3.8 1.5-4.8.4M328.3 652.1l-3.8-3.2-4.7-1.9-4.8-1.9M330.6 652.5l-4.2 5-4.7 4.7-3.5 2.9M331.4 710.7l-3.1-3.8 1-4.8 1.3-4.1 6.3-.6 1.9-3.8 1.9-4.8 3.8-3.8M501.5 586.3l.4 3.7-.4 4.7 3.2 2.9 .4 2.8-2.7 3.8-.9 3.8-1 2.9 4.8-1.9 1.9 3.8-2.9 3.6 .2 4.9-2.1 5.7-.9 5.7 .9 5.7 1.9 3.3M466.3 657.5l5.3-3.3 2.3-4.3 2.9-4.8 5.7-2.9 5.7 1.9 2.8 1.9 0 5.8 1.9 5.7 1 5.7M453.9 637.7l1.3-5-3.2-3.8-.9-4.7-4.8-3.8-3.8-4.8-5.7-1.5-3.8 4.4-4.8 3.8-3.8 3.8M272.6 590.5l-3.3-3.4 0-4.8 1.9-2.8 1.4-3.8-1.9-3.4-1.9-4.2 .5-3.8-3.8-3.8M270.7 572.3l-5.2-.8-4.7-.6-1-3.8-2.8-2.4-5.7-3.3-1-4.7-5.7-1.9-7.6.4-5.7.5M187.5 514.8l3.8 2.9 6.7 2.8 6.7 2.9 2.8 3.8 7.6 2.3M130.4 526.6l7.7-.4 5.7-3.4 9.5-.7 9.5-1.6 6.7 1 6.6 1.9 5.7 3.8 3.8 2.8M610.9 604.2l-1-4.7-5.7-1.9-5.7.3-3.8-2.2-3.8-2.9 0-2.8M613.4 600.4l-.2-3.4 4.4-.8 5.7-3-1.9-2.7-7.6-.2-7.7.2-6.6-2.1M570.9 600.4l1.6-4.7 3.2-3.8 1.9-3.9 1.5-4.7 2.3-2.9 4.8-.9 4.7 1.3M673.7 586.1l-5.7-.5-4.8 3.4-5.7-1-3.8-.5-5.7 1.5-4.8 2.5-4.7 3.2-3.8 1.9-2.9-3.8-2.8-5.7-3.8-3.8M668.9 574.2l-3.8 1.9-5.7 3.4-6.6 0 0-5.7 .9-3.8-5.7-1.5-2.9 4.3-4.7 4.8-5.7 0-3.8 2.8M645.1 627.4l-2.8-3.2 1.9-3.8-1-2.9-1.3-3.8-1.5-2.3-3.8.4-1.9-3.8-1.5-3.4-1.4-6.1-1.9-5.7M498.8 560.1l-3-.2-1 2.5-4.7.5-4.4-.9-4.2-1.1-2.8-1.9 0-3.7-4.8-.9-5.7-.6-6.7.2M707.7 713.6l2.1-2.5 3.8 0 2.9 2.5 3.8.9 2.9.2M473.9 700.4l3.8.4 2.9-.6 3.8 1 3.8.9 3.8 2 2.8-.4M511.6 681.6l-3.5-3.2-3.8-2.5-4.7 0-3.8 3.4-3.8.8-3.8-.8-1.9-4.7-.6-3.8"/>
<path class="bo" d="M208.5 552.9l53.2 0 1 .5 4.7.8 4.8.6 1.9-.6 7 2.9 2.5 1.5 1.9 1.3 .2 4.4-1.1 1.9 7.6-1.5 0-1.4 4.7-1.3 2.9-1.5 6.7 0 1.9-1.9 2.4-2.7 2.7.8 0 2.4 1.5 1.4M174.2 513.7l0 17.7 3.8.6 2.9 1.9 3.8-1.4 3.8 2.3 3.8 3.8 2.8 1.9M219.7 584.2l4.4-.1 7.2 2.4 5.3 0 0-.9 3.3 0 3.8 4 2.8 1.3 2.9-1.5 2.8 3 1.9 3.3 3.4 1.1M267.1 618.5l1.3-2.9 1.9-.4-1-1.9 3.5-1.1 1.7-1.1M272.8 612.2l0 3.6 1.7.4m-1.9 2.5l2.5.9 .5 1.2m-3-2.1l-1.5 1.1M276.4 621.3l2.5-1.5 2.8-1.7 2.5-.6m-4.8 7.4l2.3.2 1.5.2M284.8 630.6l.5-2.8M306.8 623.6l-2.3 2.5 0 3.8 1 2.3 3.8.7 4.8 1.4 0 4.1 .9 3.8 .2 1.6M292.6 643.4l3.4 2.1 2.8.5 .6 1.6 3.2 2.8 6.7.4 0 3.2-.9 0-4.8-3.6m5.7 3.6l1-6-1-2.9 1.5-1-1.1-1.3 5.3 0M289.7 652.5l.2 1.9 2.3 1.2 .9-1.9 2.9-2.3 2.8-2.5 .6-1.3M328.3 630.1l-2.4 4 1.1 2.1 1 1.3-2.5.6-5.7.2 .9 3 1.2.6-2.1 1.7-3.5.9-1.1-.7M328 637.5l.7 4.7 1.9 1.4 3.4-1.2 1 0-1.5-2.8 .2-3.4 .3-1.4m1 7.6l3.8-.7 1-2.3-.8-2.5 .9-1.7m-1.1 6.5l3.4 0 1.9-3.4M303.6 659.9l-1.9.2 1.5 3.8 2.3 1.2 2.7-1 0 2.9 2.1 0 1.5 2.8-.6 4.4-.9 2.3 0 2.8-1.6 1.6m-5.1-21l.9-4 3.9-1.9m1.9 13l2.8-.6 5.1-1.7 0 3.6 4.4 1.9 3.8 1.5 1.4 2.9 .2 2.4 3.6 0 0 1.9 1.1 1.4-.6 3.4-1.9-.9-5.1.5-1.5 4.6-3.4 1.5-3.7-1.9-1.9 1.9-1.5-2.5-1.1-3.8-1.7-3.8M323.6 687.9l4.7 3.8 4.4 2.5-1.7 3.6 4.4.4 3.2-3.5 .6-3-2.7-3.2-4.2-.4-.2-4.4M314.6 689.4l-2.4 3.2 .3 4.8-2.6 3.8-1 4.8 .4 3.8-.9 4.7-1 4.8-1.3 4.7-.2 4.8 .6 3.8-1.6 3.8-1.3 3.8 1.3 2.8 5.4 2.3 1.9.4M331.8 709.8l.7-5.7 3.4-.6 4.8 4.9 .2 1.7m-8.4-6l2.9-5.9m3.2-3.5l1.7 2.7-7.8 6.3M425.9 593.4l0-2.5 7.1-1.9 4.7-3.8 1.4-4.8-.8-1.1m-12.4 14.1l-8.1 0m8.1.7l0 2.5-6.2 0 0 5-1.9.7 0 3.2-7.6 0M425.9 594.1l7.5 4.4 11.4 7.4 4 4 1.7-.2 3.4-.5 11.4-7.8-3.8-1.9-.9-3.8 .9-6.7-1.9-.4-2.8-5.3 1.5-3.2 .6-4.2m.7 12.7l2.5-3 2.3-2.5M433.4 598.5l-3.3 0 1.9 16.2 .4 1.9-8 .2-3.8-.4-1.3 1.5 1.5 4.4 1.3.9 4.2 0 1 3.3 3.8-.4 .9-1.9 1.9-2.3 1.9-1 2.9-3 3.8-.4 1.9 0 4.8-.9 1.3-1.9 0-5M419.3 617.9l-4.4-3.4-3.8.7M420.8 622.3l-4.4-.2-2.4 1.1-3.3-.7m-.2-2.3l3.5-.4 2.2.8-2.6.2-2.9.3M416.4 622.1l0 1.7-2.4 1.3m8.1-1.9l2.3 3.8 2.9-.5m-9.9 2.4l3.2-1.9 1.9 1.9 .4 1.2-2.3 2.6m2.3-2.6l1.9 1.7 1.5-.2 1.9 6.1m-1.9-6.1l1-2.7 0-2.4M431.1 626.1l5.7 1.3 .6 3.4-1 3.8 .8 1.9m-.4-9.1l.4-2.3 5.1-.2 1.2.2 1.3 2.9 .7 5.7-.7.7m-2.5-9.5l.8 3.1 .4 4.7 .3 2.1m-.3-9.7l3.4-2.4 2.5 1.1-1.8 5.1 0 5.2m-.7-11.4l-.2-.8-2.3-1.1-1.9-3.3M449.4 623.8l.7-3.4 5.7.9 3.8.4 3.3-.9 5.3-.8 .9 1.3m-.9-1.3l3.8-5.9 .9-6.7-1.9-5.1-1.5.8-4.2-1.7m-15.2 19l-.9-3.8M469.1 621.3l1 1.9-2.5 4.6-2.6 4.9-2.5.2-3.6 4M471 602.3l17.2 6.7 0 7.2-2.9 3.2 0 2.5 .8 3.2-3.6 2.3-4.6 3.4-5.9 1-1-4.6-1.9-.2 2.9-.2-1.9-3.6m18.1-14.2l1.9-1 0-3.8m0-18.2l0 18.2 12 0 10.8 0m-22.8 3.8l-1.9 0m1.9-3.8l0 3.8M488.2 616.2l0 6.1m-2.1 2.8l1.3 3.8 1.7.6 1.5-3 3.3 1.3 1.9.6 2.8-1.4 2.9.4 2.7-3.6 1.5-1-.4 2.9 1.9 2.3 .2 1.7-2.1 1.1 1.7 1.6 2.7 3.4-2.5 2.3-5.7.9-.4.4-2.5-1.7-4-1.3-4-4.2-1.5-2.7m18.3.2l3.6-7.8 1-3 3.8-7.1m-3.8 7.1l2.6-1.2 4 .8 4.6 3.8 1.1-.2M509.7 635.8l1.3 1.9 3.8 1.5 2.9.4 2.8-1 1.9-.5 1.9-1.4 3.8-.2 5.7-5.7-1.9 0-5.7-1.9-1.9-3.8-1.1-2.8m-2.7 16.3l0 9.2 1 1.5m-10.5-11.6l-3.8.4m17.1-13l.6-.9M507.2 638.1l1.9 4.7-1.9 2.7 0 2.5 6.8 3.8 3.1 3.2m-9.9-7l-6.7 0-1.7.7 .6-3.6 2.1-3.4-.4-2.3m-.6 8.6l0 2.6-2.8.8 .6 3 .5-5.7m1.7 1.9l.6 1.7-2.8 2.1M472 631.8l-1.9 2.8 0 2.9 2.8 4.4-5.1 0-3.8 0-2.9-.2m2.9.2l0 2.2-3 0m6.8-2.2l2.3 1.5-1 3.6 1 2.9-3.8.5-1.9 2.9 2.3 1.3 .5 2.7-1.5-.2m4.4-19.6l2.8 4.4 3.9-2.5 1.1-1.5 1.7-1.4 5.7 1.8 4.8-1.8 4.5-.1m-17.8 3l-.6 7.6-2.9 2.9-.4 4.7-5.7 2.7 6.7 0 .9 3 3.9 1 1.9-1.9 3.4.5 .4 7.1 3.8 0 0 3.8-3.8 0 0 6.1 2.6 2.6M498.3 654.4l.3 3.1 2.5 4.3-4.4.4 .4 3.8-.6 2.5 2.7.8 0 2.2-4.9-3-3.7-1-2.4-.5m12.9-5.2l4 2.1 2.1.2m-2.1-.2l.8 5.9-.6 2.9-5.3 1.9 .3 1.1-2.6.4-3.8 4-3.3-.2-3.6-.4M465 678.8l4.1.3 8.6 0 4.8 1.2 4.5-.8 3.6.4m-8.1.4l0 7.6-1.9 0 0 12.2-5.4-.4-1.3.7m6.7-.3l0-6.9 3.8 2.9 1.9-1.9 4.7.5 2.9-3.8 4.5-2.6 3.7.3 1.3 4 0 4.4 1.7 0m-14.5-17.1l1.4 2.3 3.2 2.8 3.2 3.3m3.7.3l2.2-2 1-3.5-.6-5.3-4.4-2.1m5-3l2.8.7 2.5 3.1-.9 1.9-1.6-1.9-.3-3.1m-.6-9.3l1.1 3.8 6.5-.4 4.6-1.5m-14.3 31M494.3 702.3l2.4-1.7 1.7 1.5-1.7 2-2.1-.4-.3-1.4M425.8 566.4l4.3 0-.7 3.6-.8 2.8-.2 2.5m10.7-11.8l4.7 1.3 4.8.6M447.3 548.9l3.2 2.1 3.4.9 4.2 1-1.1 2.6-3.1 2.5 1.9.8-.6 3.2 1.6.8m.2-7.3l3.8.2 1.7 1.2 3.2-.2 2.9.9 0 1.7m-14.7-1.3l1.9.8 2.9-.6 3.8-1.3m-8.6-5l.8-4.4 1.5-2.8m-5.7 3.6l3.4.4m4.2 4.2l7.4-2.5 5.2-1.3-.4-3.8-.8-1.7m-4 6.8l1.7 3.2 7.5-.2 3.6-1.5 7 .8 2.9-2.7-1-3.8 .2-2.8-1.5-.8-5.7 0m-9.5 6.5l2.8 1.5 4.8 1.3m-11.1 1.7l-1.5 3.1m9-3.3l.3 1.4-1.9 2.1-4.5.7m6.4-2.8l3.3.4 6.4-1.2 .6-1.3m-12.2 4.2l5.2 1.9 2.8-.6 1.7-.4 1.9-3.8m1.2-11.4l5.1.4 2.1-2.9 3.1-.9-1-2.5-.6-.6 1.2-3m-13.3 6.3l10.6.7m-4.4-4.2l5.9.2m1.6 3.1l4.9 1.1 3.6 4.2-2.6 2.5-14.7.9m14.7-.9l5.9.5 2.2 2.7 8.4 1.5-.4 3.3-3 1.5m-27-6.5l-2.9 2.7m-.6 1.3l5.2 1.3 3.2-1.1 3.1 5.3 2.6.4m-5.7-5.7l6.5 3.6m-16.8 0l2.9 3.6-.6 1 1.2.4 10.4.1m-18.4-4.1l.4 1.9 .7 3.8 2.3 1.9 .8 1.9-1.9 2.3m1.1-4.2l4.4 1.1 6.4-.7 3.3-.6m-9.7 1.3l-1-5.1m7.4 4.4l0 1.5M463.6 533.9l2.1-3.9 0-4.9 4-2.8 4.2-5.6 7.6-1.9 1 1 5.1.9 .9 4.2m-7-6.1l9.9-.5 6.1.5 3.6-1.5m-3.6 1.5l-.8 1.6 2.9.9-.8 5.7 3.8 3.4-7.2 4.6M492.5 566.8m18.9 10.8l.9-1.9 10.9-.4 4.5 0-1.1-4.2 1.1-.5-2.4-2.7-3.8-.8m3.8.8l5.7 0 0-1.5 4 .2m-7.3 4l3.3 1.5 2.8-1.5 1.7 2.4m-7.8 2.3l2.3 2.7-1.1 3.4 1.3 1.7 3.1 4 1.7 2.1m-11.8-13.9l-2.7 5.3-4.2 1.9 .8 2.5-4.2 1.1 1.9 1.9-.9 1-2.7 1.5-2.1-.5m7.2-7.5l-3.8 2.1-1.7-.7-.6-1.2 1.9-1.7-1.1-.7m6.1 4.7l5.3 1.9 5.2 3.6 3.4.2 2.6-1.7m-2.6 1.7l2.3 1.2 1.3 0m6.1 8.1l1.9 2.5 4.9.4 1 1.3-1.3 3.8-5.8 1.9-5.7.8-2.8 2.8-1.5-.3-2.9-.2-3.4-.2-1.2 2.1m17.5-5l2.1 4.6m4-11.6l2.3-4.2m-1.3 5.5l-1.3 3.8M535.5 573m9.6 2.1l4-1.5 6.2 1.1 3.6 1.7-1.3 5.6 .8 4.1 1.7.2-1.7 3.1 3.6.7 .8 4.2-3.1 3.8m-1.3-8.7l10.3-.2 .1-1.9 5.6-1.9 0-2.3 1.9-.6 1.7-5.1 7-2.1 5.5 3.2m-31.6-2.1l6.3.6 3.8-2.1 9.2-1.7 6.8 2.1m-35.9-1.7l-4-7 4 .9 1.9 0 5.9-.2 3.4.6 8.7 7m-19.9-7.4l0-7 4.9-1.2 4.8 2.7 1.7 1.3 5.5-.4 2.3 1.4-.2 1.9 4 2.5 4.5-.6 1.6-3.4 4.2-.4 1.3-.4 11.4 1.9m-16.9 7.4l4.7-2.3-.2-.7 12.4-4.4m-60.1.8l-2.1-2.3m2.8-6.7l-4.7-3.6 1.3-1.5-.6-2.1 3.5-.6 4-2.3 7 1.6 2.3.7 8-.4 2.6 0-2.4-2.2 1.9-3.6 8-.8 5.7-1.3 5.7 1.7 4.2 1.1 5.9-1.3 6.6 6.4 6.5-.3 3.6 2.6 3.8.8m-13.5 13.3l.2-5.3 4.4-.8 .7-3.4 4.8.2 3.4-4 1 0M559.7 598.1m12.6 2.9l5.3-1.4-2.7-4.9 1.7-1.9 4.8-3.8 2.9-1.9-.2-3.4 1.9.9-2.7-4.5 7.2-1.6 2.1 2.3-.4 5.3 4.6 2.5-1.9 2.7 6.1 2.6 3.8 1.2 5.3.7 0-2.8-4.3-.6-9-3.8m13.3 4.4l1.6 1.1 6 .8 0-1.7-6 .9m6-.9l6.1-2.3 4 1.3-.2.8-4 3.6-1.9 4-1.7-.2-.5 3.8-1.4-3.2-2.1.4 1.9-2.9-4.5-.6-2.7 1.9 1.1 4.4m-1.7-8.4l.6 4m11 .8l-2.2 3.6-.8 1.3M627.8 592.2l2.5 1.6 .4 4.7-2.7 1.9 3.3 3.4 3.8 1.9 1.7-2.2 6.1-1.8 2.6.8 2.5 2.5m-12.9.7l-2.1 1.7 .9 1.6 1.4 3.6 5.1-1.5 1.3 1.7 1.7 6.1 3.6-.8 .2 4.6-3 2.4-1.9.8m1.1-7l-6.2-.4 1.1 5.3m-1.5-20.3l.9 2.2 2.7 1.6 0 3.8m-5.1 1.5l-6.7.2 2.1 2.1-1.3 2.4 1.7 2.5 .9 3.8-1.5 3.1m.8-22.9l1.7 3.6m0 26.3l1.9 1.5 1.9-.9M609.6 552.5l4.2 2.5 1.9 5.1 8.3 1.7 1.9 3 10.3.4 6.1 1.7 10.3-2.2 3-4.2 5-.8 10-2.5-4.7-1.9-3.6-.3 2.3-3.7-4.6-.9-10.9 1.9-3.6-1.9-8.3-.6-.2-1.3-6.3-1.5-2.1 4-10.3-1.6-8.7 3.1m55-1.2l4.9-1.5 1.5-3.8 6.7-1.7 7.6 6.3 5.7 2.5 7.8.9-3 6.3-3.8.7-1 4.4m0 0l-4.9.8-2.1.4-5 3.4M683.6 574.2l3.2-1.6M710.8 651l0 12.5M651 642.2l4.2 1.9 3.6-.7 3.3-2.7 .4-2.6 3.8 0"/>
<path class="st" d="M244.6 552.9l0 15.2 3.8 0 0 7.6-1.9 0 0 9.5-6.8 0m-8.4-32.3l0 7.6 13.3 0m-24.7-7.6l0 9.5 4.7 3.8 6.7 0 0 1.9 3.8 0 0 18.4m-28.9-20.3l18.4 0m-10.4 0l0 5.7 10.2 7.6 0 4.4m1.2-17.7l0 9.5 9.5 0m13.3 0l14.1 0 0 6.5 1.1 1.1 0 5.7m-28.5-13.3l13.3 0m-3.8-11.4l14.3 0 0-5.5-14.3 0m14.3 5.5l1.3 5.7-11.8 0m11.8 0l2.3 1.7 0 4m-10.3 0l0 4.7 10.5 1.4m-3.8-23l-1.4-5.9m1.4 10.4l10.1 0-1 5.5-7.8 0m7.2-11.6l-1.7 3.3 3.3 2.8m-1 5.5l5 6.9-10.5.9m10.5-.9l2.1-1.5 .9-7.4m-5.9-1.6l5.3 0m5.7 1.6l-5.1 0m5.1 0l0 4.9 4.2 1.3 4-4.2 0-3.2m-14.2 8.6l6-2.5m-8.1 4l-.8.9 14.8-.2 11.1 0m-12.8-3.4l1.7 3.4m2.3-7.6l1.9 1.8 7.1 0m-27.4 8.9l8.7 0 4.8 0 7.8 2.1m-17.5-2.1l-.4 8.9m5.3-8.9l1.2 7.6-5 0m5 0l5.7.8m-17.5-4.6l-5.4 0m5.4 0l-.8 3.8 3.6 0m18.9-20.9l9.1 0 3.2 0 0-5.7m-3.2 5.7l-.2 4m3.4-5.4l4.4 0m-.9-4.3l.9 3.8m-4.8 3.8l3.3-.6M214.2 532l0 11.7 11.4 9.2m7.6-20.9l0 20.9m15.2-20.9l1.2 20.9m12.1-20.9l0 13.6 11.5-7.8m-11.5 7.8l-.3 7.3m29.8-4.8l0 8.6 9.5 3.8m-126.5-28.5l74.2 0m-41.8 0l-7.7-9.6-16.1-7.4m65.6 17l0-8-34.2 0 19-11.1m87.5 19.1l-5.7 9.5 5.7 5.7 13.3 0"/>
<path class="gl" d="M271.2 474.9 V817.2"/><path class="gl" d="M442.5 474.9 V817.2"/><path class="gl" d="M613.8 474.9 V817.2"/><path class="gl" d="M100 560.5 H785"/><path class="gl" d="M100 646 H785"/><path class="gl" d="M100 731.6 H785"/><rect class="fr" x="100" y="474.9" width="685" height="342.3"/>
<text><tspan class="sa" font-size="32.5" x="415.41" y="457.30" textLength="51.89" lengthAdjust="spacingAndGlyphs">July</tspan></text>
<text><tspan class="se" font-size="34.8" x="21.99" y="568.77" textLength="31.04" lengthAdjust="spacingAndGlyphs">45</tspan><tspan class="se" font-size="33" x="52.30" y="567.57" textLength="13.00" lengthAdjust="spacingAndGlyphs">°</tspan><tspan class="se it" font-size="34.8" x="67.87" y="568.77" textLength="24.85" lengthAdjust="spacingAndGlyphs">N</tspan></text>
<text><tspan class="se" font-size="34.8" x="64.19" y="654.35" textLength="15.23" lengthAdjust="spacingAndGlyphs">0</tspan><tspan class="se" font-size="33" x="79.15" y="653.15" textLength="12.50" lengthAdjust="spacingAndGlyphs">°</tspan></text>
<text><tspan class="se" font-size="34.8" x="28.19" y="739.92" textLength="31.04" lengthAdjust="spacingAndGlyphs">45</tspan><tspan class="se" font-size="33" x="58.50" y="738.72" textLength="13.00" lengthAdjust="spacingAndGlyphs">°</tspan><tspan class="se it" font-size="34.8" x="72.98" y="739.92" textLength="21.25" lengthAdjust="spacingAndGlyphs">S</tspan></text>
<text><tspan class="se" font-size="34.8" x="27.55" y="825.50" textLength="31.70" lengthAdjust="spacingAndGlyphs">90</tspan><tspan class="se" font-size="33" x="58.50" y="824.30" textLength="13.00" lengthAdjust="spacingAndGlyphs">°</tspan><tspan class="se it" font-size="34.8" x="72.98" y="825.50" textLength="21.25" lengthAdjust="spacingAndGlyphs">S</tspan></text>
<text><tspan class="se" font-size="34.8" x="67.03" y="847.60" textLength="46.40" lengthAdjust="spacingAndGlyphs">180</tspan><tspan class="se" font-size="33" x="113.02" y="846.40" textLength="12.75" lengthAdjust="spacingAndGlyphs">°</tspan></text>
<text><tspan class="se" font-size="34.8" x="232.81" y="847.60" textLength="31.38" lengthAdjust="spacingAndGlyphs">90</tspan><tspan class="se" font-size="33" x="263.80" y="846.40" textLength="12.50" lengthAdjust="spacingAndGlyphs">°</tspan><tspan class="se it" font-size="34.8" x="281.83" y="847.60" textLength="32.14" lengthAdjust="spacingAndGlyphs">W</tspan></text>
<text><tspan class="se" font-size="34.8" x="427.91" y="847.60" textLength="16.48" lengthAdjust="spacingAndGlyphs">0</tspan><tspan class="se" font-size="33" x="443.38" y="846.40" textLength="12.25" lengthAdjust="spacingAndGlyphs">°</tspan></text>
<text><tspan class="se" font-size="34.8" x="578.41" y="847.60" textLength="31.38" lengthAdjust="spacingAndGlyphs">90</tspan><tspan class="se" font-size="33" x="609.40" y="846.40" textLength="12.50" lengthAdjust="spacingAndGlyphs">°</tspan><tspan class="se it" font-size="34.8" x="625.03" y="847.60" textLength="23.74" lengthAdjust="spacingAndGlyphs">E</tspan></text>
<text><tspan class="se" font-size="34.8" x="752.03" y="847.60" textLength="46.40" lengthAdjust="spacingAndGlyphs">180</tspan><tspan class="se" font-size="33" x="798.02" y="846.40" textLength="12.75" lengthAdjust="spacingAndGlyphs">°</tspan></text>
</g>
<g id="map-oct">
<g shape-rendering="crispEdges"><path fill="#000080" d="M1460 790h10v6h-10zM1460 796h10v5h-10z"/><path fill="#0000b6" d="M1433 523h5v5h-5zM1299 528h6v6h-6zM1321 528h5v6h-5zM1347 528h6v6h-6zM1422 528h11v6h-11zM1535 528h10v6h-10zM1021 534h5v5h-5zM1058 539h16v5h-16zM1417 539h5v5h-5zM1497 539h6v5h-6zM1508 539h5v5h-5zM1524 539h5v5h-5zM1535 539h5v5h-5zM1085 544h6v6h-6zM1101 544h16v6h-16zM1363 544h6v6h-6zM1422 544h6v6h-6zM1449 544h27v6h-27zM1497 544h6v6h-6zM1535 544h10v6h-10zM1074 550h6v5h-6zM1294 550h5v5h-5zM1342 550h16v5h-16zM1428 550h10v5h-10zM1476 550h5v5h-5zM1042 555h6v5h-6zM1406 555h6v5h-6zM1433 555h5v5h-5zM1444 555h5v5h-5zM1465 555h5v5h-5zM1476 555h5v5h-5zM1101 560h11v6h-11zM1139 560h10v6h-10zM1315 560h6v6h-6zM1454 560h6v6h-6zM1508 560h11v6h-11zM1529 560h6v6h-6zM1053 566h5v5h-5zM1101 566h16v5h-16zM1380 566h10v5h-10zM1406 566h16v5h-16zM1428 566h10v5h-10zM1503 566h5v5h-5zM1513 566h6v5h-6zM1048 571h21v6h-21zM1085 571h16v6h-16zM1278 571h5v6h-5zM1331 571h32v6h-32zM1454 571h6v6h-6zM1487 571h10v6h-10zM1058 577h38v5h-38zM1294 577h5v5h-5zM1112 582h11v5h-11zM1267 582h32v5h-32zM1347 582h6v5h-6zM1406 587h6v6h-6zM1470 587h11v6h-11zM1069 593h22v5h-22zM1251 593h21v5h-21zM1283 593h6v5h-6zM1305 593h5v5h-5zM1315 593h11v5h-11zM1454 593h6v5h-6zM1267 598h11v5h-11zM1353 598h16v5h-16zM1256 603h6v6h-6zM1294 603h11v6h-11zM1347 603h11v6h-11zM1444 603h5v6h-5zM1460 603h5v6h-5zM1262 609h10v5h-10zM1294 609h21v5h-21zM1331 609h22v5h-22zM1358 609h11v5h-11zM1417 609h5v5h-5zM1283 614h6v5h-6zM1305 614h10v5h-10zM1331 614h6v5h-6zM1347 614h11v5h-11zM1374 614h6v5h-6zM1428 614h10v5h-10zM1465 614h5v5h-5zM1278 619h5v6h-5zM1305 619h10v6h-10zM1347 619h11v6h-11zM1481 619h6v6h-6zM1278 625h5v5h-5zM1363 625h11v5h-11zM1422 625h6v5h-6zM1289 630h5v5h-5zM1347 630h6v5h-6zM1165 641h6v5h-6zM1144 651h5v6h-5zM1187 651h11v6h-11zM1342 657h5v5h-5zM1551 667h5v6h-5zM1144 673h5v5h-5zM1155 673h10v5h-10zM1535 673h5v5h-5zM1551 673h5v5h-5zM1144 678h5v5h-5zM1321 678h5v5h-5zM1321 683h16v6h-16zM1144 689h5v5h-5zM1363 689h6v5h-6zM1337 694h5v6h-5zM1513 694h11v6h-11zM1551 700h5v5h-5zM1561 700h11v5h-11zM1176 705h5v5h-5zM1508 705h16v5h-16zM1561 710h6v6h-6zM1139 721h5v5h-5zM1149 721h11v5h-11zM1165 742h6v6h-6zM1476 769h5v5h-5zM1492 769h5v5h-5zM1497 785h6v5h-6zM1369 790h11v6h-11zM1508 790h16v6h-16zM1085 796h6v5h-6z"/><path fill="#0000f1" d="M1016 512h5v6h-5zM1016 518h5v5h-5zM1192 518h11v5h-11zM1567 518h5v5h-5zM1444 523h5v5h-5zM1470 523h11v5h-11zM1583 523h11v5h-11zM1449 528h5v6h-5zM1487 534h5v5h-5zM1091 539h5v5h-5zM1101 539h11v5h-11zM1262 539h5v5h-5zM1331 539h16v5h-16zM1396 539h10v5h-10zM1428 539h10v5h-10zM1037 544h5v6h-5zM1074 544h11v6h-11zM1369 544h5v6h-5zM1385 544h5v6h-5zM1428 544h16v6h-16zM1513 544h11v6h-11zM1529 544h6v6h-6zM1058 550h6v5h-6zM1149 550h6v5h-6zM1283 550h6v5h-6zM1305 550h5v5h-5zM1406 550h6v5h-6zM1449 550h11v5h-11zM1481 550h22v5h-22zM1048 555h5v5h-5zM1069 555h11v5h-11zM1144 555h11v5h-11zM1342 555h5v5h-5zM1363 555h11v5h-11zM1390 555h11v5h-11zM1412 555h10v5h-10zM1487 555h10v5h-10zM1519 555h5v5h-5zM1064 560h5v6h-5zM1396 560h10v6h-10zM1422 560h16v6h-16zM1476 560h5v6h-5zM1139 566h5v5h-5zM1267 566h11v5h-11zM1294 566h5v5h-5zM1390 566h11v5h-11zM1444 566h16v5h-16zM1069 571h5v6h-5zM1048 577h5v5h-5zM1283 577h11v5h-11zM1347 577h16v5h-16zM1374 577h54v5h-54zM1454 577h6v5h-6zM1262 582h5v5h-5zM1353 582h21v5h-21zM1412 582h10v5h-10zM1058 587h11v6h-11zM1091 587h10v6h-10zM1123 587h5v6h-5zM1262 587h91v6h-91zM1369 587h5v6h-5zM1438 587h6v6h-6zM1272 593h11v5h-11zM1289 593h5v5h-5zM1331 593h16v5h-16zM1358 593h5v5h-5zM1256 598h11v5h-11zM1278 598h32v5h-32zM1315 598h6v5h-6zM1369 598h11v5h-11zM1417 598h5v5h-5zM1444 598h16v5h-16zM1262 603h5v6h-5zM1278 603h16v6h-16zM1321 603h26v6h-26zM1412 603h21v6h-21zM1315 609h6v5h-6zM1374 609h16v5h-16zM1101 614h6v5h-6zM1246 614h5v5h-5zM1256 614h11v5h-11zM1315 614h16v5h-16zM1337 614h10v5h-10zM1470 614h6v5h-6zM1299 619h6v6h-6zM1315 619h6v6h-6zM1331 619h16v6h-16zM1358 619h5v6h-5zM1299 630h11v5h-11zM1321 630h10v5h-10zM1337 630h5v5h-5zM1363 635h6v6h-6zM1342 641h11v5h-11zM1128 651h5v6h-5zM1310 651h5v6h-5zM1192 662h16v5h-16zM1139 667h5v6h-5zM1305 673h21v5h-21zM1310 678h5v5h-5zM1326 678h27v5h-27zM1181 683h6v6h-6zM1337 683h10v6h-10zM1540 683h5v6h-5zM1321 689h10v5h-10zM1337 689h10v5h-10zM1497 689h32v5h-32zM1160 694h5v6h-5zM1176 694h11v6h-11zM1310 694h21v6h-21zM1497 694h16v6h-16zM1315 700h6v5h-6zM1497 700h48v5h-48zM1171 705h5v5h-5zM1149 710h11v6h-11zM1165 710h6v6h-6zM1545 710h16v6h-16zM1545 716h16v5h-16zM1144 742h5v6h-5zM1444 774h16v6h-16zM1283 780h6v5h-6zM1315 780h11v5h-11zM1080 785h43v5h-43zM1149 785h16v5h-16zM1026 790h16v6h-16zM1192 796h11v5h-11zM1529 796h6v5h-6z"/><path fill="#0018ff" d="M1492 507h5v5h-5zM983 512h6v6h-6zM1347 512h6v6h-6zM1460 512h5v6h-5zM1363 518h6v5h-6zM1604 523h6v5h-6zM1305 528h5v6h-5zM1353 528h10v6h-10zM1396 528h5v6h-5zM1417 528h5v6h-5zM1497 528h6v6h-6zM1583 528h5v6h-5zM1599 528h5v6h-5zM1508 534h5v5h-5zM1583 534h5v5h-5zM1053 539h5v5h-5zM1128 539h11v5h-11zM1503 539h5v5h-5zM1048 544h5v6h-5zM1139 544h10v6h-10zM1374 544h11v6h-11zM1390 544h22v6h-22zM1064 550h10v5h-10zM1080 550h5v5h-5zM1096 550h5v5h-5zM1139 550h5v5h-5zM1321 550h10v5h-10zM1401 550h5v5h-5zM1417 550h11v5h-11zM1438 550h6v5h-6zM1058 555h6v5h-6zM1353 555h5v5h-5zM1380 555h5v5h-5zM1524 555h5v5h-5zM1278 560h5v6h-5zM1353 560h5v6h-5zM1417 560h5v6h-5zM1481 560h6v6h-6zM1310 566h5v5h-5zM1347 566h11v5h-11zM1481 566h22v5h-22zM1080 571h5v6h-5zM1101 571h6v6h-6zM1117 571h6v6h-6zM1412 571h5v6h-5zM1112 577h16v5h-16zM1267 577h16v5h-16zM1326 577h5v5h-5zM1428 577h10v5h-10zM1069 582h5v5h-5zM1080 582h11v5h-11zM1299 582h11v5h-11zM1085 587h6v6h-6zM1353 587h16v6h-16zM1428 587h5v6h-5zM1123 593h5v5h-5zM1310 593h5v5h-5zM1380 593h10v5h-10zM1251 598h5v5h-5zM1412 598h5v5h-5zM1107 603h10v6h-10zM1326 609h5v5h-5zM1428 609h5v5h-5zM1107 614h5v5h-5zM1289 614h16v5h-16zM1262 619h16v6h-16zM1321 619h10v6h-10zM1476 619h5v6h-5zM1310 630h11v5h-11zM1144 635h11v6h-11zM1187 646h5v5h-5zM1160 657h5v5h-5zM1187 657h16v5h-16zM1347 657h6v5h-6zM1181 662h6v5h-6zM1305 667h5v6h-5zM1529 667h11v6h-11zM1305 678h5v5h-5zM1519 678h10v5h-10zM1149 689h11v5h-11zM1160 705h5v5h-5zM1315 705h22v5h-22zM1535 705h5v5h-5zM1567 705h5v5h-5zM1139 737h16v5h-16zM1578 780h10v5h-10zM1283 785h6v5h-6zM1315 785h6v5h-6zM1594 785h10v5h-10zM1101 790h6v6h-6zM1133 790h16v6h-16zM1299 790h6v6h-6zM1481 790h11v6h-11zM1021 796h37v5h-37zM1433 796h11v5h-11z"/><path fill="#004cff" d="M1096 512h5v6h-5zM1422 518h6v5h-6zM1380 523h5v5h-5zM1610 523h5v5h-5zM1096 528h5v6h-5zM1460 528h5v6h-5zM1091 534h5v5h-5zM1305 534h5v5h-5zM1363 534h11v5h-11zM1444 534h10v5h-10zM1476 534h5v5h-5zM1032 539h10v5h-10zM1144 539h11v5h-11zM1272 539h6v5h-6zM1363 539h27v5h-27zM1117 544h6v6h-6zM1342 544h11v6h-11zM1444 544h5v6h-5zM1085 550h11v5h-11zM1101 550h6v5h-6zM1524 550h5v5h-5zM1080 555h5v5h-5zM1096 555h16v5h-16zM1331 555h6v5h-6zM1422 555h11v5h-11zM1470 555h6v5h-6zM1058 560h6v6h-6zM1074 560h11v6h-11zM1406 560h6v6h-6zM1460 560h5v6h-5zM1401 566h5v5h-5zM1438 566h6v5h-6zM1107 571h5v6h-5zM1128 577h5v5h-5zM1487 577h5v5h-5zM1497 577h6v5h-6zM1519 577h5v5h-5zM1074 582h6v5h-6zM1385 582h16v5h-16zM1470 582h6v5h-6zM1422 587h6v6h-6zM1326 593h5v5h-5zM1347 593h11v5h-11zM1417 593h5v5h-5zM1310 598h5v5h-5zM1460 598h5v5h-5zM1246 603h10v6h-10zM1305 603h16v6h-16zM1272 609h22v5h-22zM1321 609h5v5h-5zM1369 609h5v5h-5zM1476 609h5v5h-5zM1112 614h5v5h-5zM1251 614h5v5h-5zM1272 614h11v5h-11zM1363 614h11v5h-11zM1251 619h11v6h-11zM1289 625h5v5h-5zM1160 635h11v6h-11zM1294 635h5v6h-5zM1342 635h21v6h-21zM1310 641h5v5h-5zM1160 651h5v6h-5zM1171 651h5v6h-5zM1353 657h5v5h-5zM1133 662h6v5h-6zM1165 673h6v5h-6zM1176 673h11v5h-11zM1203 673h5v5h-5zM1540 678h21v5h-21zM1187 683h5v6h-5zM1369 683h5v6h-5zM1513 683h6v6h-6zM1545 683h11v6h-11zM1176 689h5v5h-5zM1529 694h11v6h-11zM1331 700h6v5h-6zM1155 705h5v5h-5zM1545 705h6v5h-6zM1165 716h6v5h-6zM1144 732h11v5h-11zM1310 780h5v5h-5zM1470 780h17v5h-17zM1267 790h5v6h-5zM1380 790h21v6h-21z"/><path fill="#0080ff" d="M1454 507h6v5h-6zM1080 512h5v6h-5zM967 518h6v5h-6zM1026 523h6v5h-6zM1074 523h6v5h-6zM1412 523h5v5h-5zM1449 523h5v5h-5zM1561 523h6v5h-6zM1588 528h6v6h-6zM1074 534h6v5h-6zM1139 534h10v5h-10zM1396 534h5v5h-5zM1412 534h5v5h-5zM1422 534h6v5h-6zM1529 534h6v5h-6zM1074 539h11v5h-11zM1347 539h11v5h-11zM1470 539h22v5h-22zM1513 539h6v5h-6zM1042 544h6v6h-6zM1096 544h5v6h-5zM1123 544h16v6h-16zM1165 544h11v6h-11zM1262 544h5v6h-5zM1272 544h6v6h-6zM1310 544h5v6h-5zM1037 550h5v5h-5zM1310 550h5v5h-5zM1337 550h5v5h-5zM1358 550h11v5h-11zM1085 555h11v5h-11zM1117 555h27v5h-27zM1283 555h6v5h-6zM1503 555h16v5h-16zM1117 560h6v6h-6zM1487 560h16v6h-16zM1091 566h5v5h-5zM1460 566h21v5h-21zM1321 571h5v6h-5zM1363 571h11v6h-11zM1497 571h6v6h-6zM1545 571h6v6h-6zM1107 577h5v5h-5zM1476 577h5v5h-5zM1529 577h11v5h-11zM1091 582h5v5h-5zM1101 582h11v5h-11zM1401 582h11v5h-11zM1422 582h6v5h-6zM1101 587h11v6h-11zM1374 587h6v6h-6zM1497 587h11v6h-11zM1406 593h6v5h-6zM1428 593h5v5h-5zM1476 593h11v5h-11zM1503 593h5v5h-5zM1321 598h26v5h-26zM1438 598h6v5h-6zM1091 603h5v6h-5zM1267 603h11v6h-11zM1358 603h11v6h-11zM1374 603h16v6h-16zM1433 603h11v6h-11zM1465 609h5v5h-5zM1267 614h5v5h-5zM1294 625h21v5h-21zM1256 630h22v5h-22zM1171 641h10v5h-10zM1321 641h5v5h-5zM1358 641h11v5h-11zM1326 651h5v6h-5zM1353 651h5v6h-5zM1181 667h11v6h-11zM1187 673h5v5h-5zM1519 673h16v5h-16zM1165 678h16v5h-16zM1192 678h6v5h-6zM1149 683h11v6h-11zM1176 683h5v6h-5zM1519 683h10v6h-10zM1171 694h5v6h-5zM1149 700h6v5h-6zM1165 700h11v5h-11zM1326 700h5v5h-5zM1337 700h5v5h-5zM1139 726h10v6h-10zM1155 726h5v6h-5zM1508 774h16v6h-16zM1096 790h5v6h-5zM1155 790h5v6h-5zM1267 796h5v5h-5zM1294 796h5v5h-5zM1331 796h16v5h-16zM1363 796h11v5h-11z"/><path fill="#00b0ff" d="M1101 518h6v5h-6zM1042 523h6v5h-6zM1294 523h11v5h-11zM1321 523h5v5h-5zM1390 523h6v5h-6zM1567 523h11v5h-11zM1069 528h5v6h-5zM1133 534h6v5h-6zM1085 539h6v5h-6zM1444 539h21v5h-21zM1058 544h11v6h-11zM1412 544h10v6h-10zM1481 544h11v6h-11zM1128 550h11v5h-11zM1289 550h5v5h-5zM1444 550h5v5h-5zM1519 550h5v5h-5zM1535 550h5v5h-5zM1294 555h32v5h-32zM1481 555h6v5h-6zM1497 555h6v5h-6zM1529 555h11v5h-11zM1042 560h16v6h-16zM1289 560h5v6h-5zM1358 560h11v6h-11zM1380 560h16v6h-16zM1042 566h11v5h-11zM1069 566h22v5h-22zM1123 566h5v5h-5zM1278 566h5v5h-5zM1305 566h5v5h-5zM1380 571h5v6h-5zM1053 577h5v5h-5zM1465 577h5v5h-5zM1058 582h6v5h-6zM1385 587h16v6h-16zM1454 587h16v6h-16zM1294 593h11v5h-11zM1444 593h5v5h-5zM1074 598h11v5h-11zM1385 598h5v5h-5zM1508 598h5v5h-5zM1369 603h5v6h-5zM1091 609h21v5h-21zM1251 609h5v5h-5zM1283 619h16v6h-16zM1428 619h5v6h-5zM1331 625h16v5h-16zM1374 625h6v5h-6zM1305 635h5v6h-5zM1503 635h5v6h-5zM1331 662h6v5h-6zM1326 673h32v5h-32zM1513 678h6v5h-6zM1165 683h6v6h-6zM1363 683h6v6h-6zM1497 683h16v6h-16zM1561 683h6v6h-6zM1540 694h32v6h-32zM1604 726h6v6h-6zM1524 774h16v6h-16zM1545 780h16v5h-16zM1380 785h10v5h-10zM1401 785h5v5h-5zM1524 785h5v5h-5zM1165 790h6v6h-6zM1176 790h5v6h-5zM1401 796h16v5h-16z"/><path fill="#00e4f8" d="M973 512h5v6h-5zM1342 512h5v6h-5zM1401 512h5v6h-5zM1032 518h10v5h-10zM1610 518h10v5h-10zM1294 528h5v6h-5zM1310 528h5v6h-5zM1556 528h5v6h-5zM1567 528h5v6h-5zM1604 528h6v6h-6zM1513 534h11v5h-11zM1042 539h11v5h-11zM1112 539h11v5h-11zM1160 539h11v5h-11zM1315 539h11v5h-11zM1048 550h10v5h-10zM1112 550h11v5h-11zM1369 550h32v5h-32zM1412 550h5v5h-5zM1155 555h5v5h-5zM1438 555h6v5h-6zM1326 560h5v6h-5zM1133 566h6v5h-6zM1326 566h5v5h-5zM1363 566h11v5h-11zM1112 571h5v6h-5zM1128 571h11v6h-11zM1096 582h5v5h-5zM1321 582h5v5h-5zM1433 582h16v5h-16zM1363 593h11v5h-11zM1438 593h6v5h-6zM1465 593h5v5h-5zM1476 614h5v5h-5zM1513 630h6v5h-6zM1176 635h5v6h-5zM1310 635h11v6h-11zM1326 635h5v6h-5zM1128 646h11v5h-11zM1149 657h6v5h-6zM1305 662h5v5h-5zM1321 662h5v5h-5zM1149 667h6v6h-6zM1139 673h5v5h-5zM1155 678h5v5h-5zM1369 678h5v5h-5zM1529 678h11v5h-11zM1556 683h5v6h-5zM1567 689h5v5h-5zM1556 700h5v5h-5zM1149 716h6v5h-6zM1139 742h5v6h-5zM1497 780h16v5h-16zM1305 785h5v5h-5zM1508 785h16v5h-16zM1545 785h11v5h-11zM1278 796h5v5h-5z"/><path fill="#29ffce" d="M1337 512h5v6h-5zM1037 523h5v5h-5zM1487 523h5v5h-5zM1535 534h5v5h-5zM1155 544h5v6h-5zM1315 544h27v6h-27zM1524 544h5v6h-5zM1465 550h5v5h-5zM1401 555h5v5h-5zM1128 560h5v6h-5zM1058 566h6v5h-6zM1315 566h11v5h-11zM1465 571h5v6h-5zM1363 577h11v5h-11zM1460 577h5v5h-5zM1449 582h5v5h-5zM1069 587h11v6h-11zM1433 587h5v6h-5zM1091 593h5v5h-5zM1481 598h6v5h-6zM1497 598h11v5h-11zM1481 614h6v5h-6zM1144 630h5v5h-5zM1139 635h5v6h-5zM1331 635h11v6h-11zM1315 662h6v5h-6zM1176 667h5v6h-5zM1337 667h5v6h-5zM1353 667h5v6h-5zM1369 673h5v5h-5zM1305 683h16v6h-16zM1155 700h10v5h-10zM1321 700h5v5h-5zM1551 705h16v5h-16zM1128 721h5v5h-5zM1487 780h10v5h-10zM1262 790h5v6h-5zM1374 796h11v5h-11z"/><path fill="#53ffa4" d="M1422 507h6v5h-6zM1487 507h5v5h-5zM1321 512h5v6h-5zM1433 512h5v6h-5zM1396 518h5v5h-5zM1428 523h5v5h-5zM1535 523h10v5h-10zM1470 534h6v5h-6zM1519 539h5v5h-5zM1123 550h5v5h-5zM1460 555h5v5h-5zM1540 555h5v5h-5zM1331 566h6v5h-6zM1390 571h22v6h-22zM1503 571h5v6h-5zM1123 582h5v5h-5zM1374 582h11v5h-11zM1481 582h11v5h-11zM1487 587h5v6h-5zM1358 630h11v5h-11zM1342 667h5v6h-5zM1187 689h5v5h-5zM1149 694h6v6h-6zM1540 705h5v5h-5zM1519 780h5v5h-5zM1396 785h5v5h-5zM1064 790h5v6h-5zM1240 790h6v6h-6zM1272 796h6v5h-6zM1470 796h11v5h-11z"/><path fill="#7dff7a" d="M1417 523h5v5h-5zM1417 534h5v5h-5zM1390 539h6v5h-6zM1144 550h5v5h-5zM1529 550h6v5h-6zM1412 560h5v6h-5zM1503 560h5v6h-5zM1470 577h6v5h-6zM1492 577h5v5h-5zM1315 625h6v5h-6zM1171 673h5v5h-5zM1535 683h5v6h-5zM1160 689h5v5h-5zM1529 689h6v5h-6zM1406 785h6v5h-6zM1578 785h5v5h-5zM1315 796h6v5h-6z"/><path fill="#800000" d="M1096 560h5v6h-5zM1096 566h5v5h-5zM1508 587h5v6h-5zM1561 689h6v5h-6zM1460 769h10v5h-10zM1342 774h5v6h-5zM1358 774h5v6h-5zM1101 780h6v5h-6zM1321 785h16v5h-16zM1074 790h6v6h-6zM1230 790h5v6h-5zM1165 796h6v5h-6zM1176 796h11v5h-11zM1540 796h5v5h-5z"/><path fill="#a4ff53" d="M1438 512h6v6h-6zM1454 518h6v5h-6zM994 528h6v6h-6zM1091 528h5v6h-5zM1503 544h10v6h-10zM1042 550h6v5h-6zM1470 550h6v5h-6zM1278 555h5v5h-5zM1267 571h5v6h-5zM1422 619h6v6h-6zM1321 635h5v6h-5zM1133 641h16v5h-16zM1326 641h5v5h-5zM1305 646h5v5h-5zM1347 651h6v6h-6zM1342 662h5v5h-5zM1139 716h5v5h-5zM1149 748h6v5h-6zM1123 785h5v5h-5zM1235 790h5v6h-5zM1347 796h16v5h-16z"/><path fill="#b60000" d="M1476 518h5v5h-5zM1412 539h5v5h-5zM1299 560h6v6h-6zM1267 625h11v5h-11zM1321 625h10v5h-10zM1465 625h5v5h-5zM1572 630h6v5h-6zM1299 635h6v6h-6zM1203 657h5v5h-5zM1363 662h6v5h-6zM1321 667h5v6h-5zM1449 785h5v5h-5z"/><path fill="#ceff29" d="M1310 512h5v6h-5zM1503 518h5v5h-5zM1604 518h6v5h-6zM1406 523h6v5h-6zM1037 534h5v5h-5zM1294 534h5v5h-5zM1578 534h5v5h-5zM1096 539h5v5h-5zM1492 539h5v5h-5zM1460 550h5v5h-5zM1385 555h5v5h-5zM1454 555h6v5h-6zM1149 625h6v5h-6zM1278 630h5v5h-5zM1353 641h5v5h-5zM1128 662h5v5h-5zM967 678h6v5h-6zM1176 700h11v5h-11zM1503 705h5v5h-5zM1144 780h5v5h-5zM1246 785h5v5h-5zM1272 785h6v5h-6zM1326 790h11v6h-11zM1438 790h11v6h-11z"/><path fill="#f10800" d="M1460 507h5v5h-5zM1524 518h5v5h-5zM1438 560h16v6h-16zM1428 582h5v5h-5zM1508 582h5v5h-5zM1412 587h10v6h-10zM1422 593h6v5h-6zM1438 609h6v5h-6zM1117 619h6v6h-6zM1155 625h5v5h-5zM1160 630h5v5h-5zM1369 630h5v5h-5zM1155 641h5v5h-5zM1337 657h5v5h-5zM1289 785h5v5h-5zM1369 785h11v5h-11zM1487 796h5v5h-5zM1508 796h11v5h-11z"/><path fill="#f8f500" d="M1535 512h5v6h-5zM1058 528h6v6h-6zM1278 550h5v5h-5zM1508 566h5v5h-5zM1428 571h5v6h-5zM1064 582h5v5h-5zM1251 625h5v5h-5zM1331 630h6v5h-6zM1128 641h5v5h-5zM1337 646h5v5h-5zM1139 662h5v5h-5zM1010 678h6v5h-6zM1203 678h5v5h-5zM1363 678h6v5h-6zM1567 774h11v6h-11zM1294 780h5v5h-5zM1321 790h5v6h-5zM1449 790h11v6h-11zM946 796h5v5h-5z"/><path fill="#ff3800" d="M1187 518h5v5h-5zM1508 523h5v5h-5zM1133 625h6v5h-6zM1171 635h5v6h-5zM1342 646h5v5h-5zM1337 651h5v6h-5zM1347 662h6v5h-6zM1540 689h11v5h-11zM1160 716h5v5h-5zM1380 774h5v6h-5zM1262 780h5v5h-5zM1267 785h5v5h-5zM1438 785h6v5h-6zM1454 785h6v5h-6zM1069 790h5v6h-5zM1080 790h5v6h-5zM1246 790h5v6h-5zM1535 790h5v6h-5z"/><path fill="#ff6800" d="M1508 518h5v5h-5zM1460 523h5v5h-5zM1460 534h5v5h-5zM1160 625h5v5h-5zM1149 641h6v5h-6zM1470 641h6v5h-6zM1347 646h11v5h-11zM1160 667h5v6h-5zM1198 683h5v6h-5zM1529 683h6v6h-6zM1165 689h6v5h-6zM1310 689h11v5h-11zM1385 774h11v6h-11zM1487 774h5v6h-5zM1503 796h5v5h-5z"/><path fill="#ff9400" d="M1476 507h5v5h-5zM1492 534h5v5h-5zM1438 539h6v5h-6zM1513 550h6v5h-6zM1358 566h5v5h-5zM1449 577h5v5h-5zM1428 598h5v5h-5zM1256 625h11v5h-11zM1198 651h10v6h-10zM1326 662h5v5h-5zM1165 667h6v6h-6zM1331 667h6v6h-6zM1347 667h6v6h-6zM946 678h5v5h-5zM1551 689h5v5h-5zM1492 774h16v6h-16zM1235 785h5v5h-5zM1444 785h5v5h-5zM1524 790h5v6h-5zM1240 796h6v5h-6zM1604 796h11v5h-11z"/><path fill="#ffc400" d="M1588 512h6v6h-6zM1358 518h5v5h-5zM1074 528h17v6h-17zM1133 528h6v6h-6zM1123 560h5v6h-5zM1433 593h5v5h-5zM1085 598h6v5h-6zM1454 603h6v6h-6zM1133 657h6v5h-6zM1149 705h6v5h-6zM1112 796h5v5h-5z"/></g>
<path class="co" d="M960.8 521.3l2.9-5.1 8.5-3.3 10.3-2.4 12.6 1.5 17.1 1.7 11.4 1.1 13.3-1.9 5.8 1 9.5.4 9.5 2.4 9.5.4 3.8-1.3 11.4 1.3 7.6-.4 4.8-1.9 2.8-4.7 3.8 3.8 3.8 1.5 3.9 1.3 4.7-2.8 6.7 0 .9 2.8-2.8 3.3-5.7.5-1.9 2.9-5.8.9-5.7 3.8-2.8 3.9-.4 2.2 4.2 3.5 4.7 0 5.8 1.9 3.8 1.3 5.1.6 .6 3.8 2.8 3.2 2.9-.4 0-4.7 3.8-3.8 .9-2.9-3.8-2.8 1.9-3.9-.9-2.4 7.6 0 7.6 2.4 1 3.9 4.7 1.3 3.8-3.8 1.9 2.5 3.8 2.8 1.9 2.9 3.8 1.9 3.8 2.8 2.5 2.9-2.5 1.1-5.7 2.3-9.5 0-3.8 1.7-5.7 3.4 3.8-1.9 7.1-.6-1.4 2.5 1 2.5 4.7.8 1.9.9-4.7 1.5-4.8 1.9 0-1.9 2.9-1.9-4.8 1-3.8 1.9-2.8 1.9-.6 1.9 1.5.6-3.8.9-3.8 1.1-.4 2.1-2.5 1.9-.9 2.9 .6 2.8-2.5 1.9-3.8 2.5-3.8 2.7-.6 3.4 1.5 3.8 1 2.9-.6 2.4-1.7-.2-2.9-4.7-.1-2.3-2.3-1.9-3.8-.6-3.8 0-2.9.6 .4 1.9-3.3-.6-4.7-.7-2.9.9-3.8 2.7-.5 3.4-1 3.8 .2 3.8 1 2.9 2.2 2.8 2.9 1.5 3.8-.5 2.8-.6 1-3.2 .9-1.4 4.8-.5 1.3 1.9-1.7 3.8-.9 2.8-1 2.1 3.3.2 3.8-.2 3.2 1.7-.4 3.8-.4 3.8 2.3 2.9 2.9 1.3 2.8-1.3 2.9.4 1.3 1.9-2.3.5-1.9-1.5-1.9 2.9-2.8-1.7-2.9-.6-2.8-2.9-1.6-1.9-3.2-3.8-2.8-.7-3.9-1.2-3.8-2.8-2.8-1.4-3.8 1-4.8-1.7-4.7-1.7-4.8-2.5-2.8-2.3 .3-2.8-2.2-3.8-3.9-3.5-1.9-2.6-2.8-2.5-2.9-2.8-1.3-3.3-2.8-.9 .3 3.2 3.3 4.2 3.4 4.4 2.3 4.7-1-.9-3.2-3.8-3.8-3.8-1.9-3.8-2.9-3.9-1.3-2.2-2.5-2.5-4-1-2.3-3.8-1.3-2.4-2.5-3.3-.9-1.7 .2-3 .4-4.8 0-3.4-1.4-4 3.3.4 .9 1.7-.9-3.2-3.8-1.9-4.8-2.9-1-2.8-3.8-2.9-2.8-1.9-3.8-2.8-3.8-2.9-3.8-.9-4.8-1.6-7.6-.3-3.8-1.6-4.8 1.6-2.8 1.3-1.9-3.3-1.9 1-2.9 2.9-1.9 1.9-4.7 2.4-5.7 2.3-5.8 1.3-3.4.6 5.3-2.5 3.9-.9 3.8-2.3 1.3-2.3-3.2.2-5.8-.7 0-1.9-4.7-1-1.9-1.9-1-1 2.9-1.9 6.7-.9 0-1.9-3.9 0-6.6-.2zM1141.6 497.3l9.5-3.4 11.4-2.8 22.9-1.9 19-1.6 19-.3 15.2 2.2 7.6 2.5 11.5-1.3-9.5 3.2-2.9 3.8-1.9 3.8-1 2.9-3.8 3.8-.9 3.8-6.7 2.8-7.6 1.6-5.7 2.2-7.6 2.3-5.7 1.5-2.9 3.8-2.8 4.8-2.9 1.1-2.8-1.7-4.8-.7-3.8-4.4-2.8-3.8-2.9-2.9 1-2.8 3.8-2.3-6.7-1.9-1.9-3.4-3.8-3.8-4.8-2.5-11.4-.4-9.5-1.9zM1157.8 526.2l-6.7 1.9-7.6-3.8-11.4-.9 7.6-2.9 1.9-3.8-9.5-3.8-13.3-.9-7.6-2.9-2-2.8 17.2-.6 7.6 1.9 11.4 3.4 7.6 3.5 9.5 4.1 1 1-4.8 2.8zM1162.5 489.2l-15.2-1-19 0-19.1 2.3-3.8 2.5 11.5 2.8-3.8 2.9 15.2 2.3 7.6-3.3 7.6-2.8 13.3-2.9zM1057.9 510.1l13.3-2.9 9.5 0 5.7 4.8-5.7 2.8-15.2.6-7.6-2.5zM1042.7 509.1l9.5-4.3 8.5 1.9-8.5 3.4zM1097.8 500.6l11.4-.6 19.1 2.3-3.8 1.9-19.1-.2-7.6-1.5zM1057.9 502.5l13.3-1.5 9.5.9-5.7 1.9-13.3.2zM1097.8 493l11.4 0 5.8 2.8-11.5 1.5-5.7-2.1zM1098.8 505.3l9.5 0 .9 2.9-7.6 1.1-3.8-2.1zM1086.4 506.3l8.6-.6 .9 3.4-5.7.8-3.8-1.7zM1115 521.5l5.7-1 6.6 2.9-2.8 1.9-6.7.4-2.8-1.4zM1167.7 555.3l3.4-4.3 2.8-2.9 1 2.9 3.8 1.9 1 3.8-2.9.4-2.9-.8zM1118.8 604.6l5.7-2.5 5.7 1.2 3.8 1.9 5.3 2.4-6.3.6-.9-1.5-4.8-1.9-3.8-1.2zM1138.9 610.9l3.1-2.7 5.3.2 3.1 2.5-5 .9zM1131.5 611.2l3.8 0-1.3 1zM1152.6 611.1l2.9 0-1.5.7zM1234.3 521.5l4.3-1.7 7.6.4 6.3 0 2.1 2.2-4.5 1.9-5.8 1.2-6.6-1 .9-1.7zM1036.4 549.4l5.3 1.2 3.8 3.2-2.8-.4-3.9-2.1zM1133.4 630.3l2.5-1.9 1.9-2.9 3.8-.9 2.3-1.9 .6 2.8 2.8-1.9 2.9 2.1 4.7.2 3.8.4 3.8-.6 1.9 2.3 1.9 2.1 2.9 2.3 2.8 2.4 3.8 0 2.9.8 3.4 2.3 2.3 4.3 1 2.9 1.9 1.5 1.9 1 3.8.7 3.2 2.5 4.4.6 3.8.2 2.8 1.7 2.9 2.1 3.2.7 1 3.6-.8 3.8-3.4 3.5-2.9 3.8-.9 3.8-.4 5.3-1.5 4.2-1.9 3.8-3.8 1.9-3.8 1.5-3.8 1.5-2.9 2.7-.4 4.4-2.8 4.2-3.4 3.4-2.9 3.2-2.9 1.7-3.8-.7-2.6-1 2.3 4.4-1 3.6-4.4 1.3-4.2.2-.1 3.4-5.2.4 1.4 3.4-2.3 4.2-3.8 1.9 2.8 2.9-2.8 3.8-2.9 2.8 1.2 2.7 .3 2.1 4.2 2.7-4.7 1.1-4.8-1.3-4.8-3.1-2.8-4.2-1-4.7 1.9-4.8 1.9-4.7-.5-3.8 .5-4.8 .6-3.8 1.3-3.8 2-3.8 .1-4.7 .8-4.8 1.1-5.7 .4-5.7-.2-6.7-2.2-1.9-3.9-2.3-4.7-3.8-1.9-3.8-2.5-4.3-2.3-4.8-2.8-2.8-.4-2.9 1.7-2.1 .6-2.1-1.5-2.4 1.3-2.9 2.1-1.9 .9-1.9 1.9-2.9 .4-3.8-.9-2.4zM1164.4 744l5.7-.4-.9 1.7-3.8 0zM1269.3 578l7.4 1.1 5.7-2.5 7.6-.5 9.5-1 1.9.8-1.3 4.5 1.3 1.9 3.8 1.2 4.4 1.1 4.2 2.7 3.8.7 1-2.8 3.8-1.7 5.7 2.1 7.6 1.5 3.8-1 2.5.6 .3 2.3 1.9 3.8 1.9 3.8 1.9 3.8 2.9 4.8 .6 4.7 2.3 1.9 1.9 4.8 2.8 1.9 3.8 3.8 .6 1.9 3.2 1.9 5.7-1.3 6.1-1.4-.4 2.9-2.8 6.4-2.9 4.8-3.8 3.8-4.7 3.8-3.8 4.4-2.9 3.2-1.9 3.8 .6 3.8 .9 4.8 1.4 3.8 .2 5.7-3.1 3.8-4.2 2.8-3.4 2.9 .6 3.8 .3 3.8-4.7 2.8-.4 3.8-1.5 2.9-2.9 3.4-3.8 3.3-3.8 2.4-4.7.6-3.8.2-3.8 1.1-3.1-1.1-.7-3.2-2-4.8-1.9-3.8-1.9-3.8-.9-4.8-1.9-4.7-2.9-5.7-.3-3.8 2.2-5.7 1.4-3.8-1-3.8-1.7-5.7-.6-2.3-3.8-4.4-1.9-3.4 1-3.3 .4-3.8-1.4-1.9-3.8-.7-2.8-.2-1.9-3.4-4.8 0-3.8 1.1-3.8 1.7-3.8-.7-6.7 1.5-3.8-3.1-3.8-1.9-2.8-2.8-1-2.5-2.8-2.3-3.3-2.6-.2-2.7-1.3-1.7 1.9-3 .6-4.2-.6-2.9-.9-1.9 1.5-3.8 2.4-3.8 2.7-3.8 1.9-1.9 3.8-1.9 1.5-3.8 2.3-4.4 3.3-1.7zM1374.3 668.9l1.9 6.6-1.5 4.8-2.9 7.6-1.9 5.7-3.8.9-2.8-4.7 1.5-5.7-.6-5.7 3.8-2.5 3.8-4.2zM1263.4 575.7l-1-3.2 1.4-4.4-.8-3.8 2.3-1.4 6.6.6 5.2 0 1.1-2.5 0-2.4-1.9-2.3-4.4-1.3-.3-1.2 5.7-.4 .2-1.7 3.4.2 2.6-1.9 2.7-1.5 2.3-1.7 1.1-1.5 4.2-1 3.1-.6 0-3.2-.8-2.8 4.4-1.4 0 2.7-1.4 2.5 1.9 1.9 2.3-.4 4.2.6 4.4-1.2 3.8-.4 2.5.6 2.3-1.7 0-3.2 2.8-1.4 3.4 1 0-2.1-1.5-1.7 4.8-.6 3.8 0 4.2-.8-3.3-1.1-4.7.2-5.7.9-3.1-1.3 .2-2.7-.6-1.9 6.3-3.2 1.5-1.1-2.4-1-3.8.6-1.4 2.3-4.3 2.1-3.3 3.2-.2 1.9 3.1 1.3-4.2 4.4-1.2 2.5-3.2 1.3-2.5.2-.7-2.1-1.5-2.3-1.6-2.4-.9-1-4.8 2.7-3.8-.4-1.9-3.2 0-3.9 3.8-1.9 5.3-1.5 3.3-2.3 2.5-2.8 3.2-2.9 3.8-1.5 4.8-1.9 5.7-.9 7.2-1.6 5.1.6 4.8 1.2-1.9 1.1 5.7.4 5.7.7 9.5 2.9 0 2.5-4.7 0-6.7-.6-3.8-.6 3.4 3.4 0 1.2 5.2.9 .9-1.1 4.8-.2-1-1.7 3.8-1.7 3.8.4 .4-2.5-1.3-1.9 5.1.6 .6 2.4 2.8-1.3 9.5-1.3 1.9-1.2 7.7 0 4.7 0 1-1.7 6.6 1 4.8.7 3.8 1.2-1.5-3.3-2.3-2.8 3.8-2.5 6.7 0 .5 3.4-1.5 3.8 3.2 3.8-3.2 1.4 4.8-2.3 .9-1.9-.9-3.8-1-2.9 3.8 0 3.8-.5 5.7.5-.9-2.8 10.4-.8 1.9-2.1 7.7-1.3 9.5-.8 7.6-.7 7.6-2.3 5.7 1.7 9.5.4 2.9 2.1-6.7 2.8 5.7.6 9.5.4 9.5 0 7.7 1.9 4.7 2.8 6.7-.9 7.6.2 5.7-2.1 11.4.2 7.6 1.7 5.7.9 9.5 0 3.8 2.5 9.6.4 9.5-.6 1.9 1.5 9.5-1.3 7.6 1.5 0 7.4-2.9 1-1.9 3.8-6.6 1.3-6.7 3.5-8.5.3-4.8 3.5-2.8.9 1.9 2.9-1.9 2.2-3.9 3.5-2.8 1.9-3.4 1.9-1.4-3.8-.9-4.8 .9-3.8 3.8-1.9 3.8-3.8 5.8-1.9-5.8-.6-5.7.2-3.8 4.6-5.7.6-5.7-1-7.6.4-5.7.6-7.6 4.7-4.8 3.4 3.8 1.4 4.8 0 2.5 1.9-1.6 3.8 0 4.7-4.7 3.8-4.8 4.8-4.7 2.3-3.8.5-2.5 2.3-3.2 2.5-1 .9 3.4 3.8 0 3.8-3.4 1.8-2.3 0 .4-3.7 .4-2.2-3.3-.6 0-2.9-1.3-.9-4.4-1-.9 2.9-1-3.2-3.8 2.8-2.4.4 1.5 2.5 3.8.1 3.8.6-2.9 1.5-2.8 2.9 1.9 2.8 2.5 3.3-.6 3.4 .9 1.9-2.8 3.8-1.9 2.9-2.9 1.9-2.8 2.8-4.4 1.3-4.2 1-2.8.9-1 1.9-.9-2.2-2.9-.2-2.5 2.1-1.9 2.8 1.5 2.9 3.9 2.8 1.5 4.8-.2 3.8-4.2 2.1-2.9 2.6-1.3.6 .4-2.8-2.9-.6-1.9-2.9-2.8-1.3-1.5-1.3-.4 2.6-1.4 3.8 1.4 2.9 1.9 3.2 2.8 2.5 1.7 2.8 .2 2.9 1.4 2.1-1.4.2-3.8-2.9-1.9-3.2-.4-2.9-1.5-2.8-2.3-1.5 .4-3.3 .4-3.8-1.3-3.8-.6-3.8-1.3-1.9-2.9 1.9-1.9-.4-.4-4.3-2.4-2.9-1.9-2.8-1-1.9-1.9.9-2.9.4-3.8.9-.9 2.5-2.9 1.3-3.8 3.5-2.8 2.8-2.5 1.9 0 3.8-.8 3.8-.9 1.6-1.9 2.2-1.5 1.7-1.9-2.6-1.9-3.8-1.4-2.9-1.1-3.8-1.7-3.8-1-3.8 0-3.8-1.5 0-2.9.2-2.8-2.7 2.5-1.3-3.5-.9-2.2-1.9-1.6-1.8-4.7.2-4.8.2-4.7-.4-3.3-.5-1.5-2.5-3.8.8-3.8-1.7-2.9-2.9-1.9-2.3-2.4 0-1.4 1.4 1 2.2 2.8 3.1 .4 2.3 1.5 1.7 1-2.7 .2 3.2 4.5.4 3.9-3.6 1.1 2.9 3.6 1.7 2.5 2.1-2.5 4-1.5 2.6-2.3 1.9-2.8 1.9-5.4 1.9-6.1 3.4-5.7 1.8-4.7 1.1-1.4-4-.5-3.2-2.9-4.8-3.4-4.4-1.3-4.1-2.5-3.5-3.3-4.1-1.3-1.9 .4-1.9-1.3 2.8-1.4-.4-1.9-3.2-.5-2.5 3.6-.2 1.5-2.8 1.1-3.3 .8-2.8 .4-1.5-3.3.2-3.8 1.1-3.8-1.3-2.8.9-2.9-.9-1.9-3.3-.5-1.9 1.5-1.7 3.8-1.1 4.7-.4 3.8-1.5 3.8.6 2.9 1.1 4.8.2 3.8-1-.4-2.4-3.4-1.9-3.8-1.9-.4-1.4 2.3-.9 1.3-2.3-3.2.4-4.2.9-.6 1.5 2.9.8-2 .8-3.2.9-2.3-1.7 1.7-1.3-3.8-1.2-2.4 1.2-1 1.5-1.9 2.3-1.7 2.4 .8 2.1 1.5 1-2.9.4-2.3.5-1.5-.5-2.8.2-1 1.1-1.3-.4-.2 2.1 1.1 1.9 1.4 1.2-1.9.5 0 1.7-1.6-.7-1.7-1.5-.2-2.1-1.9-1.4-1.5-1.9 .2-2.4-1.9-1.4-3.8-1.9-2.5-1.5-1.7-1.7-1.1-.8-2.5.6 0 1.9 2.3 1.5 1.1 2.3 3.4 1 3.9 2.1 .7 1.3-2.7-1-.9 1.9 .9 1.2-1.9 1.7-.5-.2 .5-1.7-.9-1.9-1.9-1.3-2.9-1.2-2.8-2.1-2.1-1.7-.8-1.3-2.3-.8-2.4 1.2-2.9 1.3-2.8-.6-2.5.8 0 2.1-2.3 1.1-2.8 1.5-1.6 1.9 1 1.4-1.7 2.2-2.5 1.6-4.8.3-1.9 1.2-1.5-1.3-1.7-1M938 515l5.7 1.2 7.6 2.4 5.7 1.9-1.9 1-3.8 2.3-5.7-.8-4.7-2.5-2.9 1zM1269.7 550.8l4.1-.4 4.8-.8 4.4-.9 .7-2.9-2.6-.5-.8-1.9-2.7-1.9-.9-1.9-1.5-.8 1.5-2.3-2.9-.2 1-1.7-3.8 0-2.3 2.1 1.3 2.9 1.4 1.9 2.8.1 .6 2.1-2.9 1 .6 1.9-1.9.9 3.2.8-1.9.8zM1261.5 547.9l7.2-1.1 .4-2.5 .9-1.9-1.9-1.3-3.4.2-3.2 1.7 .9 2.3-1.5 1.5zM1301.4 494.9l9.5-1 11.5-.7 9.5.7-5.7 2.9-5.7.9-5.7 2.5-7.7-1.5zM1378.5 510.1l2.8-2.9 5.8-3.8 7.6-2.3 11.4-1.5 5.7 1-13.3 2.8-7.6 2.9-1.9 3.8-3.8 1.5zM1461.3 495.8l9.5-3.8 11.4 2.9-5.7 2.4-9.5.4zM1368 493l11.4-1.4 15.3-.5 7.6 1.3-11.4 1.5-15.3 0zM1541.2 502.5l7.6-1.2 9.5 1.2 7.6.5-3.8 1-11.4-.2-5.7.4zM1546.9 505.7l5.7.4-1.9.7zM1620.1 511l2.9-.9 0 1.3zM1550.7 542.8l2.8 4.4-.3 4.7 .3 5.2-2.8 1.5 0-4.8 0-5.7zM1546.9 567.1l2.8-3.2 .6-4.2 3.2 2.3 3.5.8-3.5 3-3.8-.2zM1529.8 581.4l3.8-2.9 5.7-.3 1.9-2.5 3.8-1.9 1.9-3.8 2.5-2.5 1.3 3.4-1.9 2.9 0 3.8-1.9 1.9-2.9.6-2.8.2-1.9 2-1.9-1.9-3.8.4zM1527.9 582.3l3.2 0-.4 3.8-2.3.6zM1532.6 581.8l3.8-.8-.9 1.7-1.9 1zM1510.7 598.1l1.9.8-2.2 5.3-1.2-1.9zM1487.3 609.3l2.5-1.3 1.9 1-2.5 2.2zM1509.8 610.9l3.2.2-.4 4.5-.9 3.4 4.7 2.3-1.9.4-3.8-1.7-1.3-2.1-.6-2.7zM1512.6 632.7l2.9-3 3.8-2.1 1.9 4.2-1.9 2.8-2.9-.5zM1512.6 623.8l2.3 1.3 2.5-.5 1.9-1.9-1 3.8-2.8 1.5-1.9-1zM1503.5 629.9l4.4-5.1-1 2.2-2.4 2.7zM1487.9 642.6l3.8.4 3.8-3 3.8-3.5 3.3-3.8 4.3 3.5-2.4 3.2 .5 4.4-.9 3.8-2.3 4.2-.6 1.9-2.8 0-2.9-1.4-2.8 0-2.9-3.4-1.9-3.4zM1461.8 635.4l4.2.8 4.8 4.1 3.8 2.9 3.2 2.8 1.5 3.9 2.9 2.4-.4 4.8-2.5 0-4.1-3.4-3.5-4.8-3.4-5.7-3.2-3.4zM1480.9 659l2.6-1.5 3.5 1.3 4.3-.6 3.6 1.2 3.5 1.3-.2 1.9-6.5-.8-5.7-.9-2.9-.8zM1508.5 644.5l2.2-.7 3.8.5 3.8-1.3-.9 2.3-6.7-.2-1.3 2.7 2.3.2 3.4-.4-2.5 1.9-.5 1.9 2.4 2.3-.9 2.4-1.9-1.5-1-3.4-1.3.6 .2 4.7-1.7 0-.4-4-.6-1.7zM1529.8 647.6l5.7 0 1.9 4.7 5.3-3.4 6.1 2.1 6.7 2.3 2.8 3.2 3.4 1.5-.9 2.3 3.2 2.9 3.2 2.8-5.1-.6-3.2-3.6-4.4-1.1-1.9 2.8-3.8 0-3.8-2-1.9.5 1.5-3-1.5-2.5-3.8-1.7-4.8-1.5-1.3-1.9-2.5-2.5zM1563.1 656.5l3.8 0 3.4-2.3-1.5 2.9-3.8.9zM1432.7 627.4l2.3 2.5 1.1 2.8-2.2 2.1-1.6-2.1zM1515.5 665.6l2.8-2.4 3.9-1.2-1 1.5-3.8 1.9zM1501.2 662l3.8-.4 3.8.2 5.4-.2-.6 1.2-5.7 0-4.8.4zM1523.1 642.2l2.3 1-1.3 2.8 .9 1.6-1.5-1-.4-2.5zM1524.1 651.8l4.7 0 .6 1.5-4.4-.6zM1496.8 687.9l1-.4 4.4-2.3 4.7-1.1 4.8-1.3 1.5-3.5 2.5-.9 2.6-2.9 2.9-2.8 2.9 1.5 2.8.2 1.9-4.6 3.8-1.9 4.8 1.4 3.4-.4-1.5 3.2-1 2.5 3.8 1.9 3.8 2.8 2.5 0 1.5-4.7 .2-4.8 1.5-3.4 1.9 3.4 .4 3.4 3.1 1.4 .9 3.8 1 3.8 4.2 2.3 1.9 3.4 2.4 2.5 3.3 3.2 1.3 3.8 .6 3.8-1.4 4.8-2.4 3.8-1.9 3.8-1 3.4-3.8.9-3.2 2.3-3.4-1.5-3.9.4-3.8-.8-1.9-3.8-2.8-.6 0-3.2-1-1.9-2.8 3.4-1.9-2.4-1.9-1.9-4.8-1.9-4.7.3-5.8 1.2-3.8 1.3-.9 1.7-6.7 0-3.8 2.1-3.8-.4-1.9-.9 1.2-3.4-.2-3.8-1.4-3.9-1.5-2.8-1.3-2.9 .6-2.8zM1555.6 723.4l3.7.8 3.4-.4-.2 2.5-2.3 2.5-1.9 0-1.5-2.3zM1609.1 711.5l3.1 2.1 2.2 1.9 1 2.1 4.4 0-1 3-1.7.6-.8 2.4-2.2 1.6-1.2-.6 1-2.5-2.7-1.3 1.7-2.5 0-2.3-3.2-3zM1609.1 723.1l2.9 1.5-2.3 3.2-1 1.5-2.3 1-1.1 3-2.3 1.4-2.8-.4-2.9-1 1.9-2.1 1.9-1.5 3.8-1.9 1.9-2.3zM1296.1 568.1l2.9 0-.2 3.4-2.1.4zM1296.9 564.5l1.7 0-.4 2.8-1-.4zM1304.3 573.8l5.9-.4-1 2.9-4-1.2zM1325.4 578.5l5.1.6-3.4.6zM1342 579.5l4.1-1.1-1.3 1.7zM1381.9 622.1l2.3.2-1.3.4zM1372.4 514.3l2.9-.2-1 1.3zM938 795.1l28.5-.1 13.4-2 15.2-1.5 19-2.8 19-1.5 8.2-1.6 20.4 1.2 13.3.9 9.5.6 5.7-2.9 7.6-.5 11.4-.4 19.1.8 7.6-.4 3.8-3.8 7.6-2.9 5.7-3.8 5.7-3.8 7.6-3.8 6.7-.6-2.9 2.5-5.7 1.5-1.9 3.3 1 3.8 .9 3.8 1 3.8-2.3 2.8 7 2.9 15.3 3 15.2.8 13.3-.6 13.3-3.2 15.2-4.8 15.3-3.8 13.3-2.3 9.5-1.7 15.2.6 13.3-.8 19.1 1 15.2-2.1 9.5 1.7 13.3-3.6 13.3-3.6 7.7 1.3 11.4 1.7 11.4.8 3.8 1.3 7.6 1.7 7.6-2.1 7.6-3.2 11.4-.8 11.5-.3 11.4-1 9.5 1.5 9.5-1.1 9.5 1.1 9.5.6 13.4-.8 15.2-.7 13.3 1.5 7.6 1.7 11.4 1.7 15.2 2.1 11.5 1.9 8.5 1.7-4.7 3.1-7.6 3.4-2.5 3.6 4.4 2.1 9.5-.6 9.5 1 9.5.7M1373.7 557.2l4.8-.1 2.8 2.8-3.8 1.5 0 2.9 3.3 2.8 1.9 3.8 .2 4.2-5.4 1.2-3.8-1.6 0-3.8 1-1.9-3.8-4.7-1-2.9zM1391.8 559l3.8-1.4 1.9 2.9-2.8 2.4-2.9-1.5zM1478 548.1l3.2-.9 4.8-2.9 3.4-4-1.5 0-3.8 3.4-3.8 2.5zM1421.3 559l3.8-1.8 5.7.2-4.7.8-3.8 1.9zM1341.4 645.5l3.8.2 0 4.2-1.9 1.3-2.3-2.3zM1336.3 652.7l1.3 2.9 1.5 4.7-.6 1.9-1.9-4.7zM1345.2 664.5l1.3 3.4 .6 4.8-1-1.9-.5-3.8zM1105.4 557.1l5.8-2.3 4.7.4 3.4 2-4.3.4-4.8-.5zM1113.4 566.2l2.5 0 1-3.8 1.9-3.4-2.9 0-2.3 3.4zM1120.7 558.6l4.7 0 2.9 2.3-3.8 3-2.9-1.5 .4-2.5zM1122 566.6l4.4.3 3.8-2.1-2.9.2-3.8 1.2zM1128.8 563.7l5.2-.2 1.3-1.3-3.2.4zM1092.1 543.7l2.9 0 1.9 5.4-1 .9-2.8-2.8zM1046.5 520.5l5.7-1.9 3.8 1.4-2.9 2.4-4.7 0zM1057.9 530l5.7-2.2 7.6-1.2-2.9 1.9-5.7 1.5zM1068.3 534.4l4.8-1.1 5.7.2-5.7.5zM1338.5 532l3.8-1 .6-1.5-3.4-.4-1.9.9zM1346.1 530l2.9-.5 0-2.3-2.9 0zM1306.2 621.3l2.5-1.1-.6 1.7zM1147.3 675.5l1.9 1.5-.6-1.1z"/>
<path class="tx" d="M1103.3 543.7l1.5-.5 1.8-.1-.4 2 1.9.3 .3 2.4m-79.6-28l1.9-.3 3.3 1.5-1.3 2.1 .5 1.9 .7 1.1m35.6 6.9l-1.5-2.5-2.2-.5-3.2.1 .4 2.6-3.3 2.1m77.3 19.3l1.8-2.2-2-1.8-1.9 1.1 0 2.3 1.1 2m-42.1-26.3l1-2.3-3.9.8-2.1-1.1-1.6.1-2.1-.2m53.5 28.7l2-2.6 2.1 1.4 3.6 1.5 2.8-2.2-3.1 2.3m-50.6-22.7l2.5 1 1.5 2-3 1.4-1-2.9-4.2-.3m51.9 8.3l2.5-1.7 .7 1.1-1.6.9-1.7 0 1.2-1.1m-118.7-22.6l-1.6-1.2-.2-1.8 4.2.1 .7-1.3 2-.8m117.2 39.6l-1.7-1.9 2.7-1.2 .2 2.2 3.5-1.6 .3-1.6m-13.7-13.9l-1.2 1.3 3.3 2.2 2.9-2-2.2-2.1 1.7-1.8m-82.5-5.4l3.9 1.5-.4-3.1 1.2-1.3 2.1.2 .4 2.4m26.3 2.3l-3.6.1 1.2 2.6 2.9.4-.1 2.8-2.8 2m39.8 15.5l3.2 2 1.6-.8-2.1-2.8-2.4-.7-1.9-.3m33.3-10.2l-2.4-1-1.5-2-2.3 1.2 2.5 1.2 2.8 1.1m-19.5 12.2l-2.2 1.6-3.2.2-3.8.8-.4-2.3 1.9-.9m3.6-15.7l-.2 3-1 2.3-.8 2.1 1.6 1.7 2 1.6m-79.7-13.2l.9-1.2 2.5 1-1.7 1-1.5-2.2-4.3.3m-11.9-6.5l-3.6-1.6-.2 1.6 2.7-.7 4.4-.9-.4-1.4m39.3 12.7l1.8-1.2-.3-1.1-1.3-1.8 2.6.2 2.8-.9m-65.3-7.9l2.9-.2-1.2-2.7 1.3-1-2.9-1-1.7.4m117.6 38.2l-3.9.9-2.6.2-4.1 1.1-1.6-.8-1.9-.8m7.7-10.6l-.4-1.8 2.2.6-3.1 1.5-1.5 1.1-3.3 2m-93.3-29.1l-3.7-1.2-1.9-1.7-4.6-.3-2.9-2-.5-1.2m110.2 33.7l2.9 2.1 2.4-1.8 2.3.2 1.5 1.7-2.4 1.2m-47.2-15.4l.4-1 1.8-.3 1.6.2-1.6 1.3-3.2-.7m9.3-11.5l1.5 2.8-1.8-2.6-2.9 1.4 .3 2.8-3.1.1m2.2-8.6l3.3-.4-1.3-2.4-2.1-.5 1.4-.9 1.9-.2m47.3 17.8l-.8 2.5-.4 1.1 3.3 1.3 2.8 1.1 1.7-.3m-21.7 9.2l3.2 1.4-1.1 2.5 3-.4 2.9.5 3.4-1.3m-84.9-26.5l-1-.9 2.3-.4 1.9-2.2-.6-1.7-.9-1.9m28 30.1l-1.5-1.9-1.2 1.1 2.3-.3-1.1-2 1.5.2m6.5-5.9l2.4-.6 3.7 1.4-3.5 1.1 .7 1.3 2.9-1.7m56.2 6.3l-1.4-3.1-1.7-1.4-.9-1.6 1.9.1 .3-1.7m6.9 9.6l-.3-1.4 1.8-2.9-3.9-.8-4.2.9 2 1.7m-28.2 12.2l-1.7 0 .5 1.3-4.5-.7-1-2.4 1.8-1.9m33.2-18l-4.6.1-1.9-.2-.1-1.3 1.2-1 2.2.4m-48-16.9l-1 1.8-.8 1.8-1.4.7-4.2-1.2 1.4-2m15.2.1l2.1-.6 3 .2-1.4-2.7-1.5.4 .3-2.5m38 24.1l.2-1.9-4 .6 1 3.1-1.5.8-2.1-1.6m-13.6-.3l.6-2.7 4.2-.8 1.5-1.3 1.8 1.1 3.6.3m-82.2 3.3l4-1.1 2.2-.4 3 2.3 2.5-.1-1.4 1.9m-17-12.6l-.2 1.1-2.1 1.4 0 1.4 3.7.8 2.1.3m105 12.2l-1.6 1.1 1 1.6 2.1-1.5-4.4.6-.6-1.9m-2.4-.7l-3.8-.2 1.9-2.1 2.3-.9 2 .4-1.8 1m-123.5-29l.2 1.1 .1 1.9 2.1-.5 4.1.9-2 1.4m-13.9-2.7l-3.9-1.3 2.3-.4 3.5 1.2 .7-2.4-1.6.2m55 23.4l-1.1 2.7 2.8 2 3.2-.9 2.4.6 2.2 2.2m39.6 5.3l-.2 2.3-3.4 2.1 3.4 2.1-.3 1.2-2.9-.8m-10-.7l-1.1 2.1 2.3-.2-2.7-.5-3.4-.8 3.7 1.8m-11.2-41.7l-2 1.5-3.9-.7 .3 1.3 1.9 2-1.7 1.5m-44.6 10.5l-1.5-.4-1.6-2.3 2-1 3.2 1.7 1.6.5m102.6 15.4l-2.8-.4-.8 3.1-1.5 1.1-.6-1.9-2.8.1m-2.2-9.2l1.4 2 3.9 1.4-2.3 1.8-3 .6-.7-1.6m-54.3-26.8l3.2-1.6-2-.7 1.7.3-2.5 2.3-1.9-.7m-17 20.2l1.7-1.1-.8-2.9 3.2.6 1.1-.9-1.4-.9m30.8 15.5l-2.9-.3-2.4 1.1-1.6.3-2.1 1.5-3.7-.9m36-9.1l.9-1.1 2.4 1.2-2.2 1.3-1.2.8-.4 1.2m-41.6.5l-1.4 2.7 3.7-.7-.2-1.4-2.5 1.2 3.9 1.5m-55-23.2l-1.9 1.3 .7 1.3 2.1-.8-.7-1.3-1.5-2.9m53.1 25.2l.9 1.3 2.6-1.8-1.6-.8-1.6.7-2.6 1.7m-19.9-28l-3.3 1.9-2.3-2.8-2.5-.8-1.6 1.2 3.3.3m6.5 5.4l.8-2.6 3.3 1.7-.5 2.4 3-.9 1.1-1.6m-39.8 8.3l-4.1-1.1 .9-1.4-.4-1.1 2.5.6-1.3 1.6m13.8 2.9l-2.6-1.6-1.3-1-1.1 1.4-1.6-.6-4.2.4m95.7 10.2l3.1 1.2 2.6.4 2.6-.9-2.6-1.8 1.4-2.9m-117.3-14.2l4.3-1 .6 1.5 2.2 1.5 4 .5-.1 1.7m89 33.2l-2.2-1.9-.9 1.4 1.5.4 3.6-.9 2.7-2.4m-12.3-43.7l-1 2.4 2.8.5-1.3-1 .8 1.3-1.6-.1m-45.7 4.7l1.5-.7-2.6-2.4-1 1.1-1.8-.4 2.8-2.1m69.4 13.4l2.1.8-1.2 1 .9 1.4-1 1.8-1.4-1.3m-80-7.7l.3-3.1 .1-2.9-.8-1-.3-2-2.5-.5m-6.8 2.4l-.8-1.3 2.1.3 2.7-2.5 1 2 1.1 2.6m13.8.4l-2.2.7-2.6-1.8-1.3-1-1.7-.2-1.9 2.2m76.6 10l-.6-1.9-1.7.5 .8 1-1.7 1.1 2.6 1.2m-61.4-14.3l.8-2.2-2.4.5 1 1.2 .9 2.7 1.1 1.1m11.2-3.4l2.4-.2 2.1-2.5 1.8.7 0 1.7 .1 1.4m-61.3-4.8l4.6-.5 2.2 1.2-2.5.8 .7 2.5 .6 2.4m70.8 20.6l2.9-.3 3.5.3 2.3.6-2.8 1.7-.6 1.6m-32.7-6.3l-3.4.8 1.3 1.2 3.9.5 2.4 1.4 .3-1.1m28.3-21l-4.3-.8-.1-2.5 1.6-2.4 4 1.6 .7 1m-35.2 9.5l.9-1.5-2.8-2.4-1.6-1.1-2.3 1-1.5-.9m28.9 27.8l2.2 1.8 3.6-1.4 2.2-.6 1.6-.8-1.2-1.6m35.5.6l.8-1.9 1.6.1 1.5-1.3 2.4.4 2.7.7m-83.3-30.1l-4 .8 1.9 2.4-3.6 1.3-.8 1-2.1-2.8m53.3 30.2l1.3 1.3 2.5-.5 1.4 2.8 2.1 0-.7-2.4m12.5-21.5l-1.4 2.8-.2 1.6-1.9.5-1.6.3-2 .2m-37.1 2.9l.4 1 3-.4 3.2-1.2-.1 1.3 1.8 2.1m-5.3-2.2l-3.4 1.1-1.5 1.6 2.3.9 2.5 1.4 1.9-.8m-13.3-1.2l.5 1.7 2.8-.1 2.3-.2 4.6-.4 2.7-2m-33.6-6.9l.8 1 4.3.2 1.7-.2 1.1.8-2.2 2.6m-18.9-8.3l-1.2 1-1.4-.6-3.4 2-.5 1.8 3.7.9m56 14.7l0-1.7 1.1-2.4-1.7.1-1.6.3-.8-2.7m5-25.6l3.7 1.9 2 1.3-2.8 1.5-1.6-.8 1.4-.5m13.8 35.2l-1.8 2.7-1.4-.6 3.7 1.4 1.5-.7 1.7-2.3m1.4 4.9l3-2 1.1 1.6-2.5-1-1.9.4-3-1.6m20.1-13l3.8 1.1 2.5-.1 4.2.7 2.5 1.8 4.1 1m-20.2-2.1l1.5 1.7 3.2 1.7 .9-1-3.3-1.7-1.8 2m-81.7-30.3l4 1.2 .9 1.1 2.7 2.1-2.2 2.2 2.2.4m-10.5-2.1l.2 1.3 3.8.3 .9 2.3 3.9-1.3 2.6-1m39.5 25.7l3.7.5 2.3 1.6 1 2 1.6.7 4 0m-78.5-24.6l-1-.9 4.5-.6-.7-2.1-1.2-1.4-2.8.4m62.3-8.7l.6 3-3.4-.5-1.5-.8-.5 1.6 .3 2.4m-20.5 14.8l-4.6-.3-.5-1.1 2-1.3-3.6-1.7-1.1.9m51 10.7l.2 1.3-1.4 1.3-2.3-1.4 1.3-1.3 3 1.5m-52.2-26.8l-1.8.6-1.2-.9-3.2.3-.6-2.9 2.2-1.2m80.7 27.8l1.4-1.5-1.8-.4 .3 1.1 3.4-.8 1.8 1.6m-88.8-27.2l-2.6 2.1-2 .3 1.8-2.6-.3 1.5 .2 1.4m-13.8 3.4l-1.7 0 .8-2.3 .6-1.6 3.5-.1 2.4-2.2m55.8 33.7l.3-1.9-1.2-.8-2.1 1.1 2.3 2.4 .8 1m49.7-15.1l-.6 1.4 2.5.7-.7 1.8 .2 1.1 .6 1.9m-8.8.7l-2.7 1.9-1.8-2.7-2 1.7-1.9 1.7-.8 1m-84.5-27.7l0 2.6-1.6.2-2.6 1.4-2.7 1.8-2.3-2.5m80.3 33.9l2.3-1.4 1.8.3 1.6.8 1.2-2.5 4 .6m22.6-14.4l-1.7 1.8-3.8 1.6 .5 1.8-2.2 1-4.3 1m-34.9-6l.4-2-3.9-.6 .6 2.4 4.2.2-.1-1.1m.2 5.8l-3.2.3 1.4 2.2-2 1.7-3.7 1.8-2.3-.6m10.7 1.7l2.7 1.1 0 2.1-.1-1.6 3.2.4 .9-2.3m-74.7-28.3l-3.4-.1-2.5-.3-.5-1.5-.9-1.8-1-.8m31.4-2.9l-.5-2.1-2.1-.1 1.9-1.4 3.9 1.6 1.7-.7m20.2 8.7l2.7.9 2.7-1.8-1.7-.7-.7 1 1.4 2.1m-19.6-3.7l2.6.6 2.6 1.1 2.2-.8 3.2.1 2.2.9m-.3 14.6l1.9-.4 2.7-1.4 1.6 2.9-1.6 2.6 4.1 1.4m-9.1-28.2l1.5 3 1.2 2.1 2.5.6 1.9 2-.3 3.1m-21.5 6.6l2.5 2.7 1.4 1.7 4 1.6 1.2 2 2-.2m53.7-5.4l-2.8-1.7-3.6 2.1 2.2 1.3-1.6 1.3-1.8 1.7m-55.6-18.1l-1.4-.4-1.4-2.7-2.3-1.9 1.8-1.7-2.3 2.8m30.5 22.2l2.8 1.8-1.4.8-2.3-1.5-2.7 1.4 .7 1.1m-82.7-21l1.9-.1-.8-2.2 1.2-1.9 1.3-.7-2.3-1.6m91.2 31.7l-2.3-2.4 .9-2.9-2.3-.6-4.5.1-4.5.2m27.7 7l-2.7.9 .3 1.6-2.5.5-2.2-2.7 1.4-2.1m-45-7l1.3 2.7-.7 1.5 3-1.6 .9 1.6 1.9-.5m2.4-24.7l-2.4.7-.5 1.9 2.1-.4-1.9-1.7 1.4-1.8m-46.2 7.6l-3.3.6-2.2-.6-2.2.3 .5 1.3 1.6-.9m115.2 18l-2.6-1.5-.8-2.1 1.1-.9 2.2-.2 .1 2.6m-28.6.6l-3.6.4-2.4-2.4 3.7 1.6 3.3-1.2 .1 1.2m-4.9 8.7l2.9 1.7-.6 1.9 1.5 1.5 1.5.5 4.5.2m-29.1-42.1l-.6-1.1-1.1 1.4 .7-1.6 3.5.8 2.1-.6m-45.7 21.1l0 1.9 1-1.7-2.7-1.2-1.7.7 2.6.4m35.4 7.3l1 .8 .9-2.6 3.3 1.3-.1-2.3 3 .2m16.1-25.1l-2.3-.2 2.4-.2 1 2.4 4.3-.7-2.2-.9m-42.7 18.2l-1.8.9-.6-2.2-2.8-2.1-4.4.3 1.4 1.9m-2.3-.3l.5-1.3 2.1-2.8 1.3.8 1.2 1.2 1.5 0m67.6 9.7l-2.5-1.3-1.4-1.5-1.1-2.4 2.9-.3 2.4-.7m-70.8 4.5l-.2-2.9-3.8 1.6-1.9 2.5-2.4-1.8-2.3-.7m48.3-22.6l-2.2.9-4.2-.5 1.3-1.2-3.1.4-2.6.7m59.3 19.3l-1.6-1.2-1.5.6-1.2 2.1 2.2 2.2-4.1 1.5m-19.4 16.5l0 1.4 2.9-1-.2-1.4-1.7-.3-.5-1.8m22.4-19.3l.9-1.3 3.2 1.9-1.9 1.3 1.1 3 1.6.3m-54.1-16.8l-3.1-1.4 .1-1.4 1.3-2.8-.1-1.3 1.6.6m38.5 36.2l-3.1-1.4-.8-1.2-2.8 1.2-.8 2.7 1.6-.2m-39.6-34.4l-2.1-.2-1.2 2.4-2.1 1.4-3.1-1.9-1.5-2.8m69.7 14.9l1 1.7 .8 2.2-.6 1.8-2.2-1.8 0-1.1m-32.9 12.5l-.4-1.6-1.4-2-2.9 2.5-1.3-2.1-4.2.1m25.9-14.4l-2.4.4-.1 3 3.5-.9 3.3 1.4 2.7-1.1m-28.2 10.9l-1.7-.1-1.8-1.3-.7 2.1-1.6 1.1-2.4-.8m44.1-5.9l-2.5-.1-.1-1.2 1.8-1.2 2 2.7 1.3.8m-107.9-7.2l3 1.8 4.1-1.1 1.9 1-1.9.5-3.1-1.4m-.7-1.9l2.1.3 3.1-2.3 .5-1.2-3.7-1.4-.7-1.3m18-1.2l-3.2 1.2-1.7-.2-1.4-.6-2.6-.1-3.4 0m1.6 13.6l-1.2-2.2-1 1 2-.4-1.1-1.8-1.7-2m55.5 11.8l-3.4 1.1 .2 2.7-2.9 1.9 2.9.6 1 2.1m10.4-29.9l-.6 1.5-2.5-2.5 1.3-.8 3.5.3-2.3-2.5m-82.8 6l1.4-1.7-1.5-.6-2.8-.4 .3 3.1 1.3 1.3m15.9-3l-4.7 0-1-2.1 3.8-1.1-1-1.5-4.1-.1m49.9-1.6l-4.2.2-4 1 1 .9-4 1.5 .4-3m-40.1 6.9l2.4 1.9-2.3.9 2.6 1.9 3-2.5 .8 1.5m74.9 24.9l-.2 1.3-2 1.6 2.4.7 2.3-.4 1 1.5m-30.4-17.4l-1.6-.2-2.9 1.3-2.4 1.6 .2 3.2 3.7-.3m-13.7-1.2l-.9-1.2-.7.9-1.4-1.6 1.3-1.2 3.1 1.9m-12.8-14.7l-4-1.5 3.5-1.2-1.3-1.9-3.4-2.2 1.1-2.3m67.9 22.1l-2.1 1.6-.7 2.5-3 1.3-1.6 1.1-.7 1.5m33.3-12.6l-.3 2.1-1.9.3 1.7 1.9 2 1.7 2-.8m-115.6-22.1l-3.9 1 2.2 2.5-2.7.2-.1 2.8-2-.1m34.5-5.5l-1.8-.1-4-1.6-2.8.6-3.9.6-.4 1.4m37.9 26.5l-.2-1.9 1.9.7 1.7.3-.1 2.6-1.8-.2m16.1-31.6l2.3-2.2 .4-1.9 2.5 1.1 .4-2.5-3.7.4m-42.1 14.4l3.8-.4 3 .7 4.1 1.1 1.1-.8 1.2-1.9m.5-7.1l-3.4-1.8-1.9-1.7 1.5 1.7-3.7.2-3.7 1m58 35.6l3.6 1.3-1.1 1 1.6-2.4 .8-1-.9-1.9m-82.4-32.9l-2.6.7 0-1.7-4 .1 .1 1.6-1.6.4m51 22.4l-3.2-.6-2.6-2.1 2.5-2.5 .6-1.1-2.4-.5m-34.9-13.7l-3.8-1-2.9 0 1 1.9 1.6-.5 3.4-.4m-33.5-3.2l1.3-1.1-3-.9-1.9 1.7 .4 2.5-1.5 1m124.8 31.6l-1.2-3 .3-2.5 4-1.2 .7-1.3 2.8 1.7m-127.8-27.2l2.6-1.5 3.3.3-.4 3-3.1 1.9-2.8-2m91.6 28l-.2-2.1-2.6-.9-1.8.4 .3 1.3 4.2-1.4m16.7-10.6l3 1-1.2 1-2.5 2.6 2.8 2.4 1.6.2m-67.2-4.9l-1.8-.7-1.8 1.2-1.3-2.1 3.1-.5 .3-2.3m49.3 19.8l-2.7-.3-1.7.8-2.8-2.4 .2-2.9-3 0m-13-14.8l1.7-.8 2.2.6-4.3 1-3.8.7-3.1 1.4m-33.3-13.2l1.7 0 2.7 1.2 .4 2.9-3.3-.3-.8-2.3m16.5-4.5l.1 1.1 2.5-.8 1.9 0 1.6 2.4 1.9.5m12.9 12l3.6-1.1 1.2-1.2 0-2.9-1.7-.4-2.2 1.1m-49.2-18.2l1.1 1.1 4-1.4-2.1 2.4 2.2.8 .1-2.2m8.4 5.5l2.9-.3 1.6 1.8 2.6-1.7-.3-1.9-3.9-.6m84.4 23.6l1.4-2.7 3-1.1-1.6-2.5 3 .4-1.3.9m-6.5 4.4l-2.3.8-1.9-1.3-2.6 1.6-1.7-.2-1.4-2.4m-46.5-10.2l-3.5.6 .7-2.8 2.4.1-1.1-1.7 3-2.1m24.1-5.4l-3.5-1.9-1.8-.7-1.5-.4-1.1 1.4-1.7.5m16.9 42.9l-3.1-.3-2.1-1.3-3.8.2 3.3-.3m16.8 3l3.6-1.1-1-1-2.4-1.2 2-.9m-63.3-12.2l.1 2.1 3.2.5 3 1.8 3.1-.5m68.7 8.4l-2.2.1 .7-1.4 3.1-1.8-1.8-.5m-111.2-17.8l-3.8-.7 2.7-1.4 .4-1.7-1.6-.4m116.9 26.6l2.4-.4-.4 1.7 3.5-.8-2.9-1.5m-38.8.8l2.5.4 3.5-.1-1.5 2.3-1.6-.8m-82.7-22.5l2.5-.3 .5 1.6 1.6-1.1-1.6-.2m-5.3-2.7l.8 1.3 2.1.2-1 1.1-.7-1.4m-.1-2.7l4-.4-3 1.5-.8-.8 1.8-1.6m91.6 28.9l-2.6-1.3-1.9.5 .7-2.6-.4-1.1m30.2-2.2l-2.6 1 .5 1.1-2.8-.2-1.3-1.5m-113.1-18.7l.4 1.1 1.4.9 .9.9 1.4-1.7m105.7 22.3l.5-2.4 3 .3-1.5-2.2 1.6.2m-101.4-15l-2 1.2 3.1.8 2.3-2.1-2.4-1.5m100.8 18.2l2.7 1.3-.3 1.5-1.6 1.1-1.4-1.6m-102.4-23.2l-1.9-.9-3.6-1.2-1.8 2.4 1.6-.1m94.2 20.7l2.4.4 2.2-1-.1-1.1-2.1.6m6 5.9l-.4-2-1.3-.9 1.1-.8-2.4-.3m-105.9-22.6l1.5-1.6 1.6.9 1.8-.8 1.9-.1m42.4 17.4l1.9-2.2 1.4.1 1.5.5 2.8 1.2m-28-2.1l-1-1-1.6.8-.7-1.4-2.4-.7m46.5 9l-2.8 1-1.6-2.2 3 .1-.3-1.1m-38.8-5.6l1.2 1.6 1.5-1.8 3.6.4-.4-2.7m5.9 4.7l-1.4-.2-1.2-.9-1.1.6-3.3-.1m82.2 11.9l-2.9-1.6-3.7 0 .9 1.3 1.7-1.3m-107.2-26.1l.2 1.5-2.9 1.9 1.8 1.2 2.9 1.5m15.3 1.1l-.9.9 1.2 1.9 1 2.1 1.4 0m77.8 9.9l0 1.4-1.5 2.5 1.9.3 1.6-1.2m-52.6-9l-3.2-.4-1.7-.5-1.2-.5-1.7.4m32.2 8.2l3.2-.6 1.1.7-1.8.3-.6.8m-10.8-5.2l-1.7-.8 2.2 1.5 2.1-.1 1.4.2m-53.1-12.8l-1.9.3-.1 2.5-2.9-.5 .1-2.3m18.8 8.7l-1.8-.1-1.2-2.2-3.2.4 1.4-2m73.6 14.1l2.7.1 1.3 2.1-2-2.4-1.9 1.6m-98.4-29.6l-1.5 1.4-.3 1.5-.2 1.1-.9.9m36.4 11.7l1.2.8-1-1.4 1.2-1.1-1.8-.9m11.8 6.3l1.6-.9-1.9-1-3.8-.3-1 1.3m15.9 1.3l3.7.3 .5 1.6-1.3.7-1.4-.1m43.9 1.1l.4 2.4-2.4.6-3.6-.2 .8 1.4m-8.6-.9l-2.5 1.1-3.2.6 1.8-2-1.4-.9m-29.6-7l1.9-.1 1.5 1.1 1.9-.3 2.5-.7m23.5 7.6l-3.5 1.2 1.9 1.4 2.2-2.2-2.7-.3m-67.8-15.8l0 2.1-2.4-.8 .8-.8 3.3-.4m78.8 12.6l1.5.9 3.1.7 2.4-1.5 1-.8m-65.6-7.9l1.2-1.6-2.6 0 1 1.7-2.4 1.2m-29.5-7.7l1.9 1 1.3 1.3 2.4.2 .5-2.5m37.6 8.7l-1.6-1.9-3.9 0 2.8-.7 3.2 1.4m52.7 14.3l-1-1.7 .8-2.6 2.2-1.2-2.6-1.2m-42.5-3.2l-3.4-.5-.7-1.6 1.9.5 1.6 2.3m-41.6-12.2l.5 1 1.8-.2 .7.9-1.7 2m100.1 15.7l-2-1.9-3.6-1.3 1.2-.6 .8.8m-95.1-13.8l2.4 0-1.3-1.5-3.8 1.1-.4 1.2m23.9 6.1l1.3-2.5 .2-1.2 2.4-.1-.7 2.2m-13.1-5.4l-1.5.5 2.4 1.7-2.4 1.7-3.8.6m-18-9.8l1.5.3 .7-1.7-1.3-1-3.1.3m86.7 20.2l-.5 2.6-2.2 2.3-3.2 0 1.6-2.6m-74.4-15.9l1.1-2.4 1.9 1.3-3.2 1.3 .9.8m90.4 15.7l.8-1.5 3.7.9 3.2 1-3 0m-14.1-4l-1.4 2.5 1.7.1 2.2-1.3 1.7-.3m-37.7-2.2l-2.8-1.3-1.8-.3-.2 1.7 3.8-1.1m-46-9.1l2.2 1.2 0 1-2-1.4-2-.6m10.5 2.2l-1.9-1.8-3.8-.3 1.5 2 1.3.1m44.2 5.9l2.6 1.3-2.9 1.5 1.5.4 1.6-.9m-50-15.3l-3.6-.8-.4-1.2 .6 1.2 .9 1.9m44.6 9.8l-1.9.2-2.3 2 1.8 0-.5 1m-19.6-7.2l.1 1.3-1.6 1 2.7 1.3 1.2.9m-22.6-8.1l2.1-.6 .7 2.2 2.6.8-.9 2.1m-13.7-6.5l1.5 1 2 0 2.9.9 1.3.9m87.3 15.7l3-.1 1.1-1.4-.7-1.5-2.1-.5m-11.4-61.8l-3.8-2.1-2 .5-4-.7 1.4-.8 4.8-.3m-38.6 16.8l.6 1.8 3-1.4 2.7 0-2.5.3 2.9.5m11.4-7.2l-.4 2 4.6.2 .1-2.2 0 1.6 1.3 1.4m24.1 8.2l-2.7-1.3-1.8-2.3-.6-1.2-3.8-.7 .1 1.9m25.2 9l-1.9 1.5-1.1-1.8-3.3-1.4-1.9-.7 .5-1.9m6.8 8.7l1.6 3.1 4.2-1-.3-1.9-3.3-.5 .6 1.3m-36-26.1l2.2 1.5 1.8-.8 3.7 1.5 2.3-.7-.4 1.4m-32.7 7.3l-2.9-.3 1.4 1.1-.6-1.5 .3 3.2-.2-1.6m-18.8-6.1l4 0-2.3.1 3.5.6m63.4 14.4l4.2 1.5 1.2 1.5-.9 2.9 1.5 1.9-1.8.7m-70.8-23.2l-.2 1.4 1.5-1.3-3.2 0-4.7.1-2 1m69.2 11.3l2.1-2.5 3.2 1.2 1.8-.7 1.4 1-.6 1.3m-65.6-6.2l-3.8 1.3-.8-1.6 2.8.5-1.7 2.6 3.8 2.4m54.5-3.3l1.7 1.5-3.2-.4 0-2.2-3.1.4-2.4 1.9m19.9 11.4l3.2-1.6-1.9-2 2.4-.9 .5-3 .1 1.3m-11.1 4.8l1.3-1.8 3 .5 3 .6-1.2 2.3-1.3-1.5m-24.2-27.3l-2.4.8-.6-1.2-.3-3.3 3-.8-1.8 0m35.4 32l-1.7-.4-1.4-1.1-1-1 2-1 .7 1.3m-5.9 2.5l1.2-2.5-1.6-1.4-1.5-1.3-.9-1.8-1.9-1.4m-65.8-12.2l3.4.6m47.1-4.3l-3.2 1.2-.7-3-2.4 1.6 1.6 1.4 4.1-.5m22.6 17.3l.3 1.9-2 2.8 4.1 1.6 2.3-.4 1 2.5m-85.7-11.1l-2.8-.4 .6-1.1 1.8-1.7 1.6 3-.3 1.2m43.4-7.3l3.7 1.2 4.5.8-.7 2.4-1.9-2.2-3.9.6m.4-18.7l1.8 1.5 1.6-1.7 2.1 1.3 4.9-.5 2.8-2m-3.1 2.5l2.4 1.7 .2 3.5 2.6-1.4-1.4-2.5 4.4-1.7m-53.6 15.7l-3.5-.1 .7 2-1.9-.5 2.1-1.7 1.4 1.1m36.5-15.3l.9-1.1-3.7-1.2-2.7-.1-1.8 2.4-3.4.9m26-4.6l-3.1 1.7-2.8 2.1 1.7.4 1.9 3-4.4.2m4 9.3l-3.7-.2 1.4 2.9 1.9-1.2-2.2.5-3.5 1.8m33.8 15.6l-.5-3.4 4.6-.6-2.1 1.4-1.6-1 .1-2.9m-14.3-1l1.4-1.5 1.7 3.1 2-.3 .8-3-1.9-2.9m-2.4-22.2l-3.8-1-1.5 2.4-2.5.3-2.1.5 1.8 3.1m1.5.6l-1.3 1.1-1.8-1.3-4.8-.2-2.9-1 2.4-1.2m.7 1.9l-1.1 1.3-2.3 1.1-3.9-1.2 .2-1.9 4-1.7m-6 14l-2.3 3 3.5-1.8 2.1 1.7 .9-2.3 3.3-2.3m4.7-15.2l-3.5.4-2.3-1.6-1.2 3.3 1.8 3.1-.1 3.6m14.8 12.1l-3 2.2-3.6-1.7 3.8-2.4-4.7-.6 .7 2.6m-83.2-5.6l2.4-.2-.5 1.5-3.6 1.8 .5-1.3 3.6 0m-5.4-.6l4.4.7-3.5 1.1 2.6.1 .2-1.2 1.9-3m15.3 2.9l2 2.4 3.9-.3 4.2.5 2-1-2.8.2m70.5-19.5l-4-.8-2.6 0 2 3.2-2.8-.3-1.4-1.3m10.7 24.5l2.8.7-1 1.5-3.8 0-2.7-.4-4.4-.4m7.6 7.7l-3.6.2-.9-1.1 .9-1.3 3.2 1 2-3m-1.1-2.2l1.3 1.2 3.6-1.8-1.9-.7-3.1 2-4.1-.1m-46.1-23.9l3.7-.2-1.7-.8-.4 1.5 3.2.2 .4 1.2m21.9 1.3l.1-2.6-2.1-.6-2.2-2.8-4.9.9-.4-1.7m-6.7-.5l.1 2.6-1.2-2 .1 2.9-1.5 2 1.4-2.9m37.2-.2l2.2-3.2 2.2 2.5-4.4.7 1.3-2.5 3.2 1.3m-69.1 17.1l-3.6 1.6-4.9-.6 .7 1.9 1.4 1.1-1.9.3m43.5-21.8l-2.3-.3-1.1 1.5-2.1-.9-1.2 2.2-3.2 2.1m46.2 20.1l.9 2.8 .3 2.5-2.3.5-3.8-1-1.7-.3m-18.6-11.4l2 1 2.5-1.8 2.6-.1 1.7 1.4 .1 3.1m-30.8-18.4l-2.5.4 5.1-.5 .4-2.1-2.7 0-2.7.3m14.5 8.2l-1.1-3.3 2.4-.1-4.3.3 3.5-1.1-.2-1.5m6.5.4l2-2.4 2.2-.3 1 2-2.9.6-3.2 1.2m30.5-3.7l-.1-2.5 4.8-.1 1.5 1.1 .8-2.3-3.1-.2m-19.7 25.2l3.5 2.6 .6 3.1 4.1 1.9-1.5.7-3.7-1.7m-9.4-10.1l-2.3-3.1-4 .4-3.2-2-2.8 2.1-3 1.4m40.8 16.1l-3.1-2.4-2.7-1.3-.5-2.6 2.6-3.1-4.2-.3m-8.2 7.1l2.1-.2 5 .9 1.7-3.3 2.5 0-1.3 1.6m-102.3-16.2l1.8 1.9 1.1 1.8-3.4-.2 3.3-2.3 4.3-.2m233.9 22.3l.7-1.3 3.9-1.3 .7 1.7 1.9-1.7-2.2-.3m12.7-3l-3.7-1.5-.5 2.8-3.7.9 .5-1.8 .7 1.1m36.3 4.5l-.3-2.1 2.3-1.3-3.5-.8-3.6 1.1-3.1 0m-11.3-3.8l1.5-.6 .3-1.3 3.6-1-1.6-2.6 1.3-.5m18.4 5.8l2.7-.4 1.8 1.9 .4-1.2-3.4 1.2-1.1-.9m-9.1 3.5l-2.4 2 .2 1.8-3.3 0 .8-1.9 .3-2.8m-16.1 7.5l-1.3 1.5 1.6 0-.7-1.1-2.6-.5 .4 1.7m22.6-10.7l-1.5-.3-.5-1.6-2.8.6 .4-1.6-1.3-2.5m-10 5.9l-3.2-2.1-2 2.5 1.8 2.2-1.3.5-2.3 0m-18.4 2.1l4.2-.8-1.9-2.4 2.7.2-.9 2.5 3.4 1.1m48.8-14.5l1.5 0 3.2.3-2.3.6-4.2-1-2.9-.3m-4.9 9.2l-1.6 1.6 1.6 2.2 2-1-1.9-2.1-2.1-1.2m-39.4 6.5l1.2 2.3 3.3.5 1.8.8 2.6.5 .5 1.3m2-11.1l2.7 1 3.5 1.6-2-2.2 1.6-.6 .9 2m-24.4 5.4l.7-1 2.2 0 2 1.2 .6 1.7-3.8-.9m48.5-7.7l1.7 2.6 .4 1.4 4.2-.1-.7-1.7-2.5-1.7m-10.6-4.1l1.3-.5-1.5-2.6-1.4.7 .4 1.3-.9 1.3m17.9-5.9l0 2.9-2.6-.1 1-2.6 1.9.1 1.6 2.1m-17.1 6l2-.3 1.9-.4 1.3.9-2.2.8 2 2m-42.7 5.7l-1.2.7-1.5-1.9-1.3-.7 1.9 1.3 3.2 1.6m60.6-16.7l-1.3 2.2 0-2.7-3.3-.9-3.7 1.7 3.7.9m-45 1.7l.9 1.8-.4 1-1.3 2-1.7.4-1.6.2m-2.2 1l-1.8-1.7 4.1-1.1 2.1.9 .7 2.5 .6 2.7m-3.4-1.2l-1.8-2.7-.5-2.2-2.8 1.4-1.9 2.4-1.5.3m45.4.7l-4.2-.2-1.8-.9-1 1.3-2.9.2 1.1 1m-37-2.6l3.5 1.1-2.2 2.5-3.6 1-.7-1.2-.5-1.1m37.6-15.1l1.9-1.5 1.5 1.2 2-2.1 2.9.2-3.7-.5m-31.1 19.4l-.4-1.9-1.9.6 1 1.3-1.7.1 .5-1.8m25-5.7l1 .9-1.5 2.1 4.4-.1-.2-1.3-3.6-.5m-20.6 10.6l3.3-1.6 1.8 2.3 2.5-1.3 .6-.9 0-2.3m29.8-7.3l3 1.1-1.2.9-3.7-.8-2.5-.2 1.1 2.1m-33.1-4.5l.2 1.9 1.8 2.8 1.7.7 2.4.3-2.2-.1m14.7-4.6l2.4.2 3.3.8-.8 1.7 2.9 1.4 1.8.3m-29.7 3.4l2.2-1.6-2.8-.9-.6 1.9-.2 1.6 1.6-1.3m-1.5-10.1l.4 2.3 .1 1.1-.3 2.7 .5 1.1-4 .8m38.1-16.6l-1-.9 .2 2.9 1.6.4 1.6.5 1.8-.7m-30.2 5.3l-1 1.4-2.5 1.8-1.8-.5-3.1-1.1 1.7-1.1m37.2 9.6l3.6-1.3-.2-1.1-2.8-1.2-2.9-1.4-1.7-.7m-10-.1l-.7 1.7-.1 1.1-1 .8 4.1.3 1.7-.7m12.2-7.2l.4 1.5-.7-1-3.1 1.1-2.8.9 .9 1m-25.3-4.5l-2.2.3-1.8-2 .3-1.6 2.7-.8 .9 2.8m29 2.4l-1.1-.9-1.7 1.3-3.2 2-2.8-1.3 2.6-1.2m9.4-4l2.5-1.2 0 1.3-1.6 1.3-1.1.9-1.2-1.5m-12 9.2l.4 1.6 .9 1.9-1.8.4 3-2.1 2.8 2.1m-38.5 1.2l-2.2 1.2-2.6.5-2.2.5 1.5 1-.1-1.6m32.2-2.2l-.3-2.1 1.2-1 1.6.9-1.7 2.1 1.9-.5m-9.9-8.7l-1.3.8-4.3.4-3.1-1 2.4-2-2.1-1.1m4.5 5.6l1.8-.4 1.2-1.8-4.3-.1 .3 3 1.6 0m16.4 1.5l1.3-1.9 1.9-.2-.6-2.1-2.3.4-1.9.9m3.5-.5l2.9-.4 3.7-.8 1.1 1.2-1.1 2.6-3.4.2m.9-1.1l3.6-1.7 3.1-.2-1.2-2.1-4-.1-2.7-1.3m-36.1 3.4l-.9 1.3 .9 2.2 2.3-1.8 .9-.8-2.9-.4m45.7 2.1l1-1-3.5-.4-3.3.9 1.6 1.1 2.6.1m5.7-10.7l1.1 1.4 2 2.3-1.4.3-3.1-1.2-1.7-.5m-2.9 7.6l-1.6 1.3-2.2 2-1.8 1.1 .5-2-1.8-1.3m-3-1.5l-1.2-1.4-2.9-2.2 .8-1 1.9.4 .9-2m-42 12.5l-.5-1.6-.6-1.2 1.7-1.2 2.1.2 .3 2.4m26.1-15.7l-.4 2.5-3 1.1-2.9-.2-3.4.2-.7-2.7m-10.6 15l1-1.6-1.6 0 .9 1.3-3.7 0-.3-2.6m43.3-2.2l.6-1.3-4.2-.1-2.9.6-1-1.6 1.6-.9m-2.6 8.1l-1.5-1.8-1.9-.7-2.5.7-.7 2.2 2-.8m-23.4 3.1l1.3 2.7 2.2.3 1.5 0-1.1-2.2 2.9-.4m13-13l-2.9 1.1-.7-2.7-2.3.5-1.4 2.6 1.7.3m3.6-8.4l-.3 2.4-1.4 1.8-1 1.3-4 .1 0 2.5m22 3.1l-.6 1-2.5 2.4-2.7-.7 1.3-1.2-1.1-.8m13.1-8.9l-1.3 2.8-2.2 1.2 2.7 1 1.7-.4-.6 1.5m-6.3 7.6l.5-2.7-2.9-1-2.3.7-.8-1.6-3.1-.4m-30.9 7.2l1.1-.8 1.5-.8-1.3-.9-3.6.7-2.7-1m17-2.4l-3.6-1.3-1.9.5 2.9 1.5 3.3 1.6-2.3 1.6m34.2-14l-1.9-1.5-2-1.6-3.8-1.2 3.5 1.4-2.6 2.2m-26.2 21l0-1.1-1.7-.5-.8-1.1 1.7-.4-.4-2.8m1-15.6l.3 2.9-3.8 1.3 0 1.1-3.3-.6 .2 1.2m46.7-4.8l-2.6 1-.5-1.4 2.8.7-2.8.7 2.3.5m-35.6 6.7l-2.3 2-3.4.8 1.2 1.1-2.5 2.1-1.9.1m39.9-3.9l-1.7-2.2-3.4 1.7 .5 1.3-.5 1-2.5-.1m-35.5-3.4l.1-1.9 3.3-.9 1.5.4 1.6-2.3-2.2-.6m1.6-1l.2-1.6 .5-1.2 2 .2 .5 1 1 1m-9.4 15.5l1.7-1.1-1.9-.4 .8-1.8-1.5-.6-2.3 1.5m45-2.2l3.6-1.3 .3-1.4-1.1-.7-1.4-1.3-3.5.7m-27.8-1.2l-.9 1.9-2.2-1.5-1-1.6 .1-1.5 2.8-1.6m-306.8 5.7l-1.8.7 .1 1.8m-22 3.5l2.2-.3 1.1.3m5.4-4.9l2.5-.1 2.3-.5m-4.3-3.4l1.9.9 2.2-.6m-19.6 2l1.8 1.4-2.2.8m8.2-6l-1.8.6 .2.8m-2.1 8.2l1.8.4 2.3-1.1m-.1-8.7l1 .2-1 1.7m-14.8 5.6l-1 .2-.3-1.6m15.1 5.7l-2.3-1.3 1.2-.4m27.5-12.6l1.1-.9-2.3-.3m-23.7 6.4l-1-.3-2-1.5m1.2 2.3l2.4.3 1.9 1m-13.8-3.7l.5.9-.3-.8m19.6-4.7l2.2 1-2.2.9m1.6-.6l1.2 1.1 2.2.7m-2.3 5.2l-.9-.5 1.2-.6m-5.5-8.4l1.8-.4 1.4 1.1m-13.8 9.3l2.1 1.4 .6 1.9m26.6-5.6l-1.5-1.4-1.4-1.4m1.3.8l-.2.9-.3.7m-25.3 8.6l1.6-1.1 1.3.4m50.2 9.3l-1.6.5 .2-1.7 1.7 1.3 1.1 1.5m-7-7.2l-.8.7 .6-2.2 2 1-.4 1m-2 .6l-.7-1.2 .2 1.2-.9-1.4 2.7-.2m15.5 14.4l-1.1-.6-2.2.7-.9-1.7 1.1-1m-8.9-4.8l-1.5-1.9 1.4 1 .5-2.1-1.9.4m-8.4-7.1l2.8.6 .1-1.1-1.1 1.6 1 .7m5.8 3.5l.9 1.6 1.1 2.2-.8-2.5-1.4-1.3m-.9.6l1-1.1-1 1.8-1.1-2.2-.2-1.6m5.2 8.4l2.8 1.5-.1 1.4-.3-1.1 1.4-.6m-7.1-8l-.7-1.5-1.3-.6-3.4-.3 1.2-2.1m10.6 11.4l-1.5-.9-.5 1.5 2.2 1.9 2.4 1.1m-6.2-7.3l.8 1.6 .7 2 2 .4-.9-1.8m98.5 195.1l2.7 1 2.8-1 1.5-.1-.4-2.3m2.3 3.2l-1.5-1.3-1 1.8-1.4-1.1-2.4-.7m3.7 3.7l-.1-1.5-1.4 0 1.8 1.8 2.1 1.3m-3.6-10.4l.6 1.6-1.5.7 1.5 1.7 1 1.8m-.5-1l.4-1.4-3 .5-1.2-.4-1.1 1.7m-1.7-10.5l1.2.2 2.1-.4 1.4.4 .2 1.8m.4 13.3l-2.8.5-.4-.9-1.7-1.7 1.1-.5m11 10.5l1.5-.4 1.4 0-.6 1.4-.6-1.4m-10.4-7l-2.2.7-.7-1.9 1.5-.7 1.9.3m4.2 5.5l.2 1-.5 1.2 1.9.4 1.2.4m-6.7-13.2l-1.9-1.6-1.2-1.2 2.4-.6 0-1.1m-2.2 2.3l-1.1 1.4 3.4-.2 2 1.2 2.2.5m1.2.7l-.5 2.1 1.3 2.3-2 0-.3-2m2.2-.1l0 1-1.9 1.6 .9 1.7 1.5.5m104.9-252.9l-3.6 1.9-1.3 1.6-1.9-1.8-3.7-1.1 1.3-1.3m7.9 2.1l-5-.3 3.4-.9-.2 1.7-3 .5-.8-2.6m-16.1-2.3l-5-1.1-4.7 1.3 2.8-2.1 1.6 1.8 3 .2m-74.9-.5l-1.7-.3 3.3.8-1.6-.7 3.8 1.1 1.8.3m45.1-2.3l2.6 1.3 1.9-.2 3.5-1.2 4.5 0 1.7.2m-32.1 1.5l-2.2 1.3-3 .3-4.1-.7-1.5.7 3.7.6m4.5-.6l-2.3-.3-3.9-.3 3.3.3-4.1.4-1.7-.4m62 0l-2.1 1.7 1.3-2.2 2.2-.4-1.8-.8-2.8-.3m10.3 3.6l-3.5-.7-3.5-2.4-4.6.3-3.6.9 3 .3m-34.3-.3l2.4.4-4.3-1-1 1-2.4-.2-3.5.1m55.9 3.4l-3.6-1.5-1.8.9-2-2.2 1.8-1.9 4 1m-14.3-1.1l1.3 1.6-4.2-.8 1.2-2.2-3.9 2.2-2.3-1m18.8 4.5l-1.2-3.1 1.5 2 3.6.1-3.1.2 .8-2.1m4 2.3l.6 1.9-2.8-1 1.8-1.6 1.8-.2-1.4.9m-5.3 1.7l.7 1.6-.1 2.6-.6 2.5 3.4-1-2.6.6m8.1-6.8l-1.4.8-2.4 2.4-3.7-.4-1.2-2.4-.3 1.4m-9.1 15.5l4.2-.1 1.5-1.1-.7-2.2 1.1-2.3-.5 3m.1 3.6l.2-1.3 3.4-.9-2.1.6-2 .3 1.2-2.6m-.2 1.5l1.7 1.8-2.3 1 1.7-.9-3.2.2-1.9-.4m13.1-12.3l-1.8-.9 2.1-2 .6-1.3-2.2-1.2 1.9.3m-5.7 4.7l-1.7-2.2-2.5.7 2.8-2.2 2 1.3 1.8-1.1m-2.9 8.7l3.2-.6-1.6-.6-2.8 1-1.9-.8-1.8-.8m3.5 1.1l-2.3-1.5 1.7-.4 2 0 3.1-.5 3.1-1.9m-4.6-.1l-3.1-2-1.9 0 2.7-.9-1.9-1.2 2.6-.5m.1 4.6l3 1.5-1.6 2.5-.2 1.3-.1 2.6-4.1 1m-7.1 5.3l2.7-1.2 3.1.2 1.2-.6-1.9.7-3.9.5m5.8-13.7l1.9 1.4 .9 1.2-1.9 2.5 1.4 1.3-1.8 0m8.7-10.7l2.1.5-.9 1.2-2.1.1-2.3.5-2.5-2.2m-59.2 14.6l2.2 1.5 1.6 2.4-1.7-2.8-1.5-1.9 1.5 1.9m3.2 6l-.8-1.9-.4 1.5 1.1.7-.5 2.3 1.8 0m3.4 2l.1 1.5 .9.9 2.2 2.3-2.3-.1-3-.9m-2-2.1l2.3.6 4.1 1-1.6-1.1-2.1-1.6-2.3-.1m-1.4-2.6l-1.4-1.9 .9-.9-1.4-1.3-2.4 1.6 1.9-1.2m5.4 8l-.6-2-3.2-1.8-2.4-2.4 1.7-.4 1.7 2.3m-1.2-4.7l-2.2 1.3-.7 1 2.6.8 3.6 1.6-3.7 1.5m10.5 8.7l-1.1-2.4 1-1.6-3.7 0-.7-2.7-2.3-2.1m.6.9l1.6 2.8 2.6.2 .7 1 2.7-.3 1.6.3m-15.3-13.2l2.3 1.6-1.2 2.3 .1 3 .3 1.7 3.2-.7m-3-5.4l-.9 1.3-1.3 1.2 2.2 1.7 .7 1.7-1.7.5m2.2-1.2l2.3 1 .2-2.5-1.9-1.5-3.7-.6 2.4 1.6m11.9 10.4l-.2-1.8-3-.8 2.9-.8-2.1 1.3 2.1.4m-10.5-3.8l-1.3-1.7 3.3-1.1-.8-1.1-1.9-.3-1.4.6m29.9 1l-3.2.8-2.9.2m-.8.6l-2.3 1.6 1.3-1.3m3.5-1.5l1.7-.2 4.1-.9m2.4-.7l-2.1.5 2.3-.5m-9.3 2.3l-1.9.6-1.5.9 1.5-1 1.5-.6m206.2-6.6l-1.5-1.3-1.3-1m16.9-1.4l-2.4.6 .5 1.8m43-12.1l-1.4 1.4 1.9.7m-39 12.2l-1.7-2.1-.3-1.5m54.3-8.8l.5-1.6 1.7-.6m60.2 11.3l-1.5-.1-.4-.8m-91-.1l.3 1.3-2.1.1m59.3-3.1l-1-1-1.7.2m-27.5-5.2l.7-1.2 2-.1m-4.4 4.4l-.9.9 2 .9m69.7 2.9l-2.7.4 3-.4m31.3.9l-3 .9 1.2 1.4m-97.5-13.7l1.6.2 1.1 1.4m-8.2 7.7l2.2.8 3.6-.2m79.5-1.3l-.6 1.8 2 .5m-58.8-1.8l1.3-1.5 .5.8m-30.1 1.1l1.8-.8 .3 1.1m95.8 4.4l1.7.1-1.1-1.1m-119-3.1l.9.8-2.9.1m-36.8-2.1l1.9.3 1.9.9m24.6 1.6l.7-1 1-2m100.6.8l2.3 1.3 .6 1.3m16.2 1.4l1.6-.5 0 .9m7.9-2.6l-.9 2.2 2.2.1m-127.9-5.3l3.4-.2 .8 1.6m33.5-4.8l-1.5 1.4 2.3 1.8m72.3 5.4l-.9-2.2-1.2-.3m-4.8-.2l-.1 1.2 .9-.9m-112.4-.4l2.7-.1 .2 1.5m-11 .6l-1.5.5-3-1.1m-55.1 15.4l1-1.6 1.3 1.4m17.5-.4l-.5 1.7-1.8 0m-16.3-2.5l-2.4-1 2.3.6m16.9-1.6l.5 1.6-1.1.4m-37.9 7l-.2-1.7 1.4-1.6m-15.3 2.8l-1.8-.1-.2 1.4m20.8-1.4l2.9-.2-1.6-1.6m-18-.2l-.9.5 2.3 1.3m3.1-1.6l1.3 1 2.1 1.1m-3.8-.1l2.1-.8 .8-.7m8 3.9l1.1.6-.7 1.2m-8.9-7.6l-1 1.1-1.2-.3m18.4-1.8l2.7.6 .7.9m23.8-2.4l-1.7 1.4-.8-.7m26 9.9l-2.5.3m49.5-7.7l-.7-.8m-64 11.8l1.9.6m64.5-5.9l2.6-.1m19.7.3l-1.3.2m-24.5-1.1l.6-.8m5.1 8l-.5 1.1m-67-9.3l.8-.5m73.5 0l1.4.1m-24.6 12.6l-1.5-.7m24.3-17.5l2.3-.3m22.8 14.4l1.7 0m35.7-4.6l0 .8m-104.8-3.1l-1.6-.6m98.3 5.9l-.4-1.3m-22.1-9.1l-2.4-.5m-102.3 14.5l2.4 0m64.2-13.9l-.3 1.7m67.6 7.1l.1 1.4m-112.9-12.5l-1.2 1.1m-5.2-4.8l-.7-1.1m-1.8 4.9l-.4-1.7m72.6 2.3l1.5-.1m-83.6 14.4l-1.9-.8m18.3.6l-.8.8m10.6 2l-.4-1.5m5.5-5.9l-.9.2m112.4-19.8l.8-1m-116.8 5.3l1.5-.2m94.3-4.9l-.3-.7m-433 80.6l2.5.2-.9 1.5 2.5.7 .3 1.2m21.9 18.1l-1.9-.6-1-1.3-.9-.6-1.6-1m-24.4-17.3l-1.5-.6-2.4.1 1.6-1.8-2.5-1.9m-6.6-2.2l1.9-.1 2.9-.9 2.7.6 3.4-.4m8.5 14.5l-2.2-.7-1.5 1.7-3.3-.1 .9-1m.3-13.7l.2 1.3-1.4.2-2.4.6-1.3-1.5m1.8 2.4l2.1-.4-.1 2.5 2.2 2 2.7.6m-13.1-6.2l-1.3.9-2.5-.1-.6-1.2 1.8-.8m16.4 11.3l2 1.2-1.7 1.4-.9.8-2.5-.1m.7-2.7l1.7-1.5 2.4.8 .4-2.4-1-1.6m-10.6 2.5l-1.5 1.7-1 .5 2.5.9 2.1-.4m6.6-5.2l1.1.7-2.3.9-1.4-.7-.1 1.7m-14.3-13.4l-1 .8 3.4.4-1.4 2.2-.6 2.5m15.9 14.7l1.6-.5-.8-1.1-1.7.8 1.1 1.9m3-3.9l-.4-1.1-1.7-.3-.2 1.4-1.5-.4m-13.1-8.5l2.5 1.1 1.2.8 0 1.5 3.1-.2m-14.8-11.6l.1-1.2 2.5.7-.5 1 .6-1m11.4 2.5l2.4-.7-2.3 0-3.3-.5 1.1 2m12.8 4.7l-2.9 1.3-2.4 1.5 .4 1.7-.4 2.5m-11.9-12l.3 1.7 .2 1.5-1.9-.1 1.1 2.2m13.6 6.7l-1.1 1.8-2.5-1.8 1.6-1.7-.1-1.2m4 8.9l1.1-.6 0-2.5-.5-1.5-.4-1m-11.5-10.6l.1-1.4 1.5.5 .7-1-1.5-.2m-2.5 1l2.8 1.4 2.7-1 1.8 1.9 1.5 0m-8.7 2.1l1.7.8 .4-1.1 2.3-.2 1.9 1.7m-.8 5.8l-1.5-1.5 2.6-1.4-1.4-1.9 1.8-.3m368-20.1l1.8.7-.3 1.5-1.6.7m1 2.6l.3.8 .6 2.1 1.2 0m-12.2-1.5l-2 1.2-.2.8-1.6-1.4m-2.3-6.4l.3 2.1 3-.8-2.4-1.1m9.3 1.9l1.8 1.8 .5 1 1 1.3m3.5-8.6l-.8.8 2.9.6 1.1.3m-7 4.2l-.6-1.1 2.4-.6 1.8-.7m-1.5 1.3l2.4 0 1.9-1.2-.5-1.3m-3.3 1.5l2.5.1 .3-2.2-2.8-.5m-5 6.5l-1.7.4-2.2.4 .4-.9m-7.7-6.2l-1.4 0 .7.9 2.3-.5m17.6.3l-.6-1.8 3.1.5 .9 1.3m-13.3 2.1l-.3-2.1-.3-.9-.3-1.1m-1.8 2.2l-1.7.1 1.4 1.5-1.7 1.2m-263.3 111.4l-.6-4 4.8.8-.5 1.5-1.4-1-5.4.8m-21.2-3.9l-4.4.8-1.1-3.1 2.7-.4-2.1-1.5-2.4-2.7m-7.6-27.5l-.2 2.4 2.2.3 4.1 0-1.3-3.3 2.7-1.6m27.2 23l-3.2-1.4 1.5-1.5 2.2 3.6-3.9 1.1 3.6 2.4m-.6 2.7l2.2 1.3-1.2 2.3 .6 3.8 1.5 1.9 2.6.1m-6.7-30.6l-2.8 0-1.3-2.8 .5-2.7-3.8.4-.8 1.4m2 41.6l3.4.3 1.2-1.3 4.6-1.6 4.3-2.3 1.8-2.9m-19.9-48.7l.9-1.8-1.8-.9 1.8-2.8-3.5 1.7-.5-2.5m42.6 25.1l-5.2-1.8-3-1.4-3.7 2.7-4.3-1.3-.9-2.2m4.7 19.4l4.5 2.1-2.2 2-2.2-3.4-3.3 1.4-5.3 1.7m-21.6.3l-4.6-1.5-4.7-1.1-1.8 3-3.9-1.7-3.5-3.3m-1.2-21.3l1.1-1.7 4.6-.9 .7 2.4 3.4 2.5 1.1-3.6m-5.3 8.9l-2.7 2.3-2.7.8-2.4 3.4 1.6 3 2.1-1.5m31.9-27.4l-1.4-2.6-2.7.3-5.6-1.2-3.6-1.4-5.3-.3m9.9.1l-2.9 2.3-2.2-.1-2.1-.1-3-3-1.3 1.7m-9.4 38.6l1.6-3.4 4 .7 1.4 3-3.9.5 .3 1.4m45-25.2l-2.6.3-4.9.3-1.9.8-.3-1.9-4.8 1.9m0 32.8l2-3.3-3.7-2.4-2.6 1.6 .2 1.4 3 1.5m-12.1-35.6l-1 1.2-2.9-.3-4.2 2.6-1.3 3.3 .8 1.7m-5.7.6l-1.5 3.1-2.8 1.1-2.1-2.1-2-.9-.6 1.3m43.5 14.4l.5 1.4 3 1.2 2.9-2.5 3.6-2 .4-2.2m-49.2-18l-.1-1.8 .7-1.6 .6-2.4 4.4-1.6 .1-1.6m-3 40.2l1.6-1.4 3.9.6 2-3.3 3.3 2.6 2.9.5m-30-45.1l3.1.5 2.7-3.5-5.1-.9 1.7 1.3-2 1m20.4 1.9l.1-3.7 4.1 1.8 1.9.5 1.2-3.4 5.3 1.6m7.8 19.1l3.6 2.2 2.6-.4-1.1 2.9-3 1 2 2.5m-37.3-12.8l.7 3.9 0 3.2-3-.8-1.1-2.4-.9-1.6m14 5.9l4.3 2 3.2-.9 2.4 2.9 2-.8 4-.7m16 25.1l4.1 2.2 1.1-3.2-1.5-1.9 1.6-2.1-3.4-1.9m-31.9-43.6l2.7 2.5 3.4-.2-2.5-2.1-3.6-.3-2.7 0m162.6-140.4l-2 .1-2.3 1.2-1.8-1.4 1.7-.1m10.9-1.9l-2.5.1 .3-1.4 1.9-.4-1.7.8m9.8-.9l-2.5-.2-1.7 1.9-4-.9-3.1-.5m1.2 1.4l-2.3.2-.5-1.4-2.4 1.5-.4-1.4m8.8 2.6l-.2-1.2-4.4-.3-2.4 2.5-3 1.1m13.5-4.3l2.3.6 3.4-.6-1.4-.5-1.8.3m-7.2.8l.1 1.2 3.2-.1-1.1-2.4 2.5-.4m-16 3.7l-2.6-.5 .7-1.5 2.8 0 4.1.1m2.6.8l3.3.2-.9-2.2-2.1 1.1-3.4-.8m14.6 2l2.6-1.2-1.5-.9-2.2 1.5-1.5.4m-15.4-.5l-1 1.1-2.3-1.1 2.1 1.1 .6 1.1m.6 1l.6-2.3-1.2-.8 1.8-.7-4-.3m92.9-2l-2.6-.8-1.5.9-2 .3m-12.5-1.3l-4.2.9 2.5-.4-.8 1.4m18.5-1.9l3.3.2 2 .3-2.4.4m-11.7-.5l-2.5 1.3-2.5-.8-2.7 0m-2.3.9l.8-1.3 2.5.1-.1 1m12.8-1.5l1.6-.1 1.8-.4 1.5 1.1m-3.2.5l1-1.1 3 .1-2.5.6m-11.9-.5l1.5 1.6 .2-1.6 3.5 1.2m24.1 18.3l-3.9.1 3.5-1.1-1.4-1.9-1.5 1.1m-25.5-2.7l-1.7.9 2.5 2.4-2 .5-2.6-1.9m6.9-3.2l-3.1 1.5-.9-1.6 .3 2.4-1.1 2m5.6-.4l-2.7.1-1.6.2 1.8 1.2 .5-1.1m15.9-9.9l1.4 1-2.1-.2-.2 1.2-3.6-1.1m11.8 9.8l2 1-.5-1.7 .3-1.2 2.1-.9m-24.2-2.6l1.4-1.3 1.4.8 2-2.2 .8-1m-3 .4l1.6-.3 1.7 1.8 1.2-.9 1.3.6m-17.1 6.7l3.6-.6 1.5 1.4 1.5-.2-1.5-2.9m-1.2-1.5l3.5 1.9 1.7-.4-1.9-2-.7-1.4m88.4-7.5l.6-1.9-3.1.7-3.2.7m5.7-2.2l-1.1-.9-.8 1.3-1.7 2m-3.2-3.1l.3 2.1 3 1.6-2.2-.2m1.8-4.4l-.8 3-2.1.9-2.9-1.1m5 1.9l-.5-2.3 2.8-.1-1.1 2m-4.6.3l-1.3-2.1 1.7-1.1 1 1.4m87.3 8.4l.5-1.4 2 .6-1.8.9m.9-1l2.3-.1 .8.8-2-.3m-15.3-.4l2-.9 2.4 1.8-2.5-1.4m9.4.5l3.3.6 3.2-.6-2-.1m1.5.1l.6.8 1.2-.5 2-.2m-13.9-.8l-2.4 1-1.5.4-1.7.3m-292.5 17l-2.1 1-.6 1.2-2.4 1.4m2-.2l1.5-2-.2-1.5-2.4-.5m-1.1.1l2.4.6 2.1 1 1-.8m-3.5 3.1l1.4-.4 1.4-2.3-.2 1m-4.9 1.2l-2.6 1.2 1.4-1.5 1.3.7m1.1-2.4l3 .4-3.5.4 .9-1.9m40 12.8l.2 1 2 .1 2-1.2m5.6-7.9l3-.2-.9 1.7-3.4-.9m-3.3-1l1.4 0 1.5-.1 1.6 1.9m4.2-5.7l3.2.6-.2-1.3 3.6-.7m14-5.5l-1.7-1.8 3.2.5 1.2.3m-36 15.4l-1.3-.4 1.2-.4 1.3-.8m4.7 3.2l-.9 2-3.3 0 .7 1.4m39.2-22.4l-.1 1-1.9 1-2.2-1.4m-1.7 3l1.4-.6 1.6-.3-2.5.9m-28.7 15.4l-1.6 1.3-1.9 1.5-1.8-.8m11.1-10.9l-1.3-.4 1.2 2.1 2.6-.7m-15.9 6.5l-1.3-1.6 1.4-.8 .3 1.5m3.7 1.9l-.1-1.3-.2-1.8 2.4.6m13.7-10.1l2.1.7-.7 1-2.6.4m-17.5 8.6l.9-1.1-1.2-.6 .2 2.5m14.1-8.1l-2.1-.6 .3 1.2 1.4.4m-7.8 2.1l1.6-.1-.7 1.5-1.2-.3m-5.8 7.1l-1-.7 .9 1.1 2.4 1.4m20.8-17.1l1.5.2-.7.7-2.4 1.2m15.8-7.3l2.2-.2 3.2.1 2.5.6m-10.2 1.9l-1.2.7-1.7.1 1.2-2.2m-17.8 9.9l.1-1-2 .5-2.1-1.2m-9.9 5.2l2.3-.4 1.5.2 1.3-1.9m-9.1 3.8l1 1.8 1.8-.8 1.9-.9m7-1.2l1.2-1.2-1.9-1.6-1.7-.4m32.8-9.1l.3-2.3 2.3 1.7 1.6-.2m-25.3 5.9l-1.1-1.1 1.7-1.2 1.8-1.2m-6.4 6.8l-2.2 1.4-2.9 1.5-1.4-.8m-.4 3.2l-.9-1.7-3-.5 .7 1.7m9.5-6.2l-2.6.4-1.4.3 1.9-.1m-12.1 10l1.5-1.5 1.5 1.7-.3 1.9m3.6-8.1l-1 1.1 .3 1.4 .3 1.9m.3-.4l1.4.6-1.5.4-1.9-.1m7.9-9.7l-.8 1.1-1.4 1.8 1.1 1.2m-9 7.7l.6-2-2.1.3 .9-.6m23-13.6l-2.6 1.3-2.8-1-.9 1.1m-18.8 13.9l1.2-1.5 2.7 1.6 2.5.2m5.5-7.2l.3-1.1 1.4-.3-1.6-2.1m-5.9 7.1l-.3-1.3-1.2.3-1.8-1.5m18.7-7l-.8-1.5-2.6.5-1.8 2.2m223 41.1l1.7 1.6-.4-1.9-1.8-.3m18.9 17.3l.8-1.1-1.2-1.8-1.3.4m-5.2 2.7l1.5-2 1.7-1.4 1.8 1.3m-.2 3.2l-2.8.4-2.3.4 1.3-1.3m-15.6-3l.2-1.4-2-.1 .9 1.8m-1-17.8l.8 1.3 1.3.5-.4.9m17.4 17.9l1.9-1.4-1.1-1-1.9-.8m-16.8-9.7l2.5.2-.5-2-2.6-1.7m2.7 1l1.1-1 1-1.4 2.4 0m1.7-1.2l2.8.8 2.1-1.7-1.1 1.2m77.8 157.6l-.9 1.1 2.4.4-1.3 1.3m-4.5-7.3l-.8-1m-8.7 21.4l0-1.9 1.3-2.1 3.4-1m-.5.6l1.2-2.2 1.2.6-1.5 1.3m2.9-3.5l-1.2.3-.1 1 1.3-.1m-.6 2l.6-2.4 1.1-.9 1.1-1.2m-5.6 2.3l-.3 2.5 2.4-.9 1.8-1.9m-8.6 7.1l-1.2.6-2.4-1 2.1-.3m-97.1-88.5l1-1.5-3.9-.1-2.6 1.5m11.4 17.9l1.8-.4 3.3 0m-39.4-16.2l2.3-.4-1.7 2.8 1.2 2.7m-10-11.5l.7-1.8-1.5 0-1.2-1.5m50.2 17.8l-2.6.8-2.5.9 0-1.8m-6.7-7.5l-.6 2.3-2.1.2-1.7-1.4m.4-6.4l-.2 2.3-3.6-1.6 2.3-.5m-1.4 10.6l-1.7-1.1 2.2-.9-3.6-1.2m2.5-3.1l1.9 2.4 2.4-2.5 4.1-.8m-22.5 10.7l-.1-2-2.1.2-1.1-1.2m17.9-10.3l-.1-1.8 .7 1.2-.4 1.7m-24.1.9l-3.2-2.1 1.1 2.5 1.7.5m34.6-8.9l-2.1 2.2-1.7 1.8 1.8.6m-35.7.9l-.9-.9 .4 1.6 2.2-1.2m40.4 7.1l-1 .8 2.9.5 0-1.2m-39.5 1l.9-2.7 1.9-.7 1.2.9m69.7 9.3l2 1 2.2 2.5-.9 2.8m-10.1-10.4l-3.5-.6-3.2-1.5 3.1 2m27.6 11.7l1 .8m-13-5.5l-3.2-1.2-2.5-1.9-2.3-.8m9.9 6.6l4.3-.1-1.5-2.7-2.6 1.7m-8.1-8.2l3.5 1.5 1.3 2.5 .2 1.5m2.8-1.5l-3.5 0-2.8 1.9-1-2.6m16 7l-.8-1.5-1.9-2.6-1.8-2.5m-46.1-40.4l-2.1-1.6 1.7.7 .2 1.4m4.2 17.8l-.5-2 1-2 .6 1.1m-4.5-10.3l2.1.9-1.2-1.3-1.4-1.7m4.5 9l1.6-.6-2.7.4 2.2 2m-6.3-14.1l1.5 0-.7-1.4-.9.7m7.2 11.2l-1.6.9-2.3-1.5 .4 1.7m2.4.3l-3-.4-.7-1.7 3.1.8m-245.5-90.7l2-.2 1.2 1 .9 2.1m1.2 8.9l2.5 1.1 3.2-.7-1.8 1.8m-6.5-7.9l1 .8 .8 1.6 1.9 1.6m.3.2l-1 1.6-1.1 2.1 .9.8m-12.8-2.3l-2.3-.9 .5 1.2 1.2-1.6m9.2-1.5l1.8-.2-1.3 0 1.4 1.1m-11.3-2.9l3.5-.3 1.5 1.7-2 2m4.3-10.3l.5 2.1 2.9.3 .3 1m-5.8 7.2l-2-.8-.4-1 2-1.5m-2.6 4.2l-1.2-1-.7-2.1 2-1.6"/>
<path class="i1" d="M1072.3 697.6h0m85.1-113h0m263 60.5h0m7.6 73.2h0m-166.5 4.4h0m8.2-46.4h0m-16.6-15.2h0m290-33.1h0m47.6 8h0m15.2-3.3h0m3.8 10.7h0m-664.1 4.6h0m30.5 38h0m47.7 4h0m-19.2-13.5h0m3.8 1.9h0m-7.6-3.8h0m617.3-4.8h0m-676.3 10.5h0m658.2 20.9h0m-17 4.8h0m-419-85.1h0m3.3 0h0m-41.5-11.6h0m157.4-37.4h0m4.9-1.9h0m19.8 7.8h0m8.8-73.4h0m12.3 74.7h0m47.6 17.5h0m-16.2 176.9h0m235.6-107.1h0m-79.6-66.8h0m12.4-11.4h0m22.3 6.5h0m-594.6-57.4h0m207 18.4h0m425.3-44.3h0m-325.4 137.3h0m31.2-5.7h0m61.4 12.7h0m0 5.4h0m62.5-1.2h0m46.2 9.2h0m16.9-3.1h0m-353.3 43.9h0m2.3-13.8h0"/>
<path class="i2" d="M982.7 606.5h0m-2.8-1.3h0m-2.9-1h0m-23.8 67.9h0m668.8 5.3h0m-21.3 2.3h0m-16.7-18.4h0m-588 18.2h0m18.1-16.3h0m92.7-16.6h0m125.2-72.4h0m-4.8-1.4h0m21 11.1h0m2.8 8.9h0m2.9-.9h0m-7.7-.4h0m-11.4 24.1h0m1 1.9h0m154.1 67.2h0m-3.8 1.5h0m-23.2-17.9h0m3.6 2.1h0m19.6-15.6h0m33.3-16.4h0m-67 96.6h0m26.5-.7h0m-148.8 22h0m-36.2 5h0m362.5-141.9h0m-.4 1.2h0m-19.6 11.4h0m33.3 0h0m11.8.9h0m-600.5 9.5h0m-33.5 43.6h0m9.5-3.8h0m36.2-4.8h0m23.2-12.7h0m587.2 18.4h0m-658.9 46.6h0m651.7 12.8h0m5.7 3.4h0m-19.2 4h0m-162.5-2.9h0m-256.9-131.4h0m.9 2.7h0m-.7 7.8h0m-30.7-27.6h0m-.9 1.3h0m3.8 1.6h0m4.7 4.7h0m-7.2-10.6h0m133.8-67.4h0m10.8 3.3h0m-3.2 2.5h0m59 43.3h0m-2.9-5.7h0m-4.7 1.3h0m132.6 59h0m4.4 9.5h0m2.8 2.8h0m2.9 4.8h0m17.1 2.9h0m13.7 10.2h0m2.1.4h0m15.6-.6h0m3.8-.9h0m-3.2-11.4h0m2.2 0h0m3.9 11.8h0m3.8-13.3h0m43.7 5.7h0m-1.9-1.9h0m-9.5-1.9h0m7.6 15.2h0m5.7 2.8h0m15.3-1.9h0m-64.7-70.3h0m2.8-3.5h0m-5.7-9.7h0m44.7-23.9h0m4.8-2.5h0m4.7-4.2h0m21-10.4h0m-467.2-2.5h0m8.6-22.3h0m256.9-3.4h0m43.7-8.4h0m25.7-5.3h0m29.5 5.2h0m106.6 8.1h0m-662.2-1.9h0m451-18.8h0m9.5-.2h0m-26.7 1.3h0m-30.4.6h0m-7.6 2.5h0m-40.7 149.1h0m4-6.1h0m58.6 18.3h0m-197 92.6h0"/>
<path class="i3" d="M984.6 608.8h0m634.6 71.1h0m-22.8 6.7h0m1.9-11.1h0m-13.4-11.4h0m-5.7-3.8h0m-3.8-2.8h0m-467.1-10.1h0m140.8-55.2h0m164.6 147.6h0m-203.2 9.5h0m-42.3 15h0m117.8-193.6h0m-18.8-34.6h0m-2.9-25.1h0m192.8 111.3h0m26 27.9h0m25.7 14.5h0m21.9-4.4h0m5.7-2.8h0m-15.2-5.2h0m65.6 10.9h0m-25.6-102.7h0m-596.6-28.5h0m-7.6-6.5h0m31.4 11.2h0m40 7.6h0m-1-3.8h0m-3.8-3.8h0m137 21.1h0m4.8.4h0m-5.2-6.3h0m-31.9-44.7h0m-38.1-5.7h0m-9.5-2.8h0m-9.5-1h0m28.5.4h0m-38 1.5h0m-9.5 1.4h0m43.7 13.5h0m32.4 13.6h0m262.6-15.2h0m36.1-5.7h0m112.3-1.9h0m-156.1-12.3h0m-244.5 248.1h0m1 3.8h0m7.6 4.8h0"/>
<path class="al" d="M966.5 542.8l-5.7 1.7-5.7 1.5-5.7.8-5.7.7-5.7.4"/><path class="al" stroke-dasharray="3 5" d="M1623 547.9l-5.7-.7-6.7-1.6-6.6-.7-7.6-3.4"/>
<path class="rv" d="M1419.4 519.6l-7.6.9-5.7 2.9 5.7 5.7 7.6.9 7.6 1 5.7 3.8 5.7 3.8 0 2.9 2.9 3.8M1411.8 529.7l-1 4.2 4.8 2.8 4.8 4.8 2.8 1.9M1436.5 510.1l3.8 2.8 4.8 1.9 1.9 5.7 4.8 6.7 .9 4.8 2.9 3.8 1.9 3.8-1.9 3.8M1457.5 535.4l7.6.4 7.6.9 3.8 4.8 2.8 4.7M1522.2 508.2l-3.9 2.8-1.9 3.8 1 3.8 4.8 3.8 4.7 3.8 1 2.3-7.7 2.5-11.4 1-7.6.9-5.7 1.9-7.6 1.9-5.7 5.7M1526.9 526.2l4.8 1 5.7 2.8-3.8 3.9-7.6.9M1520.2 524.3l-9.5.6-7.6 2.3-9.5-1M1586.8 513.9l-3.8 2.8-7.6 2.9-5.7 2.8-1.9 4.8M1564 511l-3.8 3.8-4.7 4.8-2.9 4.7M1547.8 545.3l-2.8 2.8-3.8 2.3-3.8 3.4-3.8 1.4-3.8.1-5.7-3.4-2.9-4.7-6.7-2.5-5.7.6M1383.2 516.7l-2.8 2.9 6.7 2.8 1.9 4.8M1357.6 523.2l2.8 2.1 3.8 1.9 4.8 2.8M1371.8 558.6l-3.8-4.8-2.8-.6 1.9-4.1 4.7-2.9 1.9-1.9 0-3.8-5.7-1.3-7.6-.6-7.6-1.9M1185.4 647l-3.8 1.9-5.8 1.5-5.7 1.7-3.8 0-5.7 1.2-5.7-1.9-5.7 1.3-3.8 1.5-4.8.4M1166.3 652.1l-3.8-3.2-4.7-1.9-4.8-1.9M1168.6 652.5l-4.2 5-4.7 4.7-3.5 2.9M1169.4 710.7l-3.1-3.8 1-4.8 1.3-4.1 6.3-.6 1.9-3.8 1.9-4.8 3.8-3.8M1339.5 586.3l.4 3.7-.4 4.7 3.2 2.9 .4 2.8-2.7 3.8-.9 3.8-1 2.9 4.8-1.9 1.9 3.8-2.9 3.6 .2 4.9-2.1 5.7-.9 5.7 .9 5.7 1.9 3.3M1304.3 657.5l5.3-3.3 2.3-4.3 2.9-4.8 5.7-2.9 5.7 1.9 2.8 1.9 0 5.8 1.9 5.7 1 5.7M1291.9 637.7l1.3-5-3.2-3.8-.9-4.7-4.8-3.8-3.8-4.8-5.7-1.5-3.8 4.4-4.8 3.8-3.8 3.8M1110.6 590.5l-3.3-3.4 0-4.8 1.9-2.8 1.4-3.8-1.9-3.4-1.9-4.2 .5-3.8-3.8-3.8M1108.7 572.3l-5.2-.8-4.7-.6-1-3.8-2.8-2.4-5.7-3.3-1-4.7-5.7-1.9-7.6.4-5.7.5M1025.5 514.8l3.8 2.9 6.7 2.8 6.7 2.9 2.8 3.8 7.6 2.3M968.4 526.6l7.7-.4 5.7-3.4 9.5-.7 9.5-1.6 6.7 1 6.6 1.9 5.7 3.8 3.8 2.8M1448.9 604.2l-1-4.7-5.7-1.9-5.7.3-3.8-2.2-3.8-2.9 0-2.8M1451.4 600.4l-.2-3.4 4.4-.8 5.7-3-1.9-2.7-7.6-.2-7.7.2-6.6-2.1M1408.9 600.4l1.6-4.7 3.2-3.8 1.9-3.9 1.5-4.7 2.3-2.9 4.8-.9 4.7 1.3M1511.7 586.1l-5.7-.5-4.8 3.4-5.7-1-3.8-.5-5.7 1.5-4.8 2.5-4.7 3.2-3.8 1.9-2.9-3.8-2.8-5.7-3.8-3.8M1506.9 574.2l-3.8 1.9-5.7 3.4-6.6 0 0-5.7 .9-3.8-5.7-1.5-2.9 4.3-4.7 4.8-5.7 0-3.8 2.8M1483.1 627.4l-2.8-3.2 1.9-3.8-1-2.9-1.3-3.8-1.5-2.3-3.8.4-1.9-3.8-1.5-3.4-1.4-6.1-1.9-5.7M1336.8 560.1l-3-.2-1 2.5-4.7.5-4.4-.9-4.2-1.1-2.8-1.9 0-3.7-4.8-.9-5.7-.6-6.7.2M1545.7 713.6l2.1-2.5 3.8 0 2.9 2.5 3.8.9 2.9.2M1311.9 700.4l3.8.4 2.9-.6 3.8 1 3.8.9 3.8 2 2.8-.4M1349.6 681.6l-3.5-3.2-3.8-2.5-4.7 0-3.8 3.4-3.8.8-3.8-.8-1.9-4.7-.6-3.8"/>
<path class="bo" d="M1046.5 552.9l53.2 0 1 .5 4.7.8 4.8.6 1.9-.6 7 2.9 2.5 1.5 1.9 1.3 .2 4.4-1.1 1.9 7.6-1.5 0-1.4 4.7-1.3 2.9-1.5 6.7 0 1.9-1.9 2.4-2.7 2.7.8 0 2.4 1.5 1.4M1012.2 513.7l0 17.7 3.8.6 2.9 1.9 3.8-1.4 3.8 2.3 3.8 3.8 2.8 1.9M1057.7 584.2l4.4-.1 7.2 2.4 5.3 0 0-.9 3.3 0 3.8 4 2.8 1.3 2.9-1.5 2.8 3 1.9 3.3 3.5 1.1M1105.1 618.5l1.3-2.9 1.9-.4-1-1.9 3.5-1.1 1.7-1.1M1110.8 612.2l0 3.6 1.7.4m-1.9 2.5l2.5.9 .5 1.2m-3-2.1l-1.5 1.1M1114.4 621.3l2.5-1.5 2.8-1.7 2.5-.6m-4.8 7.4l2.3.2 1.5.2M1122.8 630.6l.5-2.8M1144.8 623.6l-2.3 2.5 0 3.8 1 2.3 3.8.7 4.8 1.4 0 4.1 .9 3.8 .2 1.6M1130.6 643.4l3.4 2.1 2.8.5 .6 1.6 3.2 2.8 6.7.4 0 3.2-.9 0-4.8-3.6m5.7 3.6l1-6-1-2.9 1.5-1-1.1-1.3 5.3 0M1127.7 652.5l.2 1.9 2.3 1.2 .9-1.9 2.9-2.3 2.8-2.5 .6-1.3M1166.3 630.1l-2.4 4 1.1 2.1 1 1.3-2.5.6-5.7.2 .9 3 1.2.6-2.1 1.7-3.5.9-1.1-.7M1166 637.5l.7 4.7 1.9 1.4 3.4-1.2 1 0-1.5-2.8 .2-3.4 .3-1.4m1 7.6l3.8-.7 1-2.3-.8-2.5 .9-1.7m-1.1 6.5l3.4 0 1.9-3.4M1141.6 659.9l-1.9.2 1.5 3.8 2.3 1.2 2.7-1 0 2.9 2.1 0 1.5 2.8-.6 4.4-.9 2.3 0 2.8-1.6 1.6m-5.1-21l.9-4 3.9-1.9m1.9 13l2.8-.6 5.1-1.7 0 3.6 4.4 1.9 3.8 1.5 1.4 2.9 .2 2.4 3.6 0 0 1.9 1.1 1.4-.6 3.4-1.9-.9-5.1.5-1.5 4.6-3.4 1.5-3.7-1.9-1.9 1.9-1.5-2.5-1.1-3.8-1.7-3.8M1161.6 687.9l4.7 3.8 4.4 2.5-1.7 3.6 4.4.4 3.2-3.5 .6-3-2.7-3.2-4.2-.4-.2-4.4M1152.6 689.4l-2.4 3.2 .3 4.8-2.6 3.8-1 4.8 .4 3.8-.9 4.7-1 4.8-1.3 4.7-.2 4.8 .6 3.8-1.6 3.8-1.3 3.8 1.3 2.8 5.4 2.3 1.9.4M1169.8 709.8l.7-5.7 3.4-.6 4.8 4.9 .2 1.7m-8.4-6l2.9-5.9m3.2-3.5l1.7 2.7-7.8 6.3M1263.9 593.4l0-2.5 7.1-1.9 4.7-3.8 1.4-4.8-.8-1.1m-12.4 14.1l-8.1 0m8.1.7l0 2.5-6.2 0 0 5-1.9.7 0 3.2-7.6 0M1263.9 594.1l7.5 4.4 11.4 7.4 4 4 1.7-.2 3.4-.5 11.4-7.8-3.8-1.9-.9-3.8 .9-6.7-1.9-.4-2.8-5.3 1.5-3.2 .6-4.2m.7 12.7l2.5-3 2.3-2.5M1271.4 598.5l-3.3 0 1.9 16.2 .4 1.9-8 .2-3.8-.4-1.3 1.5 1.5 4.4 1.3.9 4.2 0 1 3.3 3.8-.4 .9-1.9 1.9-2.3 1.9-1 2.9-3 3.8-.4 1.9 0 4.8-.9 1.3-1.9 0-5M1257.3 617.9l-4.4-3.4-3.8.7M1258.8 622.3l-4.4-.2-2.4 1.1-3.3-.7m-.2-2.3l3.5-.4 2.2.8-2.6.2-2.9.3M1254.4 622.1l0 1.7-2.4 1.3m8.1-1.9l2.3 3.8 2.9-.5m-9.9 2.4l3.2-1.9 1.9 1.9 .4 1.2-2.3 2.6m2.3-2.6l1.9 1.7 1.5-.2 1.9 6.1m-1.9-6.1l1-2.7 0-2.4M1269.1 626.1l5.7 1.3 .6 3.4-1 3.8 .8 1.9m-.4-9.1l.4-2.3 5.1-.2 1.2.2 1.3 2.9 .7 5.7-.7.7m-2.5-9.5l.8 3.1 .4 4.7 .3 2.1m-.3-9.7l3.4-2.4 2.5 1.1-1.8 5.1 0 5.2m-.7-11.4l-.2-.8-2.3-1.1-1.9-3.3M1287.4 623.8l.7-3.4 5.7.9 3.8.4 3.3-.9 5.3-.8 .9 1.3m-.9-1.3l3.8-5.9 .9-6.7-1.9-5.1-1.5.8-4.2-1.7m-15.2 19l-.9-3.8M1307.1 621.3l1 1.9-2.5 4.6-2.6 4.9-2.5.2-3.6 4M1309 602.3l17.2 6.7 0 7.2-2.9 3.2 0 2.5 .8 3.2-3.6 2.3-4.6 3.4-5.9 1-1-4.6-1.9-.2 2.9-.2-1.9-3.6m18.1-14.2l1.9-1 0-3.8m0-18.2l0 18.2 12 0 10.8 0m-22.8 3.8l-1.9 0m1.9-3.8l0 3.8M1326.2 616.2l0 6.1m-2.1 2.8l1.3 3.8 1.7.6 1.5-3 3.3 1.3 1.9.6 2.8-1.4 2.9.4 2.7-3.6 1.5-1-.4 2.9 1.9 2.3 .2 1.7-2.1 1.1 1.7 1.6 2.7 3.4-2.5 2.3-5.7.9-.4.4-2.5-1.7-4-1.3-4-4.2-1.5-2.7m18.3.2l3.6-7.8 1-3 3.8-7.1m-3.8 7.1l2.6-1.2 4 .8 4.6 3.8 1.1-.2M1347.7 635.8l1.3 1.9 3.8 1.5 2.9.4 2.8-1 1.9-.5 1.9-1.4 3.8-.2 5.7-5.7-1.9 0-5.7-1.9-1.9-3.8-1.1-2.8m-2.7 16.3l0 9.2 1 1.5m-10.5-11.6l-3.8.4m17.1-13l.6-.9M1345.2 638.1l1.9 4.7-1.9 2.7 0 2.5 6.8 3.8 3.1 3.2m-9.9-7l-6.7 0-1.7.7 .6-3.6 2.1-3.4-.4-2.3m-.6 8.6l0 2.6-2.8.8 .6 3 .5-5.7m1.7 1.9l.6 1.7-2.8 2.1M1310 631.8l-1.9 2.8 0 2.9 2.8 4.4-5.1 0-3.8 0-2.9-.2m2.9.2l0 2.2-3 0m6.8-2.2l2.3 1.5-1 3.6 1 2.9-3.8.5-1.9 2.9 2.3 1.3 .5 2.7-1.5-.2m4.4-19.6l2.8 4.4 3.9-2.5 1.1-1.5 1.7-1.4 5.7 1.8 4.8-1.8 4.5-.1m-17.8 3l-.6 7.6-2.9 2.9-.4 4.7-5.7 2.7 6.7 0 .9 3 3.9 1 1.9-1.9 3.4.5 .4 7.1 3.8 0 0 3.8-3.8 0 0 6.1 2.6 2.6M1336.3 654.4l.3 3.1 2.5 4.3-4.4.4 .4 3.8-.6 2.5 2.7.8 0 2.2-4.9-3-3.7-1-2.4-.5m12.9-5.2l4 2.1 2.1.2m-2.1-.2l.8 5.9-.6 2.9-5.3 1.9 .3 1.1-2.6.4-3.8 4-3.3-.2-3.6-.4M1303 678.8l4.1.3 8.6 0 4.8 1.2 4.5-.8 3.6.4m-8.1.4l0 7.6-1.9 0 0 12.2-5.4-.4-1.3.7m6.7-.3l0-6.9 3.8 2.9 1.9-1.9 4.7.5 2.9-3.8 4.5-2.6 3.7.3 1.3 4 0 4.4 1.7 0m-14.5-17.1l1.4 2.3 3.2 2.8 3.2 3.3m3.7.3l2.2-2 1-3.5-.6-5.3-4.4-2.1m5-3l2.8.7 2.5 3.1-.9 1.9-1.6-1.9-.3-3.1m-.6-9.3l1.1 3.8 6.5-.4 4.6-1.5m-14.3 31M1332.3 702.3l2.4-1.7 1.7 1.5-1.7 2-2.1-.4-.3-1.4M1263.8 566.4l4.3 0-.7 3.6-.8 2.8-.2 2.5m10.7-11.8l4.7 1.3 4.8.6M1285.3 548.9l3.2 2.1 3.4.9 4.2 1-1.1 2.6-3.1 2.5 1.9.8-.6 3.2 1.6.8m.2-7.3l3.8.2 1.7 1.2 3.2-.2 2.9.9 0 1.7m-14.7-1.3l1.9.8 2.9-.6 3.8-1.3m-8.6-5l.8-4.4 1.5-2.8m-5.7 3.6l3.4.4m4.2 4.2l7.4-2.5 5.2-1.3-.4-3.8-.8-1.7m-4 6.8l1.7 3.2 7.5-.2 3.6-1.5 7 .8 2.9-2.7-1-3.8 .2-2.8-1.5-.8-5.7 0m-9.5 6.5l2.8 1.5 4.8 1.3m-11.1 1.7l-1.5 3.1m9-3.3l.3 1.4-1.9 2.1-4.5.7m6.4-2.8l3.3.4 6.4-1.2 .6-1.3m-12.2 4.2l5.2 1.9 2.8-.6 1.7-.4 1.9-3.8m1.2-11.4l5.1.4 2.1-2.9 3.1-.9-1-2.5-.6-.6 1.2-3m-13.3 6.3l10.6.7m-4.4-4.2l5.9.2m1.6 3.1l4.9 1.1 3.6 4.2-2.6 2.5-14.7.9m14.7-.9l5.9.5 2.2 2.7 8.4 1.5-.4 3.3-3 1.5m-27-6.5l-2.9 2.7m-.6 1.3l5.2 1.3 3.2-1.1 3.1 5.3 2.6.4m-5.7-5.7l6.5 3.6m-16.8 0l2.9 3.6-.6 1 1.2.4 10.4.1m-18.4-4.1l.4 1.9 .7 3.8 2.3 1.9 .8 1.9-1.9 2.3m1.1-4.2l4.4 1.1 6.4-.7 3.3-.6m-9.7 1.3l-1-5.1m7.4 4.4l0 1.5M1301.6 533.9l2.1-3.9 0-4.9 4-2.8 4.2-5.6 7.6-1.9 1 1 5.1.9 .9 4.2m-7-6.1l9.9-.5 6.1.5 3.6-1.5m-3.6 1.5l-.8 1.6 2.9.9-.8 5.7 3.8 3.4-7.2 4.6M1330.5 566.8m18.9 10.8l.9-1.9 10.9-.4 4.5 0-1.1-4.2 1.1-.5-2.4-2.7-3.8-.8m3.8.8l5.7 0 0-1.5 4 .2m-7.3 4l3.3 1.5 2.8-1.5 1.7 2.4m-7.8 2.3l2.3 2.7-1.1 3.4 1.3 1.7 3.1 4 1.7 2.1m-11.8-13.9l-2.7 5.3-4.2 1.9 .8 2.5-4.2 1.1 1.9 1.9-.9 1-2.7 1.5-2.1-.5m7.2-7.5l-3.8 2.1-1.7-.7-.6-1.2 1.9-1.7-1.1-.7m6.1 4.7l5.3 1.9 5.2 3.6 3.4.2 2.6-1.7m-2.6 1.7l2.3 1.2 1.3 0m6.1 8.1l1.9 2.5 4.9.4 1 1.3-1.3 3.8-5.8 1.9-5.7.8-2.8 2.8-1.5-.3-2.9-.2-3.4-.2-1.2 2.1m17.5-5l2.1 4.6m4-11.6l2.3-4.2m-1.3 5.5l-1.3 3.8M1373.5 573m9.6 2.1l4-1.5 6.2 1.1 3.6 1.7-1.3 5.6 .8 4.1 1.7.2-1.7 3.1 3.6.7 .8 4.2-3.1 3.8m-1.3-8.7l10.3-.2 .1-1.9 5.6-1.9 0-2.3 1.9-.6 1.7-5.1 7-2.1 5.5 3.2m-31.6-2.1l6.3.6 3.8-2.1 9.2-1.7 6.8 2.1m-35.9-1.7l-4-7 4 .9 1.9 0 5.9-.2 3.4.6 8.7 7m-19.9-7.4l0-7 4.9-1.2 4.8 2.7 1.7 1.3 5.5-.4 2.3 1.4-.2 1.9 4 2.5 4.5-.6 1.6-3.4 4.2-.4 1.3-.4 11.4 1.9m-16.9 7.4l4.7-2.3-.2-.7 12.4-4.4m-60.1.8l-2.1-2.3m2.8-6.7l-4.7-3.6 1.3-1.5-.6-2.1 3.5-.6 4-2.3 7 1.6 2.3.7 8-.4 2.6 0-2.4-2.2 1.9-3.6 8-.8 5.7-1.3 5.7 1.7 4.2 1.1 5.9-1.3 6.6 6.4 6.5-.3 3.6 2.6 3.8.8m-13.5 13.3l.2-5.3 4.4-.8 .7-3.4 4.8.2 3.4-4 1 0M1397.7 598.1m12.6 2.9l5.3-1.4-2.7-4.9 1.7-1.9 4.8-3.8 2.9-1.9-.2-3.4 1.9.9-2.7-4.5 7.2-1.6 2.1 2.3-.4 5.3 4.6 2.5-1.9 2.7 6.1 2.6 3.8 1.2 5.3.7 0-2.8-4.3-.6-9-3.8m13.3 4.4l1.6 1.1 6 .8 0-1.7-6 .9m6-.9l6.1-2.3 4 1.3-.2.8-4 3.6-1.9 4-1.7-.2-.5 3.8-1.4-3.2-2.1.4 1.9-2.9-4.5-.6-2.7 1.9 1.1 4.4m-1.7-8.4l.6 4m11 .8l-2.2 3.6-.8 1.3M1465.8 592.2l2.5 1.6 .4 4.7-2.7 1.9 3.3 3.4 3.8 1.9 1.7-2.2 6.1-1.8 2.6.8 2.5 2.5m-12.9.7l-2.1 1.7 .9 1.6 1.4 3.6 5.1-1.5 1.3 1.7 1.7 6.1 3.6-.8 .2 4.6-3 2.4-1.9.8m1.1-7l-6.2-.4 1.1 5.3m-1.5-20.3l.9 2.2 2.7 1.6 0 3.8m-5.1 1.5l-6.7.2 2.1 2.1-1.3 2.4 1.7 2.5 .9 3.8-1.5 3.1m.8-22.9l1.7 3.6m0 26.3l1.9 1.5 1.9-.9M1447.6 552.5l4.2 2.5 1.9 5.1 8.3 1.7 1.9 3 10.3.4 6.1 1.7 10.3-2.2 3-4.2 5-.8 10-2.5-4.7-1.9-3.6-.3 2.3-3.7-4.6-.9-10.9 1.9-3.6-1.9-8.3-.6-.2-1.3-6.3-1.5-2.1 4-10.3-1.6-8.7 3.1m55-1.2l4.9-1.5 1.5-3.8 6.7-1.7 7.6 6.3 5.7 2.5 7.8.9-3 6.3-3.8.7-1 4.4m0 0l-4.9.8-2.1.4-5 3.4M1521.6 574.2l3.2-1.6M1548.8 651l0 12.5M1489 642.2l4.2 1.9 3.6-.7 3.3-2.7 .4-2.6 3.8 0"/>
<path class="st" d="M1082.6 552.9l0 15.2 3.8 0 0 7.6-1.9 0 0 9.5-6.8 0m-8.4-32.3l0 7.6 13.3 0m-24.7-7.6l0 9.5 4.7 3.8 6.7 0 0 1.9 3.8 0 0 18.4m-28.9-20.3l18.4 0m-10.4 0l0 5.7 10.2 7.6 0 4.4m1.2-17.7l0 9.5 9.5 0m13.3 0l14.1 0 0 6.5 1.1 1.1 0 5.7m-28.5-13.3l13.3 0m-3.8-11.4l14.3 0 0-5.5-14.3 0m14.3 5.5l1.3 5.7-11.8 0m11.8 0l2.3 1.7 0 4m-10.3 0l0 4.7 10.5 1.4m-3.8-23l-1.3-5.9m1.3 10.4l10.1 0-1 5.5-7.8 0m7.2-11.6l-1.7 3.3 3.3 2.8m-1 5.5l5 6.9-10.5.9m10.5-.9l2.1-1.5 .9-7.4m-5.9-1.6l5.3 0m5.7 1.6l-5.1 0m5.1 0l0 4.9 4.2 1.3 4-4.2 0-3.2m-14.2 8.6l6-2.5m-8.1 4l-.8.9 14.8-.2 11.1 0m-12.8-3.4l1.7 3.4m2.3-7.6l1.9 1.8 7.1 0m-27.4 8.9l8.7 0 4.8 0 7.8 2.1m-17.5-2.1l-.4 8.9m5.3-8.9l1.2 7.6-5 0m5 0l5.7.8m-17.5-4.6l-5.4 0m5.4 0l-.8 3.8 3.6 0m18.9-20.9l9.1 0 3.2 0 0-5.7m-3.2 5.7l-.2 4m3.4-5.4l4.4 0m-.9-4.3l.9 3.8m-4.8 3.8l3.3-.6M1052.2 532l0 11.7 11.4 9.2m7.6-20.9l0 20.9m15.2-20.9l1.2 20.9m12.1-20.9l0 13.6 11.5-7.8m-11.5 7.8l-.3 7.3m29.8-4.8l0 8.6 9.5 3.8m-126.5-28.5l74.2 0m-41.8 0l-7.7-9.6-16.1-7.4m65.6 17l0-8-34.2 0 19-11.1m87.5 19.1l-5.7 9.5 5.7 5.7 13.3 0"/>
<path class="gl" d="M1109.2 474.9 V817.2"/><path class="gl" d="M1280.5 474.9 V817.2"/><path class="gl" d="M1451.8 474.9 V817.2"/><path class="gl" d="M938 560.5 H1623"/><path class="gl" d="M938 646 H1623"/><path class="gl" d="M938 731.6 H1623"/><rect class="fr" x="938" y="474.9" width="685" height="342.3"/>
<text><tspan class="sa" font-size="32.5" x="1225.50" y="457.30" textLength="106.79" lengthAdjust="spacingAndGlyphs">October</tspan></text>
<text><tspan class="se" font-size="34.8" x="859.99" y="568.77" textLength="31.04" lengthAdjust="spacingAndGlyphs">45</tspan><tspan class="se" font-size="33" x="890.30" y="567.57" textLength="13.00" lengthAdjust="spacingAndGlyphs">°</tspan><tspan class="se it" font-size="34.8" x="905.87" y="568.77" textLength="24.85" lengthAdjust="spacingAndGlyphs">N</tspan></text>
<text><tspan class="se" font-size="34.8" x="902.19" y="654.35" textLength="15.23" lengthAdjust="spacingAndGlyphs">0</tspan><tspan class="se" font-size="33" x="917.15" y="653.15" textLength="12.50" lengthAdjust="spacingAndGlyphs">°</tspan></text>
<text><tspan class="se" font-size="34.8" x="866.19" y="739.92" textLength="31.04" lengthAdjust="spacingAndGlyphs">45</tspan><tspan class="se" font-size="33" x="896.50" y="738.72" textLength="13.00" lengthAdjust="spacingAndGlyphs">°</tspan><tspan class="se it" font-size="34.8" x="910.98" y="739.92" textLength="21.25" lengthAdjust="spacingAndGlyphs">S</tspan></text>
<text><tspan class="se" font-size="34.8" x="865.55" y="825.50" textLength="31.70" lengthAdjust="spacingAndGlyphs">90</tspan><tspan class="se" font-size="33" x="896.50" y="824.30" textLength="13.00" lengthAdjust="spacingAndGlyphs">°</tspan><tspan class="se it" font-size="34.8" x="910.98" y="825.50" textLength="21.25" lengthAdjust="spacingAndGlyphs">S</tspan></text>
<text><tspan class="se" font-size="34.8" x="905.03" y="847.60" textLength="46.40" lengthAdjust="spacingAndGlyphs">180</tspan><tspan class="se" font-size="33" x="951.02" y="846.40" textLength="12.75" lengthAdjust="spacingAndGlyphs">°</tspan></text>
<text><tspan class="se" font-size="34.8" x="1070.81" y="847.60" textLength="31.38" lengthAdjust="spacingAndGlyphs">90</tspan><tspan class="se" font-size="33" x="1101.80" y="846.40" textLength="12.50" lengthAdjust="spacingAndGlyphs">°</tspan><tspan class="se it" font-size="34.8" x="1119.83" y="847.60" textLength="32.14" lengthAdjust="spacingAndGlyphs">W</tspan></text>
<text><tspan class="se" font-size="34.8" x="1265.91" y="847.60" textLength="16.48" lengthAdjust="spacingAndGlyphs">0</tspan><tspan class="se" font-size="33" x="1281.38" y="846.40" textLength="12.25" lengthAdjust="spacingAndGlyphs">°</tspan></text>
<text><tspan class="se" font-size="34.8" x="1416.41" y="847.60" textLength="31.38" lengthAdjust="spacingAndGlyphs">90</tspan><tspan class="se" font-size="33" x="1447.40" y="846.40" textLength="12.50" lengthAdjust="spacingAndGlyphs">°</tspan><tspan class="se it" font-size="34.8" x="1463.03" y="847.60" textLength="23.74" lengthAdjust="spacingAndGlyphs">E</tspan></text>
<text><tspan class="se" font-size="34.8" x="1590.03" y="847.60" textLength="46.40" lengthAdjust="spacingAndGlyphs">180</tspan><tspan class="se" font-size="33" x="1636.02" y="846.40" textLength="12.75" lengthAdjust="spacingAndGlyphs">°</tspan></text>
</g>
<defs><linearGradient id="jet" x1="0" y1="0" x2="1" y2="0"><stop offset="0.0000" stop-color="#000080"/><stop offset="0.0312" stop-color="#0000a4"/><stop offset="0.0625" stop-color="#0000c8"/><stop offset="0.0938" stop-color="#0000ed"/><stop offset="0.1250" stop-color="#0000ff"/><stop offset="0.1562" stop-color="#0020ff"/><stop offset="0.1875" stop-color="#0040ff"/><stop offset="0.2188" stop-color="#0060ff"/><stop offset="0.2500" stop-color="#0080ff"/><stop offset="0.2812" stop-color="#00a0ff"/><stop offset="0.3125" stop-color="#00c0ff"/><stop offset="0.3438" stop-color="#00e0fb"/><stop offset="0.3750" stop-color="#16ffe1"/><stop offset="0.4062" stop-color="#30ffc7"/><stop offset="0.4375" stop-color="#49ffad"/><stop offset="0.4688" stop-color="#63ff94"/><stop offset="0.5000" stop-color="#7dff7a"/><stop offset="0.5312" stop-color="#97ff60"/><stop offset="0.5625" stop-color="#b1ff46"/><stop offset="0.5938" stop-color="#caff2c"/><stop offset="0.6250" stop-color="#e4ff13"/><stop offset="0.6562" stop-color="#feed00"/><stop offset="0.6875" stop-color="#ffd000"/><stop offset="0.7188" stop-color="#ffb200"/><stop offset="0.7500" stop-color="#ff9400"/><stop offset="0.7812" stop-color="#ff7700"/><stop offset="0.8125" stop-color="#ff5900"/><stop offset="0.8438" stop-color="#ff3b00"/><stop offset="0.8750" stop-color="#ff1e00"/><stop offset="0.9062" stop-color="#e80000"/><stop offset="0.9375" stop-color="#c40000"/><stop offset="0.9688" stop-color="#9f0000"/><stop offset="1.0000" stop-color="#800000"/></linearGradient></defs>
<rect x="192.6" y="881.4" width="1370.4" height="23.6" fill="url(#jet)" stroke="#000" stroke-width="1.6"/>
<path d="M192.6 905 v5.5" stroke="#000" stroke-width="1.6"/><text><tspan class="se" font-size="34.8" x="171.61" y="940.10" textLength="41.39" lengthAdjust="spacingAndGlyphs">0.0</tspan></text>
<path d="M421 905 v5.5" stroke="#000" stroke-width="1.6"/><text><tspan class="se" font-size="34.8" x="400.01" y="940.10" textLength="41.39" lengthAdjust="spacingAndGlyphs">0.5</tspan></text>
<path d="M649.4 905 v5.5" stroke="#000" stroke-width="1.6"/><text><tspan class="se" font-size="34.8" x="626.64" y="940.10" textLength="43.20" lengthAdjust="spacingAndGlyphs">1.0</tspan></text>
<path d="M877.8 905 v5.5" stroke="#000" stroke-width="1.6"/><text><tspan class="se" font-size="34.8" x="855.04" y="940.10" textLength="43.20" lengthAdjust="spacingAndGlyphs">1.5</tspan></text>
<path d="M1106.2 905 v5.5" stroke="#000" stroke-width="1.6"/><text><tspan class="se" font-size="34.8" x="1084.86" y="940.10" textLength="41.74" lengthAdjust="spacingAndGlyphs">2.0</tspan></text>
<path d="M1334.6 905 v5.5" stroke="#000" stroke-width="1.6"/><text><tspan class="se" font-size="34.8" x="1313.26" y="940.10" textLength="41.74" lengthAdjust="spacingAndGlyphs">2.5</tspan></text>
<path d="M1563 905 v5.5" stroke="#000" stroke-width="1.6"/><text><tspan class="se" font-size="34.8" x="1541.66" y="940.10" textLength="41.74" lengthAdjust="spacingAndGlyphs">3.0</tspan></text>
<text><tspan class="sa" font-size="30.5" x="850.47" y="977.00" textLength="50.94" lengthAdjust="spacingAndGlyphs">ppb</tspan></text>
<g id="box">
<path class="bg" d="M1723 816.5 H1954.5"/><path d="M1955 816.5 h6" stroke="#000" stroke-width="1.6"/><text><tspan class="se" font-size="34.8" x="1965.61" y="828.10" textLength="41.39" lengthAdjust="spacingAndGlyphs">0.0</tspan></text>
<path class="bg" d="M1723 691 H1954.5"/><path d="M1955 691 h6" stroke="#000" stroke-width="1.6"/><text><tspan class="se" font-size="34.8" x="1965.61" y="702.60" textLength="41.39" lengthAdjust="spacingAndGlyphs">0.5</tspan></text>
<path class="bg" d="M1723 565.5 H1954.5"/><path d="M1955 565.5 h6" stroke="#000" stroke-width="1.6"/><text><tspan class="se" font-size="34.8" x="1963.84" y="577.10" textLength="43.20" lengthAdjust="spacingAndGlyphs">1.0</tspan></text>
<path class="bg" d="M1723 440 H1954.5"/><path d="M1955 440 h6" stroke="#000" stroke-width="1.6"/><text><tspan class="se" font-size="34.8" x="1963.84" y="451.60" textLength="43.20" lengthAdjust="spacingAndGlyphs">1.5</tspan></text>
<path class="bg" d="M1723 314.5 H1954.5"/><path d="M1955 314.5 h6" stroke="#000" stroke-width="1.6"/><text><tspan class="se" font-size="34.8" x="1965.26" y="326.10" textLength="41.74" lengthAdjust="spacingAndGlyphs">2.0</tspan></text>
<path class="bg" d="M1723 189 H1954.5"/><path d="M1955 189 h6" stroke="#000" stroke-width="1.6"/><text><tspan class="se" font-size="34.8" x="1965.26" y="200.60" textLength="41.74" lengthAdjust="spacingAndGlyphs">2.5</tspan></text>
<path class="bg" d="M1723 63.5 H1954.5"/><path d="M1955 63.5 h6" stroke="#000" stroke-width="1.6"/><text><tspan class="se" font-size="34.8" x="1965.26" y="75.10" textLength="41.74" lengthAdjust="spacingAndGlyphs">3.0</tspan></text>
<path class="bg" d="M1839.6 63.5 V816.5"/><clipPath id="fc"><rect x="1800" y="62.8" width="80" height="100"/></clipPath><g fill="none" stroke="#000" stroke-width="1.7" clip-path="url(#fc)"><circle cx="1839.6" cy="63.8" r="4.9"/><circle cx="1839.6" cy="65.1" r="4.9"/><circle cx="1839.6" cy="66.2" r="4.9"/><circle cx="1839.6" cy="67.3" r="4.9"/><circle cx="1839.6" cy="68.6" r="4.9"/><circle cx="1839.6" cy="70.4" r="4.9"/><circle cx="1839.6" cy="71.5" r="4.9"/><circle cx="1839.6" cy="73.7" r="4.9"/><circle cx="1839.6" cy="75.2" r="4.9"/><circle cx="1839.6" cy="76.3" r="4.9"/><circle cx="1839.6" cy="77.2" r="4.9"/><circle cx="1839.6" cy="78.3" r="4.9"/><circle cx="1839.6" cy="79.2" r="4.9"/><circle cx="1839.6" cy="81.4" r="4.9"/><circle cx="1839.6" cy="83.2" r="4.9"/><circle cx="1839.6" cy="84.3" r="4.9"/><circle cx="1839.6" cy="85.6" r="4.9"/><circle cx="1839.6" cy="86.9" r="4.9"/><circle cx="1839.6" cy="88.4" r="4.9"/><circle cx="1839.6" cy="90.6" r="4.9"/><circle cx="1839.6" cy="91.7" r="4.9"/><circle cx="1839.6" cy="92.8" r="4.9"/><circle cx="1839.6" cy="95" r="4.9"/><circle cx="1839.6" cy="97.2" r="4.9"/><circle cx="1839.6" cy="98.7" r="4.9"/><circle cx="1839.6" cy="100" r="4.9"/><circle cx="1839.6" cy="101.3" r="4.9"/><circle cx="1839.6" cy="102.8" r="4.9"/><circle cx="1839.6" cy="104.1" r="4.9"/><circle cx="1839.6" cy="105.2" r="4.9"/><circle cx="1839.6" cy="107.4" r="4.9"/><circle cx="1839.6" cy="108.9" r="4.9"/><circle cx="1839.6" cy="109.8" r="4.9"/><circle cx="1839.6" cy="111.3" r="4.9"/><circle cx="1839.6" cy="112.2" r="4.9"/><circle cx="1839.6" cy="113.5" r="4.9"/><circle cx="1839.6" cy="114.6" r="4.9"/><circle cx="1839.6" cy="115.5" r="4.9"/><circle cx="1839.6" cy="117.3" r="4.9"/><circle cx="1839.6" cy="118.2" r="4.9"/><circle cx="1839.6" cy="120" r="4.9"/><circle cx="1839.6" cy="122.2" r="4.9"/><circle cx="1839.6" cy="123.3" r="4.9"/></g>
<path d="M1839.6 125 V499.7 M1839.6 750.5 V816.5" stroke="#1f77b4" stroke-width="1.7" fill="none"/><rect x="1821.8" y="499.7" width="35" height="250.7" stroke="#1f77b4" stroke-width="1.7" fill="none"/><path d="M1822.6 655.4 H1856" stroke="#2ca02c" stroke-width="1.7"/><path d="M1829.5 125 H1849.5 M1829.5 816.5 H1849.5" stroke="#000" stroke-width="1.6" fill="none"/><path d="M1839.6 816.5 v6.5" stroke="#000" stroke-width="1.6"/><text><tspan class="dv" font-size="24.5" x="1765.05" y="53.20" textLength="146.97" lengthAdjust="spacingAndGlyphs">Error spread</tspan></text>
<text class="sa" font-size="29.5" text-anchor="middle" transform="translate(2038.2 442) rotate(-90)">ppb</text>
<text><tspan class="sa" font-size="31.5" x="1682.81" y="852.10" textLength="71.49" lengthAdjust="spacingAndGlyphs">Mean</tspan> <tspan class="sa" font-size="31.5" x="1765.40" y="852.10" textLength="69.25" lengthAdjust="spacingAndGlyphs">value</tspan> <tspan class="sa" font-size="28" x="1843.86" y="853.00" textLength="25.34" lengthAdjust="spacingAndGlyphs">=</tspan> <tspan class="sa" font-size="31.5" x="1880.14" y="852.10" textLength="56.00" lengthAdjust="spacingAndGlyphs">0.98</tspan> <tspan class="sa" font-size="31.5" x="1947.76" y="852.10" textLength="48.49" lengthAdjust="spacingAndGlyphs">ppb</tspan></text>
<text><tspan class="sa" font-size="31.5" x="1732.16" y="887.40" textLength="97.64" lengthAdjust="spacingAndGlyphs">Density</tspan> <tspan class="sa" font-size="28" x="1840.86" y="888.30" textLength="25.34" lengthAdjust="spacingAndGlyphs">=</tspan> <tspan class="sa" font-size="31.5" x="1875.83" y="887.40" textLength="64.81" lengthAdjust="spacingAndGlyphs">5149</tspan></text>
</g>
</svg>
</body></html>
